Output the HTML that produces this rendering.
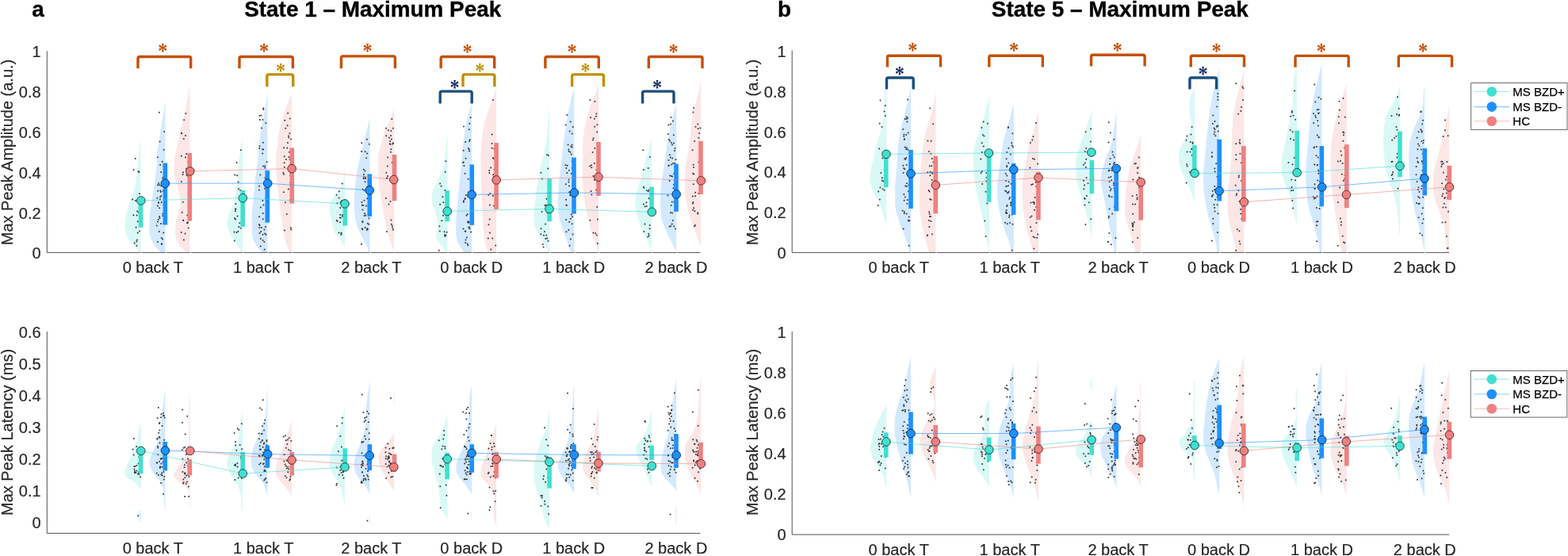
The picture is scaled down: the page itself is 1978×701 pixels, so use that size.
<!DOCTYPE html>
<html lang="en"><head><meta charset="utf-8"><title>State 1 and State 5 Maximum Peak</title>
<style>html,body{margin:0;padding:0;background:#fff}body{width:1978px;height:701px;overflow:hidden}svg{display:block}text{font-family:'Liberation Sans', Arial, Helvetica, sans-serif;fill:#262626}.t{font-size:20px;stroke:#262626;stroke-width:0.18px}.title{font-size:27.9px;font-weight:bold;fill:#000;stroke:#000;stroke-width:0.35px}.lg{font-size:15px;fill:#000;stroke:#000;stroke-width:0.25px}.star{font-family:"Liberation Serif",serif;font-size:27px;text-anchor:middle;font-weight:bold}.ax{stroke:#484848;stroke-width:0.95;fill:none}</style></head><body>
<svg width="1978" height="701" viewBox="0 0 1978 701">
<rect width="1978" height="701" fill="#fff"/>
<text x="48" y="21.2" class="title" text-anchor="middle">a</text>
<text x="989.6" y="21.2" class="title" text-anchor="middle">b</text>
<text x="470.2" y="21.2" class="title" text-anchor="middle">State 1 – Maximum Peak</text>
<text x="1412.8" y="21.2" class="title" text-anchor="middle">State 5 – Maximum Peak</text>
<path class="ax" d="M59.3 64.4 V318.4 H883.4"/>
<path class="ax" d="M59.3 418 V672.4 H883.4"/>
<path class="ax" d="M999.2 63.5 V318.4 H1828.1"/>
<path class="ax" d="M999.2 418 V674 H1828.1"/>
<g id="AT">
<g><path d="M177.6 173.3L177.6 173.3L177.4 174.3L177.3 175.3L177.1 176.3L177 177.3L176.8 178.3L176.7 179.3L176.6 180.3L176.5 181.3L176.3 182.3L176.2 183.3L176.1 184.3L176 185.3L175.9 186.3L175.8 187.3L175.7 188.3L175.6 189.3L175.5 190.3L175.5 191.3L175.4 192.3L175.3 193.3L175.2 194.3L175.1 195.3L175 196.3L174.9 197.3L174.8 198.3L174.7 199.3L174.7 200.3L174.6 201.3L174.5 202.3L174.4 203.3L174.3 204.3L174.2 205.3L174.1 206.3L174 207.3L173.9 208.3L173.8 209.3L173.7 210.3L173.6 211.3L173.5 212.3L173.4 213.3L173.3 214.3L173.2 215.3L173.1 216.3L173 217.3L172.9 218.3L172.7 219.3L172.6 220.3L172.5 221.3L172.3 222.3L172.2 223.3L172 224.3L171.9 225.3L171.7 226.3L171.6 227.3L171.4 228.3L171.2 229.3L171.1 230.3L170.9 231.3L170.7 232.3L170.5 233.3L170.3 234.3L170.1 235.3L169.9 236.3L169.6 237.3L169.4 238.3L169.1 239.3L168.8 240.3L168.5 241.3L168.2 242.3L167.8 243.3L167.5 244.3L167.1 245.3L166.7 246.3L166.3 247.3L166 248.3L165.6 249.3L165.2 250.3L164.8 251.3L164.5 252.3L164.1 253.3L163.8 254.3L163.5 255.3L163.2 256.3L162.9 257.3L162.6 258.3L162.2 259.3L161.9 260.3L161.6 261.3L161.3 262.3L161 263.3L160.7 264.3L160.4 265.3L160.1 266.3L159.9 267.3L159.6 268.3L159.4 269.3L159.1 270.3L158.9 271.3L158.7 272.3L158.5 273.3L158.3 274.3L158.2 275.3L158 276.3L157.8 277.3L157.7 278.3L157.6 279.3L157.4 280.3L157.3 281.3L157.3 282.3L157.2 283.3L157.3 284.3L157.3 285.3L157.4 286.3L157.5 287.3L157.7 288.3L157.9 289.3L158 290.3L158.2 291.3L158.5 292.3L158.7 293.3L159 294.3L159.3 295.3L159.7 296.3L160.1 297.3L160.6 298.3L161.1 299.3L161.7 300.3L162.2 301.3L162.8 302.3L163.5 303.3L164.3 304.3L165.2 305.3L166.1 306.3L167 307.3L168 308.3L168.9 309.3L169.8 310.3L170.6 311.3L171.4 312.3L172.1 313.3L172.8 314.3L173.4 315.3L174.1 316.3L174.7 317.3L175.2 318.1L177.6 318.1 Z" fill="#40e0d0" fill-opacity="0.2"/><path d="M208.7 125.4L208.7 125.4L208.6 126.4L208.5 127.4L208.4 128.4L208.2 129.4L208.1 130.4L208 131.4L207.8 132.4L207.7 133.4L207.5 134.4L207.4 135.4L207.3 136.4L207.1 137.4L207 138.4L206.8 139.4L206.7 140.4L206.5 141.4L206.4 142.4L206.2 143.4L206 144.4L205.9 145.4L205.7 146.4L205.6 147.4L205.4 148.4L205.2 149.4L205.1 150.4L204.9 151.4L204.7 152.4L204.5 153.4L204.3 154.4L204.1 155.4L204 156.4L203.8 157.4L203.6 158.4L203.4 159.4L203.2 160.4L203.1 161.4L202.9 162.4L202.7 163.4L202.6 164.4L202.4 165.4L202.3 166.4L202.2 167.4L202 168.4L201.9 169.4L201.8 170.4L201.6 171.4L201.5 172.4L201.4 173.4L201.2 174.4L201.1 175.4L200.9 176.4L200.8 177.4L200.6 178.4L200.5 179.4L200.3 180.4L200.1 181.4L199.9 182.4L199.7 183.4L199.5 184.4L199.3 185.4L199.1 186.4L199 187.4L198.8 188.4L198.7 189.4L198.6 190.4L198.5 191.4L198.5 192.4L198.4 193.4L198.4 194.4L198.4 195.4L198.4 196.4L198.3 197.4L198.3 198.4L198.3 199.4L198.2 200.4L198.2 201.4L198.1 202.4L198 203.4L198 204.4L197.9 205.4L197.8 206.4L197.7 207.4L197.6 208.4L197.5 209.4L197.4 210.4L197.3 211.4L197.2 212.4L197.1 213.4L197 214.4L196.9 215.4L196.8 216.4L196.7 217.4L196.6 218.4L196.5 219.4L196.4 220.4L196.2 221.4L196.1 222.4L196 223.4L195.8 224.4L195.7 225.4L195.6 226.4L195.4 227.4L195.3 228.4L195.1 229.4L195 230.4L194.8 231.4L194.7 232.4L194.5 233.4L194.4 234.4L194.2 235.4L194.1 236.4L193.9 237.4L193.8 238.4L193.6 239.4L193.5 240.4L193.3 241.4L193.2 242.4L193 243.4L192.9 244.4L192.7 245.4L192.6 246.4L192.4 247.4L192.3 248.4L192.1 249.4L192 250.4L191.8 251.4L191.7 252.4L191.5 253.4L191.4 254.4L191.2 255.4L191.1 256.4L190.9 257.4L190.8 258.4L190.6 259.4L190.4 260.4L190.3 261.4L190.1 262.4L189.9 263.4L189.8 264.4L189.6 265.4L189.5 266.4L189.3 267.4L189.2 268.4L189.1 269.4L189 270.4L188.9 271.4L188.8 272.4L188.8 273.4L188.8 274.4L188.8 275.4L188.7 276.4L188.7 277.4L188.7 278.4L188.7 279.4L188.7 280.4L188.7 281.4L188.6 282.4L188.6 283.4L188.6 284.4L188.6 285.4L188.6 286.4L188.6 287.4L188.6 288.4L188.6 289.4L188.6 290.4L188.6 291.4L188.6 292.4L188.6 293.4L188.7 294.4L188.9 295.4L189.1 296.4L189.4 297.4L189.7 298.4L190 299.4L190.4 300.4L190.8 301.4L191.1 302.4L191.6 303.4L192 304.4L192.6 305.4L193.2 306.4L193.8 307.4L194.5 308.4L195.2 309.4L195.9 310.4L196.6 311.4L197.4 312.4L198.3 313.4L199.2 314.4L200.1 315.4L201.2 316.4L202.2 317.4L203.1 318.1L208.7 318.1 Z" fill="#1e90ff" fill-opacity="0.2"/><path d="M239.7 105.7L239.7 105.7L239.5 106.7L239.4 107.7L239.2 108.7L239 109.7L238.8 110.7L238.7 111.7L238.5 112.7L238.3 113.7L238.1 114.7L237.9 115.7L237.8 116.7L237.6 117.7L237.4 118.7L237.2 119.7L237 120.7L236.8 121.7L236.6 122.7L236.5 123.7L236.3 124.7L236.1 125.7L235.9 126.7L235.7 127.7L235.5 128.7L235.3 129.7L235.1 130.7L234.9 131.7L234.7 132.7L234.6 133.7L234.4 134.7L234.2 135.7L234 136.7L233.8 137.7L233.6 138.7L233.4 139.7L233.2 140.7L233 141.7L232.8 142.7L232.6 143.7L232.4 144.7L232.2 145.7L232 146.7L231.7 147.7L231.5 148.7L231.3 149.7L231.1 150.7L230.8 151.7L230.6 152.7L230.3 153.7L230.1 154.7L229.8 155.7L229.5 156.7L229.3 157.7L229 158.7L228.7 159.7L228.5 160.7L228.2 161.7L228 162.7L227.7 163.7L227.5 164.7L227.3 165.7L227.1 166.7L226.8 167.7L226.6 168.7L226.4 169.7L226.2 170.7L226 171.7L225.8 172.7L225.6 173.7L225.5 174.7L225.3 175.7L225.1 176.7L224.9 177.7L224.7 178.7L224.5 179.7L224.3 180.7L224.1 181.7L223.9 182.7L223.7 183.7L223.4 184.7L223.2 185.7L222.9 186.7L222.7 187.7L222.4 188.7L222.1 189.7L221.9 190.7L221.6 191.7L221.4 192.7L221.1 193.7L220.9 194.7L220.7 195.7L220.5 196.7L220.4 197.7L220.2 198.7L220.1 199.7L220.1 200.7L220 201.7L219.9 202.7L219.9 203.7L219.8 204.7L219.8 205.7L219.7 206.7L219.7 207.7L219.6 208.7L219.6 209.7L219.5 210.7L219.5 211.7L219.5 212.7L219.4 213.7L219.4 214.7L219.4 215.7L219.4 216.7L219.4 217.7L219.4 218.7L219.4 219.7L219.6 220.7L219.8 221.7L220 222.7L220.3 223.7L220.6 224.7L221 225.7L221.3 226.7L221.6 227.7L221.8 228.7L222.1 229.7L222.4 230.7L222.7 231.7L223 232.7L223.4 233.7L223.7 234.7L224 235.7L224.3 236.7L224.5 237.7L224.8 238.7L225.1 239.7L225.4 240.7L225.7 241.7L226 242.7L226.3 243.7L226.5 244.7L226.7 245.7L226.8 246.7L227 247.7L227.1 248.7L227.3 249.7L227.4 250.7L227.5 251.7L227.6 252.7L227.7 253.7L227.7 254.7L227.7 255.7L227.7 256.7L227.6 257.7L227.5 258.7L227.3 259.7L227.1 260.7L226.9 261.7L226.7 262.7L226.5 263.7L226.3 264.7L226.1 265.7L225.8 266.7L225.5 267.7L225.2 268.7L224.8 269.7L224.5 270.7L224.2 271.7L223.9 272.7L223.6 273.7L223.3 274.7L223.1 275.7L222.8 276.7L222.6 277.7L222.4 278.7L222.2 279.7L222 280.7L221.8 281.7L221.7 282.7L221.6 283.7L221.5 284.7L221.4 285.7L221.3 286.7L221.2 287.7L221.2 288.7L221.1 289.7L221.1 290.7L221.1 291.7L221 292.7L221.1 293.7L221.1 294.7L221.2 295.7L221.4 296.7L221.5 297.7L221.7 298.7L222 299.7L222.2 300.7L222.4 301.7L222.7 302.7L223.1 303.7L223.6 304.7L224.1 305.7L224.7 306.7L225.4 307.7L226.1 308.7L226.9 309.7L227.6 310.7L228.4 311.7L229.3 312.7L230.3 313.7L231.3 314.7L232.5 315.7L233.7 316.7L234.9 317.7L235.5 318.1L239.7 318.1 Z" fill="#f08080" fill-opacity="0.2"/><path d="M306.1 171.6L306.1 171.6L306 172.6L305.9 173.6L305.8 174.6L305.6 175.6L305.5 176.6L305.4 177.6L305.2 178.6L305.1 179.6L305 180.6L304.8 181.6L304.7 182.6L304.5 183.6L304.4 184.6L304.2 185.6L304 186.6L303.8 187.6L303.6 188.6L303.4 189.6L303.2 190.6L303 191.6L302.9 192.6L302.7 193.6L302.5 194.6L302.3 195.6L302.2 196.6L302 197.6L301.9 198.6L301.8 199.6L301.7 200.6L301.6 201.6L301.5 202.6L301.4 203.6L301.3 204.6L301.3 205.6L301.2 206.6L301.1 207.6L301.1 208.6L301 209.6L300.9 210.6L300.9 211.6L300.8 212.6L300.8 213.6L300.7 214.6L300.6 215.6L300.6 216.6L300.5 217.6L300.4 218.6L300.3 219.6L300.2 220.6L300.2 221.6L300.1 222.6L300 223.6L299.9 224.6L299.8 225.6L299.7 226.6L299.6 227.6L299.5 228.6L299.4 229.6L299.3 230.6L299.2 231.6L299.1 232.6L299 233.6L298.9 234.6L298.8 235.6L298.6 236.6L298.5 237.6L298.4 238.6L298.2 239.6L298.1 240.6L297.9 241.6L297.7 242.6L297.6 243.6L297.4 244.6L297.2 245.6L297 246.6L296.8 247.6L296.6 248.6L296.4 249.6L296.1 250.6L295.9 251.6L295.7 252.6L295.4 253.6L295.1 254.6L294.9 255.6L294.6 256.6L294.2 257.6L293.8 258.6L293.4 259.6L293 260.6L292.6 261.6L292.1 262.6L291.7 263.6L291.3 264.6L290.9 265.6L290.4 266.6L289.9 267.6L289.5 268.6L289 269.6L288.6 270.6L288.2 271.6L287.8 272.6L287.5 273.6L287.4 274.6L287.2 275.6L287.1 276.6L286.9 277.6L286.8 278.6L286.7 279.6L286.6 280.6L286.6 281.6L286.5 282.6L286.5 283.6L286.6 284.6L286.7 285.6L287 286.6L287.3 287.6L287.6 288.6L288 289.6L288.4 290.6L288.8 291.6L289.2 292.6L289.7 293.6L290.2 294.6L290.7 295.6L291.3 296.6L291.9 297.6L292.6 298.6L293.3 299.6L293.9 300.6L294.6 301.6L295.2 302.6L295.9 303.6L296.5 304.6L297.2 305.6L297.9 306.6L298.6 307.6L299.3 308.6L299.9 309.6L300.5 310.6L301.1 311.6L301.7 312.6L302.3 313.6L302.8 314.6L303.4 315.6L303.9 316.6L304.4 317.6L304.7 318.1L306.1 318.1 Z" fill="#40e0d0" fill-opacity="0.2"/><path d="M337.6 115.9L337.6 115.9L337.5 116.9L337.3 117.9L337.1 118.9L337 119.9L336.8 120.9L336.6 121.9L336.5 122.9L336.3 123.9L336.1 124.9L336 125.9L335.8 126.9L335.7 127.9L335.5 128.9L335.3 129.9L335.2 130.9L335 131.9L334.9 132.9L334.7 133.9L334.6 134.9L334.4 135.9L334.3 136.9L334.2 137.9L334 138.9L333.9 139.9L333.7 140.9L333.6 141.9L333.4 142.9L333.3 143.9L333.1 144.9L333 145.9L332.8 146.9L332.6 147.9L332.5 148.9L332.3 149.9L332.1 150.9L331.9 151.9L331.7 152.9L331.5 153.9L331.3 154.9L331.1 155.9L330.9 156.9L330.7 157.9L330.4 158.9L330.2 159.9L330 160.9L329.8 161.9L329.6 162.9L329.4 163.9L329.2 164.9L329.1 165.9L328.9 166.9L328.7 167.9L328.6 168.9L328.4 169.9L328.2 170.9L328 171.9L327.9 172.9L327.7 173.9L327.6 174.9L327.4 175.9L327.3 176.9L327.1 177.9L327 178.9L326.9 179.9L326.7 180.9L326.6 181.9L326.5 182.9L326.5 183.9L326.4 184.9L326.3 185.9L326.3 186.9L326.2 187.9L326.1 188.9L326.1 189.9L326 190.9L326 191.9L325.9 192.9L325.9 193.9L325.8 194.9L325.7 195.9L325.7 196.9L325.6 197.9L325.5 198.9L325.5 199.9L325.4 200.9L325.3 201.9L325.1 202.9L325 203.9L324.9 204.9L324.7 205.9L324.6 206.9L324.4 207.9L324.3 208.9L324.1 209.9L324 210.9L323.8 211.9L323.7 212.9L323.5 213.9L323.3 214.9L323.2 215.9L323.1 216.9L322.9 217.9L322.8 218.9L322.7 219.9L322.6 220.9L322.4 221.9L322.3 222.9L322.2 223.9L322.1 224.9L322 225.9L321.9 226.9L321.8 227.9L321.7 228.9L321.5 229.9L321.4 230.9L321.3 231.9L321.2 232.9L321.1 233.9L321 234.9L320.9 235.9L320.8 236.9L320.7 237.9L320.6 238.9L320.5 239.9L320.4 240.9L320.3 241.9L320.3 242.9L320.2 243.9L320.1 244.9L320 245.9L319.9 246.9L319.8 247.9L319.7 248.9L319.6 249.9L319.5 250.9L319.5 251.9L319.4 252.9L319.3 253.9L319.2 254.9L319.1 255.9L319 256.9L318.9 257.9L318.8 258.9L318.7 259.9L318.6 260.9L318.5 261.9L318.4 262.9L318.3 263.9L318.2 264.9L318.1 265.9L318 266.9L317.9 267.9L317.9 268.9L317.8 269.9L317.7 270.9L317.7 271.9L317.7 272.9L317.7 273.9L317.7 274.9L317.7 275.9L317.7 276.9L317.7 277.9L317.7 278.9L317.7 279.9L317.7 280.9L317.7 281.9L317.7 282.9L317.7 283.9L317.7 284.9L317.7 285.9L317.7 286.9L317.7 287.9L317.7 288.9L317.7 289.9L317.7 290.9L317.7 291.9L317.7 292.9L317.7 293.9L317.8 294.9L318 295.9L318.2 296.9L318.4 297.9L318.6 298.9L318.9 299.9L319.2 300.9L319.5 301.9L319.8 302.9L320.2 303.9L320.7 304.9L321.2 305.9L321.7 306.9L322.3 307.9L323 308.9L323.6 309.9L324.3 310.9L325 311.9L325.8 312.9L326.7 313.9L327.6 314.9L328.7 315.9L329.7 316.9L330.8 317.9L331 318.1L337.6 318.1 Z" fill="#1e90ff" fill-opacity="0.2"/><path d="M368.2 117.7L368.2 117.7L367.8 118.7L367.3 119.7L366.9 120.7L366.5 121.7L366 122.7L365.6 123.7L365.2 124.7L364.8 125.7L364.4 126.7L364 127.7L363.6 128.7L363.2 129.7L362.8 130.7L362.4 131.7L362 132.7L361.6 133.7L361.3 134.7L360.9 135.7L360.5 136.7L360.1 137.7L359.8 138.7L359.4 139.7L359.1 140.7L358.7 141.7L358.4 142.7L358 143.7L357.7 144.7L357.4 145.7L357.1 146.7L356.8 147.7L356.5 148.7L356.2 149.7L355.9 150.7L355.6 151.7L355.3 152.7L355 153.7L354.7 154.7L354.5 155.7L354.2 156.7L353.9 157.7L353.7 158.7L353.4 159.7L353.2 160.7L353 161.7L352.8 162.7L352.6 163.7L352.4 164.7L352.2 165.7L352.1 166.7L351.9 167.7L351.8 168.7L351.7 169.7L351.5 170.7L351.4 171.7L351.3 172.7L351.2 173.7L351.1 174.7L351 175.7L350.9 176.7L350.8 177.7L350.6 178.7L350.5 179.7L350.4 180.7L350.3 181.7L350.2 182.7L350.1 183.7L349.9 184.7L349.8 185.7L349.6 186.7L349.5 187.7L349.3 188.7L349.1 189.7L349 190.7L348.8 191.7L348.7 192.7L348.5 193.7L348.4 194.7L348.3 195.7L348.2 196.7L348.1 197.7L348.1 198.7L348.1 199.7L348.1 200.7L348.1 201.7L348.1 202.7L348.1 203.7L348.1 204.7L348.1 205.7L348.2 206.7L348.2 207.7L348.2 208.7L348.3 209.7L348.3 210.7L348.3 211.7L348.4 212.7L348.4 213.7L348.5 214.7L348.5 215.7L348.5 216.7L348.6 217.7L348.6 218.7L348.7 219.7L348.8 220.7L348.8 221.7L348.9 222.7L349 223.7L349.1 224.7L349.2 225.7L349.3 226.7L349.4 227.7L349.5 228.7L349.6 229.7L349.7 230.7L349.9 231.7L350 232.7L350.1 233.7L350.2 234.7L350.3 235.7L350.4 236.7L350.5 237.7L350.7 238.7L350.8 239.7L350.9 240.7L351 241.7L351.1 242.7L351.2 243.7L351.4 244.7L351.5 245.7L351.6 246.7L351.7 247.7L351.8 248.7L352 249.7L352.1 250.7L352.2 251.7L352.3 252.7L352.5 253.7L352.6 254.7L352.7 255.7L352.8 256.7L353 257.7L353.1 258.7L353.2 259.7L353.3 260.7L353.5 261.7L353.6 262.7L353.7 263.7L353.8 264.7L354 265.7L354.1 266.7L354.2 267.7L354.4 268.7L354.5 269.7L354.6 270.7L354.8 271.7L354.9 272.7L355 273.7L355.2 274.7L355.3 275.7L355.5 276.7L355.6 277.7L355.7 278.7L355.9 279.7L356 280.7L356.1 281.7L356.3 282.7L356.4 283.7L356.6 284.7L356.7 285.7L356.9 286.7L357 287.7L357.2 288.7L357.4 289.7L357.5 290.7L357.7 291.7L357.9 292.7L358.1 293.7L358.3 294.7L358.5 295.7L358.7 296.7L358.8 297.7L359.1 298.7L359.3 299.7L359.5 300.7L359.7 301.7L359.9 302.7L360.2 303.7L360.4 304.7L360.7 305.7L361 306.7L361.3 307.7L361.6 308.7L362 309.7L362.3 310.7L362.7 311.7L363.1 312.7L363.7 313.7L364.3 314.7L364.9 315.7L365.6 316.7L366.3 317.7L366.6 318.1L368.2 318.1 Z" fill="#f08080" fill-opacity="0.2"/><path d="M435.2 198.1L435.2 198.1L435.2 199.1L435.2 200.1L435.2 201.1L435.2 202.1L435.2 203.1L435.2 204.1L435.2 205.1L435.2 206.1L435.2 207.1L435.2 208.1L435.2 209.1L435.2 210.1L435.1 211.1L435 212.1L434.8 213.1L434.6 214.1L434.5 215.1L434.3 216.1L434.1 217.1L434 218.1L433.9 219.1L433.8 220.1L433.7 221.1L433.7 222.1L433.6 223.1L433.5 224.1L433.4 225.1L433.4 226.1L433.3 227.1L433.1 228.1L433 229.1L432.7 230.1L432.5 231.1L432.1 232.1L431.7 233.1L431.3 234.1L430.8 235.1L430.4 236.1L429.8 237.1L429.1 238.1L428.4 239.1L427.6 240.1L426.9 241.1L426.1 242.1L425.3 243.1L424.6 244.1L423.8 245.1L423 246.1L422.2 247.1L421.4 248.1L420.6 249.1L419.9 250.1L419.1 251.1L418.3 252.1L417.6 253.1L416.9 254.1L416.5 255.1L416.2 256.1L416 257.1L415.8 258.1L415.7 259.1L415.5 260.1L415.4 261.1L415.3 262.1L415.3 263.1L415.2 264.1L415.2 265.1L415.3 266.1L415.5 267.1L415.7 268.1L416 269.1L416.3 270.1L416.7 271.1L417 272.1L417.3 273.1L417.6 274.1L417.8 275.1L418 276.1L418.2 277.1L418.4 278.1L418.6 279.1L418.8 280.1L419 281.1L419.2 282.1L419.4 283.1L419.6 284.1L419.9 285.1L420.1 286.1L420.4 287.1L420.7 288.1L421 289.1L421.3 290.1L421.6 291.1L422 292.1L422.4 293.1L422.9 294.1L423.6 295.1L424.2 296.1L425 297.1L425.8 298.1L426.5 299.1L427.3 300.1L428.1 301.1L428.8 302.1L429.5 303.1L430.2 304.1L430.9 305.1L431.6 306.1L432.3 307.1L433 308.1L433.7 309.1L434.4 310.1L435.1 311.1L435.2 311.3L435.2 311.3 Z" fill="#40e0d0" fill-opacity="0.2"/><path d="M466.7 147.6L466.7 147.6L466.5 148.6L466.2 149.6L466 150.6L465.8 151.6L465.6 152.6L465.3 153.6L465.1 154.6L464.9 155.6L464.6 156.6L464.4 157.6L464.1 158.6L463.9 159.6L463.7 160.6L463.4 161.6L463.2 162.6L463 163.6L462.7 164.6L462.5 165.6L462.2 166.6L462 167.6L461.7 168.6L461.5 169.6L461.2 170.6L461 171.6L460.7 172.6L460.5 173.6L460.2 174.6L460 175.6L459.7 176.6L459.5 177.6L459.2 178.6L459 179.6L458.7 180.6L458.5 181.6L458.2 182.6L458 183.6L457.7 184.6L457.4 185.6L457.2 186.6L456.9 187.6L456.7 188.6L456.4 189.6L456.1 190.6L455.9 191.6L455.6 192.6L455.3 193.6L455.1 194.6L454.8 195.6L454.6 196.6L454.3 197.6L454.1 198.6L453.9 199.6L453.6 200.6L453.4 201.6L453.2 202.6L453 203.6L452.8 204.6L452.5 205.6L452.3 206.6L452.1 207.6L451.9 208.6L451.7 209.6L451.5 210.6L451.3 211.6L451.1 212.6L450.9 213.6L450.7 214.6L450.5 215.6L450.4 216.6L450.2 217.6L450.1 218.6L449.9 219.6L449.8 220.6L449.6 221.6L449.5 222.6L449.3 223.6L449.2 224.6L449.1 225.6L448.9 226.6L448.8 227.6L448.7 228.6L448.6 229.6L448.5 230.6L448.4 231.6L448.3 232.6L448.2 233.6L448.1 234.6L448 235.6L447.9 236.6L447.8 237.6L447.7 238.6L447.6 239.6L447.6 240.6L447.5 241.6L447.4 242.6L447.3 243.6L447.2 244.6L447.2 245.6L447.1 246.6L447 247.6L447 248.6L446.9 249.6L446.9 250.6L446.8 251.6L446.8 252.6L446.8 253.6L446.7 254.6L446.7 255.6L446.7 256.6L446.7 257.6L446.8 258.6L446.8 259.6L446.8 260.6L446.9 261.6L446.9 262.6L447 263.6L447 264.6L447.1 265.6L447.2 266.6L447.2 267.6L447.3 268.6L447.4 269.6L447.5 270.6L447.6 271.6L447.7 272.6L447.8 273.6L447.9 274.6L448 275.6L448.2 276.6L448.4 277.6L448.7 278.6L448.9 279.6L449.2 280.6L449.5 281.6L449.8 282.6L450.1 283.6L450.4 284.6L450.8 285.6L451.2 286.6L451.6 287.6L452 288.6L452.4 289.6L452.8 290.6L453.3 291.6L453.7 292.6L454.2 293.6L454.7 294.6L455.1 295.6L455.7 296.6L456.2 297.6L456.7 298.6L457.2 299.6L457.7 300.6L458.2 301.6L458.7 302.6L459.2 303.6L459.8 304.6L460.3 305.6L460.9 306.6L461.4 307.6L461.9 308.6L462.3 309.6L462.8 310.6L463.2 311.6L463.6 312.6L463.9 313.6L464.3 314.6L464.6 315.6L464.9 316.6L465.1 317.6L465.3 318.1L466.7 318.1 Z" fill="#1e90ff" fill-opacity="0.2"/><path d="M497.3 133.1L497.3 133.1L497.1 134.1L496.9 135.1L496.7 136.1L496.5 137.1L496.3 138.1L496 139.1L495.8 140.1L495.5 141.1L495.2 142.1L495 143.1L494.7 144.1L494.4 145.1L494.1 146.1L493.7 147.1L493.4 148.1L493.1 149.1L492.7 150.1L492.3 151.1L491.9 152.1L491.4 153.1L491 154.1L490.5 155.1L490 156.1L489.5 157.1L489 158.1L488.5 159.1L488 160.1L487.5 161.1L487 162.1L486.6 163.1L486.2 164.1L485.8 165.1L485.4 166.1L485.1 167.1L484.7 168.1L484.4 169.1L484 170.1L483.7 171.1L483.4 172.1L483.1 173.1L482.8 174.1L482.5 175.1L482.2 176.1L481.9 177.1L481.6 178.1L481.4 179.1L481.1 180.1L480.9 181.1L480.6 182.1L480.4 183.1L480.1 184.1L479.8 185.1L479.6 186.1L479.3 187.1L479 188.1L478.8 189.1L478.5 190.1L478.3 191.1L478 192.1L477.8 193.1L477.6 194.1L477.4 195.1L477.3 196.1L477.1 197.1L477 198.1L477 199.1L477 200.1L477 201.1L477 202.1L477 203.1L477 204.1L477 205.1L477 206.1L477 207.1L477 208.1L477.1 209.1L477.1 210.1L477.1 211.1L477.1 212.1L477.2 213.1L477.2 214.1L477.2 215.1L477.3 216.1L477.3 217.1L477.3 218.1L477.3 219.1L477.4 220.1L477.4 221.1L477.5 222.1L477.5 223.1L477.6 224.1L477.7 225.1L477.8 226.1L477.8 227.1L477.9 228.1L478 229.1L478.1 230.1L478.2 231.1L478.3 232.1L478.4 233.1L478.5 234.1L478.6 235.1L478.7 236.1L478.8 237.1L478.9 238.1L479 239.1L479.2 240.1L479.3 241.1L479.4 242.1L479.6 243.1L479.7 244.1L479.9 245.1L480 246.1L480.2 247.1L480.3 248.1L480.5 249.1L480.7 250.1L480.8 251.1L481 252.1L481.2 253.1L481.3 254.1L481.5 255.1L481.7 256.1L481.8 257.1L482 258.1L482.2 259.1L482.3 260.1L482.5 261.1L482.7 262.1L482.9 263.1L483 264.1L483.2 265.1L483.4 266.1L483.6 267.1L483.8 268.1L483.9 269.1L484.1 270.1L484.3 271.1L484.5 272.1L484.7 273.1L484.9 274.1L485.1 275.1L485.3 276.1L485.5 277.1L485.7 278.1L485.9 279.1L486.1 280.1L486.3 281.1L486.5 282.1L486.8 283.1L487 284.1L487.2 285.1L487.4 286.1L487.6 287.1L487.9 288.1L488.1 289.1L488.3 290.1L488.6 291.1L488.8 292.1L489.1 293.1L489.4 294.1L489.7 295.1L489.9 296.1L490.2 297.1L490.6 298.1L490.9 299.1L491.2 300.1L491.5 301.1L491.8 302.1L492.1 303.1L492.4 304.1L492.8 305.1L493.1 306.1L493.4 307.1L493.7 308.1L494.1 309.1L494.5 310.1L494.9 311.1L495.3 312.1L495.8 313.1L496.3 314.1L496.8 315.1L497.3 315.9L497.3 315.9 Z" fill="#f08080" fill-opacity="0.2"/><path d="M564.6 167.3L564.6 167.3L564.5 168.3L564.3 169.3L564.2 170.3L564 171.3L563.9 172.3L563.8 173.3L563.6 174.3L563.5 175.3L563.4 176.3L563.2 177.3L563.1 178.3L563 179.3L562.9 180.3L562.8 181.3L562.7 182.3L562.5 183.3L562.4 184.3L562.3 185.3L562.2 186.3L562.2 187.3L562.1 188.3L562 189.3L561.9 190.3L561.8 191.3L561.7 192.3L561.6 193.3L561.6 194.3L561.5 195.3L561.4 196.3L561.3 197.3L561.2 198.3L561.1 199.3L560.9 200.3L560.8 201.3L560.7 202.3L560.5 203.3L560.4 204.3L560.2 205.3L560.1 206.3L559.9 207.3L559.7 208.3L559.5 209.3L559.3 210.3L559 211.3L558.8 212.3L558.5 213.3L558.2 214.3L557.9 215.3L557.5 216.3L557.2 217.3L556.8 218.3L556.4 219.3L556 220.3L555.5 221.3L555 222.3L554.5 223.3L553.9 224.3L553.4 225.3L552.9 226.3L552.3 227.3L551.8 228.3L551.3 229.3L550.8 230.3L550.2 231.3L549.7 232.3L549.2 233.3L548.7 234.3L548.2 235.3L547.7 236.3L547.4 237.3L547 238.3L546.6 239.3L546.2 240.3L545.8 241.3L545.4 242.3L545.1 243.3L544.9 244.3L544.7 245.3L544.7 246.3L544.7 247.3L544.7 248.3L544.7 249.3L544.7 250.3L544.8 251.3L544.8 252.3L544.9 253.3L544.9 254.3L545 255.3L545.1 256.3L545.3 257.3L545.6 258.3L546 259.3L546.4 260.3L546.9 261.3L547.3 262.3L547.7 263.3L548.1 264.3L548.5 265.3L548.8 266.3L549.2 267.3L549.5 268.3L549.8 269.3L550.1 270.3L550.4 271.3L550.7 272.3L551 273.3L551.2 274.3L551.4 275.3L551.6 276.3L551.7 277.3L551.9 278.3L552.1 279.3L552.2 280.3L552.3 281.3L552.4 282.3L552.4 283.3L552.4 284.3L552.4 285.3L552.3 286.3L552.1 287.3L552 288.3L551.8 289.3L551.6 290.3L551.4 291.3L551.2 292.3L551 293.3L550.7 294.3L550.4 295.3L550.1 296.3L549.9 297.3L549.8 298.3L550 299.3L550.3 300.3L550.8 301.3L551.5 302.3L552.2 303.3L552.9 304.3L553.6 305.3L554.3 306.3L555.1 307.3L556 308.3L556.9 309.3L557.8 310.3L558.6 311.3L559.3 312.3L560 313.3L560.7 314.3L561.4 315.3L562.1 316.3L562.7 317.3L563.2 318.1L564.6 318.1 Z" fill="#40e0d0" fill-opacity="0.2"/><path d="M595.2 129.6L595.2 129.6L594.9 130.6L594.6 131.6L594.3 132.6L594 133.6L593.7 134.6L593.4 135.6L593.1 136.6L592.8 137.6L592.5 138.6L592.2 139.6L592 140.6L591.7 141.6L591.4 142.6L591.2 143.6L590.9 144.6L590.7 145.6L590.4 146.6L590.2 147.6L590 148.6L589.7 149.6L589.5 150.6L589.3 151.6L589.1 152.6L588.8 153.6L588.6 154.6L588.4 155.6L588.2 156.6L588 157.6L587.8 158.6L587.6 159.6L587.5 160.6L587.3 161.6L587.1 162.6L586.9 163.6L586.7 164.6L586.6 165.6L586.4 166.6L586.2 167.6L586 168.6L585.9 169.6L585.7 170.6L585.5 171.6L585.4 172.6L585.2 173.6L585.1 174.6L584.9 175.6L584.8 176.6L584.6 177.6L584.5 178.6L584.4 179.6L584.2 180.6L584.1 181.6L584 182.6L583.9 183.6L583.8 184.6L583.7 185.6L583.6 186.6L583.6 187.6L583.5 188.6L583.4 189.6L583.4 190.6L583.3 191.6L583.2 192.6L583.1 193.6L583.1 194.6L583 195.6L582.9 196.6L582.9 197.6L582.8 198.6L582.7 199.6L582.6 200.6L582.5 201.6L582.4 202.6L582.3 203.6L582.2 204.6L582.1 205.6L582 206.6L581.9 207.6L581.8 208.6L581.7 209.6L581.6 210.6L581.5 211.6L581.4 212.6L581.3 213.6L581.2 214.6L581.1 215.6L581 216.6L580.9 217.6L580.8 218.6L580.7 219.6L580.6 220.6L580.5 221.6L580.4 222.6L580.3 223.6L580.2 224.6L580.1 225.6L580 226.6L579.9 227.6L579.8 228.6L579.7 229.6L579.6 230.6L579.5 231.6L579.4 232.6L579.3 233.6L579.2 234.6L579.1 235.6L579 236.6L578.9 237.6L578.8 238.6L578.7 239.6L578.6 240.6L578.5 241.6L578.4 242.6L578.3 243.6L578.2 244.6L578.1 245.6L578 246.6L577.9 247.6L577.8 248.6L577.7 249.6L577.6 250.6L577.5 251.6L577.4 252.6L577.3 253.6L577.2 254.6L577.1 255.6L577 256.6L576.9 257.6L576.8 258.6L576.7 259.6L576.6 260.6L576.5 261.6L576.4 262.6L576.3 263.6L576.3 264.6L576.2 265.6L576.1 266.6L576 267.6L575.9 268.6L575.9 269.6L575.8 270.6L575.7 271.6L575.7 272.6L575.6 273.6L575.6 274.6L575.6 275.6L575.5 276.6L575.5 277.6L575.5 278.6L575.5 279.6L575.4 280.6L575.4 281.6L575.4 282.6L575.4 283.6L575.3 284.6L575.3 285.6L575.3 286.6L575.3 287.6L575.3 288.6L575.3 289.6L575.3 290.6L575.3 291.6L575.2 292.6L575.3 293.6L575.3 294.6L575.4 295.6L575.4 296.6L575.6 297.6L575.7 298.6L575.8 299.6L576 300.6L576.1 301.6L576.3 302.6L576.6 303.6L577 304.6L577.5 305.6L578 306.6L578.6 307.6L579.2 308.6L579.8 309.6L580.4 310.6L581 311.6L581.6 312.6L582.3 313.6L582.9 314.6L583.6 315.6L584.3 316.6L585.1 317.6L585.4 318.1L595.2 318.1 Z" fill="#1e90ff" fill-opacity="0.2"/><path d="M626.4 109.1L626.4 109.1L626.1 110.1L625.7 111.1L625.4 112.1L625.1 113.1L624.8 114.1L624.5 115.1L624.1 116.1L623.8 117.1L623.5 118.1L623.2 119.1L622.8 120.1L622.5 121.1L622.2 122.1L621.9 123.1L621.5 124.1L621.2 125.1L620.9 126.1L620.5 127.1L620.2 128.1L619.9 129.1L619.5 130.1L619.2 131.1L618.8 132.1L618.5 133.1L618.1 134.1L617.8 135.1L617.4 136.1L617 137.1L616.6 138.1L616.3 139.1L615.9 140.1L615.5 141.1L615.2 142.1L614.8 143.1L614.5 144.1L614.1 145.1L613.8 146.1L613.5 147.1L613.2 148.1L612.9 149.1L612.7 150.1L612.4 151.1L612.1 152.1L611.9 153.1L611.6 154.1L611.3 155.1L611.1 156.1L610.9 157.1L610.6 158.1L610.4 159.1L610.2 160.1L610 161.1L609.8 162.1L609.6 163.1L609.4 164.1L609.2 165.1L609.1 166.1L608.9 167.1L608.8 168.1L608.6 169.1L608.5 170.1L608.3 171.1L608.2 172.1L608.1 173.1L608 174.1L607.8 175.1L607.7 176.1L607.6 177.1L607.5 178.1L607.4 179.1L607.3 180.1L607.2 181.1L607.2 182.1L607.1 183.1L607 184.1L606.9 185.1L606.9 186.1L606.8 187.1L606.7 188.1L606.7 189.1L606.6 190.1L606.5 191.1L606.5 192.1L606.4 193.1L606.4 194.1L606.3 195.1L606.3 196.1L606.3 197.1L606.2 198.1L606.2 199.1L606.2 200.1L606.2 201.1L606.2 202.1L606.2 203.1L606.2 204.1L606.2 205.1L606.2 206.1L606.3 207.1L606.3 208.1L606.3 209.1L606.3 210.1L606.3 211.1L606.3 212.1L606.3 213.1L606.3 214.1L606.4 215.1L606.4 216.1L606.4 217.1L606.4 218.1L606.4 219.1L606.4 220.1L606.5 221.1L606.5 222.1L606.5 223.1L606.6 224.1L606.6 225.1L606.6 226.1L606.7 227.1L606.7 228.1L606.8 229.1L606.8 230.1L606.9 231.1L606.9 232.1L607 233.1L607 234.1L607.1 235.1L607.1 236.1L607.1 237.1L607.2 238.1L607.2 239.1L607.3 240.1L607.3 241.1L607.4 242.1L607.4 243.1L607.5 244.1L607.5 245.1L607.6 246.1L607.6 247.1L607.7 248.1L607.7 249.1L607.8 250.1L607.8 251.1L607.9 252.1L607.9 253.1L608 254.1L608 255.1L608.1 256.1L608.1 257.1L608.2 258.1L608.2 259.1L608.3 260.1L608.3 261.1L608.4 262.1L608.4 263.1L608.5 264.1L608.5 265.1L608.6 266.1L608.6 267.1L608.7 268.1L608.7 269.1L608.8 270.1L608.8 271.1L608.9 272.1L608.9 273.1L609 274.1L609.1 275.1L609.1 276.1L609.2 277.1L609.2 278.1L609.3 279.1L609.3 280.1L609.4 281.1L609.4 282.1L609.5 283.1L609.5 284.1L609.6 285.1L609.7 286.1L609.7 287.1L609.8 288.1L609.9 289.1L609.9 290.1L610 291.1L610.1 292.1L610.1 293.1L610.2 294.1L610.3 295.1L610.4 296.1L610.5 297.1L610.6 298.1L610.7 299.1L610.8 300.1L610.9 301.1L611.1 302.1L611.2 303.1L611.4 304.1L611.6 305.1L611.8 306.1L612.1 307.1L612.3 308.1L612.6 309.1L612.9 310.1L613.2 311.1L613.5 312.1L613.9 313.1L614.3 314.1L614.7 315.1L615.1 316.1L615.6 317.1L616 318.1L616 318.1L626.4 318.1 Z" fill="#f08080" fill-opacity="0.2"/><path d="M693.3 131.3L693.3 131.3L693.2 132.3L693.1 133.3L693 134.3L692.9 135.3L692.8 136.3L692.7 137.3L692.6 138.3L692.5 139.3L692.4 140.3L692.3 141.3L692.2 142.3L692.1 143.3L692 144.3L691.9 145.3L691.8 146.3L691.8 147.3L691.7 148.3L691.6 149.3L691.5 150.3L691.4 151.3L691.4 152.3L691.3 153.3L691.3 154.3L691.2 155.3L691.1 156.3L691.1 157.3L691 158.3L690.9 159.3L690.9 160.3L690.8 161.3L690.7 162.3L690.7 163.3L690.6 164.3L690.5 165.3L690.4 166.3L690.3 167.3L690.2 168.3L690.1 169.3L690 170.3L689.9 171.3L689.7 172.3L689.6 173.3L689.5 174.3L689.3 175.3L689.2 176.3L689.1 177.3L688.9 178.3L688.8 179.3L688.6 180.3L688.5 181.3L688.3 182.3L688.1 183.3L688 184.3L687.8 185.3L687.6 186.3L687.4 187.3L687.2 188.3L686.9 189.3L686.7 190.3L686.5 191.3L686.3 192.3L686 193.3L685.8 194.3L685.5 195.3L685.3 196.3L685.1 197.3L684.8 198.3L684.6 199.3L684.4 200.3L684.2 201.3L684 202.3L683.7 203.3L683.5 204.3L683.3 205.3L683.1 206.3L682.8 207.3L682.6 208.3L682.4 209.3L682.2 210.3L681.9 211.3L681.7 212.3L681.5 213.3L681.3 214.3L681.1 215.3L680.9 216.3L680.7 217.3L680.5 218.3L680.3 219.3L680.2 220.3L680 221.3L679.8 222.3L679.6 223.3L679.4 224.3L679.2 225.3L679 226.3L678.8 227.3L678.6 228.3L678.4 229.3L678.2 230.3L677.9 231.3L677.7 232.3L677.5 233.3L677.3 234.3L677.1 235.3L677 236.3L676.8 237.3L676.7 238.3L676.6 239.3L676.5 240.3L676.4 241.3L676.3 242.3L676.2 243.3L676.1 244.3L676 245.3L675.9 246.3L675.8 247.3L675.7 248.3L675.6 249.3L675.5 250.3L675.4 251.3L675.3 252.3L675.1 253.3L675 254.3L674.8 255.3L674.7 256.3L674.5 257.3L674.4 258.3L674.3 259.3L674.2 260.3L674.1 261.3L674 262.3L673.9 263.3L673.8 264.3L673.7 265.3L673.6 266.3L673.5 267.3L673.4 268.3L673.4 269.3L673.3 270.3L673.2 271.3L673.2 272.3L673.2 273.3L673.2 274.3L673.2 275.3L673.2 276.3L673.3 277.3L673.3 278.3L673.4 279.3L673.5 280.3L673.6 281.3L673.8 282.3L673.9 283.3L674.1 284.3L674.3 285.3L674.7 286.3L675 287.3L675.5 288.3L676 289.3L676.4 290.3L676.9 291.3L677.4 292.3L677.9 293.3L678.5 294.3L679 295.3L679.6 296.3L680.3 297.3L680.9 298.3L681.5 299.3L682.2 300.3L682.8 301.3L683.4 302.3L684 303.3L684.6 304.3L685.3 305.3L685.9 306.3L686.5 307.3L687.1 308.3L687.7 309.3L688.3 310.3L688.8 311.3L689.3 312.3L689.8 313.3L690.3 314.3L690.7 315.3L691.2 316.3L691.6 317.3L691.9 318.1L693.3 318.1 Z" fill="#40e0d0" fill-opacity="0.2"/><path d="M724.5 110L724.5 110L724.2 111L723.9 112L723.6 113L723.4 114L723.1 115L722.8 116L722.6 117L722.3 118L722 119L721.8 120L721.5 121L721.3 122L721 123L720.8 124L720.5 125L720.3 126L720.1 127L719.8 128L719.6 129L719.4 130L719.1 131L718.9 132L718.7 133L718.5 134L718.3 135L718.1 136L717.9 137L717.6 138L717.4 139L717.2 140L717.1 141L716.9 142L716.7 143L716.5 144L716.3 145L716.1 146L715.9 147L715.7 148L715.5 149L715.4 150L715.2 151L715 152L714.8 153L714.6 154L714.5 155L714.3 156L714.1 157L713.9 158L713.8 159L713.6 160L713.4 161L713.3 162L713.1 163L713 164L712.8 165L712.7 166L712.5 167L712.4 168L712.2 169L712.1 170L712 171L711.8 172L711.7 173L711.6 174L711.4 175L711.3 176L711.2 177L711.1 178L710.9 179L710.8 180L710.7 181L710.6 182L710.5 183L710.3 184L710.2 185L710.1 186L710 187L709.9 188L709.8 189L709.7 190L709.6 191L709.5 192L709.4 193L709.3 194L709.1 195L709 196L708.9 197L708.8 198L708.7 199L708.6 200L708.5 201L708.4 202L708.2 203L708.1 204L708 205L707.9 206L707.7 207L707.6 208L707.5 209L707.4 210L707.3 211L707.1 212L707 213L706.9 214L706.8 215L706.7 216L706.5 217L706.4 218L706.3 219L706.2 220L706.1 221L706 222L705.9 223L705.8 224L705.6 225L705.5 226L705.4 227L705.3 228L705.2 229L705.1 230L705 231L704.9 232L704.8 233L704.7 234L704.7 235L704.6 236L704.5 237L704.4 238L704.4 239L704.3 240L704.2 241L704.2 242L704.1 243L704 244L704 245L703.9 246L703.9 247L703.8 248L703.8 249L703.7 250L703.7 251L703.6 252L703.6 253L703.6 254L703.6 255L703.6 256L703.6 257L703.6 258L703.7 259L703.7 260L703.8 261L703.9 262L704 263L704.1 264L704.2 265L704.3 266L704.4 267L704.5 268L704.7 269L704.8 270L705 271L705.1 272L705.2 273L705.4 274L705.6 275L705.8 276L706 277L706.2 278L706.5 279L706.8 280L707.1 281L707.4 282L707.7 283L708 284L708.3 285L708.6 286L709 287L709.3 288L709.6 289L710 290L710.4 291L710.7 292L711.1 293L711.5 294L711.9 295L712.3 296L712.7 297L713.1 298L713.5 299L713.9 300L714.3 301L714.7 302L715.1 303L715.4 304L715.7 305L716.1 306L716.4 307L716.7 308L717.1 309L717.4 310L717.8 311L718.1 312L718.4 313L718.8 314L719.1 315L719.5 316L719.9 317L720.2 318L720.3 318.1L724.5 318.1 Z" fill="#1e90ff" fill-opacity="0.2"/><path d="M755.1 103.1L755.1 103.1L754.9 104.1L754.7 105.1L754.5 106.1L754.3 107.1L754.1 108.1L753.8 109.1L753.6 110.1L753.3 111.1L753 112.1L752.8 113.1L752.5 114.1L752.2 115.1L751.8 116.1L751.5 117.1L751.1 118.1L750.7 119.1L750.3 120.1L749.8 121.1L749.4 122.1L749 123.1L748.5 124.1L748.1 125.1L747.7 126.1L747.2 127.1L746.8 128.1L746.4 129.1L746 130.1L745.7 131.1L745.3 132.1L745 133.1L744.6 134.1L744.3 135.1L744 136.1L743.7 137.1L743.4 138.1L743 139.1L742.7 140.1L742.4 141.1L742.1 142.1L741.9 143.1L741.6 144.1L741.3 145.1L741 146.1L740.8 147.1L740.5 148.1L740.3 149.1L740.1 150.1L739.8 151.1L739.6 152.1L739.4 153.1L739.1 154.1L738.9 155.1L738.7 156.1L738.5 157.1L738.3 158.1L738.1 159.1L737.9 160.1L737.7 161.1L737.5 162.1L737.4 163.1L737.2 164.1L737.1 165.1L737 166.1L736.8 167.1L736.7 168.1L736.6 169.1L736.4 170.1L736.3 171.1L736.2 172.1L736 173.1L735.9 174.1L735.8 175.1L735.7 176.1L735.6 177.1L735.5 178.1L735.5 179.1L735.4 180.1L735.4 181.1L735.3 182.1L735.3 183.1L735.3 184.1L735.3 185.1L735.3 186.1L735.2 187.1L735.2 188.1L735.2 189.1L735.2 190.1L735.2 191.1L735.2 192.1L735.2 193.1L735.2 194.1L735.2 195.1L735.2 196.1L735.1 197.1L735.1 198.1L735.1 199.1L735.1 200.1L735.1 201.1L735.1 202.1L735 203.1L735 204.1L735 205.1L735 206.1L734.9 207.1L734.9 208.1L734.9 209.1L734.9 210.1L734.8 211.1L734.8 212.1L734.8 213.1L734.8 214.1L734.8 215.1L734.7 216.1L734.7 217.1L734.7 218.1L734.7 219.1L734.7 220.1L734.8 221.1L734.8 222.1L734.8 223.1L734.9 224.1L734.9 225.1L734.9 226.1L735 227.1L735.1 228.1L735.1 229.1L735.2 230.1L735.2 231.1L735.3 232.1L735.4 233.1L735.5 234.1L735.5 235.1L735.6 236.1L735.7 237.1L735.7 238.1L735.8 239.1L735.9 240.1L736 241.1L736.1 242.1L736.2 243.1L736.3 244.1L736.4 245.1L736.6 246.1L736.7 247.1L736.8 248.1L736.9 249.1L737.1 250.1L737.2 251.1L737.4 252.1L737.5 253.1L737.7 254.1L737.8 255.1L738 256.1L738.1 257.1L738.3 258.1L738.5 259.1L738.6 260.1L738.8 261.1L739 262.1L739.2 263.1L739.4 264.1L739.6 265.1L739.8 266.1L740 267.1L740.3 268.1L740.5 269.1L740.7 270.1L740.9 271.1L741.1 272.1L741.4 273.1L741.6 274.1L741.8 275.1L742 276.1L742.3 277.1L742.5 278.1L742.7 279.1L743 280.1L743.2 281.1L743.5 282.1L743.7 283.1L744 284.1L744.2 285.1L744.5 286.1L744.7 287.1L745 288.1L745.3 289.1L745.5 290.1L745.8 291.1L746.1 292.1L746.3 293.1L746.6 294.1L746.9 295.1L747.2 296.1L747.5 297.1L747.8 298.1L748.1 299.1L748.4 300.1L748.7 301.1L749.1 302.1L749.4 303.1L749.7 304.1L750 305.1L750.3 306.1L750.7 307.1L751 308.1L751.4 309.1L751.7 310.1L752.1 311.1L752.5 312.1L752.9 313.1L753.3 314.1L753.7 315.1L754.2 316.1L754.6 317.1L755.1 318.1L755.1 318.1L755.1 318.1 Z" fill="#f08080" fill-opacity="0.2"/><path d="M822.2 170.7L822.2 170.7L822.1 171.7L821.9 172.7L821.8 173.7L821.6 174.7L821.4 175.7L821.3 176.7L821.1 177.7L820.9 178.7L820.7 179.7L820.5 180.7L820.3 181.7L820 182.7L819.8 183.7L819.6 184.7L819.3 185.7L819 186.7L818.7 187.7L818.4 188.7L818.1 189.7L817.8 190.7L817.4 191.7L817.1 192.7L816.8 193.7L816.5 194.7L816.1 195.7L815.8 196.7L815.5 197.7L815.2 198.7L814.9 199.7L814.7 200.7L814.4 201.7L814.1 202.7L813.9 203.7L813.6 204.7L813.4 205.7L813.1 206.7L812.9 207.7L812.7 208.7L812.4 209.7L812.2 210.7L811.9 211.7L811.7 212.7L811.5 213.7L811.2 214.7L811 215.7L810.7 216.7L810.4 217.7L810.2 218.7L809.9 219.7L809.6 220.7L809.3 221.7L809 222.7L808.7 223.7L808.4 224.7L808.1 225.7L807.8 226.7L807.5 227.7L807.2 228.7L806.8 229.7L806.5 230.7L806.2 231.7L805.9 232.7L805.6 233.7L805.3 234.7L805 235.7L804.8 236.7L804.5 237.7L804.2 238.7L803.9 239.7L803.6 240.7L803.3 241.7L803 242.7L802.7 243.7L802.5 244.7L802.3 245.7L802.2 246.7L802.1 247.7L802 248.7L801.9 249.7L801.8 250.7L801.7 251.7L801.6 252.7L801.5 253.7L801.5 254.7L801.5 255.7L801.5 256.7L801.6 257.7L801.6 258.7L801.7 259.7L801.9 260.7L802 261.7L802.1 262.7L802.3 263.7L802.4 264.7L802.6 265.7L802.7 266.7L802.9 267.7L803.2 268.7L803.4 269.7L803.7 270.7L804 271.7L804.3 272.7L804.5 273.7L804.8 274.7L805.1 275.7L805.3 276.7L805.6 277.7L805.9 278.7L806.2 279.7L806.5 280.7L806.9 281.7L807.2 282.7L807.5 283.7L807.9 284.7L808.2 285.7L808.6 286.7L809 287.7L809.4 288.7L809.8 289.7L810.3 290.7L810.7 291.7L811.1 292.7L811.6 293.7L812.1 294.7L812.6 295.7L813.1 296.7L813.6 297.7L814.1 298.7L814.7 299.7L815.2 300.7L815.6 301.7L816.1 302.7L816.6 303.7L817 304.7L817.5 305.7L817.9 306.7L818.3 307.7L818.8 308.7L819.2 309.7L819.6 310.7L820 311.7L820.5 312.7L820.9 313.7L821.3 314.7L821.7 315.7L822.2 316.7L822.2 316.8L822.2 316.8 Z" fill="#40e0d0" fill-opacity="0.2"/><path d="M853.4 131.3L853.4 131.3L853 132.3L852.7 133.3L852.4 134.3L852 135.3L851.7 136.3L851.4 137.3L851.1 138.3L850.8 139.3L850.5 140.3L850.2 141.3L849.9 142.3L849.6 143.3L849.3 144.3L849.1 145.3L848.8 146.3L848.6 147.3L848.3 148.3L848.1 149.3L847.8 150.3L847.6 151.3L847.4 152.3L847.2 153.3L847 154.3L846.8 155.3L846.6 156.3L846.4 157.3L846.2 158.3L846 159.3L845.9 160.3L845.7 161.3L845.5 162.3L845.3 163.3L845.1 164.3L844.9 165.3L844.7 166.3L844.5 167.3L844.3 168.3L844.1 169.3L843.9 170.3L843.7 171.3L843.5 172.3L843.2 173.3L843 174.3L842.8 175.3L842.6 176.3L842.4 177.3L842.2 178.3L842 179.3L841.8 180.3L841.7 181.3L841.5 182.3L841.3 183.3L841.2 184.3L841 185.3L840.9 186.3L840.7 187.3L840.6 188.3L840.4 189.3L840.3 190.3L840.2 191.3L840 192.3L839.9 193.3L839.7 194.3L839.6 195.3L839.5 196.3L839.3 197.3L839.2 198.3L839.1 199.3L838.9 200.3L838.8 201.3L838.6 202.3L838.5 203.3L838.3 204.3L838.2 205.3L838 206.3L837.8 207.3L837.7 208.3L837.5 209.3L837.4 210.3L837.2 211.3L837.1 212.3L836.9 213.3L836.8 214.3L836.6 215.3L836.5 216.3L836.3 217.3L836.2 218.3L836.1 219.3L835.9 220.3L835.8 221.3L835.6 222.3L835.5 223.3L835.3 224.3L835.2 225.3L835 226.3L834.9 227.3L834.7 228.3L834.6 229.3L834.5 230.3L834.3 231.3L834.2 232.3L834.1 233.3L834 234.3L833.9 235.3L833.8 236.3L833.7 237.3L833.7 238.3L833.6 239.3L833.5 240.3L833.5 241.3L833.4 242.3L833.3 243.3L833.3 244.3L833.2 245.3L833.1 246.3L833.1 247.3L833 248.3L833 249.3L832.9 250.3L832.9 251.3L832.9 252.3L832.9 253.3L832.8 254.3L832.8 255.3L832.8 256.3L832.9 257.3L832.9 258.3L832.9 259.3L833 260.3L833 261.3L833.1 262.3L833.1 263.3L833.2 264.3L833.3 265.3L833.4 266.3L833.5 267.3L833.6 268.3L833.7 269.3L833.8 270.3L834 271.3L834.1 272.3L834.2 273.3L834.3 274.3L834.5 275.3L834.7 276.3L835 277.3L835.3 278.3L835.7 279.3L836 280.3L836.4 281.3L836.7 282.3L837.1 283.3L837.4 284.3L837.8 285.3L838.2 286.3L838.5 287.3L838.9 288.3L839.4 289.3L839.8 290.3L840.2 291.3L840.6 292.3L841.1 293.3L841.6 294.3L842.1 295.3L842.6 296.3L843.1 297.3L843.6 298.3L844.1 299.3L844.6 300.3L845.1 301.3L845.6 302.3L846.1 303.3L846.6 304.3L847.1 305.3L847.6 306.3L848.1 307.3L848.6 308.3L849.1 309.3L849.6 310.3L850.1 311.3L850.7 312.3L851.3 313.3L851.8 314.3L852.5 315.3L853.1 316.3L853.4 316.8L853.4 316.8 Z" fill="#1e90ff" fill-opacity="0.2"/><path d="M884.3 97.1L884.3 97.1L884.2 98.1L884.1 99.1L884 100.1L883.8 101.1L883.7 102.1L883.6 103.1L883.4 104.1L883.3 105.1L883.1 106.1L882.9 107.1L882.8 108.1L882.6 109.1L882.4 110.1L882.2 111.1L882.1 112.1L881.9 113.1L881.7 114.1L881.5 115.1L881.3 116.1L881.1 117.1L880.8 118.1L880.6 119.1L880.3 120.1L880.1 121.1L879.8 122.1L879.6 123.1L879.3 124.1L879 125.1L878.8 126.1L878.5 127.1L878.2 128.1L878 129.1L877.7 130.1L877.4 131.1L877.2 132.1L876.9 133.1L876.6 134.1L876.4 135.1L876.1 136.1L875.8 137.1L875.5 138.1L875.2 139.1L875 140.1L874.7 141.1L874.4 142.1L874.2 143.1L873.9 144.1L873.7 145.1L873.5 146.1L873.3 147.1L873.2 148.1L873 149.1L872.9 150.1L872.8 151.1L872.6 152.1L872.5 153.1L872.4 154.1L872.3 155.1L872.2 156.1L872.1 157.1L872.1 158.1L872 159.1L871.9 160.1L871.8 161.1L871.7 162.1L871.6 163.1L871.5 164.1L871.4 165.1L871.3 166.1L871.2 167.1L871.1 168.1L871.1 169.1L871 170.1L870.9 171.1L870.8 172.1L870.7 173.1L870.6 174.1L870.5 175.1L870.4 176.1L870.3 177.1L870.2 178.1L870.1 179.1L870 180.1L869.9 181.1L869.7 182.1L869.6 183.1L869.5 184.1L869.3 185.1L869.2 186.1L869 187.1L868.9 188.1L868.7 189.1L868.5 190.1L868.3 191.1L868.2 192.1L868 193.1L867.8 194.1L867.6 195.1L867.4 196.1L867.3 197.1L867.1 198.1L866.9 199.1L866.8 200.1L866.6 201.1L866.4 202.1L866.2 203.1L866 204.1L865.8 205.1L865.6 206.1L865.4 207.1L865.2 208.1L865 209.1L864.9 210.1L864.7 211.1L864.5 212.1L864.4 213.1L864.3 214.1L864.2 215.1L864.1 216.1L864 217.1L864 218.1L864 219.1L864 220.1L864 221.1L864 222.1L864 223.1L864 224.1L864 225.1L864 226.1L864 227.1L864 228.1L864 229.1L864 230.1L864 231.1L864 232.1L864 233.1L864 234.1L864 235.1L864 236.1L864 237.1L864 238.1L864 239.1L864.1 240.1L864.2 241.1L864.2 242.1L864.3 243.1L864.4 244.1L864.6 245.1L864.7 246.1L864.8 247.1L865 248.1L865.2 249.1L865.3 250.1L865.5 251.1L865.6 252.1L865.8 253.1L866 254.1L866.1 255.1L866.3 256.1L866.5 257.1L866.6 258.1L866.8 259.1L867 260.1L867.2 261.1L867.5 262.1L867.7 263.1L867.9 264.1L868.2 265.1L868.4 266.1L868.6 267.1L868.9 268.1L869.2 269.1L869.4 270.1L869.7 271.1L869.9 272.1L870.2 273.1L870.5 274.1L870.7 275.1L871 276.1L871.3 277.1L871.6 278.1L871.9 279.1L872.2 280.1L872.5 281.1L872.8 282.1L873.2 283.1L873.5 284.1L873.9 285.1L874.3 286.1L874.7 287.1L875.1 288.1L875.5 289.1L875.9 290.1L876.3 291.1L876.7 292.1L877.1 293.1L877.5 294.1L877.9 295.1L878.3 296.1L878.8 297.1L879.2 298.1L879.6 299.1L880 300.1L880.3 301.1L880.7 302.1L881.1 303.1L881.5 304.1L881.8 305.1L882.2 306.1L882.6 307.1L882.9 308.1L883.3 309.1L883.6 310.1L884 311.1L884.3 312.1L884.3 312.2L884.3 312.2 Z" fill="#f08080" fill-opacity="0.2"/></g>
<g stroke="#fff" stroke-width="1.1" stroke-opacity="0.85"><line x1="178.2" y1="173.3" x2="178.2" y2="319.3"/><line x1="209.3" y1="125.4" x2="209.3" y2="319.3"/><line x1="240.3" y1="105.7" x2="240.3" y2="319.3"/><line x1="306.7" y1="171.6" x2="306.7" y2="319.3"/><line x1="338.2" y1="115.9" x2="338.2" y2="319.3"/><line x1="368.8" y1="117.7" x2="368.8" y2="319.3"/><line x1="435.8" y1="198.1" x2="435.8" y2="313.8"/><line x1="467.3" y1="147.6" x2="467.3" y2="319.3"/><line x1="497.9" y1="133.1" x2="497.9" y2="318.4"/><line x1="565.2" y1="167.3" x2="565.2" y2="319.3"/><line x1="595.8" y1="129.6" x2="595.8" y2="319.3"/><line x1="627" y1="109.1" x2="627" y2="319.3"/><line x1="693.9" y1="131.3" x2="693.9" y2="319.3"/><line x1="725.1" y1="110" x2="725.1" y2="319.3"/><line x1="755.7" y1="103.1" x2="755.7" y2="319.3"/><line x1="822.8" y1="170.7" x2="822.8" y2="319.3"/><line x1="854" y1="131.3" x2="854" y2="319.3"/><line x1="884.9" y1="97.1" x2="884.9" y2="314.7"/></g>
<g fill="#353535"><circle cx="175.3" cy="217.1" r="1"/><circle cx="176.1" cy="291.4" r="1"/><circle cx="173.1" cy="266.3" r="1"/><circle cx="171.6" cy="286.8" r="1"/><circle cx="172.4" cy="309.8" r="1"/><circle cx="175.9" cy="273.9" r="1"/><circle cx="168.4" cy="271.2" r="1"/><circle cx="174.5" cy="215.9" r="1"/><circle cx="167.1" cy="251.4" r="1"/><circle cx="172.7" cy="271.4" r="1"/><circle cx="176.3" cy="284.8" r="1"/><circle cx="173.8" cy="293.6" r="1"/><circle cx="175.6" cy="261.9" r="1"/><circle cx="168.5" cy="214.1" r="1"/><circle cx="170.9" cy="253" r="1"/><circle cx="173" cy="302.4" r="1"/><circle cx="176.1" cy="244.3" r="1"/><circle cx="174.7" cy="267.8" r="1"/><circle cx="172.4" cy="304.5" r="1"/><circle cx="170.8" cy="200.1" r="1"/><circle cx="173.7" cy="279.2" r="1"/><circle cx="169.7" cy="306.6" r="1"/><circle cx="202.1" cy="208.1" r="1"/><circle cx="199" cy="259.4" r="1"/><circle cx="205" cy="301.6" r="1"/><circle cx="206.7" cy="188.8" r="1"/><circle cx="200.2" cy="255.3" r="1"/><circle cx="203" cy="282" r="1"/><circle cx="201.1" cy="272.9" r="1"/><circle cx="202.1" cy="248.6" r="1"/><circle cx="204.7" cy="203.7" r="1"/><circle cx="201.9" cy="251.6" r="1"/><circle cx="203.3" cy="234.4" r="1"/><circle cx="198.3" cy="249.7" r="1"/><circle cx="201.2" cy="233.3" r="1"/><circle cx="200.8" cy="291.9" r="1"/><circle cx="197.8" cy="284.5" r="1"/><circle cx="205" cy="224.7" r="1"/><circle cx="201.1" cy="262.2" r="1"/><circle cx="203.2" cy="216.9" r="1"/><circle cx="206.8" cy="246" r="1"/><circle cx="200.1" cy="230.9" r="1"/><circle cx="205.4" cy="272" r="1"/><circle cx="199.1" cy="233.2" r="1"/><circle cx="203.4" cy="246.9" r="1"/><circle cx="198.9" cy="279.4" r="1"/><circle cx="199.1" cy="240.7" r="1"/><circle cx="203.7" cy="300.1" r="1"/><circle cx="198.9" cy="198.2" r="1"/><circle cx="206.4" cy="281.8" r="1"/><circle cx="205.6" cy="241" r="1"/><circle cx="203" cy="242.1" r="1"/><circle cx="205.3" cy="269.4" r="1"/><circle cx="203.7" cy="254.9" r="1"/><circle cx="202.2" cy="240.2" r="1"/><circle cx="200.9" cy="141.8" r="1"/><circle cx="201.6" cy="178.4" r="1"/><circle cx="207.4" cy="278.5" r="1"/><circle cx="200" cy="255.8" r="1"/><circle cx="199.8" cy="276.7" r="1"/><circle cx="203.9" cy="307.3" r="1"/><circle cx="201.5" cy="275" r="1"/><circle cx="207.3" cy="165.9" r="1"/><circle cx="206.3" cy="223.1" r="1"/><circle cx="207.4" cy="264.2" r="1"/><circle cx="206.4" cy="208.9" r="1"/><circle cx="204.2" cy="308" r="1"/><circle cx="199" cy="304.9" r="1"/><circle cx="206.4" cy="293.5" r="1"/><circle cx="235.4" cy="220.4" r="1"/><circle cx="237.7" cy="287.5" r="1"/><circle cx="228.8" cy="168" r="1"/><circle cx="234" cy="198.6" r="1"/><circle cx="237.9" cy="219.3" r="1"/><circle cx="236.2" cy="271.5" r="1"/><circle cx="237.3" cy="223" r="1"/><circle cx="229.2" cy="168.2" r="1"/><circle cx="237.4" cy="203.7" r="1"/><circle cx="238.6" cy="200.7" r="1"/><circle cx="228.9" cy="196.7" r="1"/><circle cx="231.8" cy="175" r="1"/><circle cx="235.2" cy="212.4" r="1"/><circle cx="231" cy="217.3" r="1"/><circle cx="231" cy="277.7" r="1"/><circle cx="236.6" cy="280.5" r="1"/><circle cx="228.9" cy="229" r="1"/><circle cx="230.7" cy="220" r="1"/><circle cx="231.4" cy="278" r="1"/><circle cx="233.6" cy="294.4" r="1"/><circle cx="238.6" cy="258.5" r="1"/><circle cx="236.1" cy="281.2" r="1"/><circle cx="231.9" cy="302.4" r="1"/><circle cx="234.4" cy="143.1" r="1"/><circle cx="228.8" cy="293.1" r="1"/><circle cx="235.2" cy="194.1" r="1"/><circle cx="236.6" cy="221.4" r="1"/><circle cx="236.8" cy="280.4" r="1"/><circle cx="229.7" cy="267.8" r="1"/><circle cx="234" cy="171" r="1"/><circle cx="230.8" cy="254.8" r="1"/><circle cx="232.2" cy="151.3" r="1"/><circle cx="297.3" cy="257" r="1"/><circle cx="300.4" cy="291.8" r="1"/><circle cx="297.3" cy="263.3" r="1"/><circle cx="297.1" cy="276.4" r="1"/><circle cx="301.3" cy="286" r="1"/><circle cx="295.6" cy="292.5" r="1"/><circle cx="303.6" cy="287.8" r="1"/><circle cx="303.8" cy="189.2" r="1"/><circle cx="297.1" cy="264" r="1"/><circle cx="296.9" cy="266.2" r="1"/><circle cx="298.6" cy="205.1" r="1"/><circle cx="299.7" cy="272.4" r="1"/><circle cx="305.2" cy="277.2" r="1"/><circle cx="298.7" cy="293" r="1"/><circle cx="295.8" cy="303.6" r="1"/><circle cx="296.4" cy="220.5" r="1"/><circle cx="303.2" cy="239.9" r="1"/><circle cx="302.3" cy="281.3" r="1"/><circle cx="299.3" cy="221.3" r="1"/><circle cx="301" cy="238.3" r="1"/><circle cx="296" cy="275.2" r="1"/><circle cx="300.6" cy="229.4" r="1"/><circle cx="327.6" cy="284" r="1"/><circle cx="327.5" cy="293.9" r="1"/><circle cx="331.4" cy="150.9" r="1"/><circle cx="336.6" cy="251" r="1"/><circle cx="335" cy="285.9" r="1"/><circle cx="328.7" cy="310.4" r="1"/><circle cx="332" cy="209.6" r="1"/><circle cx="331.2" cy="188.2" r="1"/><circle cx="331.5" cy="295.8" r="1"/><circle cx="328.8" cy="301" r="1"/><circle cx="331.1" cy="193.6" r="1"/><circle cx="334" cy="237.7" r="1"/><circle cx="331.7" cy="276.2" r="1"/><circle cx="329.1" cy="292" r="1"/><circle cx="332.3" cy="188.4" r="1"/><circle cx="331.7" cy="269.1" r="1"/><circle cx="329.8" cy="287" r="1"/><circle cx="331.4" cy="252.9" r="1"/><circle cx="327.2" cy="186.9" r="1"/><circle cx="327.9" cy="151.1" r="1"/><circle cx="334.2" cy="211.4" r="1"/><circle cx="327.2" cy="287" r="1"/><circle cx="335.4" cy="155.3" r="1"/><circle cx="332.3" cy="136.6" r="1"/><circle cx="334.4" cy="224.5" r="1"/><circle cx="330" cy="161.5" r="1"/><circle cx="327.7" cy="184.2" r="1"/><circle cx="329.5" cy="145.6" r="1"/><circle cx="335.4" cy="250.1" r="1"/><circle cx="327" cy="273.3" r="1"/><circle cx="327.1" cy="234.7" r="1"/><circle cx="331.9" cy="179.8" r="1"/><circle cx="328.3" cy="220.4" r="1"/><circle cx="332.4" cy="258.6" r="1"/><circle cx="333.4" cy="305" r="1"/><circle cx="333.6" cy="314.6" r="1"/><circle cx="336.6" cy="204.2" r="1"/><circle cx="332.3" cy="138" r="1"/><circle cx="333.5" cy="289.5" r="1"/><circle cx="331.6" cy="303.1" r="1"/><circle cx="326.8" cy="239.5" r="1"/><circle cx="326.9" cy="283.2" r="1"/><circle cx="334.1" cy="294.5" r="1"/><circle cx="328.9" cy="261.5" r="1"/><circle cx="335.5" cy="295.7" r="1"/><circle cx="327.5" cy="145.9" r="1"/><circle cx="334.2" cy="209.3" r="1"/><circle cx="358.1" cy="186.3" r="1"/><circle cx="360.3" cy="161.7" r="1"/><circle cx="366.8" cy="287.2" r="1"/><circle cx="363.1" cy="142.8" r="1"/><circle cx="357.9" cy="242.2" r="1"/><circle cx="359.3" cy="151.8" r="1"/><circle cx="358.7" cy="197.2" r="1"/><circle cx="358.6" cy="205.2" r="1"/><circle cx="364" cy="171.6" r="1"/><circle cx="358" cy="219.7" r="1"/><circle cx="366.1" cy="221.4" r="1"/><circle cx="365" cy="191.7" r="1"/><circle cx="365.8" cy="252.3" r="1"/><circle cx="365.4" cy="168.2" r="1"/><circle cx="364.3" cy="173.5" r="1"/><circle cx="364.5" cy="197.9" r="1"/><circle cx="365.6" cy="200.7" r="1"/><circle cx="367.2" cy="175.5" r="1"/><circle cx="367.3" cy="289.4" r="1"/><circle cx="361.8" cy="269.9" r="1"/><circle cx="362.6" cy="158.3" r="1"/><circle cx="366.3" cy="200.1" r="1"/><circle cx="363" cy="180" r="1"/><circle cx="358.9" cy="210.7" r="1"/><circle cx="362.3" cy="186.5" r="1"/><circle cx="357.4" cy="217.8" r="1"/><circle cx="358.9" cy="290.5" r="1"/><circle cx="360.9" cy="200.9" r="1"/><circle cx="363.9" cy="238.6" r="1"/><circle cx="366.1" cy="230.2" r="1"/><circle cx="359.9" cy="255.2" r="1"/><circle cx="365.8" cy="149.4" r="1"/><circle cx="425.8" cy="278.7" r="1"/><circle cx="427.5" cy="293.5" r="1"/><circle cx="431.9" cy="270.9" r="1"/><circle cx="429.7" cy="254.9" r="1"/><circle cx="429.8" cy="274.8" r="1"/><circle cx="424.6" cy="277.9" r="1"/><circle cx="428.8" cy="274.6" r="1"/><circle cx="424.5" cy="245.8" r="1"/><circle cx="430.7" cy="294.9" r="1"/><circle cx="430.5" cy="293.6" r="1"/><circle cx="429.3" cy="262.1" r="1"/><circle cx="429.2" cy="270.8" r="1"/><circle cx="431.7" cy="231.6" r="1"/><circle cx="430.3" cy="295.7" r="1"/><circle cx="434.1" cy="283.6" r="1"/><circle cx="432" cy="272.9" r="1"/><circle cx="429" cy="280.2" r="1"/><circle cx="427.7" cy="249.4" r="1"/><circle cx="425.4" cy="256.3" r="1"/><circle cx="431.1" cy="253" r="1"/><circle cx="432.9" cy="271.6" r="1"/><circle cx="427.8" cy="241.3" r="1"/><circle cx="457.4" cy="289.2" r="1"/><circle cx="459.5" cy="240" r="1"/><circle cx="457.6" cy="238.8" r="1"/><circle cx="460.6" cy="191.2" r="1"/><circle cx="457.4" cy="264.6" r="1"/><circle cx="457.5" cy="278.9" r="1"/><circle cx="456.8" cy="258.7" r="1"/><circle cx="458.8" cy="213.8" r="1"/><circle cx="465.6" cy="275.3" r="1"/><circle cx="462.2" cy="199.2" r="1"/><circle cx="457.4" cy="280.2" r="1"/><circle cx="459.5" cy="252.7" r="1"/><circle cx="459" cy="219.7" r="1"/><circle cx="465.9" cy="245.6" r="1"/><circle cx="458.3" cy="258.9" r="1"/><circle cx="460.4" cy="215.6" r="1"/><circle cx="465.2" cy="282.8" r="1"/><circle cx="463.3" cy="235.8" r="1"/><circle cx="463.2" cy="288.2" r="1"/><circle cx="463.8" cy="281.8" r="1"/><circle cx="456" cy="190.9" r="1"/><circle cx="462" cy="259.6" r="1"/><circle cx="458.9" cy="222.6" r="1"/><circle cx="459.6" cy="271.9" r="1"/><circle cx="465.1" cy="248.8" r="1"/><circle cx="463.3" cy="239.3" r="1"/><circle cx="462.8" cy="289.9" r="1"/><circle cx="465.8" cy="181.7" r="1"/><circle cx="463.2" cy="250.2" r="1"/><circle cx="458.8" cy="224.8" r="1"/><circle cx="462.9" cy="175.8" r="1"/><circle cx="461.2" cy="271.6" r="1"/><circle cx="464.7" cy="250.6" r="1"/><circle cx="463.9" cy="289" r="1"/><circle cx="456.4" cy="255.1" r="1"/><circle cx="461.2" cy="225.1" r="1"/><circle cx="456" cy="307.9" r="1"/><circle cx="463.2" cy="193.6" r="1"/><circle cx="456.3" cy="180.3" r="1"/><circle cx="460" cy="269.3" r="1"/><circle cx="460.6" cy="229.3" r="1"/><circle cx="464.6" cy="229.1" r="1"/><circle cx="460.7" cy="286.9" r="1"/><circle cx="458.7" cy="225" r="1"/><circle cx="456.7" cy="288.3" r="1"/><circle cx="465.7" cy="259.6" r="1"/><circle cx="460.9" cy="224.1" r="1"/><circle cx="493.4" cy="165" r="1"/><circle cx="493" cy="191.7" r="1"/><circle cx="487.9" cy="291.9" r="1"/><circle cx="488.8" cy="209.6" r="1"/><circle cx="495.3" cy="181.4" r="1"/><circle cx="489.2" cy="198.5" r="1"/><circle cx="493.5" cy="277.5" r="1"/><circle cx="492.5" cy="181.9" r="1"/><circle cx="490.5" cy="257.6" r="1"/><circle cx="492.1" cy="177.9" r="1"/><circle cx="496" cy="289.8" r="1"/><circle cx="488" cy="224.7" r="1"/><circle cx="487" cy="161.8" r="1"/><circle cx="493.8" cy="282.8" r="1"/><circle cx="494.6" cy="205.1" r="1"/><circle cx="486.8" cy="249.9" r="1"/><circle cx="488.2" cy="224.4" r="1"/><circle cx="487.2" cy="171.2" r="1"/><circle cx="490.9" cy="173.5" r="1"/><circle cx="496" cy="180.3" r="1"/><circle cx="491.9" cy="181.3" r="1"/><circle cx="489.9" cy="164.3" r="1"/><circle cx="496" cy="161.8" r="1"/><circle cx="495.2" cy="287.5" r="1"/><circle cx="493" cy="171" r="1"/><circle cx="489" cy="221.9" r="1"/><circle cx="493.9" cy="175.5" r="1"/><circle cx="493.4" cy="188.2" r="1"/><circle cx="492.5" cy="254.1" r="1"/><circle cx="494.9" cy="284.7" r="1"/><circle cx="487.3" cy="217.8" r="1"/><circle cx="494.3" cy="150.1" r="1"/><circle cx="553.7" cy="315.7" r="1"/><circle cx="562.4" cy="203.2" r="1"/><circle cx="562.9" cy="247" r="1"/><circle cx="562.9" cy="259.1" r="1"/><circle cx="561.2" cy="298" r="1"/><circle cx="554.8" cy="291.4" r="1"/><circle cx="559.6" cy="266.5" r="1"/><circle cx="558.5" cy="248.2" r="1"/><circle cx="560.4" cy="292.2" r="1"/><circle cx="561" cy="295.9" r="1"/><circle cx="562.5" cy="296.8" r="1"/><circle cx="557.4" cy="278.3" r="1"/><circle cx="561.6" cy="216.7" r="1"/><circle cx="561.3" cy="240.1" r="1"/><circle cx="559.3" cy="255.2" r="1"/><circle cx="555.2" cy="257.7" r="1"/><circle cx="563.6" cy="292.7" r="1"/><circle cx="556.6" cy="234.8" r="1"/><circle cx="559" cy="271.7" r="1"/><circle cx="563.8" cy="246.4" r="1"/><circle cx="554.4" cy="285.2" r="1"/><circle cx="555.1" cy="231.6" r="1"/><circle cx="591.9" cy="245.1" r="1"/><circle cx="592.8" cy="176.2" r="1"/><circle cx="587.5" cy="199.7" r="1"/><circle cx="587.1" cy="306.1" r="1"/><circle cx="586.6" cy="218.8" r="1"/><circle cx="588.8" cy="299.6" r="1"/><circle cx="586.4" cy="251.2" r="1"/><circle cx="585" cy="159.4" r="1"/><circle cx="591.3" cy="286.8" r="1"/><circle cx="591.9" cy="163.3" r="1"/><circle cx="587.3" cy="291.8" r="1"/><circle cx="593.7" cy="148.3" r="1"/><circle cx="588.5" cy="271.7" r="1"/><circle cx="592.1" cy="190.5" r="1"/><circle cx="594.3" cy="223.7" r="1"/><circle cx="589.7" cy="307.4" r="1"/><circle cx="587.8" cy="246.1" r="1"/><circle cx="589.6" cy="270" r="1"/><circle cx="591.9" cy="280.4" r="1"/><circle cx="587.2" cy="179.1" r="1"/><circle cx="594.2" cy="292.4" r="1"/><circle cx="587.5" cy="302.6" r="1"/><circle cx="591.8" cy="188.6" r="1"/><circle cx="585" cy="254.8" r="1"/><circle cx="594.1" cy="213.4" r="1"/><circle cx="590.1" cy="280.5" r="1"/><circle cx="592.4" cy="155.8" r="1"/><circle cx="586.9" cy="249.9" r="1"/><circle cx="592.3" cy="286.6" r="1"/><circle cx="591.2" cy="280.1" r="1"/><circle cx="592.1" cy="178" r="1"/><circle cx="586.7" cy="291.4" r="1"/><circle cx="584.7" cy="204.4" r="1"/><circle cx="592.5" cy="288.6" r="1"/><circle cx="590.2" cy="247.4" r="1"/><circle cx="584.7" cy="189.8" r="1"/><circle cx="590.4" cy="279.3" r="1"/><circle cx="584.5" cy="288.4" r="1"/><circle cx="593.9" cy="274.3" r="1"/><circle cx="590.4" cy="309.2" r="1"/><circle cx="585.4" cy="209" r="1"/><circle cx="584.2" cy="204.9" r="1"/><circle cx="591.1" cy="187.1" r="1"/><circle cx="584.9" cy="253.3" r="1"/><circle cx="594.1" cy="232.9" r="1"/><circle cx="590.6" cy="225.8" r="1"/><circle cx="591" cy="242.5" r="1"/><circle cx="625.5" cy="185.8" r="1"/><circle cx="622" cy="125.9" r="1"/><circle cx="624.3" cy="218.6" r="1"/><circle cx="623.5" cy="187.6" r="1"/><circle cx="617.2" cy="215" r="1"/><circle cx="621.2" cy="300.4" r="1"/><circle cx="620.7" cy="169.6" r="1"/><circle cx="616.2" cy="246" r="1"/><circle cx="621.9" cy="246.8" r="1"/><circle cx="625.3" cy="188.5" r="1"/><circle cx="617.3" cy="218" r="1"/><circle cx="625.2" cy="309.4" r="1"/><circle cx="624.9" cy="197.6" r="1"/><circle cx="623" cy="259.5" r="1"/><circle cx="616.4" cy="283.3" r="1"/><circle cx="622.8" cy="199.9" r="1"/><circle cx="619.3" cy="314.6" r="1"/><circle cx="618.3" cy="243.9" r="1"/><circle cx="622.8" cy="222.9" r="1"/><circle cx="617.9" cy="258.6" r="1"/><circle cx="619.1" cy="211.5" r="1"/><circle cx="625.3" cy="259.5" r="1"/><circle cx="620.7" cy="186.8" r="1"/><circle cx="615.8" cy="300.6" r="1"/><circle cx="623" cy="230" r="1"/><circle cx="620.5" cy="181" r="1"/><circle cx="623.7" cy="213.5" r="1"/><circle cx="618" cy="293.4" r="1"/><circle cx="617.7" cy="276.4" r="1"/><circle cx="622.2" cy="220.2" r="1"/><circle cx="621.9" cy="198.9" r="1"/><circle cx="624.8" cy="203.4" r="1"/><circle cx="684.8" cy="308" r="1"/><circle cx="691.9" cy="196.1" r="1"/><circle cx="686.9" cy="291.9" r="1"/><circle cx="682.5" cy="288.2" r="1"/><circle cx="682.4" cy="217.7" r="1"/><circle cx="691.7" cy="234.1" r="1"/><circle cx="687.4" cy="258.9" r="1"/><circle cx="688" cy="282.6" r="1"/><circle cx="688.3" cy="301.1" r="1"/><circle cx="685.6" cy="311.5" r="1"/><circle cx="683.9" cy="225.6" r="1"/><circle cx="691.3" cy="212.5" r="1"/><circle cx="689.5" cy="250.7" r="1"/><circle cx="688.7" cy="258.4" r="1"/><circle cx="690.5" cy="268.6" r="1"/><circle cx="690" cy="195.1" r="1"/><circle cx="683.5" cy="267" r="1"/><circle cx="689.2" cy="296.4" r="1"/><circle cx="682.4" cy="295.2" r="1"/><circle cx="690.2" cy="300.4" r="1"/><circle cx="685.9" cy="296.7" r="1"/><circle cx="691.5" cy="303.8" r="1"/><circle cx="715.3" cy="144.9" r="1"/><circle cx="714.4" cy="292.3" r="1"/><circle cx="720.7" cy="194.5" r="1"/><circle cx="721.7" cy="203.6" r="1"/><circle cx="717.7" cy="226.4" r="1"/><circle cx="719.9" cy="301.4" r="1"/><circle cx="719.1" cy="246.3" r="1"/><circle cx="715.7" cy="208.7" r="1"/><circle cx="722.6" cy="213.4" r="1"/><circle cx="717.4" cy="290.1" r="1"/><circle cx="719.9" cy="275.7" r="1"/><circle cx="721.6" cy="168.6" r="1"/><circle cx="717.6" cy="190.7" r="1"/><circle cx="721.6" cy="212.1" r="1"/><circle cx="720.3" cy="184.5" r="1"/><circle cx="721.8" cy="240.1" r="1"/><circle cx="721.6" cy="185.8" r="1"/><circle cx="718.1" cy="242.2" r="1"/><circle cx="722.6" cy="295.5" r="1"/><circle cx="718.1" cy="279.8" r="1"/><circle cx="722.8" cy="160.1" r="1"/><circle cx="716.6" cy="182.6" r="1"/><circle cx="720.8" cy="218.9" r="1"/><circle cx="714" cy="251.8" r="1"/><circle cx="717.9" cy="214.8" r="1"/><circle cx="719.4" cy="191.8" r="1"/><circle cx="713.5" cy="208.3" r="1"/><circle cx="721.7" cy="182.8" r="1"/><circle cx="721.6" cy="282.2" r="1"/><circle cx="714.5" cy="258.5" r="1"/><circle cx="715.3" cy="217.9" r="1"/><circle cx="714.7" cy="258.9" r="1"/><circle cx="722" cy="233.9" r="1"/><circle cx="718.1" cy="234.5" r="1"/><circle cx="714.4" cy="212.1" r="1"/><circle cx="717.3" cy="229.5" r="1"/><circle cx="718.5" cy="309.8" r="1"/><circle cx="720.8" cy="270.6" r="1"/><circle cx="714.2" cy="277" r="1"/><circle cx="718.7" cy="165.6" r="1"/><circle cx="713.8" cy="232.3" r="1"/><circle cx="722.4" cy="210.7" r="1"/><circle cx="713.7" cy="157.4" r="1"/><circle cx="723.1" cy="215.9" r="1"/><circle cx="719.7" cy="153.4" r="1"/><circle cx="717.4" cy="188.4" r="1"/><circle cx="722" cy="273.3" r="1"/><circle cx="752" cy="239.4" r="1"/><circle cx="745.6" cy="241" r="1"/><circle cx="752.4" cy="143.4" r="1"/><circle cx="750.2" cy="159.8" r="1"/><circle cx="750.4" cy="128.1" r="1"/><circle cx="751.8" cy="146.7" r="1"/><circle cx="745.1" cy="148.3" r="1"/><circle cx="748.5" cy="293.6" r="1"/><circle cx="753.9" cy="276.4" r="1"/><circle cx="753.1" cy="166.4" r="1"/><circle cx="748.7" cy="174.2" r="1"/><circle cx="751.2" cy="294.2" r="1"/><circle cx="748.3" cy="222" r="1"/><circle cx="747.6" cy="192" r="1"/><circle cx="749.8" cy="206.1" r="1"/><circle cx="748" cy="176.6" r="1"/><circle cx="751.9" cy="224.1" r="1"/><circle cx="746.3" cy="245.4" r="1"/><circle cx="752.4" cy="214.1" r="1"/><circle cx="753.2" cy="261.1" r="1"/><circle cx="749.9" cy="149.7" r="1"/><circle cx="749.8" cy="226.7" r="1"/><circle cx="753.9" cy="307.1" r="1"/><circle cx="753.4" cy="157.2" r="1"/><circle cx="746.3" cy="211.3" r="1"/><circle cx="753.7" cy="230.1" r="1"/><circle cx="750.4" cy="187.1" r="1"/><circle cx="752.9" cy="296.6" r="1"/><circle cx="744.1" cy="209.5" r="1"/><circle cx="746" cy="208.3" r="1"/><circle cx="744.3" cy="277.8" r="1"/><circle cx="744.5" cy="126.1" r="1"/><circle cx="819.7" cy="284.1" r="1"/><circle cx="811.9" cy="214" r="1"/><circle cx="817.8" cy="241.3" r="1"/><circle cx="819.8" cy="251" r="1"/><circle cx="818.6" cy="250.1" r="1"/><circle cx="819.9" cy="198" r="1"/><circle cx="812" cy="235.7" r="1"/><circle cx="818.7" cy="239.4" r="1"/><circle cx="818.2" cy="294.7" r="1"/><circle cx="819.6" cy="288.3" r="1"/><circle cx="811.9" cy="257.4" r="1"/><circle cx="812.3" cy="291.9" r="1"/><circle cx="813.4" cy="282.4" r="1"/><circle cx="816" cy="240.3" r="1"/><circle cx="817.7" cy="211.9" r="1"/><circle cx="815.7" cy="260.1" r="1"/><circle cx="812.4" cy="236.8" r="1"/><circle cx="811.3" cy="189.3" r="1"/><circle cx="817.4" cy="298.8" r="1"/><circle cx="818.7" cy="297" r="1"/><circle cx="815.5" cy="255.2" r="1"/><circle cx="813.6" cy="260.6" r="1"/><circle cx="850.8" cy="255.3" r="1"/><circle cx="852.1" cy="288.6" r="1"/><circle cx="850" cy="232.7" r="1"/><circle cx="842.5" cy="246.5" r="1"/><circle cx="845.8" cy="198.4" r="1"/><circle cx="852.5" cy="201.2" r="1"/><circle cx="851" cy="237.9" r="1"/><circle cx="848.2" cy="199.5" r="1"/><circle cx="843.4" cy="157.4" r="1"/><circle cx="850.2" cy="219" r="1"/><circle cx="852.3" cy="265.5" r="1"/><circle cx="848.9" cy="205.9" r="1"/><circle cx="848.9" cy="278" r="1"/><circle cx="846.6" cy="259.1" r="1"/><circle cx="850.5" cy="254.4" r="1"/><circle cx="847.7" cy="282.5" r="1"/><circle cx="843" cy="169" r="1"/><circle cx="851" cy="190.1" r="1"/><circle cx="846.1" cy="284.9" r="1"/><circle cx="844.6" cy="285.7" r="1"/><circle cx="849.9" cy="170.3" r="1"/><circle cx="846" cy="267.9" r="1"/><circle cx="849" cy="152.4" r="1"/><circle cx="848" cy="182.5" r="1"/><circle cx="845.1" cy="177.8" r="1"/><circle cx="843.4" cy="209.1" r="1"/><circle cx="847.1" cy="221.9" r="1"/><circle cx="850.1" cy="285.3" r="1"/><circle cx="844.6" cy="227.9" r="1"/><circle cx="846.9" cy="179.9" r="1"/><circle cx="851.1" cy="205.8" r="1"/><circle cx="846.4" cy="148" r="1"/><circle cx="846" cy="156.4" r="1"/><circle cx="850.8" cy="227.7" r="1"/><circle cx="849.5" cy="237.2" r="1"/><circle cx="843.5" cy="201.9" r="1"/><circle cx="845.3" cy="221.6" r="1"/><circle cx="844" cy="175.9" r="1"/><circle cx="847.8" cy="254.6" r="1"/><circle cx="848" cy="222.6" r="1"/><circle cx="851.5" cy="187.1" r="1"/><circle cx="852.2" cy="235.1" r="1"/><circle cx="844.9" cy="195.2" r="1"/><circle cx="843.9" cy="208.5" r="1"/><circle cx="849.9" cy="180.6" r="1"/><circle cx="848.1" cy="268.4" r="1"/><circle cx="847.2" cy="207.6" r="1"/><circle cx="877" cy="283.9" r="1"/><circle cx="881.3" cy="204.6" r="1"/><circle cx="883.4" cy="161.5" r="1"/><circle cx="881.1" cy="243.9" r="1"/><circle cx="873.9" cy="247.4" r="1"/><circle cx="880.2" cy="269.4" r="1"/><circle cx="880.2" cy="156.5" r="1"/><circle cx="874.3" cy="254.9" r="1"/><circle cx="876.5" cy="266.2" r="1"/><circle cx="873.6" cy="189.3" r="1"/><circle cx="875" cy="211.1" r="1"/><circle cx="874.8" cy="232.3" r="1"/><circle cx="876.1" cy="178.1" r="1"/><circle cx="880.4" cy="268.2" r="1"/><circle cx="877.2" cy="242.8" r="1"/><circle cx="874.2" cy="264.7" r="1"/><circle cx="883.3" cy="209.8" r="1"/><circle cx="874.1" cy="218.7" r="1"/><circle cx="882.1" cy="168" r="1"/><circle cx="883.1" cy="189.6" r="1"/><circle cx="877.1" cy="247.3" r="1"/><circle cx="876" cy="285.3" r="1"/><circle cx="877.5" cy="159.7" r="1"/><circle cx="875.2" cy="136" r="1"/><circle cx="874.4" cy="141.4" r="1"/><circle cx="874.7" cy="207.7" r="1"/><circle cx="873.9" cy="256.5" r="1"/><circle cx="881.4" cy="173.7" r="1"/><circle cx="883.2" cy="213.7" r="1"/><circle cx="875.3" cy="219.5" r="1"/><circle cx="875.1" cy="262.3" r="1"/><circle cx="880.6" cy="162.2" r="1"/></g>
<g><rect x="174.8" y="252.9" width="5.6" height="33.8" fill="#40e0d0"/><rect x="205.6" y="205.6" width="5.6" height="77.9" fill="#1e90ff"/><rect x="236.5" y="193" width="5.6" height="85.5" fill="#f08080"/><rect x="303.4" y="239.9" width="5.6" height="46" fill="#40e0d0"/><rect x="334.5" y="214.8" width="5.6" height="65.8" fill="#1e90ff"/><rect x="365.5" y="186.5" width="5.6" height="70.1" fill="#f08080"/><rect x="432.4" y="252.9" width="5.6" height="31.5" fill="#40e0d0"/><rect x="463.5" y="219.5" width="5.6" height="53.4" fill="#1e90ff"/><rect x="494.7" y="195" width="5.6" height="58.2" fill="#f08080"/><rect x="561.3" y="240.2" width="5.6" height="38.9" fill="#40e0d0"/><rect x="592.5" y="207.4" width="5.6" height="76.4" fill="#1e90ff"/><rect x="623.3" y="180.1" width="5.6" height="83.8" fill="#f08080"/><rect x="690.3" y="225" width="5.6" height="54.2" fill="#40e0d0"/><rect x="721.2" y="198.6" width="5.6" height="70.9" fill="#1e90ff"/><rect x="752.2" y="178.9" width="5.6" height="68" fill="#f08080"/><rect x="819.3" y="235.6" width="5.6" height="32.1" fill="#40e0d0"/><rect x="850.2" y="206.5" width="5.6" height="60.3" fill="#1e90ff"/><rect x="881.2" y="177.9" width="5.6" height="67" fill="#f08080"/></g>
<g><polyline points="177.8,252.9 306.3,249.7 435,256.9" fill="none" stroke="#40e0d0" stroke-opacity="0.6" stroke-width="1"/><polyline points="564.3,266.4 693,263.4 822.3,267.3" fill="none" stroke="#40e0d0" stroke-opacity="0.6" stroke-width="1"/><polyline points="208.4,231.2 337.7,231.2 466.2,239.9" fill="none" stroke="#1e90ff" stroke-opacity="0.6" stroke-width="1"/><polyline points="595.1,245.4 724.4,243 853.2,244.9" fill="none" stroke="#1e90ff" stroke-opacity="0.6" stroke-width="1"/><polyline points="239.8,215.9 368.1,212.6 496.8,226.5" fill="none" stroke="#f08080" stroke-opacity="0.6" stroke-width="1"/><polyline points="626.2,226.9 755,223.2 884.4,227.8" fill="none" stroke="#f08080" stroke-opacity="0.6" stroke-width="1"/></g>
<g><circle cx="177.8" cy="252.9" r="5.3" fill="#40e0d0" stroke="#12403b" stroke-width="0.9"/><circle cx="208.4" cy="231.2" r="5.3" fill="#1e90ff" stroke="#0a2a4d" stroke-width="0.9"/><circle cx="239.8" cy="215.9" r="5.3" fill="#f08080" stroke="#4a2424" stroke-width="0.9"/><circle cx="306.3" cy="249.7" r="5.3" fill="#40e0d0" stroke="#12403b" stroke-width="0.9"/><circle cx="337.7" cy="231.2" r="5.3" fill="#1e90ff" stroke="#0a2a4d" stroke-width="0.9"/><circle cx="368.1" cy="212.6" r="5.3" fill="#f08080" stroke="#4a2424" stroke-width="0.9"/><circle cx="435" cy="256.9" r="5.3" fill="#40e0d0" stroke="#12403b" stroke-width="0.9"/><circle cx="466.2" cy="239.9" r="5.3" fill="#1e90ff" stroke="#0a2a4d" stroke-width="0.9"/><circle cx="496.8" cy="226.5" r="5.3" fill="#f08080" stroke="#4a2424" stroke-width="0.9"/><circle cx="564.3" cy="266.4" r="5.3" fill="#40e0d0" stroke="#12403b" stroke-width="0.9"/><circle cx="595.1" cy="245.4" r="5.3" fill="#1e90ff" stroke="#0a2a4d" stroke-width="0.9"/><circle cx="626.2" cy="226.9" r="5.3" fill="#f08080" stroke="#4a2424" stroke-width="0.9"/><circle cx="693" cy="263.4" r="5.3" fill="#40e0d0" stroke="#12403b" stroke-width="0.9"/><circle cx="724.4" cy="243" r="5.3" fill="#1e90ff" stroke="#0a2a4d" stroke-width="0.9"/><circle cx="755" cy="223.2" r="5.3" fill="#f08080" stroke="#4a2424" stroke-width="0.9"/><circle cx="822.3" cy="267.3" r="5.3" fill="#40e0d0" stroke="#12403b" stroke-width="0.9"/><circle cx="853.2" cy="244.9" r="5.3" fill="#1e90ff" stroke="#0a2a4d" stroke-width="0.9"/><circle cx="884.4" cy="227.8" r="5.3" fill="#f08080" stroke="#4a2424" stroke-width="0.9"/></g>
</g>
<g id="BT">
<g><path d="M1118.5 111.7L1118.5 111.7L1117.2 112.7L1116 113.7L1115.8 114.7L1115.7 115.7L1115.7 116.7L1115.6 117.7L1115.6 118.7L1115.6 119.7L1115.6 120.7L1115.6 121.7L1115.6 122.7L1115.5 123.7L1115.5 124.7L1115.5 125.7L1115.5 126.7L1115.5 127.7L1115.5 128.7L1115.5 129.7L1115.5 130.7L1115.4 131.7L1115.4 132.7L1115.4 133.7L1115.3 134.7L1115.3 135.7L1115.2 136.7L1115.2 137.7L1115.1 138.7L1115.1 139.7L1115 140.7L1114.9 141.7L1114.9 142.7L1114.8 143.7L1114.7 144.7L1114.6 145.7L1114.6 146.7L1114.5 147.7L1114.4 148.7L1114.3 149.7L1114.1 150.7L1114 151.7L1113.8 152.7L1113.6 153.7L1113.4 154.7L1113.2 155.7L1113 156.7L1112.8 157.7L1112.5 158.7L1112.3 159.7L1112.1 160.7L1111.8 161.7L1111.5 162.7L1111.3 163.7L1111 164.7L1110.8 165.7L1110.5 166.7L1110.3 167.7L1110 168.7L1109.7 169.7L1109.4 170.7L1109.1 171.7L1108.7 172.7L1108.4 173.7L1108.1 174.7L1107.8 175.7L1107.4 176.7L1107.1 177.7L1106.8 178.7L1106.5 179.7L1106.2 180.7L1105.9 181.7L1105.7 182.7L1105.4 183.7L1105.2 184.7L1105 185.7L1104.7 186.7L1104.5 187.7L1104.3 188.7L1104.1 189.7L1103.9 190.7L1103.7 191.7L1103.5 192.7L1103.3 193.7L1103.1 194.7L1102.9 195.7L1102.6 196.7L1102.4 197.7L1102.2 198.7L1102 199.7L1101.7 200.7L1101.5 201.7L1101.2 202.7L1100.9 203.7L1100.6 204.7L1100.3 205.7L1100.1 206.7L1099.8 207.7L1099.6 208.7L1099.4 209.7L1099.2 210.7L1099 211.7L1098.8 212.7L1098.6 213.7L1098.4 214.7L1098.3 215.7L1098.2 216.7L1098.1 217.7L1098 218.7L1097.9 219.7L1097.9 220.7L1097.8 221.7L1097.8 222.7L1097.7 223.7L1097.7 224.7L1097.6 225.7L1097.6 226.7L1097.6 227.7L1097.6 228.7L1097.7 229.7L1097.9 230.7L1098 231.7L1098.3 232.7L1098.5 233.7L1098.8 234.7L1099.1 235.7L1099.4 236.7L1099.7 237.7L1100 238.7L1100.5 239.7L1101 240.7L1101.5 241.7L1102.1 242.7L1102.6 243.7L1103.2 244.7L1103.7 245.7L1104.3 246.7L1104.8 247.7L1105.3 248.7L1105.8 249.7L1106.3 250.7L1106.8 251.7L1107.3 252.7L1107.8 253.7L1108.3 254.7L1108.8 255.7L1109.2 256.7L1109.6 257.7L1110.1 258.7L1110.5 259.7L1110.9 260.7L1111.3 261.7L1111.6 262.7L1112 263.7L1112.4 264.7L1112.7 265.7L1113 266.7L1113.3 267.7L1113.6 268.7L1113.9 269.7L1114.2 270.7L1114.5 271.7L1114.8 272.7L1115.1 273.7L1115.4 274.7L1115.7 275.7L1116 276.7L1116.3 277.7L1116.6 278.7L1116.9 279.7L1117.2 280.7L1117.4 281.7L1117.7 282.7L1118 283.7L1118.3 284.7L1118.5 285.3L1118.5 285.3 Z" fill="#40e0d0" fill-opacity="0.2"/><path d="M1149.1 110.8L1149.1 110.8L1148.9 111.8L1148.6 112.8L1148.4 113.8L1148.2 114.8L1147.9 115.8L1147.7 116.8L1147.5 117.8L1147.2 118.8L1147 119.8L1146.7 120.8L1146.5 121.8L1146.3 122.8L1146 123.8L1145.8 124.8L1145.5 125.8L1145.3 126.8L1145.1 127.8L1144.8 128.8L1144.6 129.8L1144.3 130.8L1144.1 131.8L1143.8 132.8L1143.6 133.8L1143.3 134.8L1143.1 135.8L1142.8 136.8L1142.6 137.8L1142.3 138.8L1142.1 139.8L1141.8 140.8L1141.6 141.8L1141.3 142.8L1141.1 143.8L1140.8 144.8L1140.6 145.8L1140.3 146.8L1140.1 147.8L1139.8 148.8L1139.6 149.8L1139.3 150.8L1139 151.8L1138.8 152.8L1138.5 153.8L1138.2 154.8L1138 155.8L1137.7 156.8L1137.4 157.8L1137.2 158.8L1136.9 159.8L1136.7 160.8L1136.4 161.8L1136.2 162.8L1136 163.8L1135.8 164.8L1135.6 165.8L1135.4 166.8L1135.2 167.8L1135 168.8L1134.9 169.8L1134.7 170.8L1134.5 171.8L1134.4 172.8L1134.2 173.8L1134 174.8L1133.9 175.8L1133.7 176.8L1133.6 177.8L1133.5 178.8L1133.4 179.8L1133.3 180.8L1133.1 181.8L1133.1 182.8L1133 183.8L1132.9 184.8L1132.8 185.8L1132.7 186.8L1132.7 187.8L1132.6 188.8L1132.5 189.8L1132.5 190.8L1132.4 191.8L1132.4 192.8L1132.3 193.8L1132.3 194.8L1132.2 195.8L1132.1 196.8L1132.1 197.8L1132 198.8L1131.9 199.8L1131.9 200.8L1131.8 201.8L1131.7 202.8L1131.6 203.8L1131.6 204.8L1131.5 205.8L1131.4 206.8L1131.3 207.8L1131.2 208.8L1131.1 209.8L1131.1 210.8L1131 211.8L1130.9 212.8L1130.8 213.8L1130.7 214.8L1130.7 215.8L1130.6 216.8L1130.5 217.8L1130.4 218.8L1130.3 219.8L1130.3 220.8L1130.2 221.8L1130.1 222.8L1130 223.8L1129.9 224.8L1129.8 225.8L1129.7 226.8L1129.6 227.8L1129.5 228.8L1129.5 229.8L1129.4 230.8L1129.3 231.8L1129.3 232.8L1129.2 233.8L1129.2 234.8L1129.2 235.8L1129.1 236.8L1129.1 237.8L1129.1 238.8L1129.1 239.8L1129.1 240.8L1129.1 241.8L1129.1 242.8L1129.1 243.8L1129.1 244.8L1129.1 245.8L1129.1 246.8L1129.1 247.8L1129.1 248.8L1129.1 249.8L1129.1 250.8L1129.1 251.8L1129.1 252.8L1129.1 253.8L1129.1 254.8L1129.1 255.8L1129.2 256.8L1129.2 257.8L1129.3 258.8L1129.4 259.8L1129.5 260.8L1129.6 261.8L1129.8 262.8L1129.9 263.8L1130.1 264.8L1130.2 265.8L1130.5 266.8L1130.7 267.8L1131 268.8L1131.4 269.8L1131.7 270.8L1132.1 271.8L1132.4 272.8L1132.7 273.8L1133 274.8L1133.3 275.8L1133.6 276.8L1133.9 277.8L1134.2 278.8L1134.5 279.8L1134.8 280.8L1135.1 281.8L1135.4 282.8L1135.8 283.8L1136.1 284.8L1136.5 285.8L1136.9 286.8L1137.3 287.8L1137.7 288.8L1138.1 289.8L1138.6 290.8L1139 291.8L1139.4 292.8L1139.8 293.8L1140.2 294.8L1140.6 295.8L1141 296.8L1141.4 297.8L1141.9 298.8L1142.3 299.8L1142.6 300.8L1143 301.8L1143.3 302.8L1143.7 303.8L1144 304.8L1144.3 305.8L1144.6 306.8L1144.9 307.8L1145.1 308.8L1145.4 309.8L1145.7 310.8L1146 311.8L1146.3 312.8L1146.5 313.8L1146.8 314.8L1147.1 315.8L1147.3 316.8L1147.6 317.8L1147.7 318.1L1149.1 318.1 Z" fill="#1e90ff" fill-opacity="0.2"/><path d="M1180.6 113.4L1180.6 113.4L1180.5 114.4L1180.4 115.4L1180.2 116.4L1180.1 117.4L1179.9 118.4L1179.8 119.4L1179.6 120.4L1179.4 121.4L1179.3 122.4L1179.1 123.4L1178.9 124.4L1178.7 125.4L1178.5 126.4L1178.4 127.4L1178.2 128.4L1178 129.4L1177.8 130.4L1177.6 131.4L1177.4 132.4L1177.1 133.4L1176.9 134.4L1176.7 135.4L1176.4 136.4L1176.2 137.4L1176 138.4L1175.7 139.4L1175.5 140.4L1175.2 141.4L1174.9 142.4L1174.7 143.4L1174.4 144.4L1174.1 145.4L1173.9 146.4L1173.6 147.4L1173.3 148.4L1173 149.4L1172.7 150.4L1172.4 151.4L1172.1 152.4L1171.8 153.4L1171.5 154.4L1171.2 155.4L1170.9 156.4L1170.5 157.4L1170.2 158.4L1169.9 159.4L1169.6 160.4L1169.3 161.4L1169 162.4L1168.7 163.4L1168.5 164.4L1168.2 165.4L1168 166.4L1167.7 167.4L1167.5 168.4L1167.3 169.4L1167 170.4L1166.8 171.4L1166.6 172.4L1166.4 173.4L1166.2 174.4L1166 175.4L1165.8 176.4L1165.6 177.4L1165.5 178.4L1165.3 179.4L1165.1 180.4L1164.9 181.4L1164.8 182.4L1164.6 183.4L1164.5 184.4L1164.3 185.4L1164.2 186.4L1164 187.4L1163.9 188.4L1163.8 189.4L1163.7 190.4L1163.5 191.4L1163.4 192.4L1163.3 193.4L1163.2 194.4L1163.1 195.4L1162.9 196.4L1162.8 197.4L1162.7 198.4L1162.6 199.4L1162.5 200.4L1162.4 201.4L1162.3 202.4L1162.1 203.4L1162 204.4L1161.9 205.4L1161.8 206.4L1161.7 207.4L1161.6 208.4L1161.5 209.4L1161.4 210.4L1161.3 211.4L1161.2 212.4L1161.1 213.4L1161 214.4L1160.9 215.4L1160.8 216.4L1160.8 217.4L1160.7 218.4L1160.6 219.4L1160.5 220.4L1160.5 221.4L1160.4 222.4L1160.3 223.4L1160.3 224.4L1160.2 225.4L1160.1 226.4L1160.1 227.4L1160 228.4L1160 229.4L1159.9 230.4L1159.9 231.4L1159.8 232.4L1159.8 233.4L1159.8 234.4L1159.8 235.4L1159.7 236.4L1159.7 237.4L1159.7 238.4L1159.7 239.4L1159.7 240.4L1159.7 241.4L1159.7 242.4L1159.7 243.4L1159.7 244.4L1159.7 245.4L1159.7 246.4L1159.7 247.4L1159.7 248.4L1159.7 249.4L1159.7 250.4L1159.7 251.4L1159.7 252.4L1159.7 253.4L1159.7 254.4L1159.7 255.4L1159.7 256.4L1159.8 257.4L1159.8 258.4L1159.9 259.4L1159.9 260.4L1160 261.4L1160.1 262.4L1160.2 263.4L1160.3 264.4L1160.4 265.4L1160.5 266.4L1160.7 267.4L1160.8 268.4L1160.9 269.4L1161.1 270.4L1161.2 271.4L1161.4 272.4L1161.5 273.4L1161.6 274.4L1161.8 275.4L1161.9 276.4L1162.1 277.4L1162.3 278.4L1162.5 279.4L1162.7 280.4L1162.9 281.4L1163.1 282.4L1163.3 283.4L1163.5 284.4L1163.7 285.4L1163.9 286.4L1164.2 287.4L1164.4 288.4L1164.6 289.4L1164.8 290.4L1165 291.4L1165.2 292.4L1165.4 293.4L1165.6 294.4L1165.8 295.4L1166 296.4L1166.2 297.4L1166.4 298.4L1166.6 299.4L1166.8 300.4L1167 301.4L1167.3 302.4L1167.5 303.4L1167.8 304.4L1168.1 305.4L1168.4 306.4L1168.7 307.4L1169.1 308.4L1169.4 309.4L1169.7 310.4L1170 311.4L1170.3 312.4L1170.5 313.4L1170.8 314.4L1171.1 315.4L1171.3 316.4L1171.6 317.4L1171.8 318.1L1180.6 318.1 Z" fill="#f08080" fill-opacity="0.2"/><path d="M1248 123.6L1248 123.6L1247.6 124.6L1247.2 125.6L1246.8 126.6L1246.4 127.6L1246.1 128.6L1245.7 129.6L1245.4 130.6L1245.1 131.6L1244.8 132.6L1244.5 133.6L1244.2 134.6L1244 135.6L1243.7 136.6L1243.5 137.6L1243.3 138.6L1243 139.6L1242.8 140.6L1242.6 141.6L1242.3 142.6L1242.1 143.6L1241.9 144.6L1241.6 145.6L1241.4 146.6L1241.1 147.6L1240.8 148.6L1240.6 149.6L1240.3 150.6L1240 151.6L1239.7 152.6L1239.4 153.6L1239.1 154.6L1238.8 155.6L1238.5 156.6L1238.2 157.6L1237.9 158.6L1237.6 159.6L1237.3 160.6L1237 161.6L1236.7 162.6L1236.4 163.6L1236.1 164.6L1235.7 165.6L1235.4 166.6L1235 167.6L1234.7 168.6L1234.3 169.6L1233.9 170.6L1233.5 171.6L1233 172.6L1232.6 173.6L1232.2 174.6L1231.8 175.6L1231.5 176.6L1231.1 177.6L1230.8 178.6L1230.5 179.6L1230.2 180.6L1230 181.6L1229.8 182.6L1229.6 183.6L1229.4 184.6L1229.3 185.6L1229.1 186.6L1228.9 187.6L1228.8 188.6L1228.6 189.6L1228.5 190.6L1228.4 191.6L1228.3 192.6L1228.2 193.6L1228.1 194.6L1228 195.6L1227.9 196.6L1227.9 197.6L1227.8 198.6L1227.8 199.6L1227.8 200.6L1227.8 201.6L1227.8 202.6L1227.8 203.6L1227.8 204.6L1227.9 205.6L1227.9 206.6L1227.9 207.6L1227.9 208.6L1228 209.6L1228 210.6L1228 211.6L1228.1 212.6L1228.1 213.6L1228.2 214.6L1228.2 215.6L1228.3 216.6L1228.3 217.6L1228.4 218.6L1228.4 219.6L1228.5 220.6L1228.6 221.6L1228.7 222.6L1228.8 223.6L1229 224.6L1229.1 225.6L1229.3 226.6L1229.4 227.6L1229.6 228.6L1229.8 229.6L1230 230.6L1230.2 231.6L1230.3 232.6L1230.5 233.6L1230.7 234.6L1230.9 235.6L1231.1 236.6L1231.2 237.6L1231.4 238.6L1231.6 239.6L1231.8 240.6L1232 241.6L1232.1 242.6L1232.3 243.6L1232.5 244.6L1232.7 245.6L1232.9 246.6L1233.1 247.6L1233.3 248.6L1233.6 249.6L1233.8 250.6L1234 251.6L1234.2 252.6L1234.4 253.6L1234.6 254.6L1234.9 255.6L1235.1 256.6L1235.3 257.6L1235.6 258.6L1235.8 259.6L1236.1 260.6L1236.3 261.6L1236.6 262.6L1236.8 263.6L1237.1 264.6L1237.4 265.6L1237.6 266.6L1237.9 267.6L1238.1 268.6L1238.4 269.6L1238.7 270.6L1238.9 271.6L1239.1 272.6L1239.4 273.6L1239.6 274.6L1239.8 275.6L1240 276.6L1240.2 277.6L1240.4 278.6L1240.6 279.6L1240.8 280.6L1241 281.6L1241.2 282.6L1241.4 283.6L1241.6 284.6L1241.8 285.6L1242 286.6L1242.2 287.6L1242.4 288.6L1242.6 289.6L1242.8 290.6L1243 291.6L1243.2 292.6L1243.4 293.6L1243.6 294.6L1243.8 295.6L1244 296.6L1244.2 297.6L1244.4 298.6L1244.6 299.6L1244.8 300.6L1245 301.6L1245.2 302.6L1245.3 303.6L1245.5 304.6L1245.6 305.6L1245.8 306.6L1245.9 307.6L1246.1 308.6L1246.3 309.6L1246.4 310.6L1246.6 311.6L1246.8 312.6L1247 313.6L1247.2 314.6L1247.4 315.6L1247.6 316.6L1247.9 317.6L1248 318.1L1248 318.1 Z" fill="#40e0d0" fill-opacity="0.2"/><path d="M1278.9 128.8L1278.9 128.8L1278.7 129.8L1278.5 130.8L1278.3 131.8L1278.1 132.8L1277.9 133.8L1277.6 134.8L1277.4 135.8L1277.2 136.8L1277 137.8L1276.7 138.8L1276.5 139.8L1276.2 140.8L1276 141.8L1275.7 142.8L1275.5 143.8L1275.2 144.8L1275 145.8L1274.7 146.8L1274.5 147.8L1274.2 148.8L1273.9 149.8L1273.6 150.8L1273.3 151.8L1273 152.8L1272.7 153.8L1272.4 154.8L1272.1 155.8L1271.8 156.8L1271.5 157.8L1271.2 158.8L1270.9 159.8L1270.5 160.8L1270.2 161.8L1269.9 162.8L1269.6 163.8L1269.4 164.8L1269.1 165.8L1268.8 166.8L1268.5 167.8L1268.2 168.8L1268 169.8L1267.7 170.8L1267.4 171.8L1267.1 172.8L1266.9 173.8L1266.6 174.8L1266.3 175.8L1266.1 176.8L1265.9 177.8L1265.6 178.8L1265.4 179.8L1265.2 180.8L1265 181.8L1264.8 182.8L1264.7 183.8L1264.5 184.8L1264.4 185.8L1264.3 186.8L1264.1 187.8L1264 188.8L1263.9 189.8L1263.8 190.8L1263.6 191.8L1263.5 192.8L1263.4 193.8L1263.3 194.8L1263.2 195.8L1263.1 196.8L1263 197.8L1262.8 198.8L1262.7 199.8L1262.6 200.8L1262.4 201.8L1262.3 202.8L1262.1 203.8L1262 204.8L1261.8 205.8L1261.6 206.8L1261.5 207.8L1261.3 208.8L1261.2 209.8L1261 210.8L1260.8 211.8L1260.7 212.8L1260.5 213.8L1260.4 214.8L1260.2 215.8L1260.1 216.8L1260 217.8L1259.9 218.8L1259.7 219.8L1259.6 220.8L1259.5 221.8L1259.3 222.8L1259.2 223.8L1259.1 224.8L1258.9 225.8L1258.8 226.8L1258.7 227.8L1258.6 228.8L1258.5 229.8L1258.4 230.8L1258.3 231.8L1258.2 232.8L1258.1 233.8L1258.1 234.8L1258 235.8L1258 236.8L1258 237.8L1258 238.8L1258.1 239.8L1258.1 240.8L1258.1 241.8L1258.1 242.8L1258.2 243.8L1258.2 244.8L1258.3 245.8L1258.3 246.8L1258.4 247.8L1258.5 248.8L1258.5 249.8L1258.6 250.8L1258.7 251.8L1258.7 252.8L1258.8 253.8L1258.9 254.8L1259 255.8L1259.1 256.8L1259.2 257.8L1259.3 258.8L1259.5 259.8L1259.6 260.8L1259.8 261.8L1260 262.8L1260.2 263.8L1260.4 264.8L1260.6 265.8L1260.9 266.8L1261.1 267.8L1261.3 268.8L1261.6 269.8L1261.8 270.8L1262.1 271.8L1262.3 272.8L1262.6 273.8L1262.8 274.8L1263.1 275.8L1263.4 276.8L1263.7 277.8L1264 278.8L1264.3 279.8L1264.6 280.8L1264.9 281.8L1265.2 282.8L1265.5 283.8L1265.8 284.8L1266.1 285.8L1266.4 286.8L1266.7 287.8L1267 288.8L1267.3 289.8L1267.6 290.8L1267.9 291.8L1268.3 292.8L1268.6 293.8L1269 294.8L1269.4 295.8L1269.8 296.8L1270.3 297.8L1270.7 298.8L1271.1 299.8L1271.5 300.8L1271.9 301.8L1272.2 302.8L1272.5 303.8L1272.8 304.8L1273.1 305.8L1273.4 306.8L1273.7 307.8L1274 308.8L1274.3 309.8L1274.6 310.8L1274.9 311.8L1275.1 312.8L1275.4 313.8L1275.7 314.8L1276 315.8L1276.2 316.8L1276.5 317.8L1276.6 318.1L1278.9 318.1 Z" fill="#1e90ff" fill-opacity="0.2"/><path d="M1310.1 139.9L1310.1 139.9L1309.8 140.9L1309.5 141.9L1309.2 142.9L1308.9 143.9L1308.6 144.9L1308.4 145.9L1308.1 146.9L1307.8 147.9L1307.5 148.9L1307.3 149.9L1307 150.9L1306.8 151.9L1306.5 152.9L1306.3 153.9L1306 154.9L1305.8 155.9L1305.5 156.9L1305.3 157.9L1305.1 158.9L1304.8 159.9L1304.6 160.9L1304.3 161.9L1304.1 162.9L1303.8 163.9L1303.6 164.9L1303.3 165.9L1303 166.9L1302.7 167.9L1302.4 168.9L1302.1 169.9L1301.8 170.9L1301.4 171.9L1301.1 172.9L1300.8 173.9L1300.5 174.9L1300.1 175.9L1299.8 176.9L1299.5 177.9L1299.2 178.9L1298.9 179.9L1298.7 180.9L1298.4 181.9L1298.2 182.9L1298 183.9L1297.8 184.9L1297.6 185.9L1297.4 186.9L1297.2 187.9L1297 188.9L1296.8 189.9L1296.7 190.9L1296.5 191.9L1296.3 192.9L1296.2 193.9L1296 194.9L1295.8 195.9L1295.7 196.9L1295.5 197.9L1295.3 198.9L1295.1 199.9L1294.9 200.9L1294.7 201.9L1294.5 202.9L1294.3 203.9L1294.1 204.9L1293.9 205.9L1293.7 206.9L1293.4 207.9L1293.2 208.9L1293 209.9L1292.8 210.9L1292.6 211.9L1292.4 212.9L1292.2 213.9L1292 214.9L1291.8 215.9L1291.7 216.9L1291.5 217.9L1291.4 218.9L1291.2 219.9L1291.1 220.9L1291 221.9L1290.8 222.9L1290.7 223.9L1290.5 224.9L1290.4 225.9L1290.3 226.9L1290.2 227.9L1290.1 228.9L1289.9 229.9L1289.9 230.9L1289.8 231.9L1289.7 232.9L1289.6 233.9L1289.6 234.9L1289.6 235.9L1289.6 236.9L1289.6 237.9L1289.6 238.9L1289.6 239.9L1289.6 240.9L1289.6 241.9L1289.6 242.9L1289.7 243.9L1289.7 244.9L1289.7 245.9L1289.7 246.9L1289.8 247.9L1289.8 248.9L1289.9 249.9L1289.9 250.9L1289.9 251.9L1290 252.9L1290 253.9L1290.1 254.9L1290.1 255.9L1290.2 256.9L1290.3 257.9L1290.3 258.9L1290.4 259.9L1290.5 260.9L1290.6 261.9L1290.7 262.9L1290.9 263.9L1291 264.9L1291.1 265.9L1291.3 266.9L1291.4 267.9L1291.5 268.9L1291.7 269.9L1291.8 270.9L1292 271.9L1292.1 272.9L1292.3 273.9L1292.5 274.9L1292.6 275.9L1292.8 276.9L1292.9 277.9L1293.1 278.9L1293.3 279.9L1293.5 280.9L1293.7 281.9L1293.9 282.9L1294.1 283.9L1294.3 284.9L1294.5 285.9L1294.7 286.9L1294.9 287.9L1295.1 288.9L1295.4 289.9L1295.6 290.9L1295.8 291.9L1296.1 292.9L1296.4 293.9L1296.6 294.9L1296.9 295.9L1297.2 296.9L1297.5 297.9L1297.9 298.9L1298.2 299.9L1298.5 300.9L1298.8 301.9L1299.1 302.9L1299.4 303.9L1299.7 304.9L1300 305.9L1300.3 306.9L1300.6 307.9L1300.9 308.9L1301.2 309.9L1301.5 310.9L1301.8 311.9L1302.1 312.9L1302.3 313.9L1302.6 314.9L1302.9 315.9L1303.1 316.9L1303.4 317.9L1303.5 318.1L1310.1 318.1 Z" fill="#f08080" fill-opacity="0.2"/><path d="M1377.6 138.2L1377.6 138.2L1377.3 139.2L1376.9 140.2L1376.6 141.2L1376.3 142.2L1375.9 143.2L1375.6 144.2L1375.3 145.2L1375 146.2L1374.6 147.2L1374.3 148.2L1374 149.2L1373.7 150.2L1373.4 151.2L1373.1 152.2L1372.8 153.2L1372.5 154.2L1372.2 155.2L1372 156.2L1371.7 157.2L1371.4 158.2L1371.1 159.2L1370.8 160.2L1370.5 161.2L1370.2 162.2L1369.9 163.2L1369.6 164.2L1369.2 165.2L1368.9 166.2L1368.5 167.2L1368.1 168.2L1367.7 169.2L1367.3 170.2L1366.9 171.2L1366.5 172.2L1366 173.2L1365.6 174.2L1365.2 175.2L1364.7 176.2L1364.3 177.2L1363.9 178.2L1363.5 179.2L1363.1 180.2L1362.8 181.2L1362.4 182.2L1362.1 183.2L1361.8 184.2L1361.4 185.2L1361.1 186.2L1360.8 187.2L1360.4 188.2L1360.1 189.2L1359.8 190.2L1359.5 191.2L1359.2 192.2L1358.9 193.2L1358.7 194.2L1358.4 195.2L1358.2 196.2L1358 197.2L1357.8 198.2L1357.7 199.2L1357.6 200.2L1357.5 201.2L1357.4 202.2L1357.3 203.2L1357.3 204.2L1357.2 205.2L1357.1 206.2L1357.1 207.2L1357.1 208.2L1357.1 209.2L1357.1 210.2L1357.1 211.2L1357.1 212.2L1357.1 213.2L1357.1 214.2L1357.1 215.2L1357.2 216.2L1357.2 217.2L1357.2 218.2L1357.3 219.2L1357.4 220.2L1357.5 221.2L1357.6 222.2L1357.7 223.2L1357.9 224.2L1358.1 225.2L1358.3 226.2L1358.4 227.2L1358.6 228.2L1358.8 229.2L1359 230.2L1359.3 231.2L1359.5 232.2L1359.8 233.2L1360 234.2L1360.3 235.2L1360.5 236.2L1360.8 237.2L1361 238.2L1361.3 239.2L1361.6 240.2L1361.8 241.2L1362.1 242.2L1362.3 243.2L1362.6 244.2L1362.9 245.2L1363.1 246.2L1363.4 247.2L1363.7 248.2L1364 249.2L1364.3 250.2L1364.6 251.2L1364.9 252.2L1365.2 253.2L1365.5 254.2L1365.8 255.2L1366.1 256.2L1366.5 257.2L1366.8 258.2L1367.2 259.2L1367.5 260.2L1367.9 261.2L1368.2 262.2L1368.6 263.2L1368.9 264.2L1369.2 265.2L1369.5 266.2L1369.8 267.2L1370 268.2L1370.3 269.2L1370.5 270.2L1370.8 271.2L1371 272.2L1371.3 273.2L1371.5 274.2L1371.8 275.2L1372 276.2L1372.3 277.2L1372.5 278.2L1372.8 279.2L1373 280.2L1373.2 281.2L1373.5 282.2L1373.7 283.2L1373.9 284.2L1374.1 285.2L1374.3 286.2L1374.5 287.2L1374.7 288.2L1374.9 289.2L1375.1 290.2L1375.3 291.2L1375.5 292.2L1375.7 293.2L1376 294.2L1376.2 295.2L1376.5 296.2L1376.7 297.2L1377 298.2L1377.3 299.2L1377.6 300.1L1377.6 300.1 Z" fill="#40e0d0" fill-opacity="0.2"/><path d="M1408.6 137.3L1408.6 137.3L1408.4 138.3L1408.3 139.3L1408.2 140.3L1408.1 141.3L1407.9 142.3L1407.8 143.3L1407.7 144.3L1407.6 145.3L1407.4 146.3L1407.3 147.3L1407.2 148.3L1407 149.3L1406.9 150.3L1406.7 151.3L1406.6 152.3L1406.4 153.3L1406.3 154.3L1406.2 155.3L1406 156.3L1405.9 157.3L1405.7 158.3L1405.6 159.3L1405.4 160.3L1405.3 161.3L1405.1 162.3L1405 163.3L1404.8 164.3L1404.7 165.3L1404.6 166.3L1404.4 167.3L1404.3 168.3L1404.1 169.3L1404 170.3L1403.8 171.3L1403.7 172.3L1403.6 173.3L1403.4 174.3L1403.3 175.3L1403.1 176.3L1403 177.3L1402.8 178.3L1402.6 179.3L1402.4 180.3L1402.1 181.3L1401.8 182.3L1401.5 183.3L1401.2 184.3L1400.8 185.3L1400.4 186.3L1400 187.3L1399.6 188.3L1399.2 189.3L1398.9 190.3L1398.5 191.3L1398.1 192.3L1397.6 193.3L1397.2 194.3L1396.8 195.3L1396.3 196.3L1395.9 197.3L1395.5 198.3L1395.1 199.3L1394.8 200.3L1394.4 201.3L1394.1 202.3L1393.8 203.3L1393.5 204.3L1393.3 205.3L1393 206.3L1392.7 207.3L1392.4 208.3L1392.1 209.3L1391.8 210.3L1391.5 211.3L1391.1 212.3L1390.8 213.3L1390.4 214.3L1390.1 215.3L1389.8 216.3L1389.5 217.3L1389.4 218.3L1389.2 219.3L1389.1 220.3L1389 221.3L1388.9 222.3L1388.8 223.3L1388.7 224.3L1388.7 225.3L1388.6 226.3L1388.6 227.3L1388.6 228.3L1388.7 229.3L1388.8 230.3L1388.9 231.3L1389.1 232.3L1389.3 233.3L1389.5 234.3L1389.7 235.3L1389.9 236.3L1390.1 237.3L1390.3 238.3L1390.5 239.3L1390.7 240.3L1390.9 241.3L1391.1 242.3L1391.3 243.3L1391.5 244.3L1391.7 245.3L1391.9 246.3L1392.1 247.3L1392.3 248.3L1392.5 249.3L1392.7 250.3L1392.9 251.3L1393.1 252.3L1393.3 253.3L1393.5 254.3L1393.7 255.3L1393.9 256.3L1394.1 257.3L1394.3 258.3L1394.5 259.3L1394.7 260.3L1394.9 261.3L1395.1 262.3L1395.3 263.3L1395.5 264.3L1395.7 265.3L1395.9 266.3L1396.1 267.3L1396.3 268.3L1396.5 269.3L1396.7 270.3L1396.9 271.3L1397.1 272.3L1397.3 273.3L1397.5 274.3L1397.7 275.3L1397.9 276.3L1398.1 277.3L1398.3 278.3L1398.5 279.3L1398.7 280.3L1398.9 281.3L1399.1 282.3L1399.3 283.3L1399.5 284.3L1399.7 285.3L1399.9 286.3L1400.1 287.3L1400.3 288.3L1400.5 289.3L1400.7 290.3L1400.9 291.3L1401.1 292.3L1401.3 293.3L1401.5 294.3L1401.7 295.3L1401.9 296.3L1402.1 297.3L1402.3 298.3L1402.5 299.3L1402.7 300.3L1402.9 301.3L1403.1 302.3L1403.3 303.3L1403.5 304.3L1403.8 305.3L1404 306.3L1404.2 307.3L1404.4 308.3L1404.6 309.3L1404.8 310.3L1404.9 311.3L1405.1 312.3L1405.2 313.3L1405.4 314.3L1405.5 315.3L1405.6 316.3L1405.7 317.3L1405.8 318.1L1408.6 318.1 Z" fill="#1e90ff" fill-opacity="0.2"/><path d="M1439.3 168.2L1439.3 168.2L1439.2 169.2L1439 170.2L1438.7 171.2L1438.5 172.2L1438.3 173.2L1438 174.2L1437.8 175.2L1437.5 176.2L1437.2 177.2L1436.9 178.2L1436.6 179.2L1436.3 180.2L1436 181.2L1435.6 182.2L1435.2 183.2L1434.8 184.2L1434.4 185.2L1434 186.2L1433.6 187.2L1433.2 188.2L1432.8 189.2L1432.4 190.2L1432 191.2L1431.7 192.2L1431.3 193.2L1430.9 194.2L1430.6 195.2L1430.2 196.2L1429.9 197.2L1429.5 198.2L1429.2 199.2L1428.9 200.2L1428.6 201.2L1428.2 202.2L1427.9 203.2L1427.6 204.2L1427.3 205.2L1427 206.2L1426.7 207.2L1426.4 208.2L1426.1 209.2L1425.8 210.2L1425.5 211.2L1425.2 212.2L1424.9 213.2L1424.6 214.2L1424.3 215.2L1424 216.2L1423.7 217.2L1423.5 218.2L1423.3 219.2L1423.2 220.2L1423 221.2L1422.9 222.2L1422.8 223.2L1422.7 224.2L1422.6 225.2L1422.5 226.2L1422.3 227.2L1422.2 228.2L1422.1 229.2L1421.9 230.2L1421.7 231.2L1421.5 232.2L1421.3 233.2L1421.1 234.2L1421 235.2L1420.8 236.2L1420.7 237.2L1420.6 238.2L1420.5 239.2L1420.4 240.2L1420.3 241.2L1420.2 242.2L1420.1 243.2L1420 244.2L1419.9 245.2L1419.9 246.2L1419.8 247.2L1419.7 248.2L1419.7 249.2L1419.6 250.2L1419.6 251.2L1419.5 252.2L1419.5 253.2L1419.4 254.2L1419.4 255.2L1419.4 256.2L1419.3 257.2L1419.3 258.2L1419.3 259.2L1419.2 260.2L1419.2 261.2L1419.2 262.2L1419.2 263.2L1419.2 264.2L1419.2 265.2L1419.2 266.2L1419.3 267.2L1419.3 268.2L1419.4 269.2L1419.6 270.2L1419.7 271.2L1419.8 272.2L1420 273.2L1420.1 274.2L1420.3 275.2L1420.5 276.2L1420.7 277.2L1421 278.2L1421.3 279.2L1421.6 280.2L1421.9 281.2L1422.2 282.2L1422.4 283.2L1422.7 284.2L1423 285.2L1423.3 286.2L1423.6 287.2L1423.9 288.2L1424.2 289.2L1424.5 290.2L1424.8 291.2L1425.1 292.2L1425.4 293.2L1425.7 294.2L1426 295.2L1426.3 296.2L1426.6 297.2L1426.9 298.2L1427.2 299.2L1427.5 300.2L1427.8 301.2L1428.1 302.2L1428.4 303.2L1428.8 304.2L1429.1 305.2L1429.4 306.2L1429.7 307.2L1430 308.2L1430.3 309.2L1430.6 310.2L1430.8 311.2L1431.1 312.2L1431.3 313.2L1431.6 314.2L1431.8 315.2L1432 316.2L1432.2 317.2L1432.4 318.1L1439.3 318.1 Z" fill="#f08080" fill-opacity="0.2"/><path d="M1507.4 110.8L1507.4 110.8L1506.7 111.8L1506 112.8L1505.4 113.8L1504.9 114.8L1504.4 115.8L1503.9 116.8L1503.5 117.8L1503.1 118.8L1502.7 119.8L1502.3 120.8L1502 121.8L1501.7 122.8L1501.5 123.8L1501.2 124.8L1500.9 125.8L1500.7 126.8L1500.4 127.8L1500.3 128.8L1500.1 129.8L1500.1 130.8L1500 131.8L1500.1 132.8L1500.1 133.8L1500.2 134.8L1500.2 135.8L1500.3 136.8L1500.4 137.8L1500.5 138.8L1500.5 139.8L1500.6 140.8L1500.8 141.8L1500.9 142.8L1501.1 143.8L1501.2 144.8L1501.4 145.8L1501.5 146.8L1501.7 147.8L1501.8 148.8L1501.9 149.8L1502.1 150.8L1502.2 151.8L1502.3 152.8L1502.4 153.8L1502.5 154.8L1502.6 155.8L1502.6 156.8L1502.6 157.8L1502.5 158.8L1502.4 159.8L1502.2 160.8L1502 161.8L1501.7 162.8L1501.4 163.8L1501.1 164.8L1500.8 165.8L1500.4 166.8L1499.9 167.8L1499.3 168.8L1498.7 169.8L1498 170.8L1497.3 171.8L1496.6 172.8L1496 173.8L1495.4 174.8L1494.7 175.8L1494.1 176.8L1493.4 177.8L1492.8 178.8L1492.2 179.8L1491.6 180.8L1491.1 181.8L1490.6 182.8L1490.1 183.8L1489.7 184.8L1489.2 185.8L1488.8 186.8L1488.4 187.8L1488.1 188.8L1487.8 189.8L1487.6 190.8L1487.5 191.8L1487.4 192.8L1487.2 193.8L1487.1 194.8L1487.1 195.8L1487 196.8L1486.9 197.8L1486.9 198.8L1486.9 199.8L1486.9 200.8L1487 201.8L1487.1 202.8L1487.2 203.8L1487.4 204.8L1487.6 205.8L1487.8 206.8L1488 207.8L1488.3 208.8L1488.5 209.8L1488.8 210.8L1489.1 211.8L1489.4 212.8L1489.8 213.8L1490.2 214.8L1490.6 215.8L1491 216.8L1491.4 217.8L1491.8 218.8L1492.2 219.8L1492.6 220.8L1493.1 221.8L1493.5 222.8L1493.9 223.8L1494.4 224.8L1494.8 225.8L1495.3 226.8L1495.8 227.8L1496.3 228.8L1496.8 229.8L1497.3 230.8L1497.8 231.8L1498.3 232.8L1498.8 233.8L1499.3 234.8L1499.8 235.8L1500.3 236.8L1500.7 237.8L1501.2 238.8L1501.6 239.8L1502 240.8L1502.4 241.8L1502.8 242.8L1503.2 243.8L1503.6 244.8L1503.9 245.8L1504.3 246.8L1504.6 247.8L1504.9 248.8L1505.3 249.8L1505.6 250.8L1505.9 251.8L1506.2 252.8L1506.5 253.8L1506.7 254.8L1507 255.8L1507.2 256.8L1507.4 257.5L1507.4 257.5 Z" fill="#40e0d0" fill-opacity="0.2"/><path d="M1538.4 86L1538.4 86L1538.1 87L1537.8 88L1537.5 89L1537.2 90L1536.9 91L1536.6 92L1536.3 93L1536 94L1535.7 95L1535.4 96L1535.2 97L1534.9 98L1534.6 99L1534.4 100L1534.1 101L1533.8 102L1533.6 103L1533.3 104L1533.1 105L1532.8 106L1532.6 107L1532.3 108L1532.1 109L1531.8 110L1531.6 111L1531.4 112L1531.1 113L1530.9 114L1530.7 115L1530.5 116L1530.2 117L1530 118L1529.8 119L1529.6 120L1529.4 121L1529.2 122L1529 123L1528.8 124L1528.6 125L1528.4 126L1528.2 127L1528 128L1527.8 129L1527.7 130L1527.5 131L1527.3 132L1527.1 133L1527 134L1526.8 135L1526.6 136L1526.5 137L1526.3 138L1526.2 139L1526 140L1525.9 141L1525.7 142L1525.6 143L1525.4 144L1525.3 145L1525.2 146L1525 147L1524.9 148L1524.8 149L1524.7 150L1524.6 151L1524.5 152L1524.4 153L1524.3 154L1524.2 155L1524.1 156L1524 157L1523.9 158L1523.8 159L1523.7 160L1523.6 161L1523.5 162L1523.4 163L1523.3 164L1523.2 165L1523.1 166L1523 167L1522.9 168L1522.8 169L1522.7 170L1522.6 171L1522.5 172L1522.4 173L1522.3 174L1522.2 175L1522.1 176L1522 177L1521.9 178L1521.8 179L1521.7 180L1521.6 181L1521.5 182L1521.4 183L1521.3 184L1521.2 185L1521.1 186L1521 187L1521 188L1520.9 189L1520.8 190L1520.7 191L1520.6 192L1520.5 193L1520.4 194L1520.3 195L1520.3 196L1520.2 197L1520.1 198L1520 199L1519.9 200L1519.8 201L1519.7 202L1519.6 203L1519.4 204L1519.3 205L1519.2 206L1519 207L1518.9 208L1518.8 209L1518.7 210L1518.5 211L1518.4 212L1518.3 213L1518.2 214L1518.2 215L1518.1 216L1518.1 217L1518 218L1518 219L1518 220L1518 221L1518 222L1518.1 223L1518.1 224L1518.1 225L1518.1 226L1518.1 227L1518.1 228L1518.2 229L1518.2 230L1518.2 231L1518.2 232L1518.3 233L1518.3 234L1518.3 235L1518.4 236L1518.4 237L1518.4 238L1518.5 239L1518.6 240L1518.7 241L1518.8 242L1518.9 243L1519 244L1519.1 245L1519.3 246L1519.4 247L1519.6 248L1519.7 249L1519.9 250L1520.1 251L1520.2 252L1520.4 253L1520.5 254L1520.7 255L1520.9 256L1521 257L1521.2 258L1521.4 259L1521.5 260L1521.7 261L1521.9 262L1522.1 263L1522.3 264L1522.5 265L1522.7 266L1522.9 267L1523.1 268L1523.3 269L1523.5 270L1523.8 271L1524 272L1524.2 273L1524.5 274L1524.7 275L1525 276L1525.3 277L1525.6 278L1525.9 279L1526.2 280L1526.5 281L1526.9 282L1527.2 283L1527.5 284L1527.8 285L1528.1 286L1528.4 287L1528.7 288L1529 289L1529.3 290L1529.6 291L1529.9 292L1530.2 293L1530.5 294L1530.8 295L1531.1 296L1531.4 297L1531.7 298L1532 299L1532.3 300L1532.6 301L1532.9 302L1533.1 303L1533.3 304L1533.5 305L1533.8 306L1534 307L1534.2 308L1534.3 309L1534.5 310L1534.7 311L1534.8 312L1535 313L1535.1 314L1535.3 315L1535.4 316L1535.5 317L1535.6 318L1535.6 318.1L1538.4 318.1 Z" fill="#1e90ff" fill-opacity="0.2"/><path d="M1569.5 86.8L1569.5 86.8L1569.3 87.8L1569 88.8L1568.7 89.8L1568.4 90.8L1568.2 91.8L1567.9 92.8L1567.6 93.8L1567.4 94.8L1567.1 95.8L1566.9 96.8L1566.6 97.8L1566.3 98.8L1566.1 99.8L1565.8 100.8L1565.6 101.8L1565.3 102.8L1565.1 103.8L1564.8 104.8L1564.6 105.8L1564.3 106.8L1564.1 107.8L1563.9 108.8L1563.6 109.8L1563.4 110.8L1563.1 111.8L1562.9 112.8L1562.6 113.8L1562.4 114.8L1562.1 115.8L1561.8 116.8L1561.6 117.8L1561.3 118.8L1561 119.8L1560.8 120.8L1560.5 121.8L1560.2 122.8L1560 123.8L1559.7 124.8L1559.5 125.8L1559.2 126.8L1559 127.8L1558.7 128.8L1558.5 129.8L1558.3 130.8L1558.1 131.8L1558 132.8L1557.8 133.8L1557.6 134.8L1557.4 135.8L1557.3 136.8L1557.1 137.8L1556.9 138.8L1556.8 139.8L1556.6 140.8L1556.5 141.8L1556.3 142.8L1556.2 143.8L1556.1 144.8L1556 145.8L1555.8 146.8L1555.7 147.8L1555.6 148.8L1555.5 149.8L1555.4 150.8L1555.3 151.8L1555.2 152.8L1555.1 153.8L1555 154.8L1554.9 155.8L1554.8 156.8L1554.8 157.8L1554.7 158.8L1554.6 159.8L1554.5 160.8L1554.5 161.8L1554.4 162.8L1554.4 163.8L1554.3 164.8L1554.3 165.8L1554.3 166.8L1554.2 167.8L1554.2 168.8L1554.2 169.8L1554.2 170.8L1554.2 171.8L1554.1 172.8L1554.1 173.8L1554.1 174.8L1554.1 175.8L1554.1 176.8L1554.1 177.8L1554 178.8L1554 179.8L1554 180.8L1554 181.8L1554 182.8L1553.9 183.8L1553.9 184.8L1553.9 185.8L1553.8 186.8L1553.8 187.8L1553.8 188.8L1553.7 189.8L1553.7 190.8L1553.7 191.8L1553.6 192.8L1553.6 193.8L1553.5 194.8L1553.5 195.8L1553.4 196.8L1553.4 197.8L1553.3 198.8L1553.3 199.8L1553.2 200.8L1553.1 201.8L1553.1 202.8L1553 203.8L1552.9 204.8L1552.8 205.8L1552.7 206.8L1552.6 207.8L1552.5 208.8L1552.4 209.8L1552.3 210.8L1552.1 211.8L1552 212.8L1551.9 213.8L1551.8 214.8L1551.7 215.8L1551.6 216.8L1551.5 217.8L1551.4 218.8L1551.3 219.8L1551.2 220.8L1551.1 221.8L1551 222.8L1550.8 223.8L1550.7 224.8L1550.6 225.8L1550.5 226.8L1550.4 227.8L1550.3 228.8L1550.2 229.8L1550.1 230.8L1550 231.8L1549.9 232.8L1549.8 233.8L1549.7 234.8L1549.6 235.8L1549.6 236.8L1549.5 237.8L1549.4 238.8L1549.4 239.8L1549.3 240.8L1549.2 241.8L1549.2 242.8L1549.1 243.8L1549 244.8L1549 245.8L1548.9 246.8L1548.9 247.8L1548.8 248.8L1548.8 249.8L1548.7 250.8L1548.7 251.8L1548.7 252.8L1548.6 253.8L1548.6 254.8L1548.6 255.8L1548.6 256.8L1548.6 257.8L1548.6 258.8L1548.6 259.8L1548.6 260.8L1548.6 261.8L1548.6 262.8L1548.6 263.8L1548.6 264.8L1548.7 265.8L1548.7 266.8L1548.8 267.8L1549 268.8L1549.2 269.8L1549.3 270.8L1549.5 271.8L1549.7 272.8L1549.9 273.8L1550 274.8L1550.2 275.8L1550.3 276.8L1550.5 277.8L1550.6 278.8L1550.8 279.8L1550.9 280.8L1551.1 281.8L1551.3 282.8L1551.5 283.8L1551.7 284.8L1551.9 285.8L1552.2 286.8L1552.4 287.8L1552.6 288.8L1552.9 289.8L1553.2 290.8L1553.4 291.8L1553.7 292.8L1553.9 293.8L1554.2 294.8L1554.5 295.8L1554.7 296.8L1555 297.8L1555.3 298.8L1555.5 299.8L1555.8 300.8L1556 301.8L1556.2 302.8L1556.4 303.8L1556.6 304.8L1556.8 305.8L1557 306.8L1557.2 307.8L1557.4 308.8L1557.6 309.8L1557.8 310.8L1558 311.8L1558.3 312.8L1558.5 313.8L1558.8 314.8L1559.1 315.8L1559.4 316.8L1559.7 317.8L1559.8 318.1L1569.5 318.1 Z" fill="#f08080" fill-opacity="0.2"/><path d="M1636.3 85.1L1636.3 85.1L1635.9 86.1L1635.5 87.1L1635.1 88.1L1634.7 89.1L1634.3 90.1L1634 91.1L1633.7 92.1L1633.4 93.1L1633.1 94.1L1632.9 95.1L1632.7 96.1L1632.5 97.1L1632.4 98.1L1632.3 99.1L1632.2 100.1L1632.1 101.1L1632 102.1L1631.9 103.1L1631.8 104.1L1631.7 105.1L1631.6 106.1L1631.6 107.1L1631.5 108.1L1631.4 109.1L1631.4 110.1L1631.3 111.1L1631.3 112.1L1631.2 113.1L1631.2 114.1L1631.1 115.1L1631.1 116.1L1631 117.1L1631 118.1L1630.9 119.1L1630.9 120.1L1630.9 121.1L1630.9 122.1L1630.8 123.1L1630.8 124.1L1630.8 125.1L1630.7 126.1L1630.7 127.1L1630.6 128.1L1630.6 129.1L1630.5 130.1L1630.5 131.1L1630.4 132.1L1630.3 133.1L1630.2 134.1L1630.1 135.1L1630 136.1L1629.9 137.1L1629.7 138.1L1629.6 139.1L1629.4 140.1L1629.2 141.1L1629 142.1L1628.7 143.1L1628.5 144.1L1628.2 145.1L1628 146.1L1627.7 147.1L1627.5 148.1L1627.2 149.1L1627 150.1L1626.8 151.1L1626.6 152.1L1626.4 153.1L1626.2 154.1L1626 155.1L1625.9 156.1L1625.7 157.1L1625.5 158.1L1625.3 159.1L1625.1 160.1L1624.9 161.1L1624.7 162.1L1624.5 163.1L1624.3 164.1L1624.1 165.1L1623.9 166.1L1623.7 167.1L1623.5 168.1L1623.3 169.1L1623.1 170.1L1622.9 171.1L1622.7 172.1L1622.5 173.1L1622.3 174.1L1622.1 175.1L1621.9 176.1L1621.7 177.1L1621.5 178.1L1621.3 179.1L1621.1 180.1L1620.9 181.1L1620.7 182.1L1620.5 183.1L1620.2 184.1L1620 185.1L1619.8 186.1L1619.6 187.1L1619.3 188.1L1619.1 189.1L1618.9 190.1L1618.7 191.1L1618.4 192.1L1618.2 193.1L1618 194.1L1617.8 195.1L1617.6 196.1L1617.5 197.1L1617.3 198.1L1617.2 199.1L1617 200.1L1616.9 201.1L1616.8 202.1L1616.7 203.1L1616.6 204.1L1616.5 205.1L1616.4 206.1L1616.4 207.1L1616.3 208.1L1616.3 209.1L1616.3 210.1L1616.4 211.1L1616.4 212.1L1616.5 213.1L1616.6 214.1L1616.7 215.1L1616.8 216.1L1616.9 217.1L1617 218.1L1617.1 219.1L1617.3 220.1L1617.5 221.1L1617.8 222.1L1618 223.1L1618.3 224.1L1618.6 225.1L1618.9 226.1L1619.3 227.1L1619.6 228.1L1619.9 229.1L1620.3 230.1L1620.7 231.1L1621.1 232.1L1621.5 233.1L1621.9 234.1L1622.4 235.1L1622.8 236.1L1623.2 237.1L1623.6 238.1L1624 239.1L1624.4 240.1L1624.9 241.1L1625.3 242.1L1625.7 243.1L1626.1 244.1L1626.5 245.1L1626.8 246.1L1627.2 247.1L1627.5 248.1L1627.8 249.1L1628.1 250.1L1628.4 251.1L1628.7 252.1L1629 253.1L1629.3 254.1L1629.5 255.1L1629.8 256.1L1630.1 257.1L1630.3 258.1L1630.6 259.1L1630.8 260.1L1631 261.1L1631.3 262.1L1631.5 263.1L1631.7 264.1L1631.9 265.1L1632.2 266.1L1632.4 267.1L1632.6 268.1L1632.8 269.1L1633.1 270.1L1633.3 271.1L1633.5 272.1L1633.7 273.1L1633.9 274.1L1634.2 275.1L1634.4 276.1L1634.6 277.1L1634.8 278.1L1635.1 279.1L1635.3 280.1L1635.5 281.1L1635.8 282.1L1636 283.1L1636.2 284.1L1636.3 284.4L1636.3 284.4 Z" fill="#40e0d0" fill-opacity="0.2"/><path d="M1667.6 78.3L1667.6 78.3L1667.4 79.3L1667.2 80.3L1667 81.3L1666.8 82.3L1666.5 83.3L1666.3 84.3L1666.1 85.3L1665.9 86.3L1665.6 87.3L1665.4 88.3L1665.2 89.3L1664.9 90.3L1664.7 91.3L1664.5 92.3L1664.2 93.3L1664 94.3L1663.8 95.3L1663.5 96.3L1663.3 97.3L1663 98.3L1662.8 99.3L1662.5 100.3L1662.3 101.3L1662 102.3L1661.8 103.3L1661.5 104.3L1661.3 105.3L1661 106.3L1660.7 107.3L1660.5 108.3L1660.2 109.3L1660 110.3L1659.7 111.3L1659.5 112.3L1659.3 113.3L1659 114.3L1658.8 115.3L1658.6 116.3L1658.4 117.3L1658.2 118.3L1658 119.3L1657.7 120.3L1657.5 121.3L1657.3 122.3L1657.1 123.3L1656.9 124.3L1656.7 125.3L1656.5 126.3L1656.4 127.3L1656.2 128.3L1656 129.3L1655.8 130.3L1655.6 131.3L1655.5 132.3L1655.3 133.3L1655.1 134.3L1655 135.3L1654.8 136.3L1654.6 137.3L1654.5 138.3L1654.3 139.3L1654.2 140.3L1654 141.3L1653.9 142.3L1653.7 143.3L1653.6 144.3L1653.5 145.3L1653.3 146.3L1653.2 147.3L1653.1 148.3L1653 149.3L1652.8 150.3L1652.7 151.3L1652.6 152.3L1652.5 153.3L1652.4 154.3L1652.3 155.3L1652.2 156.3L1652.1 157.3L1652 158.3L1651.9 159.3L1651.8 160.3L1651.7 161.3L1651.6 162.3L1651.6 163.3L1651.5 164.3L1651.4 165.3L1651.3 166.3L1651.2 167.3L1651.1 168.3L1651 169.3L1651 170.3L1650.9 171.3L1650.8 172.3L1650.7 173.3L1650.7 174.3L1650.6 175.3L1650.5 176.3L1650.4 177.3L1650.3 178.3L1650.3 179.3L1650.2 180.3L1650.1 181.3L1650 182.3L1649.9 183.3L1649.8 184.3L1649.7 185.3L1649.6 186.3L1649.5 187.3L1649.4 188.3L1649.3 189.3L1649.2 190.3L1649.1 191.3L1648.9 192.3L1648.8 193.3L1648.7 194.3L1648.6 195.3L1648.5 196.3L1648.4 197.3L1648.3 198.3L1648.3 199.3L1648.2 200.3L1648.1 201.3L1648.1 202.3L1648 203.3L1647.9 204.3L1647.9 205.3L1647.8 206.3L1647.7 207.3L1647.7 208.3L1647.6 209.3L1647.5 210.3L1647.5 211.3L1647.4 212.3L1647.4 213.3L1647.4 214.3L1647.3 215.3L1647.3 216.3L1647.3 217.3L1647.3 218.3L1647.3 219.3L1647.3 220.3L1647.3 221.3L1647.3 222.3L1647.3 223.3L1647.4 224.3L1647.4 225.3L1647.4 226.3L1647.4 227.3L1647.5 228.3L1647.5 229.3L1647.6 230.3L1647.6 231.3L1647.6 232.3L1647.7 233.3L1647.7 234.3L1647.8 235.3L1647.8 236.3L1647.9 237.3L1647.9 238.3L1648 239.3L1648 240.3L1648.1 241.3L1648.2 242.3L1648.3 243.3L1648.3 244.3L1648.4 245.3L1648.5 246.3L1648.6 247.3L1648.7 248.3L1648.9 249.3L1649 250.3L1649.1 251.3L1649.2 252.3L1649.4 253.3L1649.5 254.3L1649.6 255.3L1649.8 256.3L1650 257.3L1650.2 258.3L1650.4 259.3L1650.7 260.3L1650.9 261.3L1651.2 262.3L1651.5 263.3L1651.8 264.3L1652 265.3L1652.3 266.3L1652.6 267.3L1652.9 268.3L1653.2 269.3L1653.5 270.3L1653.8 271.3L1654.1 272.3L1654.4 273.3L1654.7 274.3L1655 275.3L1655.4 276.3L1655.7 277.3L1656 278.3L1656.3 279.3L1656.6 280.3L1656.9 281.3L1657.2 282.3L1657.4 283.3L1657.7 284.3L1658 285.3L1658.2 286.3L1658.4 287.3L1658.7 288.3L1658.9 289.3L1659.1 290.3L1659.4 291.3L1659.6 292.3L1659.9 293.3L1660.1 294.3L1660.4 295.3L1660.7 296.3L1660.9 297.3L1661.2 298.3L1661.5 299.3L1661.7 300.3L1662 301.3L1662.2 302.3L1662.4 303.3L1662.6 304.3L1662.8 305.3L1663.1 306.3L1663.3 307.3L1663.5 308.3L1663.6 309.3L1663.8 310.3L1664 311.3L1664.1 312.3L1664.3 313.3L1664.4 314.3L1664.6 315.3L1664.7 316.3L1664.8 317.3L1664.9 318.1L1667.6 318.1 Z" fill="#1e90ff" fill-opacity="0.2"/><path d="M1698.8 105.7L1698.8 105.7L1698.4 106.7L1698.1 107.7L1697.7 108.7L1697.4 109.7L1697 110.7L1696.7 111.7L1696.4 112.7L1696 113.7L1695.7 114.7L1695.4 115.7L1695.1 116.7L1694.8 117.7L1694.5 118.7L1694.2 119.7L1693.9 120.7L1693.6 121.7L1693.3 122.7L1693 123.7L1692.7 124.7L1692.4 125.7L1692.1 126.7L1691.8 127.7L1691.5 128.7L1691.2 129.7L1690.9 130.7L1690.6 131.7L1690.3 132.7L1690 133.7L1689.7 134.7L1689.4 135.7L1689.1 136.7L1688.8 137.7L1688.4 138.7L1688.1 139.7L1687.8 140.7L1687.5 141.7L1687.2 142.7L1686.9 143.7L1686.6 144.7L1686.3 145.7L1686.1 146.7L1685.8 147.7L1685.5 148.7L1685.3 149.7L1685 150.7L1684.8 151.7L1684.5 152.7L1684.3 153.7L1684.1 154.7L1683.8 155.7L1683.6 156.7L1683.4 157.7L1683.1 158.7L1682.9 159.7L1682.7 160.7L1682.5 161.7L1682.3 162.7L1682.1 163.7L1682 164.7L1681.8 165.7L1681.6 166.7L1681.5 167.7L1681.3 168.7L1681.2 169.7L1681 170.7L1680.9 171.7L1680.7 172.7L1680.6 173.7L1680.4 174.7L1680.3 175.7L1680.2 176.7L1680.1 177.7L1679.9 178.7L1679.8 179.7L1679.7 180.7L1679.7 181.7L1679.6 182.7L1679.5 183.7L1679.5 184.7L1679.4 185.7L1679.3 186.7L1679.3 187.7L1679.2 188.7L1679.1 189.7L1679.1 190.7L1679 191.7L1679 192.7L1679 193.7L1678.9 194.7L1678.9 195.7L1678.9 196.7L1678.8 197.7L1678.8 198.7L1678.8 199.7L1678.8 200.7L1678.8 201.7L1678.8 202.7L1678.8 203.7L1678.8 204.7L1678.8 205.7L1678.8 206.7L1678.8 207.7L1678.8 208.7L1678.8 209.7L1678.8 210.7L1678.8 211.7L1678.8 212.7L1678.8 213.7L1678.8 214.7L1678.8 215.7L1678.8 216.7L1678.8 217.7L1678.8 218.7L1678.8 219.7L1678.8 220.7L1678.9 221.7L1678.9 222.7L1679 223.7L1679 224.7L1679.1 225.7L1679.2 226.7L1679.2 227.7L1679.3 228.7L1679.4 229.7L1679.5 230.7L1679.6 231.7L1679.7 232.7L1679.8 233.7L1679.9 234.7L1680 235.7L1680.1 236.7L1680.2 237.7L1680.3 238.7L1680.4 239.7L1680.5 240.7L1680.6 241.7L1680.7 242.7L1680.8 243.7L1681 244.7L1681.1 245.7L1681.3 246.7L1681.4 247.7L1681.5 248.7L1681.7 249.7L1681.8 250.7L1682 251.7L1682.1 252.7L1682.2 253.7L1682.4 254.7L1682.5 255.7L1682.7 256.7L1682.8 257.7L1683 258.7L1683.1 259.7L1683.3 260.7L1683.4 261.7L1683.6 262.7L1683.7 263.7L1683.9 264.7L1684 265.7L1684.2 266.7L1684.3 267.7L1684.5 268.7L1684.6 269.7L1684.8 270.7L1684.9 271.7L1685.1 272.7L1685.2 273.7L1685.4 274.7L1685.5 275.7L1685.7 276.7L1685.8 277.7L1686 278.7L1686.1 279.7L1686.3 280.7L1686.4 281.7L1686.6 282.7L1686.7 283.7L1686.9 284.7L1687 285.7L1687.2 286.7L1687.3 287.7L1687.5 288.7L1687.6 289.7L1687.8 290.7L1687.9 291.7L1688.1 292.7L1688.2 293.7L1688.4 294.7L1688.5 295.7L1688.7 296.7L1688.9 297.7L1689 298.7L1689.2 299.7L1689.4 300.7L1689.5 301.7L1689.7 302.7L1689.9 303.7L1690.1 304.7L1690.2 305.7L1690.4 306.7L1690.6 307.7L1690.8 308.7L1691 309.7L1691.1 310.7L1691.3 311.7L1691.5 312.7L1691.6 313.7L1691.7 314.7L1691.9 315.7L1692 316.7L1692.1 317.7L1692.2 318.1L1698.8 318.1 Z" fill="#f08080" fill-opacity="0.2"/><path d="M1766.1 104L1766.1 104L1766 105L1765.9 106L1765.8 107L1765.7 108L1765.5 109L1765.3 110L1765.1 111L1764.9 112L1764.6 113L1764.4 114L1764.1 115L1763.8 116L1763.4 117L1763.1 118L1762.6 119L1762.2 120L1761.7 121L1761.3 122L1760.8 123L1760.4 124L1759.9 125L1759.4 126L1758.9 127L1758.4 128L1757.9 129L1757.4 130L1756.8 131L1756.3 132L1755.7 133L1755.1 134L1754.4 135L1753.8 136L1753.1 137L1752.5 138L1752 139L1751.5 140L1751 141L1750.5 142L1750.1 143L1749.6 144L1749.2 145L1748.9 146L1748.5 147L1748.2 148L1747.9 149L1747.7 150L1747.4 151L1747.2 152L1747 153L1746.8 154L1746.7 155L1746.5 156L1746.4 157L1746.2 158L1746.1 159L1746 160L1745.9 161L1745.7 162L1745.7 163L1745.6 164L1745.5 165L1745.5 166L1745.4 167L1745.4 168L1745.4 169L1745.3 170L1745.3 171L1745.3 172L1745.3 173L1745.2 174L1745.2 175L1745.2 176L1745.2 177L1745.2 178L1745.2 179L1745.2 180L1745.2 181L1745.1 182L1745.1 183L1745.2 184L1745.2 185L1745.2 186L1745.3 187L1745.3 188L1745.4 189L1745.5 190L1745.6 191L1745.7 192L1745.8 193L1745.9 194L1746 195L1746.1 196L1746.2 197L1746.3 198L1746.4 199L1746.5 200L1746.6 201L1746.7 202L1746.8 203L1746.9 204L1746.9 205L1747 206L1747.2 207L1747.3 208L1747.4 209L1747.5 210L1747.7 211L1747.9 212L1748 213L1748.2 214L1748.5 215L1748.7 216L1748.9 217L1749.1 218L1749.4 219L1749.6 220L1749.9 221L1750.2 222L1750.5 223L1750.8 224L1751.1 225L1751.4 226L1751.8 227L1752.1 228L1752.5 229L1752.9 230L1753.3 231L1753.7 232L1754.1 233L1754.6 234L1755 235L1755.4 236L1755.7 237L1756.1 238L1756.4 239L1756.7 240L1757.1 241L1757.4 242L1757.7 243L1757.9 244L1758.2 245L1758.5 246L1758.7 247L1758.9 248L1759.1 249L1759.3 250L1759.5 251L1759.7 252L1759.9 253L1760.1 254L1760.3 255L1760.5 256L1760.7 257L1760.9 258L1761.1 259L1761.3 260L1761.5 261L1761.7 262L1761.9 263L1762.1 264L1762.3 265L1762.4 266L1762.6 267L1762.7 268L1762.9 269L1763 270L1763.2 271L1763.3 272L1763.4 273L1763.5 274L1763.7 275L1763.8 276L1763.9 277L1764 278L1764.1 279L1764.2 280L1764.3 281L1764.4 282L1764.5 283L1764.5 284L1764.6 285L1764.7 286L1764.7 287L1764.8 288L1764.8 289L1764.9 290L1764.9 291L1765 292L1765.1 293L1765.2 294L1765.3 295L1765.4 296L1765.6 297L1765.7 298L1765.9 299L1766.1 300L1766.1 300.1L1766.1 300.1 Z" fill="#40e0d0" fill-opacity="0.2"/><path d="M1797.1 107.4L1797.1 107.4L1796.9 108.4L1796.7 109.4L1796.5 110.4L1796.3 111.4L1796.2 112.4L1796.1 113.4L1796 114.4L1795.9 115.4L1795.8 116.4L1795.8 117.4L1795.7 118.4L1795.7 119.4L1795.6 120.4L1795.6 121.4L1795.6 122.4L1795.5 123.4L1795.5 124.4L1795.5 125.4L1795.4 126.4L1795.4 127.4L1795.3 128.4L1795.3 129.4L1795.2 130.4L1795.1 131.4L1795 132.4L1794.9 133.4L1794.7 134.4L1794.5 135.4L1794.3 136.4L1794.1 137.4L1793.8 138.4L1793.6 139.4L1793.3 140.4L1793 141.4L1792.6 142.4L1792.2 143.4L1791.8 144.4L1791.4 145.4L1790.9 146.4L1790.5 147.4L1790 148.4L1789.6 149.4L1789.1 150.4L1788.6 151.4L1788 152.4L1787.5 153.4L1787 154.4L1786.5 155.4L1786 156.4L1785.6 157.4L1785.1 158.4L1784.7 159.4L1784.3 160.4L1783.9 161.4L1783.5 162.4L1783.1 163.4L1782.7 164.4L1782.4 165.4L1782 166.4L1781.7 167.4L1781.4 168.4L1781 169.4L1780.7 170.4L1780.4 171.4L1780.2 172.4L1779.9 173.4L1779.7 174.4L1779.4 175.4L1779.2 176.4L1778.9 177.4L1778.7 178.4L1778.5 179.4L1778.3 180.4L1778.2 181.4L1778 182.4L1778 183.4L1777.9 184.4L1777.8 185.4L1777.7 186.4L1777.6 187.4L1777.6 188.4L1777.5 189.4L1777.4 190.4L1777.4 191.4L1777.3 192.4L1777.3 193.4L1777.2 194.4L1777.2 195.4L1777.2 196.4L1777.1 197.4L1777.1 198.4L1777.1 199.4L1777.1 200.4L1777.1 201.4L1777.1 202.4L1777.2 203.4L1777.2 204.4L1777.2 205.4L1777.3 206.4L1777.3 207.4L1777.4 208.4L1777.4 209.4L1777.5 210.4L1777.5 211.4L1777.6 212.4L1777.7 213.4L1777.7 214.4L1777.8 215.4L1777.9 216.4L1778 217.4L1778 218.4L1778.1 219.4L1778.2 220.4L1778.2 221.4L1778.3 222.4L1778.4 223.4L1778.5 224.4L1778.6 225.4L1778.7 226.4L1778.8 227.4L1778.9 228.4L1779 229.4L1779.1 230.4L1779.2 231.4L1779.3 232.4L1779.4 233.4L1779.6 234.4L1779.7 235.4L1779.8 236.4L1779.9 237.4L1780 238.4L1780.2 239.4L1780.3 240.4L1780.4 241.4L1780.6 242.4L1780.7 243.4L1780.9 244.4L1781 245.4L1781.2 246.4L1781.3 247.4L1781.5 248.4L1781.6 249.4L1781.8 250.4L1781.9 251.4L1782.1 252.4L1782.3 253.4L1782.5 254.4L1782.6 255.4L1782.8 256.4L1783 257.4L1783.2 258.4L1783.4 259.4L1783.6 260.4L1783.8 261.4L1784 262.4L1784.2 263.4L1784.4 264.4L1784.6 265.4L1784.8 266.4L1785 267.4L1785.2 268.4L1785.4 269.4L1785.6 270.4L1785.8 271.4L1786 272.4L1786.2 273.4L1786.4 274.4L1786.7 275.4L1787 276.4L1787.3 277.4L1787.6 278.4L1787.9 279.4L1788.2 280.4L1788.5 281.4L1788.8 282.4L1789.1 283.4L1789.4 284.4L1789.8 285.4L1790.1 286.4L1790.4 287.4L1790.7 288.4L1791 289.4L1791.3 290.4L1791.6 291.4L1791.9 292.4L1792.1 293.4L1792.3 294.4L1792.5 295.4L1792.7 296.4L1792.9 297.4L1793.1 298.4L1793.3 299.4L1793.5 300.4L1793.7 301.4L1793.9 302.4L1794.1 303.4L1794.3 304.4L1794.5 305.4L1794.7 306.4L1794.9 307.4L1795.1 308.4L1795.3 309.4L1795.5 310.4L1795.7 311.4L1795.9 312.4L1796.1 313.4L1796.3 314.4L1796.5 315.4L1796.7 316.4L1796.9 317.4L1797.1 318.1L1797.1 318.1 Z" fill="#1e90ff" fill-opacity="0.2"/><path d="M1828.2 133.1L1828.2 133.1L1828 134.1L1827.8 135.1L1827.6 136.1L1827.4 137.1L1827.2 138.1L1827 139.1L1826.8 140.1L1826.6 141.1L1826.4 142.1L1826.2 143.1L1826 144.1L1825.8 145.1L1825.6 146.1L1825.4 147.1L1825.2 148.1L1825 149.1L1824.8 150.1L1824.6 151.1L1824.4 152.1L1824.2 153.1L1824 154.1L1823.8 155.1L1823.6 156.1L1823.4 157.1L1823.2 158.1L1823 159.1L1822.8 160.1L1822.6 161.1L1822.4 162.1L1822.2 163.1L1822 164.1L1821.8 165.1L1821.6 166.1L1821.3 167.1L1821.1 168.1L1820.8 169.1L1820.6 170.1L1820.4 171.1L1820.1 172.1L1819.8 173.1L1819.6 174.1L1819.3 175.1L1819.1 176.1L1818.8 177.1L1818.5 178.1L1818.3 179.1L1818 180.1L1817.8 181.1L1817.5 182.1L1817.3 183.1L1817.1 184.1L1816.8 185.1L1816.6 186.1L1816.4 187.1L1816.1 188.1L1815.9 189.1L1815.7 190.1L1815.4 191.1L1815.2 192.1L1815 193.1L1814.7 194.1L1814.5 195.1L1814.3 196.1L1814 197.1L1813.8 198.1L1813.5 199.1L1813.3 200.1L1813 201.1L1812.7 202.1L1812.4 203.1L1812 204.1L1811.7 205.1L1811.4 206.1L1811.1 207.1L1810.8 208.1L1810.5 209.1L1810.3 210.1L1810.1 211.1L1809.8 212.1L1809.6 213.1L1809.4 214.1L1809.1 215.1L1809 216.1L1808.8 217.1L1808.7 218.1L1808.6 219.1L1808.5 220.1L1808.4 221.1L1808.3 222.1L1808.3 223.1L1808.2 224.1L1808.1 225.1L1808.1 226.1L1808.1 227.1L1808.1 228.1L1808.1 229.1L1808.1 230.1L1808.1 231.1L1808.1 232.1L1808.1 233.1L1808.1 234.1L1808.1 235.1L1808.1 236.1L1808.1 237.1L1808.1 238.1L1808.2 239.1L1808.2 240.1L1808.4 241.1L1808.5 242.1L1808.6 243.1L1808.8 244.1L1809 245.1L1809.1 246.1L1809.3 247.1L1809.5 248.1L1809.7 249.1L1809.9 250.1L1810.2 251.1L1810.4 252.1L1810.7 253.1L1811 254.1L1811.2 255.1L1811.5 256.1L1811.9 257.1L1812.3 258.1L1812.6 259.1L1813.1 260.1L1813.5 261.1L1813.9 262.1L1814.4 263.1L1814.8 264.1L1815.2 265.1L1815.6 266.1L1816 267.1L1816.4 268.1L1816.8 269.1L1817.3 270.1L1817.7 271.1L1818.1 272.1L1818.4 273.1L1818.8 274.1L1819.1 275.1L1819.5 276.1L1819.8 277.1L1820.1 278.1L1820.5 279.1L1820.8 280.1L1821 281.1L1821.3 282.1L1821.5 283.1L1821.7 284.1L1821.9 285.1L1822.1 286.1L1822.3 287.1L1822.5 288.1L1822.6 289.1L1822.8 290.1L1822.9 291.1L1823 292.1L1823.1 293.1L1823.2 294.1L1823.3 295.1L1823.4 296.1L1823.5 297.1L1823.6 298.1L1823.6 299.1L1823.7 300.1L1823.8 301.1L1823.8 302.1L1823.9 303.1L1824 304.1L1824 305.1L1824.1 306.1L1824.2 307.1L1824.2 308.1L1824.3 309.1L1824.3 310.1L1824.4 311.1L1824.4 312.1L1824.5 313.1L1824.5 314.1L1824.6 315.1L1824.7 316.1L1824.7 317.1L1824.8 318.1L1824.8 318.1L1828.2 318.1 Z" fill="#f08080" fill-opacity="0.2"/></g>
<g stroke="#fff" stroke-width="1.1" stroke-opacity="0.85"><line x1="1119.1" y1="111.7" x2="1119.1" y2="287.8"/><line x1="1149.7" y1="110.8" x2="1149.7" y2="319.3"/><line x1="1181.2" y1="113.4" x2="1181.2" y2="319.3"/><line x1="1248.6" y1="123.6" x2="1248.6" y2="320.6"/><line x1="1279.5" y1="128.8" x2="1279.5" y2="319.3"/><line x1="1310.7" y1="139.9" x2="1310.7" y2="319.3"/><line x1="1378.2" y1="138.2" x2="1378.2" y2="302.6"/><line x1="1409.2" y1="137.3" x2="1409.2" y2="319.3"/><line x1="1439.9" y1="168.2" x2="1439.9" y2="319.3"/><line x1="1508" y1="110.8" x2="1508" y2="260"/><line x1="1539" y1="86" x2="1539" y2="319.3"/><line x1="1570.1" y1="86.8" x2="1570.1" y2="319.3"/><line x1="1636.9" y1="85.1" x2="1636.9" y2="286.9"/><line x1="1668.2" y1="78.3" x2="1668.2" y2="319.3"/><line x1="1699.4" y1="105.7" x2="1699.4" y2="319.3"/><line x1="1766.7" y1="104" x2="1766.7" y2="302.6"/><line x1="1797.7" y1="107.4" x2="1797.7" y2="319.3"/><line x1="1828.8" y1="133.1" x2="1828.8" y2="319.3"/></g>
<g fill="#353535"><circle cx="1116.7" cy="133.3" r="1"/><circle cx="1115.6" cy="213.9" r="1"/><circle cx="1113.4" cy="199.5" r="1"/><circle cx="1115.1" cy="192.2" r="1"/><circle cx="1110.4" cy="236.4" r="1"/><circle cx="1114.4" cy="228.5" r="1"/><circle cx="1112.6" cy="160.1" r="1"/><circle cx="1111.4" cy="218" r="1"/><circle cx="1113.5" cy="238.2" r="1"/><circle cx="1109.8" cy="251.6" r="1"/><circle cx="1110.5" cy="126.5" r="1"/><circle cx="1115.5" cy="239.7" r="1"/><circle cx="1116.8" cy="146" r="1"/><circle cx="1116" cy="229" r="1"/><circle cx="1115.7" cy="221.2" r="1"/><circle cx="1107.7" cy="258.9" r="1"/><circle cx="1112.7" cy="224.2" r="1"/><circle cx="1109.6" cy="155.7" r="1"/><circle cx="1112.7" cy="227.4" r="1"/><circle cx="1109.2" cy="187.5" r="1"/><circle cx="1108.1" cy="241.4" r="1"/><circle cx="1115.5" cy="140.4" r="1"/><circle cx="1143.2" cy="199" r="1"/><circle cx="1141.8" cy="248.4" r="1"/><circle cx="1140.3" cy="169.4" r="1"/><circle cx="1140.3" cy="245" r="1"/><circle cx="1144.7" cy="251.9" r="1"/><circle cx="1144.3" cy="256.7" r="1"/><circle cx="1147.4" cy="278.2" r="1"/><circle cx="1148.1" cy="212.2" r="1"/><circle cx="1145.6" cy="167.5" r="1"/><circle cx="1143.2" cy="188.2" r="1"/><circle cx="1139.3" cy="208.7" r="1"/><circle cx="1143.6" cy="147.5" r="1"/><circle cx="1140.6" cy="252.8" r="1"/><circle cx="1141.7" cy="150.1" r="1"/><circle cx="1145" cy="148.7" r="1"/><circle cx="1139.7" cy="288.5" r="1"/><circle cx="1140.7" cy="267" r="1"/><circle cx="1143.8" cy="186.5" r="1"/><circle cx="1142.4" cy="201.1" r="1"/><circle cx="1143.6" cy="269.4" r="1"/><circle cx="1145.9" cy="241.2" r="1"/><circle cx="1145.2" cy="188.5" r="1"/><circle cx="1139.7" cy="218" r="1"/><circle cx="1146.7" cy="273.5" r="1"/><circle cx="1145" cy="125.6" r="1"/><circle cx="1146.7" cy="309.8" r="1"/><circle cx="1146.4" cy="233.6" r="1"/><circle cx="1140.9" cy="175.3" r="1"/><circle cx="1138.5" cy="265.4" r="1"/><circle cx="1144.4" cy="153.4" r="1"/><circle cx="1140.2" cy="212.3" r="1"/><circle cx="1143.9" cy="235" r="1"/><circle cx="1141.8" cy="185.5" r="1"/><circle cx="1146.2" cy="278.4" r="1"/><circle cx="1148" cy="251.7" r="1"/><circle cx="1140.2" cy="171.7" r="1"/><circle cx="1143.2" cy="170" r="1"/><circle cx="1143.6" cy="149.9" r="1"/><circle cx="1142.2" cy="234.5" r="1"/><circle cx="1140.8" cy="175.7" r="1"/><circle cx="1143.9" cy="231.2" r="1"/><circle cx="1140.7" cy="268.9" r="1"/><circle cx="1146" cy="277.7" r="1"/><circle cx="1139.3" cy="163" r="1"/><circle cx="1141.2" cy="200.1" r="1"/><circle cx="1141.4" cy="213.2" r="1"/><circle cx="1143.7" cy="208" r="1"/><circle cx="1173.4" cy="221.2" r="1"/><circle cx="1175.6" cy="227" r="1"/><circle cx="1172.6" cy="269.7" r="1"/><circle cx="1177.3" cy="204.5" r="1"/><circle cx="1175.2" cy="209.3" r="1"/><circle cx="1175.7" cy="217.5" r="1"/><circle cx="1170.4" cy="177.6" r="1"/><circle cx="1173.2" cy="251.1" r="1"/><circle cx="1175.9" cy="218.7" r="1"/><circle cx="1169.9" cy="296.4" r="1"/><circle cx="1174.3" cy="278.9" r="1"/><circle cx="1171.9" cy="191" r="1"/><circle cx="1174.5" cy="193.8" r="1"/><circle cx="1174" cy="273" r="1"/><circle cx="1172.5" cy="241.4" r="1"/><circle cx="1173.3" cy="136.4" r="1"/><circle cx="1174.5" cy="251.7" r="1"/><circle cx="1170.2" cy="217.3" r="1"/><circle cx="1172.9" cy="273.1" r="1"/><circle cx="1172.1" cy="267.3" r="1"/><circle cx="1169.8" cy="297" r="1"/><circle cx="1179.3" cy="260.2" r="1"/><circle cx="1175.8" cy="295.2" r="1"/><circle cx="1175.6" cy="199.9" r="1"/><circle cx="1172.7" cy="209.3" r="1"/><circle cx="1177.1" cy="156.2" r="1"/><circle cx="1172.3" cy="286.1" r="1"/><circle cx="1174.5" cy="177.8" r="1"/><circle cx="1171.7" cy="240.1" r="1"/><circle cx="1177.7" cy="234.3" r="1"/><circle cx="1171.9" cy="278" r="1"/><circle cx="1173.4" cy="216.7" r="1"/><circle cx="1241.4" cy="171.6" r="1"/><circle cx="1237.3" cy="200.4" r="1"/><circle cx="1240.6" cy="153.5" r="1"/><circle cx="1238.8" cy="192" r="1"/><circle cx="1244.2" cy="228.6" r="1"/><circle cx="1245.9" cy="155.7" r="1"/><circle cx="1243.5" cy="298" r="1"/><circle cx="1244.4" cy="218" r="1"/><circle cx="1244.6" cy="191.5" r="1"/><circle cx="1245.3" cy="256.6" r="1"/><circle cx="1239.8" cy="170.1" r="1"/><circle cx="1244.7" cy="193.4" r="1"/><circle cx="1242.3" cy="278.4" r="1"/><circle cx="1240.7" cy="184.6" r="1"/><circle cx="1243.5" cy="241.8" r="1"/><circle cx="1238.4" cy="161.1" r="1"/><circle cx="1238.7" cy="216.2" r="1"/><circle cx="1239.2" cy="232.1" r="1"/><circle cx="1238.7" cy="180.3" r="1"/><circle cx="1247" cy="194.8" r="1"/><circle cx="1237.5" cy="218.2" r="1"/><circle cx="1244.6" cy="223.8" r="1"/><circle cx="1276.7" cy="183.4" r="1"/><circle cx="1270.2" cy="221.5" r="1"/><circle cx="1276.6" cy="315.6" r="1"/><circle cx="1270.1" cy="210.2" r="1"/><circle cx="1269" cy="267.5" r="1"/><circle cx="1270.2" cy="191.9" r="1"/><circle cx="1269" cy="228" r="1"/><circle cx="1269.6" cy="235.1" r="1"/><circle cx="1271.1" cy="243.5" r="1"/><circle cx="1270.6" cy="258.8" r="1"/><circle cx="1269.1" cy="268.7" r="1"/><circle cx="1275.4" cy="256.8" r="1"/><circle cx="1276.7" cy="270.5" r="1"/><circle cx="1277.5" cy="282.8" r="1"/><circle cx="1276.7" cy="209.7" r="1"/><circle cx="1273" cy="273.8" r="1"/><circle cx="1269.3" cy="234.8" r="1"/><circle cx="1269.6" cy="200.3" r="1"/><circle cx="1272.4" cy="186.8" r="1"/><circle cx="1269.6" cy="264.9" r="1"/><circle cx="1273.9" cy="248.7" r="1"/><circle cx="1277.4" cy="168.2" r="1"/><circle cx="1271.6" cy="242.9" r="1"/><circle cx="1271.9" cy="160.3" r="1"/><circle cx="1268.6" cy="219" r="1"/><circle cx="1268.1" cy="240.6" r="1"/><circle cx="1273.2" cy="250.8" r="1"/><circle cx="1277.8" cy="185.2" r="1"/><circle cx="1271.8" cy="161" r="1"/><circle cx="1269.3" cy="241.6" r="1"/><circle cx="1273.3" cy="271.6" r="1"/><circle cx="1270.3" cy="268.8" r="1"/><circle cx="1273.7" cy="214.5" r="1"/><circle cx="1272.5" cy="241.7" r="1"/><circle cx="1275.1" cy="259.1" r="1"/><circle cx="1274" cy="281.1" r="1"/><circle cx="1275.4" cy="231.8" r="1"/><circle cx="1268.2" cy="280.8" r="1"/><circle cx="1270.1" cy="208.9" r="1"/><circle cx="1274.9" cy="194.6" r="1"/><circle cx="1272.1" cy="205.6" r="1"/><circle cx="1270.1" cy="259.9" r="1"/><circle cx="1270.8" cy="282.3" r="1"/><circle cx="1272.6" cy="229.2" r="1"/><circle cx="1275.1" cy="255.3" r="1"/><circle cx="1276.2" cy="180.3" r="1"/><circle cx="1271.9" cy="234.2" r="1"/><circle cx="1301.2" cy="233.1" r="1"/><circle cx="1303" cy="232.3" r="1"/><circle cx="1302.9" cy="200" r="1"/><circle cx="1303.2" cy="255.1" r="1"/><circle cx="1307.1" cy="261.1" r="1"/><circle cx="1304.6" cy="257.1" r="1"/><circle cx="1308.3" cy="270.2" r="1"/><circle cx="1308.9" cy="235.6" r="1"/><circle cx="1300" cy="286.2" r="1"/><circle cx="1305.5" cy="249.1" r="1"/><circle cx="1301.3" cy="291.2" r="1"/><circle cx="1306.7" cy="230" r="1"/><circle cx="1305" cy="264.7" r="1"/><circle cx="1304.9" cy="200.7" r="1"/><circle cx="1299.8" cy="180" r="1"/><circle cx="1303.5" cy="298.5" r="1"/><circle cx="1308.1" cy="224.4" r="1"/><circle cx="1303.4" cy="172.2" r="1"/><circle cx="1304.7" cy="255.3" r="1"/><circle cx="1305.3" cy="299.4" r="1"/><circle cx="1299.7" cy="274" r="1"/><circle cx="1304.4" cy="313.4" r="1"/><circle cx="1308.2" cy="299.8" r="1"/><circle cx="1307.1" cy="235.1" r="1"/><circle cx="1309.1" cy="206.6" r="1"/><circle cx="1302.3" cy="176.4" r="1"/><circle cx="1299.4" cy="211.5" r="1"/><circle cx="1300.4" cy="255.5" r="1"/><circle cx="1309.1" cy="295.5" r="1"/><circle cx="1306.8" cy="155.1" r="1"/><circle cx="1307.4" cy="281.1" r="1"/><circle cx="1301.4" cy="272.5" r="1"/><circle cx="1368.1" cy="233.4" r="1"/><circle cx="1375.9" cy="178.4" r="1"/><circle cx="1369.6" cy="166.3" r="1"/><circle cx="1367.3" cy="238.2" r="1"/><circle cx="1367" cy="228" r="1"/><circle cx="1376.7" cy="203.4" r="1"/><circle cx="1370.2" cy="200.7" r="1"/><circle cx="1376" cy="162.5" r="1"/><circle cx="1369.3" cy="283" r="1"/><circle cx="1368" cy="249.9" r="1"/><circle cx="1376.2" cy="276.2" r="1"/><circle cx="1370.9" cy="247.1" r="1"/><circle cx="1369.9" cy="211.1" r="1"/><circle cx="1368.7" cy="250.8" r="1"/><circle cx="1370.2" cy="187.1" r="1"/><circle cx="1372.5" cy="231.3" r="1"/><circle cx="1368.8" cy="191.1" r="1"/><circle cx="1368.8" cy="205.6" r="1"/><circle cx="1373.8" cy="255.3" r="1"/><circle cx="1366.9" cy="207.8" r="1"/><circle cx="1368.4" cy="258.4" r="1"/><circle cx="1370.6" cy="224" r="1"/><circle cx="1399.3" cy="214.8" r="1"/><circle cx="1404.6" cy="210.4" r="1"/><circle cx="1398.7" cy="154.3" r="1"/><circle cx="1400.8" cy="240.2" r="1"/><circle cx="1398.6" cy="274.4" r="1"/><circle cx="1404.9" cy="206.6" r="1"/><circle cx="1405.1" cy="230.8" r="1"/><circle cx="1401.8" cy="308.3" r="1"/><circle cx="1398.7" cy="223.7" r="1"/><circle cx="1399.3" cy="293.9" r="1"/><circle cx="1398.9" cy="272.7" r="1"/><circle cx="1405" cy="233.4" r="1"/><circle cx="1399.5" cy="247.7" r="1"/><circle cx="1398.4" cy="179.5" r="1"/><circle cx="1406.9" cy="235.2" r="1"/><circle cx="1399.6" cy="263.4" r="1"/><circle cx="1400.1" cy="207" r="1"/><circle cx="1405.4" cy="175.8" r="1"/><circle cx="1400.8" cy="167.4" r="1"/><circle cx="1405.7" cy="198.3" r="1"/><circle cx="1400.1" cy="207.1" r="1"/><circle cx="1403.1" cy="269.6" r="1"/><circle cx="1399.5" cy="228.9" r="1"/><circle cx="1405.4" cy="237.6" r="1"/><circle cx="1398.6" cy="215.4" r="1"/><circle cx="1402.4" cy="214.7" r="1"/><circle cx="1401.7" cy="238.3" r="1"/><circle cx="1405.8" cy="261" r="1"/><circle cx="1400.6" cy="200" r="1"/><circle cx="1402" cy="227.2" r="1"/><circle cx="1402.5" cy="248.2" r="1"/><circle cx="1407.3" cy="300" r="1"/><circle cx="1403.9" cy="211.8" r="1"/><circle cx="1401.3" cy="222.9" r="1"/><circle cx="1406.2" cy="240.6" r="1"/><circle cx="1404.2" cy="195.4" r="1"/><circle cx="1407.6" cy="245.4" r="1"/><circle cx="1397.7" cy="304.9" r="1"/><circle cx="1402.8" cy="211.7" r="1"/><circle cx="1405.1" cy="231.4" r="1"/><circle cx="1403.4" cy="191.6" r="1"/><circle cx="1399.9" cy="235.8" r="1"/><circle cx="1397.9" cy="304.7" r="1"/><circle cx="1407.4" cy="237.1" r="1"/><circle cx="1405.9" cy="205" r="1"/><circle cx="1407.2" cy="214.9" r="1"/><circle cx="1398.9" cy="246.4" r="1"/><circle cx="1428.9" cy="290.1" r="1"/><circle cx="1437.9" cy="247.6" r="1"/><circle cx="1434.5" cy="251.2" r="1"/><circle cx="1428.8" cy="283.8" r="1"/><circle cx="1432.8" cy="205.9" r="1"/><circle cx="1428.8" cy="305.3" r="1"/><circle cx="1434.5" cy="249.3" r="1"/><circle cx="1436.9" cy="235.1" r="1"/><circle cx="1428.4" cy="281.6" r="1"/><circle cx="1438.2" cy="225.9" r="1"/><circle cx="1435" cy="211.9" r="1"/><circle cx="1429.3" cy="226.6" r="1"/><circle cx="1438.1" cy="269.5" r="1"/><circle cx="1431.3" cy="206.4" r="1"/><circle cx="1428.5" cy="247.3" r="1"/><circle cx="1437.1" cy="223.7" r="1"/><circle cx="1429" cy="257.4" r="1"/><circle cx="1435.5" cy="211.3" r="1"/><circle cx="1430.8" cy="280.2" r="1"/><circle cx="1435.2" cy="299.8" r="1"/><circle cx="1437.3" cy="232.9" r="1"/><circle cx="1436.8" cy="237.1" r="1"/><circle cx="1437.1" cy="261.9" r="1"/><circle cx="1438.4" cy="276.3" r="1"/><circle cx="1436.6" cy="198.4" r="1"/><circle cx="1429.1" cy="269.7" r="1"/><circle cx="1429" cy="284.9" r="1"/><circle cx="1429.5" cy="282.5" r="1"/><circle cx="1434" cy="245.8" r="1"/><circle cx="1429.1" cy="285.7" r="1"/><circle cx="1432.1" cy="257.5" r="1"/><circle cx="1435.1" cy="218.1" r="1"/><circle cx="1501.7" cy="179.1" r="1"/><circle cx="1505.1" cy="201.9" r="1"/><circle cx="1506" cy="198.5" r="1"/><circle cx="1501" cy="217" r="1"/><circle cx="1497.7" cy="209.5" r="1"/><circle cx="1502.4" cy="169.6" r="1"/><circle cx="1503.8" cy="187.5" r="1"/><circle cx="1503.2" cy="215.1" r="1"/><circle cx="1501.6" cy="191.5" r="1"/><circle cx="1497.4" cy="171.6" r="1"/><circle cx="1496.6" cy="230.4" r="1"/><circle cx="1497.5" cy="191.4" r="1"/><circle cx="1504.5" cy="181" r="1"/><circle cx="1503.7" cy="195.8" r="1"/><circle cx="1504.5" cy="179.6" r="1"/><circle cx="1496.5" cy="176.7" r="1"/><circle cx="1497.2" cy="207.3" r="1"/><circle cx="1503.7" cy="216.4" r="1"/><circle cx="1506" cy="189.2" r="1"/><circle cx="1503.6" cy="160" r="1"/><circle cx="1506.4" cy="194.3" r="1"/><circle cx="1503.1" cy="188.1" r="1"/><circle cx="1537.6" cy="200.6" r="1"/><circle cx="1532.2" cy="166.3" r="1"/><circle cx="1533.1" cy="251.7" r="1"/><circle cx="1535.3" cy="159.4" r="1"/><circle cx="1536.2" cy="118.1" r="1"/><circle cx="1529.7" cy="240.7" r="1"/><circle cx="1535.6" cy="248.2" r="1"/><circle cx="1536.7" cy="165.6" r="1"/><circle cx="1532.5" cy="153.1" r="1"/><circle cx="1535.5" cy="222.8" r="1"/><circle cx="1530.4" cy="282.1" r="1"/><circle cx="1531.6" cy="169.3" r="1"/><circle cx="1536.9" cy="216.7" r="1"/><circle cx="1533.4" cy="171.2" r="1"/><circle cx="1537" cy="248.2" r="1"/><circle cx="1534.2" cy="206.3" r="1"/><circle cx="1528.8" cy="192.3" r="1"/><circle cx="1537.4" cy="235" r="1"/><circle cx="1532.7" cy="216.4" r="1"/><circle cx="1534.9" cy="159.4" r="1"/><circle cx="1529.1" cy="197.7" r="1"/><circle cx="1535.9" cy="292.9" r="1"/><circle cx="1531.5" cy="257.9" r="1"/><circle cx="1532.3" cy="212.5" r="1"/><circle cx="1532.3" cy="234.9" r="1"/><circle cx="1530.3" cy="145.6" r="1"/><circle cx="1528.7" cy="197.3" r="1"/><circle cx="1530.3" cy="275.8" r="1"/><circle cx="1529.9" cy="155.9" r="1"/><circle cx="1528.7" cy="303.6" r="1"/><circle cx="1532.5" cy="266.4" r="1"/><circle cx="1532.2" cy="239" r="1"/><circle cx="1537.4" cy="191" r="1"/><circle cx="1535.3" cy="134.5" r="1"/><circle cx="1536.5" cy="176.7" r="1"/><circle cx="1529.2" cy="247.7" r="1"/><circle cx="1536.6" cy="198.5" r="1"/><circle cx="1535.6" cy="258.2" r="1"/><circle cx="1531.5" cy="161.5" r="1"/><circle cx="1532.2" cy="262.1" r="1"/><circle cx="1536.5" cy="269.2" r="1"/><circle cx="1530.3" cy="245.4" r="1"/><circle cx="1536.3" cy="158.5" r="1"/><circle cx="1532.5" cy="163" r="1"/><circle cx="1536.3" cy="125.8" r="1"/><circle cx="1536.2" cy="121.9" r="1"/><circle cx="1528.8" cy="247.1" r="1"/><circle cx="1562.9" cy="221.5" r="1"/><circle cx="1567.1" cy="267.1" r="1"/><circle cx="1559.2" cy="181.2" r="1"/><circle cx="1564.4" cy="193.7" r="1"/><circle cx="1563.4" cy="291.2" r="1"/><circle cx="1559.1" cy="315.7" r="1"/><circle cx="1565.3" cy="140.1" r="1"/><circle cx="1565.3" cy="269.6" r="1"/><circle cx="1558.7" cy="233.8" r="1"/><circle cx="1559.4" cy="105.2" r="1"/><circle cx="1560.1" cy="244.2" r="1"/><circle cx="1563.5" cy="179.4" r="1"/><circle cx="1559.2" cy="195.3" r="1"/><circle cx="1564.4" cy="307.6" r="1"/><circle cx="1565" cy="264" r="1"/><circle cx="1568" cy="125.9" r="1"/><circle cx="1563.6" cy="253.8" r="1"/><circle cx="1567.3" cy="109.4" r="1"/><circle cx="1560.8" cy="289.3" r="1"/><circle cx="1562.3" cy="240.3" r="1"/><circle cx="1559.7" cy="246.2" r="1"/><circle cx="1568.4" cy="111.2" r="1"/><circle cx="1566" cy="135" r="1"/><circle cx="1565.9" cy="228" r="1"/><circle cx="1559.3" cy="200.9" r="1"/><circle cx="1566.2" cy="276" r="1"/><circle cx="1564.3" cy="180.9" r="1"/><circle cx="1565.8" cy="205.3" r="1"/><circle cx="1562.1" cy="143.7" r="1"/><circle cx="1562.7" cy="223.5" r="1"/><circle cx="1563.5" cy="304.3" r="1"/><circle cx="1564" cy="176.6" r="1"/><circle cx="1634" cy="227.2" r="1"/><circle cx="1634.2" cy="150.8" r="1"/><circle cx="1631.3" cy="239.9" r="1"/><circle cx="1633" cy="198.9" r="1"/><circle cx="1629.9" cy="141.7" r="1"/><circle cx="1629.3" cy="226.5" r="1"/><circle cx="1628.9" cy="240.2" r="1"/><circle cx="1628.2" cy="146.8" r="1"/><circle cx="1629.9" cy="140.1" r="1"/><circle cx="1630.7" cy="166.2" r="1"/><circle cx="1633" cy="198.9" r="1"/><circle cx="1630.3" cy="252.9" r="1"/><circle cx="1629.5" cy="236" r="1"/><circle cx="1631.9" cy="176.6" r="1"/><circle cx="1633.1" cy="114.5" r="1"/><circle cx="1630.5" cy="207.2" r="1"/><circle cx="1625.4" cy="204.9" r="1"/><circle cx="1627.6" cy="163.9" r="1"/><circle cx="1634.8" cy="207.8" r="1"/><circle cx="1631" cy="262.5" r="1"/><circle cx="1631.5" cy="145.7" r="1"/><circle cx="1628" cy="175.1" r="1"/><circle cx="1664.5" cy="262.9" r="1"/><circle cx="1659.3" cy="145.7" r="1"/><circle cx="1663.4" cy="137.9" r="1"/><circle cx="1659.9" cy="148.1" r="1"/><circle cx="1658.2" cy="249.4" r="1"/><circle cx="1661.6" cy="138.6" r="1"/><circle cx="1659.3" cy="128.5" r="1"/><circle cx="1662" cy="227.5" r="1"/><circle cx="1659.6" cy="249.6" r="1"/><circle cx="1665.5" cy="247.7" r="1"/><circle cx="1666.8" cy="196.7" r="1"/><circle cx="1660.9" cy="279.6" r="1"/><circle cx="1657" cy="143.3" r="1"/><circle cx="1662.6" cy="198.4" r="1"/><circle cx="1657.9" cy="185.6" r="1"/><circle cx="1663" cy="214.4" r="1"/><circle cx="1662.2" cy="152.2" r="1"/><circle cx="1663.8" cy="142.5" r="1"/><circle cx="1661.2" cy="304.2" r="1"/><circle cx="1663.5" cy="173.2" r="1"/><circle cx="1658.2" cy="207.6" r="1"/><circle cx="1662.3" cy="279.3" r="1"/><circle cx="1663.7" cy="173" r="1"/><circle cx="1661" cy="184.9" r="1"/><circle cx="1665.9" cy="217.4" r="1"/><circle cx="1663.5" cy="122.7" r="1"/><circle cx="1658.3" cy="106.6" r="1"/><circle cx="1664.7" cy="228.7" r="1"/><circle cx="1657.5" cy="186.2" r="1"/><circle cx="1666.3" cy="124.8" r="1"/><circle cx="1661.8" cy="170.4" r="1"/><circle cx="1658.9" cy="237.7" r="1"/><circle cx="1656.6" cy="248.3" r="1"/><circle cx="1661.6" cy="208.3" r="1"/><circle cx="1662.9" cy="158.5" r="1"/><circle cx="1660.8" cy="262.1" r="1"/><circle cx="1657.2" cy="155.1" r="1"/><circle cx="1661.5" cy="247.5" r="1"/><circle cx="1663" cy="142.9" r="1"/><circle cx="1661.1" cy="284.2" r="1"/><circle cx="1657.9" cy="250.4" r="1"/><circle cx="1661.9" cy="207.8" r="1"/><circle cx="1660.5" cy="196.2" r="1"/><circle cx="1663.3" cy="218.8" r="1"/><circle cx="1658.5" cy="232.3" r="1"/><circle cx="1663.6" cy="216" r="1"/><circle cx="1658.4" cy="237.8" r="1"/><circle cx="1696.9" cy="147.7" r="1"/><circle cx="1691" cy="203.1" r="1"/><circle cx="1687.9" cy="255" r="1"/><circle cx="1693.7" cy="206.1" r="1"/><circle cx="1695" cy="305.3" r="1"/><circle cx="1692.8" cy="219.7" r="1"/><circle cx="1696.1" cy="186.4" r="1"/><circle cx="1691.8" cy="283.8" r="1"/><circle cx="1687.9" cy="203.5" r="1"/><circle cx="1697.6" cy="221.8" r="1"/><circle cx="1690" cy="236.6" r="1"/><circle cx="1690.9" cy="275.5" r="1"/><circle cx="1694.9" cy="170.2" r="1"/><circle cx="1692" cy="280" r="1"/><circle cx="1696" cy="225.8" r="1"/><circle cx="1692.3" cy="195.7" r="1"/><circle cx="1691.4" cy="190.4" r="1"/><circle cx="1687.8" cy="309.7" r="1"/><circle cx="1693.8" cy="297.7" r="1"/><circle cx="1696.4" cy="221.3" r="1"/><circle cx="1696.9" cy="192.9" r="1"/><circle cx="1696.2" cy="306.3" r="1"/><circle cx="1689.6" cy="127.7" r="1"/><circle cx="1689.8" cy="138.8" r="1"/><circle cx="1697.9" cy="212.2" r="1"/><circle cx="1694.7" cy="227.9" r="1"/><circle cx="1694.4" cy="123.9" r="1"/><circle cx="1695.3" cy="167.3" r="1"/><circle cx="1688.8" cy="147.3" r="1"/><circle cx="1694.4" cy="177.8" r="1"/><circle cx="1694.1" cy="166.6" r="1"/><circle cx="1688.9" cy="155.2" r="1"/><circle cx="1755.5" cy="146" r="1"/><circle cx="1759" cy="173.9" r="1"/><circle cx="1764.9" cy="145.7" r="1"/><circle cx="1756.6" cy="219.4" r="1"/><circle cx="1756.1" cy="176.8" r="1"/><circle cx="1762.2" cy="144.3" r="1"/><circle cx="1755.5" cy="204.1" r="1"/><circle cx="1755.6" cy="221" r="1"/><circle cx="1761.3" cy="171.7" r="1"/><circle cx="1763" cy="122.2" r="1"/><circle cx="1756.4" cy="203.8" r="1"/><circle cx="1757.2" cy="216.9" r="1"/><circle cx="1763.5" cy="237.7" r="1"/><circle cx="1763.4" cy="211.8" r="1"/><circle cx="1762.3" cy="198.4" r="1"/><circle cx="1764.1" cy="170" r="1"/><circle cx="1761.4" cy="160" r="1"/><circle cx="1764.6" cy="136.9" r="1"/><circle cx="1756.9" cy="225.6" r="1"/><circle cx="1762.8" cy="193.8" r="1"/><circle cx="1762.4" cy="163.7" r="1"/><circle cx="1765" cy="144.7" r="1"/><circle cx="1792.8" cy="188.6" r="1"/><circle cx="1789.1" cy="248" r="1"/><circle cx="1793.5" cy="178" r="1"/><circle cx="1795" cy="151.7" r="1"/><circle cx="1787.7" cy="199.3" r="1"/><circle cx="1794.7" cy="193.7" r="1"/><circle cx="1788.9" cy="239.2" r="1"/><circle cx="1786.5" cy="220.3" r="1"/><circle cx="1786.6" cy="210.1" r="1"/><circle cx="1794" cy="296.4" r="1"/><circle cx="1794.9" cy="262.3" r="1"/><circle cx="1793.6" cy="166.6" r="1"/><circle cx="1790.3" cy="183.8" r="1"/><circle cx="1793.8" cy="203.3" r="1"/><circle cx="1794.1" cy="156.5" r="1"/><circle cx="1795" cy="248.8" r="1"/><circle cx="1790.7" cy="249.4" r="1"/><circle cx="1788.4" cy="188.2" r="1"/><circle cx="1789.6" cy="274.3" r="1"/><circle cx="1793.1" cy="220.5" r="1"/><circle cx="1795.4" cy="180.3" r="1"/><circle cx="1787.6" cy="229.1" r="1"/><circle cx="1789.5" cy="236.2" r="1"/><circle cx="1790.5" cy="242" r="1"/><circle cx="1791.2" cy="294.2" r="1"/><circle cx="1795.6" cy="276.2" r="1"/><circle cx="1794" cy="203.2" r="1"/><circle cx="1789" cy="205" r="1"/><circle cx="1792.2" cy="141.2" r="1"/><circle cx="1788.4" cy="203.8" r="1"/><circle cx="1787.5" cy="173.8" r="1"/><circle cx="1793.5" cy="165" r="1"/><circle cx="1789.3" cy="256.9" r="1"/><circle cx="1792.7" cy="140.6" r="1"/><circle cx="1789.6" cy="166.3" r="1"/><circle cx="1793.7" cy="234.6" r="1"/><circle cx="1792.7" cy="222.7" r="1"/><circle cx="1794.4" cy="205.5" r="1"/><circle cx="1787" cy="256" r="1"/><circle cx="1789" cy="181.6" r="1"/><circle cx="1795.9" cy="176.9" r="1"/><circle cx="1794.3" cy="215" r="1"/><circle cx="1792.4" cy="163.2" r="1"/><circle cx="1793.1" cy="237.9" r="1"/><circle cx="1794.4" cy="281.5" r="1"/><circle cx="1790.5" cy="256.7" r="1"/><circle cx="1793.7" cy="269.6" r="1"/><circle cx="1820.5" cy="172" r="1"/><circle cx="1827.4" cy="220.9" r="1"/><circle cx="1819.5" cy="280.4" r="1"/><circle cx="1827" cy="266.8" r="1"/><circle cx="1821.2" cy="238.4" r="1"/><circle cx="1824.9" cy="243.6" r="1"/><circle cx="1819.4" cy="203.7" r="1"/><circle cx="1818.1" cy="203.8" r="1"/><circle cx="1826.6" cy="171.3" r="1"/><circle cx="1823.4" cy="280.3" r="1"/><circle cx="1819" cy="207.3" r="1"/><circle cx="1826.5" cy="312.8" r="1"/><circle cx="1823.1" cy="151.5" r="1"/><circle cx="1820.4" cy="261.5" r="1"/><circle cx="1819" cy="231.3" r="1"/><circle cx="1822.8" cy="164.2" r="1"/><circle cx="1820.3" cy="244.6" r="1"/><circle cx="1822.2" cy="250" r="1"/><circle cx="1826.1" cy="249.5" r="1"/><circle cx="1827" cy="249.3" r="1"/><circle cx="1819.2" cy="247.3" r="1"/><circle cx="1821.9" cy="256.8" r="1"/><circle cx="1820.9" cy="217.5" r="1"/><circle cx="1824.9" cy="298.1" r="1"/><circle cx="1823.8" cy="226.6" r="1"/><circle cx="1825.4" cy="204" r="1"/><circle cx="1826" cy="312.9" r="1"/><circle cx="1820.6" cy="206.3" r="1"/><circle cx="1825" cy="222.8" r="1"/><circle cx="1822.9" cy="249.1" r="1"/><circle cx="1823.8" cy="261.5" r="1"/><circle cx="1818.4" cy="209.9" r="1"/></g>
<g><rect x="1115" y="194.3" width="5.6" height="41.8" fill="#40e0d0"/><rect x="1146.2" y="189" width="5.6" height="74" fill="#1e90ff"/><rect x="1177.4" y="196.9" width="5.6" height="72.3" fill="#f08080"/><rect x="1244.8" y="193" width="5.6" height="61.7" fill="#40e0d0"/><rect x="1275.8" y="205.9" width="5.6" height="64.9" fill="#1e90ff"/><rect x="1307.1" y="216.7" width="5.6" height="60.6" fill="#f08080"/><rect x="1374.5" y="201.9" width="5.6" height="42.3" fill="#40e0d0"/><rect x="1405.4" y="212.4" width="5.6" height="53.8" fill="#1e90ff"/><rect x="1436.4" y="229.7" width="5.6" height="47.8" fill="#f08080"/><rect x="1504" y="183.2" width="5.6" height="35.3" fill="#40e0d0"/><rect x="1535.4" y="175.9" width="5.6" height="77.6" fill="#1e90ff"/><rect x="1566" y="184.1" width="5.6" height="95.3" fill="#f08080"/><rect x="1633.4" y="164.7" width="5.6" height="52" fill="#40e0d0"/><rect x="1664.5" y="184.1" width="5.6" height="76.2" fill="#1e90ff"/><rect x="1696" y="182.2" width="5.6" height="79.9" fill="#f08080"/><rect x="1763.2" y="165.6" width="5.6" height="57.6" fill="#40e0d0"/><rect x="1794.5" y="187" width="5.6" height="59.4" fill="#1e90ff"/><rect x="1825.5" y="208.9" width="5.6" height="43" fill="#f08080"/></g>
<g><polyline points="1118,194.3 1247.4,193 1376.8,192.1" fill="none" stroke="#40e0d0" stroke-opacity="0.6" stroke-width="1"/><polyline points="1507.1,218.5 1636.2,217.6 1766,209.3" fill="none" stroke="#40e0d0" stroke-opacity="0.6" stroke-width="1"/><polyline points="1149,218.9 1278.8,213.9 1408.2,212.4" fill="none" stroke="#1e90ff" stroke-opacity="0.6" stroke-width="1"/><polyline points="1538.1,240.8 1667.7,235.8 1796.9,225" fill="none" stroke="#1e90ff" stroke-opacity="0.6" stroke-width="1"/><polyline points="1180.3,233.4 1310,224.1 1439.2,229.7" fill="none" stroke="#f08080" stroke-opacity="0.6" stroke-width="1"/><polyline points="1569.4,254.7 1698.5,245.4 1828.5,235.8" fill="none" stroke="#f08080" stroke-opacity="0.6" stroke-width="1"/></g>
<g><circle cx="1118" cy="194.3" r="5.3" fill="#40e0d0" stroke="#12403b" stroke-width="0.9"/><circle cx="1149" cy="218.9" r="5.3" fill="#1e90ff" stroke="#0a2a4d" stroke-width="0.9"/><circle cx="1180.3" cy="233.4" r="5.3" fill="#f08080" stroke="#4a2424" stroke-width="0.9"/><circle cx="1247.4" cy="193" r="5.3" fill="#40e0d0" stroke="#12403b" stroke-width="0.9"/><circle cx="1278.8" cy="213.9" r="5.3" fill="#1e90ff" stroke="#0a2a4d" stroke-width="0.9"/><circle cx="1310" cy="224.1" r="5.3" fill="#f08080" stroke="#4a2424" stroke-width="0.9"/><circle cx="1376.8" cy="192.1" r="5.3" fill="#40e0d0" stroke="#12403b" stroke-width="0.9"/><circle cx="1408.2" cy="212.4" r="5.3" fill="#1e90ff" stroke="#0a2a4d" stroke-width="0.9"/><circle cx="1439.2" cy="229.7" r="5.3" fill="#f08080" stroke="#4a2424" stroke-width="0.9"/><circle cx="1507.1" cy="218.5" r="5.3" fill="#40e0d0" stroke="#12403b" stroke-width="0.9"/><circle cx="1538.1" cy="240.8" r="5.3" fill="#1e90ff" stroke="#0a2a4d" stroke-width="0.9"/><circle cx="1569.4" cy="254.7" r="5.3" fill="#f08080" stroke="#4a2424" stroke-width="0.9"/><circle cx="1636.2" cy="217.6" r="5.3" fill="#40e0d0" stroke="#12403b" stroke-width="0.9"/><circle cx="1667.7" cy="235.8" r="5.3" fill="#1e90ff" stroke="#0a2a4d" stroke-width="0.9"/><circle cx="1698.5" cy="245.4" r="5.3" fill="#f08080" stroke="#4a2424" stroke-width="0.9"/><circle cx="1766" cy="209.3" r="5.3" fill="#40e0d0" stroke="#12403b" stroke-width="0.9"/><circle cx="1796.9" cy="225" r="5.3" fill="#1e90ff" stroke="#0a2a4d" stroke-width="0.9"/><circle cx="1828.5" cy="235.8" r="5.3" fill="#f08080" stroke="#4a2424" stroke-width="0.9"/></g>
</g>
<g id="AB">
<g><path d="M178 533.3L178 533.3L177.6 534.3L177.2 535.3L176.9 536.3L176.6 537.3L176.3 538.3L176 539.3L175.7 540.3L175.4 541.3L175.2 542.3L175 543.3L174.8 544.3L174.6 545.3L174.4 546.3L174.3 547.3L174.1 548.3L174 549.3L173.9 550.3L173.7 551.3L173.6 552.3L173.4 553.3L173.2 554.3L172.9 555.3L172.7 556.3L172.4 557.3L172 558.3L171.6 559.3L171.3 560.3L170.9 561.3L170.5 562.3L170.1 563.3L169.7 564.3L169.3 565.3L168.9 566.3L168.5 567.3L168.1 568.3L167.7 569.3L167.3 570.3L166.9 571.3L166.5 572.3L166.1 573.3L165.6 574.3L165.2 575.3L164.8 576.3L164.3 577.3L163.9 578.3L163.4 579.3L163 580.3L162.6 581.3L162.1 582.3L161.7 583.3L161.2 584.3L160.8 585.3L160.3 586.3L159.8 587.3L159.4 588.3L158.9 589.3L158.6 590.3L158.2 591.3L157.9 592.3L157.7 593.3L157.4 594.3L157.3 595.3L157.3 596.3L157.5 597.3L157.8 598.3L158.3 599.3L158.8 600.3L159.4 601.3L160.3 602.3L161.7 603.3L163.4 604.3L165.2 605.3L166.9 606.3L168.3 607.3L169.7 608.3L171 609.3L172.1 610.3L173.1 611.3L174 612.3L174.9 613.3L175.7 614.3L176.4 615.3L177.1 616.3L177.6 617.3L178 618.1L178 618.1 Z" fill="#40e0d0" fill-opacity="0.2"/><path d="M178 641.2L177.5 641.2L174.3 647.7L173.4 651.4L175.2 655.1L177.1 658.9L178 658.9 Z" fill="#40e0d0" fill-opacity="0.2"/><path d="M208.6 491.3L208.6 491.3L208.4 492.3L208.2 493.3L208 494.3L207.8 495.3L207.7 496.3L207.5 497.3L207.3 498.3L207.2 499.3L207 500.3L206.9 501.3L206.7 502.3L206.6 503.3L206.4 504.3L206.3 505.3L206.2 506.3L206 507.3L205.9 508.3L205.8 509.3L205.7 510.3L205.6 511.3L205.4 512.3L205.3 513.3L205.2 514.3L205.1 515.3L205 516.3L204.9 517.3L204.8 518.3L204.7 519.3L204.6 520.3L204.6 521.3L204.5 522.3L204.4 523.3L204.3 524.3L204.2 525.3L204.1 526.3L204.1 527.3L204 528.3L203.9 529.3L203.9 530.3L203.8 531.3L203.8 532.3L203.7 533.3L203.7 534.3L203.6 535.3L203.5 536.3L203.5 537.3L203.4 538.3L203.3 539.3L203.2 540.3L203.1 541.3L203 542.3L202.9 543.3L202.7 544.3L202.5 545.3L202.3 546.3L202 547.3L201.7 548.3L201.3 549.3L201 550.3L200.6 551.3L200.3 552.3L199.9 553.3L199.6 554.3L199.2 555.3L198.9 556.3L198.5 557.3L198.1 558.3L197.7 559.3L197.3 560.3L196.9 561.3L196.5 562.3L196 563.3L195.6 564.3L195.1 565.3L194.6 566.3L194.1 567.3L193.5 568.3L193 569.3L192.4 570.3L191.9 571.3L191.5 572.3L191.1 573.3L190.7 574.3L190.4 575.3L190 576.3L189.7 577.3L189.3 578.3L189.1 579.3L188.8 580.3L188.7 581.3L188.6 582.3L188.6 583.3L188.7 584.3L188.8 585.3L189.1 586.3L189.3 587.3L189.6 588.3L190 589.3L190.3 590.3L190.7 591.3L191.1 592.3L191.6 593.3L192.2 594.3L192.8 595.3L193.6 596.3L194.4 597.3L195.2 598.3L196 599.3L196.7 600.3L197.5 601.3L198.2 602.3L199 603.3L199.8 604.3L200.6 605.3L201.4 606.3L202.1 607.3L202.8 608.3L203.4 609.3L203.9 610.3L204.2 611.3L204.6 612.3L204.9 613.3L205.2 614.3L205.5 615.3L205.8 616.3L206 617.3L206.2 618.3L206.3 619.3L206.4 620.3L206.6 621.3L206.7 622.3L206.7 623.3L206.8 624.3L206.9 625.3L207 626.3L207 627.3L207.1 628.3L207.1 629.3L207.2 630.3L207.2 631.3L207.3 632.3L207.3 633.3L207.3 634.3L207.4 635.3L207.4 636.3L207.4 637.3L207.5 638.3L207.6 639.3L207.7 640.3L207.9 641.3L208 642.3L208.2 643.3L208.4 644.3L208.6 644.9L208.6 644.9 Z" fill="#1e90ff" fill-opacity="0.2"/><path d="M239.7 494.8L239.7 494.8L239.5 495.8L239.4 496.8L239.2 497.8L239 498.8L238.9 499.8L238.7 500.8L238.6 501.8L238.5 502.8L238.3 503.8L238.2 504.8L238.2 505.8L238.1 506.8L238.1 507.8L238.1 508.8L238.1 509.8L238.1 510.8L238.1 511.8L238.1 512.8L238.1 513.8L238.1 514.8L238.1 515.8L238.1 516.8L238.1 517.8L238.1 518.8L238.1 519.8L238.1 520.8L238.1 521.8L238.1 522.8L238.1 523.8L238.1 524.8L238.1 525.8L238.1 526.8L238.1 527.8L238.1 528.8L238.1 529.8L238 530.8L238 531.8L238 532.8L238 533.8L238 534.8L238 535.8L238 536.8L237.9 537.8L237.9 538.8L237.9 539.8L237.9 540.8L237.9 541.8L237.9 542.8L237.9 543.8L237.9 544.8L238 545.8L238 546.8L238 547.8L238.1 548.8L238.1 549.8L238.2 550.8L238.2 551.8L238.3 552.8L238.3 553.8L238.3 554.8L238.3 555.8L238.2 556.8L238.2 557.8L238.1 558.8L238 559.8L237.9 560.8L237.7 561.8L237.6 562.8L237.4 563.8L237.3 564.8L237.1 565.8L236.9 566.8L236.6 567.8L236.3 568.8L236 569.8L235.6 570.8L235.3 571.8L234.9 572.8L234.5 573.8L234 574.8L233.5 575.8L233 576.8L232.3 577.8L231.7 578.8L231 579.8L230.4 580.8L229.7 581.8L229 582.8L228.4 583.8L227.7 584.8L227 585.8L226.2 586.8L225.5 587.8L224.8 588.8L224.1 589.8L223.4 590.8L222.7 591.8L222.1 592.8L221.3 593.8L220.6 594.8L219.9 595.8L219.5 596.8L219.4 597.8L219.5 598.8L219.7 599.8L219.9 600.8L220.3 601.8L220.9 602.8L221.7 603.8L222.8 604.8L223.9 605.8L225.1 606.8L226.5 607.8L228.1 608.8L229.7 609.8L231 610.8L232.2 611.8L233.2 612.8L234.1 613.8L234.9 614.8L235.8 615.8L236.6 616.8L237.4 617.8L238 618.8L238.3 619.8L238.4 620.8L238.4 621.8L238.5 622.8L238.5 623.8L238.6 624.8L238.6 625.8L238.6 626.8L238.6 627.8L238.7 628.8L238.7 629.8L238.7 630.8L238.7 631.8L238.7 632.8L238.7 633.8L238.7 634.8L238.7 635.8L238.7 636.8L238.8 637.8L239 638.8L239.3 639.8L239.6 640.8L239.7 641.2L239.7 641.2 Z" fill="#f08080" fill-opacity="0.2"/><path d="M306.1 517.9L306.1 517.9L305.8 518.9L305.6 519.9L305.3 520.9L305.1 521.9L304.9 522.9L304.7 523.9L304.5 524.9L304.3 525.9L304.1 526.9L303.9 527.9L303.7 528.9L303.6 529.9L303.4 530.9L303.3 531.9L303.1 532.9L303 533.9L302.9 534.9L302.7 535.9L302.6 536.9L302.4 537.9L302.3 538.9L302.2 539.9L302 540.9L301.9 541.9L301.7 542.9L301.6 543.9L301.4 544.9L301.3 545.9L301.2 546.9L301.1 547.9L300.9 548.9L300.8 549.9L300.7 550.9L300.5 551.9L300.3 552.9L300.1 553.9L299.9 554.9L299.6 555.9L299.2 556.9L298.7 557.9L298.2 558.9L297.6 559.9L297 560.9L296.4 561.9L295.7 562.9L295.1 563.9L294.5 564.9L293.7 565.9L292.9 566.9L292.1 567.9L291.3 568.9L290.5 569.9L289.7 570.9L289.1 571.9L288.6 572.9L288.3 573.9L288 574.9L287.7 575.9L287.4 576.9L287.1 577.9L286.9 578.9L286.7 579.9L286.6 580.9L286.5 581.9L286.5 582.9L286.5 583.9L286.6 584.9L286.8 585.9L287 586.9L287.2 587.9L287.5 588.9L287.7 589.9L288 590.9L288.3 591.9L288.6 592.9L289 593.9L289.4 594.9L289.9 595.9L290.4 596.9L291 597.9L291.5 598.9L292.1 599.9L292.7 600.9L293.3 601.9L294 602.9L294.7 603.9L295.5 604.9L296.3 605.9L297.1 606.9L297.8 607.9L298.5 608.9L299.1 609.9L299.6 610.9L300.1 611.9L300.5 612.9L300.9 613.9L301.3 614.9L301.7 615.9L302 616.9L302.3 617.9L302.6 618.9L302.8 619.9L303 620.9L303.2 621.9L303.4 622.9L303.5 623.9L303.7 624.9L303.8 625.9L303.9 626.9L304 627.9L304.1 628.9L304.2 629.9L304.2 630.9L304.3 631.9L304.4 632.9L304.4 633.9L304.4 634.9L304.5 635.9L304.6 636.9L304.6 637.9L304.7 638.9L304.8 639.9L305 640.9L305.1 641.9L305.3 642.9L305.5 643.9L305.7 644.9L305.9 645.9L306.1 646.8L306.1 646.8 Z" fill="#40e0d0" fill-opacity="0.2"/><path d="M337.6 484.5L337.6 484.5L337.6 485.5L337.5 486.5L337.4 487.5L337.4 488.5L337.3 489.5L337.2 490.5L337.2 491.5L337.1 492.5L337 493.5L336.9 494.5L336.9 495.5L336.8 496.5L336.7 497.5L336.7 498.5L336.6 499.5L336.5 500.5L336.5 501.5L336.4 502.5L336.3 503.5L336.3 504.5L336.2 505.5L336.1 506.5L336.1 507.5L336 508.5L335.9 509.5L335.9 510.5L335.8 511.5L335.7 512.5L335.7 513.5L335.6 514.5L335.6 515.5L335.5 516.5L335.5 517.5L335.4 518.5L335.3 519.5L335.3 520.5L335.2 521.5L335.1 522.5L335 523.5L334.9 524.5L334.8 525.5L334.7 526.5L334.5 527.5L334.2 528.5L334 529.5L333.7 530.5L333.4 531.5L333.1 532.5L332.8 533.5L332.4 534.5L332.1 535.5L331.7 536.5L331.3 537.5L330.9 538.5L330.5 539.5L330.1 540.5L329.6 541.5L329.2 542.5L328.8 543.5L328.4 544.5L328.1 545.5L327.7 546.5L327.3 547.5L326.9 548.5L326.5 549.5L326.1 550.5L325.6 551.5L325 552.5L324.4 553.5L323.8 554.5L323.4 555.5L322.9 556.5L322.4 557.5L322 558.5L321.6 559.5L321.2 560.5L320.8 561.5L320.5 562.5L320.1 563.5L319.8 564.5L319.5 565.5L319.2 566.5L319 567.5L318.7 568.5L318.4 569.5L318.2 570.5L318 571.5L317.8 572.5L317.7 573.5L317.5 574.5L317.4 575.5L317.2 576.5L317.1 577.5L317 578.5L316.9 579.5L316.8 580.5L316.8 581.5L316.7 582.5L316.8 583.5L316.8 584.5L317 585.5L317.2 586.5L317.4 587.5L317.7 588.5L318.1 589.5L318.4 590.5L318.7 591.5L319.1 592.5L319.6 593.5L320.2 594.5L320.8 595.5L321.6 596.5L322.4 597.5L323.2 598.5L324 599.5L324.8 600.5L325.6 601.5L326.4 602.5L327.2 603.5L328.1 604.5L329.1 605.5L330 606.5L330.8 607.5L331.6 608.5L332.3 609.5L332.8 610.5L333.2 611.5L333.6 612.5L333.9 613.5L334.2 614.5L334.4 615.5L334.7 616.5L335 617.5L335.2 618.5L335.5 619.5L335.8 620.5L336.2 621.5L336.5 622.5L336.9 623.5L337.3 624.5L337.6 625.5L337.6 625.5 Z" fill="#1e90ff" fill-opacity="0.2"/><path d="M368.2 528.2L368.2 528.2L368 529.2L367.8 530.2L367.5 531.2L367.3 532.2L367 533.2L366.7 534.2L366.5 535.2L366.2 536.2L365.9 537.2L365.6 538.2L365.3 539.2L365 540.2L364.7 541.2L364.4 542.2L364.1 543.2L363.7 544.2L363.4 545.2L363 546.2L362.7 547.2L362.3 548.2L361.9 549.2L361.5 550.2L361.1 551.2L360.8 552.2L360.4 553.2L360 554.2L359.7 555.2L359.4 556.2L359.1 557.2L358.8 558.2L358.5 559.2L358.2 560.2L358 561.2L357.7 562.2L357.3 563.2L357 564.2L356.7 565.2L356.3 566.2L355.9 567.2L355.5 568.2L355.1 569.2L354.7 570.2L354.3 571.2L353.8 572.2L353.4 573.2L353 574.2L352.6 575.2L352.1 576.2L351.7 577.2L351.2 578.2L350.8 579.2L350.4 580.2L350 581.2L349.7 582.2L349.5 583.2L349.3 584.2L349.1 585.2L348.9 586.2L348.7 587.2L348.5 588.2L348.4 589.2L348.3 590.2L348.2 591.2L348.1 592.2L348 593.2L347.9 594.2L347.8 595.2L347.7 596.2L347.7 597.2L347.8 598.2L348.2 599.2L348.8 600.2L349.4 601.2L350.1 602.2L350.8 603.2L351.5 604.2L352.3 605.2L353.2 606.2L354 607.2L354.9 608.2L355.7 609.2L356.6 610.2L357.4 611.2L358.2 612.2L359.1 613.2L359.9 614.2L360.7 615.2L361.6 616.2L362.4 617.2L363.1 618.2L363.9 619.2L364.6 620.2L365.2 621.2L365.8 622.2L366.4 623.2L367 624.2L367.6 625.2L368.1 626.2L368.2 626.4L368.2 626.4 Z" fill="#f08080" fill-opacity="0.2"/><path d="M435.2 508.5L435.2 508.5L435.1 509.5L434.9 510.5L434.8 511.5L434.7 512.5L434.6 513.5L434.4 514.5L434.3 515.5L434.1 516.5L434 517.5L433.8 518.5L433.6 519.5L433.5 520.5L433.3 521.5L433.1 522.5L432.9 523.5L432.7 524.5L432.5 525.5L432.3 526.5L432.1 527.5L431.9 528.5L431.7 529.5L431.5 530.5L431.3 531.5L431 532.5L430.8 533.5L430.5 534.5L430.2 535.5L430 536.5L429.7 537.5L429.4 538.5L429.2 539.5L428.9 540.5L428.6 541.5L428.3 542.5L428 543.5L427.7 544.5L427.4 545.5L427.1 546.5L426.8 547.5L426.5 548.5L426.1 549.5L425.8 550.5L425.5 551.5L425.1 552.5L424.7 553.5L424.3 554.5L423.9 555.5L423.4 556.5L422.9 557.5L422.4 558.5L421.8 559.5L421.3 560.5L420.8 561.5L420.3 562.5L419.8 563.5L419.4 564.5L419 565.5L418.7 566.5L418.3 567.5L418 568.5L417.7 569.5L417.4 570.5L417.2 571.5L416.9 572.5L416.7 573.5L416.5 574.5L416.3 575.5L416.1 576.5L415.8 577.5L415.7 578.5L415.5 579.5L415.4 580.5L415.3 581.5L415.2 582.5L415.2 583.5L415.3 584.5L415.4 585.5L415.5 586.5L415.7 587.5L415.8 588.5L416.1 589.5L416.3 590.5L416.5 591.5L416.8 592.5L417.2 593.5L417.7 594.5L418.2 595.5L418.9 596.5L419.6 597.5L420.3 598.5L421 599.5L421.7 600.5L422.3 601.5L422.9 602.5L423.6 603.5L424.2 604.5L424.8 605.5L425.5 606.5L426.1 607.5L426.7 608.5L427.2 609.5L427.7 610.5L428.2 611.5L428.7 612.5L429.1 613.5L429.6 614.5L430 615.5L430.4 616.5L430.8 617.5L431.1 618.5L431.4 619.5L431.7 620.5L431.9 621.5L432.1 622.5L432.4 623.5L432.6 624.5L432.7 625.5L432.9 626.5L433.1 627.5L433.3 628.5L433.4 629.5L433.6 630.5L433.8 631.5L433.9 632.5L434.1 633.5L434.2 634.5L434.4 635.5L434.5 636.5L434.6 637.5L434.8 638.5L434.9 639.5L435 640.5L435.1 641.5L435.2 642.2L435.2 642.2 Z" fill="#40e0d0" fill-opacity="0.2"/><path d="M466.7 479.4L466.7 479.4L466.5 480.4L466.3 481.4L466.2 482.4L466 483.4L465.8 484.4L465.6 485.4L465.5 486.4L465.3 487.4L465.2 488.4L465 489.4L464.8 490.4L464.7 491.4L464.6 492.4L464.4 493.4L464.3 494.4L464.1 495.4L464 496.4L463.8 497.4L463.7 498.4L463.5 499.4L463.4 500.4L463.3 501.4L463.1 502.4L463 503.4L462.9 504.4L462.8 505.4L462.7 506.4L462.6 507.4L462.5 508.4L462.4 509.4L462.3 510.4L462.2 511.4L462.2 512.4L462.1 513.4L462 514.4L461.9 515.4L461.9 516.4L461.8 517.4L461.8 518.4L461.7 519.4L461.6 520.4L461.6 521.4L461.5 522.4L461.4 523.4L461.4 524.4L461.3 525.4L461.2 526.4L461.2 527.4L461.1 528.4L461 529.4L461 530.4L460.9 531.4L460.8 532.4L460.8 533.4L460.7 534.4L460.6 535.4L460.6 536.4L460.5 537.4L460.4 538.4L460.3 539.4L460.2 540.4L460.1 541.4L460 542.4L459.8 543.4L459.6 544.4L459.3 545.4L459 546.4L458.6 547.4L458.3 548.4L457.8 549.4L457.4 550.4L457 551.4L456.6 552.4L456.2 553.4L455.8 554.4L455.5 555.4L455.2 556.4L454.9 557.4L454.6 558.4L454.3 559.4L454.1 560.4L453.8 561.4L453.5 562.4L453.2 563.4L452.8 564.4L452.5 565.4L452.1 566.4L451.6 567.4L451.2 568.4L450.8 569.4L450.3 570.4L449.9 571.4L449.5 572.4L449.2 573.4L448.9 574.4L448.5 575.4L448.2 576.4L447.8 577.4L447.5 578.4L447.2 579.4L447 580.4L446.8 581.4L446.7 582.4L446.7 583.4L446.8 584.4L446.8 585.4L446.8 586.4L446.9 587.4L446.9 588.4L447 589.4L447.1 590.4L447.2 591.4L447.3 592.4L447.5 593.4L447.9 594.4L448.3 595.4L448.8 596.4L449.4 597.4L450 598.4L450.7 599.4L451.3 600.4L451.9 601.4L452.6 602.4L453.3 603.4L454.2 604.4L455 605.4L455.9 606.4L456.7 607.4L457.6 608.4L458.4 609.4L459.2 610.4L459.8 611.4L460.5 612.4L461.1 613.4L461.8 614.4L462.4 615.4L463 616.4L463.5 617.4L464.1 618.4L464.6 619.4L465.1 620.4L465.7 621.4L466.1 622.4L466.6 623.4L466.7 623.6L466.7 623.6 Z" fill="#1e90ff" fill-opacity="0.2"/><path d="M466.7 650.5L466.2 650.5L465.5 654.2L465.5 657.9L466.2 661.6L466.7 661.6 Z" fill="#1e90ff" fill-opacity="0.2"/><path d="M497.3 544.2L497.3 544.2L496.9 545.2L496.5 546.2L496 547.2L495.5 548.2L494.9 549.2L494.3 550.2L493.7 551.2L493.1 552.2L492.4 553.2L491.6 554.2L490.9 555.2L490.1 556.2L489.3 557.2L488.3 558.2L487.4 559.2L486.4 560.2L485.5 561.2L484.6 562.2L483.8 563.2L483 564.2L482.2 565.2L481.4 566.2L480.7 567.2L480 568.2L479.5 569.2L479 570.2L478.6 571.2L478.2 572.2L477.9 573.2L477.6 574.2L477.3 575.2L477.2 576.2L477.1 577.2L477.2 578.2L477.3 579.2L477.5 580.2L477.7 581.2L478 582.2L478.2 583.2L478.5 584.2L478.7 585.2L479 586.2L479.3 587.2L479.6 588.2L479.9 589.2L480.3 590.2L480.6 591.2L481 592.2L481.5 593.2L482 594.2L482.5 595.2L483 596.2L483.6 597.2L484.1 598.2L484.7 599.2L485.2 600.2L485.8 601.2L486.4 602.2L487 603.2L487.6 604.2L488.2 605.2L488.8 606.2L489.4 607.2L490 608.2L490.6 609.2L491.2 610.2L491.8 611.2L492.4 612.2L493.1 613.2L493.9 614.2L494.6 615.2L495.4 616.2L496.3 617.2L497.1 618.2L497.3 618.4L497.3 618.4 Z" fill="#f08080" fill-opacity="0.2"/><path d="M497.3 493.9L497.1 493.9L496.4 499.9L496.4 506.8L497.1 511.9L497.3 511.9 Z" fill="#f08080" fill-opacity="0.2"/><path d="M564.6 521.3L564.6 521.3L564.2 522.3L563.8 523.3L563.4 524.3L563 525.3L562.7 526.3L562.5 527.3L562.2 528.3L562 529.3L561.8 530.3L561.6 531.3L561.4 532.3L561.1 533.3L560.8 534.3L560.5 535.3L560.2 536.3L559.8 537.3L559.4 538.3L559 539.3L558.5 540.3L558.1 541.3L557.6 542.3L557.2 543.3L556.8 544.3L556.3 545.3L555.9 546.3L555.4 547.3L554.9 548.3L554.3 549.3L553.8 550.3L553.2 551.3L552.4 552.3L551.6 553.3L550.7 554.3L550 555.3L549.4 556.3L548.8 557.3L548.2 558.3L547.6 559.3L547.1 560.3L546.6 561.3L546.2 562.3L545.8 563.3L545.6 564.3L545.4 565.3L545.1 566.3L545 567.3L544.8 568.3L544.6 569.3L544.5 570.3L544.4 571.3L544.3 572.3L544.3 573.3L544.3 574.3L544.3 575.3L544.4 576.3L544.4 577.3L544.5 578.3L544.6 579.3L544.7 580.3L544.8 581.3L545 582.3L545.1 583.3L545.3 584.3L545.5 585.3L545.7 586.3L546 587.3L546.3 588.3L546.6 589.3L546.9 590.3L547.2 591.3L547.5 592.3L547.8 593.3L548.1 594.3L548.4 595.3L548.7 596.3L549 597.3L549.3 598.3L549.6 599.3L549.9 600.3L550.2 601.3L550.5 602.3L550.7 603.3L551 604.3L551.2 605.3L551.5 606.3L551.7 607.3L552 608.3L552.2 609.3L552.4 610.3L552.6 611.3L552.8 612.3L552.9 613.3L553.1 614.3L553.3 615.3L553.5 616.3L553.6 617.3L553.8 618.3L553.9 619.3L554 620.3L554 621.3L554.1 622.3L554.1 623.3L554.2 624.3L554.2 625.3L554.3 626.3L554.3 627.3L554.4 628.3L554.5 629.3L554.6 630.3L554.7 631.3L554.8 632.3L554.9 633.3L555 634.3L555.2 635.3L555.4 636.3L555.5 637.3L555.7 638.3L556 639.3L556.4 640.3L556.8 641.3L557.3 642.3L557.9 643.3L558.4 644.3L559 645.3L559.6 646.3L560.2 647.3L560.7 648.3L561.3 649.3L561.8 650.3L562.4 651.3L563 652.3L563.5 653.3L564.1 654.3L564.6 655.1L564.6 655.1 Z" fill="#40e0d0" fill-opacity="0.2"/><path d="M595.2 487.1L595.2 487.1L594.8 488.1L594.4 489.1L594.1 490.1L593.8 491.1L593.6 492.1L593.5 493.1L593.3 494.1L593.2 495.1L593.1 496.1L593 497.1L592.9 498.1L592.8 499.1L592.7 500.1L592.6 501.1L592.5 502.1L592.5 503.1L592.4 504.1L592.3 505.1L592.2 506.1L592.2 507.1L592.1 508.1L592 509.1L591.9 510.1L591.8 511.1L591.8 512.1L591.7 513.1L591.6 514.1L591.5 515.1L591.5 516.1L591.4 517.1L591.3 518.1L591.3 519.1L591.2 520.1L591.1 521.1L591.1 522.1L591 523.1L590.9 524.1L590.9 525.1L590.8 526.1L590.8 527.1L590.7 528.1L590.7 529.1L590.6 530.1L590.6 531.1L590.5 532.1L590.5 533.1L590.5 534.1L590.4 535.1L590.4 536.1L590.3 537.1L590.3 538.1L590.2 539.1L590.2 540.1L590.1 541.1L590 542.1L590 543.1L589.9 544.1L589.8 545.1L589.7 546.1L589.6 547.1L589.4 548.1L589.3 549.1L589.1 550.1L589 551.1L588.8 552.1L588.6 553.1L588.4 554.1L588.2 555.1L588 556.1L587.6 557.1L587.3 558.1L586.9 559.1L586.5 560.1L586 561.1L585.5 562.1L585.1 563.1L584.6 564.1L584.2 565.1L583.7 566.1L583.2 567.1L582.6 568.1L582.1 569.1L581.6 570.1L581.1 571.1L580.6 572.1L580.1 573.1L579.6 574.1L579.2 575.1L578.7 576.1L578.2 577.1L577.8 578.1L577.3 579.1L576.9 580.1L576.6 581.1L576.3 582.1L576.1 583.1L576 584.1L575.8 585.1L575.7 586.1L575.6 587.1L575.5 588.1L575.4 589.1L575.3 590.1L575.3 591.1L575.2 592.1L575.3 593.1L575.5 594.1L575.8 595.1L576.2 596.1L576.6 597.1L577.2 598.1L577.7 599.1L578.3 600.1L578.8 601.1L579.4 602.1L580 603.1L580.8 604.1L581.6 605.1L582.5 606.1L583.4 607.1L584.3 608.1L585.1 609.1L585.9 610.1L586.7 611.1L587.4 612.1L588.2 613.1L588.9 614.1L589.6 615.1L590.3 616.1L591 617.1L591.6 618.1L592.3 619.1L593 620.1L593.6 621.1L594.3 622.1L594.9 623.1L595.2 623.6L595.2 623.6 Z" fill="#1e90ff" fill-opacity="0.2"/><path d="M595.2 644L594.7 644L594.2 646.8L594.2 648.7L594.7 651.4L595.2 651.4 Z" fill="#1e90ff" fill-opacity="0.2"/><path d="M626.4 530.7L626.4 530.7L626.2 531.7L626 532.7L625.8 533.7L625.6 534.7L625.4 535.7L625.1 536.7L624.9 537.7L624.6 538.7L624.3 539.7L624 540.7L623.7 541.7L623.4 542.7L623 543.7L622.6 544.7L622.1 545.7L621.7 546.7L621.1 547.7L620.6 548.7L620.1 549.7L619.6 550.7L619.1 551.7L618.7 552.7L618.3 553.7L618 554.7L617.7 555.7L617.5 556.7L617.3 557.7L617.1 558.7L616.9 559.7L616.8 560.7L616.6 561.7L616.4 562.7L616.2 563.7L615.9 564.7L615.7 565.7L615.4 566.7L615.1 567.7L614.8 568.7L614.5 569.7L614.2 570.7L613.9 571.7L613.5 572.7L613.2 573.7L612.8 574.7L612.4 575.7L612 576.7L611.6 577.7L611.2 578.7L610.8 579.7L610.3 580.7L610 581.7L609.6 582.7L609.2 583.7L608.9 584.7L608.5 585.7L608.2 586.7L607.9 587.7L607.5 588.7L607.3 589.7L607 590.7L606.8 591.7L606.7 592.7L606.5 593.7L606.4 594.7L606.3 595.7L606.2 596.7L606.2 597.7L606.4 598.7L606.8 599.7L607.4 600.7L607.9 601.7L608.5 602.7L609.2 603.7L610 604.7L610.9 605.7L611.8 606.7L612.7 607.7L613.6 608.7L614.4 609.7L615.2 610.7L616 611.7L616.8 612.7L617.6 613.7L618.4 614.7L619.2 615.7L619.9 616.7L620.6 617.7L621.1 618.7L621.6 619.7L621.9 620.7L622.2 621.7L622.4 622.7L622.7 623.7L622.9 624.7L623.1 625.7L623.3 626.7L623.4 627.7L623.5 628.7L623.5 629.7L623.5 630.7L623.5 631.7L623.5 632.7L623.5 633.7L623.5 634.7L623.5 635.7L623.5 636.7L623.5 637.7L623.5 638.7L623.4 639.7L623.3 640.7L623.2 641.7L623.1 642.7L622.9 643.7L622.8 644.7L622.7 645.7L622.6 646.7L622.5 647.7L622.6 648.7L622.6 649.7L622.8 650.7L622.9 651.7L623.1 652.7L623.3 653.7L623.5 654.7L623.7 655.7L624 656.7L624.2 657.7L624.5 658.7L624.8 659.7L625.2 660.7L625.6 661.7L626 662.7L626.4 663.5L626.4 663.5 Z" fill="#f08080" fill-opacity="0.2"/><path d="M693.3 514.5L693.3 514.5L693.2 515.5L693.1 516.5L692.9 517.5L692.8 518.5L692.6 519.5L692.5 520.5L692.3 521.5L692.2 522.5L692 523.5L691.9 524.5L691.7 525.5L691.5 526.5L691.4 527.5L691.2 528.5L691 529.5L690.9 530.5L690.7 531.5L690.5 532.5L690.3 533.5L690.2 534.5L690 535.5L689.8 536.5L689.6 537.5L689.3 538.5L689.1 539.5L688.9 540.5L688.6 541.5L688.3 542.5L688 543.5L687.6 544.5L687.2 545.5L686.7 546.5L686.1 547.5L685.6 548.5L685 549.5L684.5 550.5L683.9 551.5L683.4 552.5L682.9 553.5L682.5 554.5L682.1 555.5L681.7 556.5L681.4 557.5L681.1 558.5L680.8 559.5L680.6 560.5L680.3 561.5L680 562.5L679.7 563.5L679.4 564.5L679.1 565.5L678.8 566.5L678.5 567.5L678.2 568.5L677.9 569.5L677.6 570.5L677.3 571.5L677 572.5L676.7 573.5L676.4 574.5L676.2 575.5L675.9 576.5L675.6 577.5L675.4 578.5L675.1 579.5L674.9 580.5L674.7 581.5L674.5 582.5L674.4 583.5L674.2 584.5L674 585.5L673.9 586.5L673.7 587.5L673.6 588.5L673.5 589.5L673.4 590.5L673.4 591.5L673.4 592.5L673.4 593.5L673.4 594.5L673.4 595.5L673.4 596.5L673.4 597.5L673.4 598.5L673.4 599.5L673.4 600.5L673.4 601.5L673.4 602.5L673.5 603.5L673.6 604.5L673.8 605.5L673.9 606.5L674.1 607.5L674.4 608.5L674.6 609.5L674.8 610.5L675 611.5L675.3 612.5L675.5 613.5L675.8 614.5L676.1 615.5L676.5 616.5L676.8 617.5L677.1 618.5L677.5 619.5L677.8 620.5L678.2 621.5L678.6 622.5L679 623.5L679.4 624.5L679.9 625.5L680.3 626.5L680.7 627.5L681.1 628.5L681.4 629.5L681.8 630.5L682.1 631.5L682.5 632.5L682.8 633.5L683.1 634.5L683.4 635.5L683.7 636.5L683.9 637.5L684.1 638.5L684.2 639.5L684.4 640.5L684.4 641.5L684.5 642.5L684.6 643.5L684.7 644.5L684.8 645.5L684.9 646.5L685 647.5L685.2 648.5L685.4 649.5L685.6 650.5L685.9 651.5L686.2 652.5L686.5 653.5L686.9 654.5L687.2 655.5L687.6 656.5L688 657.5L688.4 658.5L688.9 659.5L689.4 660.5L689.9 661.5L690.4 662.5L691 663.5L691.6 664.5L692.2 665.5L692.8 666.5L693.3 667.2L693.3 667.2 Z" fill="#40e0d0" fill-opacity="0.2"/><path d="M724.5 481.1L724.5 481.1L724.3 482.1L724.2 483.1L724.1 484.1L724 485.1L723.8 486.1L723.7 487.1L723.6 488.1L723.5 489.1L723.4 490.1L723.4 491.1L723.3 492.1L723.2 493.1L723.2 494.1L723.1 495.1L723 496.1L723 497.1L722.9 498.1L722.9 499.1L722.8 500.1L722.8 501.1L722.8 502.1L722.7 503.1L722.7 504.1L722.6 505.1L722.6 506.1L722.5 507.1L722.5 508.1L722.4 509.1L722.4 510.1L722.4 511.1L722.3 512.1L722.3 513.1L722.2 514.1L722.2 515.1L722.1 516.1L722.1 517.1L722.1 518.1L722 519.1L722 520.1L721.9 521.1L721.9 522.1L721.8 523.1L721.7 524.1L721.7 525.1L721.6 526.1L721.5 527.1L721.4 528.1L721.3 529.1L721.1 530.1L721 531.1L720.9 532.1L720.7 533.1L720.6 534.1L720.4 535.1L720.2 536.1L720 537.1L719.9 538.1L719.7 539.1L719.5 540.1L719.3 541.1L719.2 542.1L719 543.1L718.8 544.1L718.6 545.1L718.5 546.1L718.3 547.1L718.1 548.1L717.9 549.1L717.7 550.1L717.5 551.1L717.3 552.1L717.1 553.1L716.8 554.1L716.5 555.1L716.2 556.1L715.9 557.1L715.5 558.1L715.1 559.1L714.7 560.1L714.3 561.1L713.8 562.1L713.4 563.1L712.9 564.1L712.5 565.1L712.1 566.1L711.6 567.1L711.1 568.1L710.6 569.1L710.2 570.1L709.7 571.1L709.2 572.1L708.8 573.1L708.4 574.1L707.9 575.1L707.5 576.1L707 577.1L706.6 578.1L706.2 579.1L705.8 580.1L705.4 581.1L705.1 582.1L704.8 583.1L704.5 584.1L704.3 585.1L704 586.1L703.9 587.1L703.8 588.1L703.8 589.1L704 590.1L704.2 591.1L704.5 592.1L704.8 593.1L705.2 594.1L705.6 595.1L706.1 596.1L706.6 597.1L707.1 598.1L707.7 599.1L708.3 600.1L709 601.1L709.6 602.1L710.4 603.1L711.3 604.1L712.3 605.1L713.3 606.1L714.3 607.1L715.3 608.1L716.2 609.1L717.1 610.1L717.8 611.1L718.5 612.1L719.1 613.1L719.6 614.1L720.2 615.1L720.7 616.1L721.3 617.1L721.9 618.1L722.5 619.1L723.2 620.1L723.9 621.1L724.5 621.8L724.5 621.8 Z" fill="#1e90ff" fill-opacity="0.2"/><path d="M755.1 513.6L755.1 513.6L754.9 514.6L754.8 515.6L754.6 516.6L754.5 517.6L754.3 518.6L754.2 519.6L754 520.6L753.9 521.6L753.7 522.6L753.6 523.6L753.4 524.6L753.3 525.6L753.1 526.6L753 527.6L752.8 528.6L752.7 529.6L752.6 530.6L752.4 531.6L752.3 532.6L752.1 533.6L752 534.6L751.9 535.6L751.7 536.6L751.6 537.6L751.4 538.6L751.2 539.6L751.1 540.6L750.9 541.6L750.7 542.6L750.6 543.6L750.4 544.6L750.2 545.6L750 546.6L749.8 547.6L749.6 548.6L749.4 549.6L749.2 550.6L749 551.6L748.8 552.6L748.5 553.6L748.2 554.6L747.9 555.6L747.5 556.6L747.1 557.6L746.6 558.6L746 559.6L745.5 560.6L744.9 561.6L744.3 562.6L743.8 563.6L743.3 564.6L742.8 565.6L742.2 566.6L741.7 567.6L741.2 568.6L740.6 569.6L740.1 570.6L739.6 571.6L739.2 572.6L738.8 573.6L738.4 574.6L738.1 575.6L737.7 576.6L737.4 577.6L737.1 578.6L736.8 579.6L736.6 580.6L736.3 581.6L736.1 582.6L735.9 583.6L735.6 584.6L735.4 585.6L735.2 586.6L735.1 587.6L735.1 588.6L735.2 589.6L735.4 590.6L735.6 591.6L735.8 592.6L736.1 593.6L736.6 594.6L737.1 595.6L737.6 596.6L738.3 597.6L738.9 598.6L739.6 599.6L740.2 600.6L740.8 601.6L741.5 602.6L742.1 603.6L742.9 604.6L743.6 605.6L744.3 606.6L745.1 607.6L745.8 608.6L746.5 609.6L747.1 610.6L747.8 611.6L748.5 612.6L749.2 613.6L749.8 614.6L750.5 615.6L751.1 616.6L751.7 617.6L752.2 618.6L752.6 619.6L753 620.6L753.3 621.6L753.7 622.6L754 623.6L754.3 624.6L754.6 625.6L754.8 626.6L755 627.6L755.1 628.6L755.1 629.6L755.1 630.6L755.1 631.6L755.1 632L755.1 632 Z" fill="#f08080" fill-opacity="0.2"/><path d="M822.2 513.6L822.2 513.6L822 514.6L821.9 515.6L821.7 516.6L821.5 517.6L821.3 518.6L821.2 519.6L821 520.6L820.8 521.6L820.6 522.6L820.4 523.6L820.2 524.6L820 525.6L819.8 526.6L819.7 527.6L819.5 528.6L819.3 529.6L819.1 530.6L818.9 531.6L818.7 532.6L818.5 533.6L818.2 534.6L818 535.6L817.7 536.6L817.4 537.6L817.1 538.6L816.8 539.6L816.5 540.6L816.2 541.6L815.8 542.6L815.4 543.6L815 544.6L814.6 545.6L814.1 546.6L813.6 547.6L813.1 548.6L812.5 549.6L811.9 550.6L811.2 551.6L810.5 552.6L809.6 553.6L808.7 554.6L807.8 555.6L806.9 556.6L806 557.6L805.1 558.6L804.3 559.6L803.7 560.6L803.2 561.6L802.8 562.6L802.4 563.6L802.1 564.6L801.9 565.6L801.9 566.6L802 567.6L802.2 568.6L802.4 569.6L802.7 570.6L803.1 571.6L803.4 572.6L803.7 573.6L804.1 574.6L804.5 575.6L805 576.6L805.5 577.6L806.1 578.6L806.6 579.6L807.2 580.6L807.7 581.6L808.3 582.6L808.8 583.6L809.3 584.6L809.8 585.6L810.3 586.6L810.8 587.6L811.3 588.6L811.8 589.6L812.3 590.6L812.8 591.6L813.2 592.6L813.6 593.6L814.1 594.6L814.5 595.6L814.9 596.6L815.2 597.6L815.6 598.6L816 599.6L816.4 600.6L816.8 601.6L817.2 602.6L817.6 603.6L818 604.6L818.4 605.6L818.7 606.6L819.1 607.6L819.5 608.6L820 609.6L820.4 610.6L820.9 611.6L821.3 612.6L821.8 613.6L822.2 614.3L822.2 614.3 Z" fill="#40e0d0" fill-opacity="0.2"/><path d="M853.4 476.8L853.4 476.8L853.2 477.8L853 478.8L852.8 479.8L852.6 480.8L852.5 481.8L852.3 482.8L852.1 483.8L851.9 484.8L851.8 485.8L851.6 486.8L851.4 487.8L851.3 488.8L851.1 489.8L850.9 490.8L850.8 491.8L850.6 492.8L850.5 493.8L850.3 494.8L850.1 495.8L850 496.8L849.8 497.8L849.7 498.8L849.5 499.8L849.3 500.8L849.2 501.8L849 502.8L848.9 503.8L848.8 504.8L848.6 505.8L848.5 506.8L848.4 507.8L848.2 508.8L848.1 509.8L848 510.8L847.9 511.8L847.8 512.8L847.7 513.8L847.6 514.8L847.5 515.8L847.4 516.8L847.4 517.8L847.3 518.8L847.2 519.8L847.1 520.8L847 521.8L846.9 522.8L846.8 523.8L846.7 524.8L846.5 525.8L846.4 526.8L846.3 527.8L846.2 528.8L846 529.8L845.9 530.8L845.8 531.8L845.6 532.8L845.5 533.8L845.3 534.8L845.2 535.8L845 536.8L844.9 537.8L844.7 538.8L844.5 539.8L844.4 540.8L844.2 541.8L844 542.8L843.8 543.8L843.6 544.8L843.3 545.8L843.1 546.8L842.8 547.8L842.6 548.8L842.3 549.8L842 550.8L841.7 551.8L841.4 552.8L841.2 553.8L840.9 554.8L840.6 555.8L840.3 556.8L840 557.8L839.7 558.8L839.4 559.8L839 560.8L838.7 561.8L838.4 562.8L838.2 563.8L837.9 564.8L837.6 565.8L837.4 566.8L837.1 567.8L836.9 568.8L836.7 569.8L836.4 570.8L836.2 571.8L836 572.8L835.7 573.8L835.5 574.8L835.2 575.8L835 576.8L834.7 577.8L834.4 578.8L834.2 579.8L834 580.8L833.9 581.8L833.8 582.8L833.7 583.8L833.6 584.8L833.6 585.8L833.5 586.8L833.5 587.8L833.5 588.8L833.4 589.8L833.4 590.8L833.4 591.8L833.4 592.8L833.6 593.8L834 594.8L834.5 595.8L835 596.8L835.6 597.8L836.3 598.8L837 599.8L837.7 600.8L838.3 601.8L839.1 602.8L839.9 603.8L840.8 604.8L841.8 605.8L842.7 606.8L843.7 607.8L844.7 608.8L845.6 609.8L846.5 610.8L847.4 611.8L848.2 612.8L849.1 613.8L849.9 614.8L850.8 615.8L851.6 616.8L852.4 617.8L853.2 618.8L853.4 619L853.4 619 Z" fill="#1e90ff" fill-opacity="0.2"/><path d="M853.4 635.7L852.9 635.7L852.3 644L852.3 653.3L852.9 661.6L853.4 661.6 Z" fill="#1e90ff" fill-opacity="0.2"/><path d="M884.3 472.5L884.3 472.5L884.2 473.5L884.1 474.5L883.9 475.5L883.8 476.5L883.6 477.5L883.5 478.5L883.4 479.5L883.3 480.5L883.1 481.5L883 482.5L882.9 483.5L882.8 484.5L882.7 485.5L882.6 486.5L882.5 487.5L882.4 488.5L882.3 489.5L882.2 490.5L882.2 491.5L882.1 492.5L882 493.5L881.9 494.5L881.9 495.5L881.8 496.5L881.8 497.5L881.7 498.5L881.7 499.5L881.6 500.5L881.5 501.5L881.5 502.5L881.4 503.5L881.4 504.5L881.3 505.5L881.3 506.5L881.2 507.5L881.1 508.5L881.1 509.5L881 510.5L881 511.5L880.9 512.5L880.8 513.5L880.8 514.5L880.7 515.5L880.7 516.5L880.6 517.5L880.5 518.5L880.5 519.5L880.4 520.5L880.3 521.5L880.2 522.5L880.2 523.5L880.1 524.5L880 525.5L879.8 526.5L879.7 527.5L879.5 528.5L879.3 529.5L879.1 530.5L878.9 531.5L878.7 532.5L878.4 533.5L878.1 534.5L877.8 535.5L877.5 536.5L877.1 537.5L876.7 538.5L876.2 539.5L875.8 540.5L875.3 541.5L874.9 542.5L874.4 543.5L874 544.5L873.5 545.5L873.1 546.5L872.6 547.5L872.1 548.5L871.5 549.5L871 550.5L870.4 551.5L869.6 552.5L868.8 553.5L868 554.5L867.4 555.5L866.9 556.5L866.3 557.5L865.8 558.5L865.3 559.5L864.8 560.5L864.5 561.5L864.2 562.5L864 563.5L864 564.5L864 565.5L864 566.5L864 567.5L864 568.5L864 569.5L864 570.5L864 571.5L864 572.5L864 573.5L864 574.5L864.1 575.5L864.3 576.5L864.5 577.5L864.7 578.5L865 579.5L865.3 580.5L865.5 581.5L865.8 582.5L866 583.5L866.3 584.5L866.5 585.5L866.8 586.5L867.1 587.5L867.4 588.5L867.7 589.5L868.1 590.5L868.4 591.5L868.8 592.5L869.2 593.5L869.7 594.5L870.1 595.5L870.6 596.5L871.2 597.5L871.7 598.5L872.3 599.5L872.8 600.5L873.4 601.5L873.9 602.5L874.5 603.5L875.2 604.5L875.8 605.5L876.5 606.5L877.1 607.5L877.7 608.5L878.3 609.5L878.8 610.5L879.3 611.5L879.7 612.5L880.2 613.5L880.6 614.5L881 615.5L881.4 616.5L881.8 617.5L882.1 618.5L882.4 619.5L882.7 620.5L883 621.5L883.2 622.5L883.5 623.5L883.7 624.5L883.9 625.5L884.1 626.5L884.2 627.5L884.3 628.5L884.3 629.5L884.3 630.5L884.3 631.5L884.3 632.5L884.3 633.5L884.3 634.5L884.3 635.5L884.3 636.5L884.3 637.5L884.3 638.5L884.3 639.5L884.3 640.3L884.3 640.3 Z" fill="#f08080" fill-opacity="0.2"/></g>
<g stroke="#fff" stroke-width="1.1" stroke-opacity="0.85"><line x1="178.6" y1="533.3" x2="178.6" y2="620.6"/><line x1="209.2" y1="491.3" x2="209.2" y2="647.4"/><line x1="240.3" y1="494.8" x2="240.3" y2="643.7"/><line x1="306.7" y1="517.9" x2="306.7" y2="649.3"/><line x1="338.2" y1="484.5" x2="338.2" y2="628"/><line x1="368.8" y1="528.2" x2="368.8" y2="628.9"/><line x1="435.8" y1="508.5" x2="435.8" y2="644.7"/><line x1="467.3" y1="479.4" x2="467.3" y2="626.1"/><line x1="497.9" y1="544.2" x2="497.9" y2="620.9"/><line x1="565.2" y1="521.3" x2="565.2" y2="657.6"/><line x1="595.8" y1="487.1" x2="595.8" y2="626.1"/><line x1="627" y1="530.7" x2="627" y2="666"/><line x1="693.9" y1="514.5" x2="693.9" y2="669.7"/><line x1="725.1" y1="481.1" x2="725.1" y2="624.3"/><line x1="755.7" y1="513.6" x2="755.7" y2="634.5"/><line x1="822.8" y1="513.6" x2="822.8" y2="616.8"/><line x1="854" y1="476.8" x2="854" y2="621.5"/><line x1="884.9" y1="472.5" x2="884.9" y2="642.8"/></g>
<g fill="#353535"><circle cx="174.3" cy="650.2" r="1"/><circle cx="168.8" cy="553.1" r="1"/><circle cx="169.4" cy="588.3" r="1"/><circle cx="170.4" cy="588" r="1"/><circle cx="172.5" cy="593.4" r="1"/><circle cx="168.7" cy="573.6" r="1"/><circle cx="174.2" cy="596.9" r="1"/><circle cx="175.1" cy="595.1" r="1"/><circle cx="174.3" cy="597.8" r="1"/><circle cx="170" cy="594" r="1"/><circle cx="176" cy="591.2" r="1"/><circle cx="172.4" cy="587.1" r="1"/><circle cx="175.4" cy="598.1" r="1"/><circle cx="177.1" cy="570.9" r="1"/><circle cx="169.5" cy="591.8" r="1"/><circle cx="169.8" cy="595.9" r="1"/><circle cx="171.4" cy="595.8" r="1"/><circle cx="172.2" cy="562.9" r="1"/><circle cx="175.2" cy="576.2" r="1"/><circle cx="177.1" cy="601.3" r="1"/><circle cx="170.6" cy="595.7" r="1"/><circle cx="167.6" cy="566.4" r="1"/><circle cx="174.6" cy="584.4" r="1"/><circle cx="206.3" cy="595.1" r="1"/><circle cx="199.9" cy="598.9" r="1"/><circle cx="204.7" cy="577.7" r="1"/><circle cx="201.3" cy="533" r="1"/><circle cx="198.3" cy="553.7" r="1"/><circle cx="199.8" cy="514" r="1"/><circle cx="200.2" cy="545.7" r="1"/><circle cx="205.9" cy="524.2" r="1"/><circle cx="204.5" cy="588.7" r="1"/><circle cx="202.1" cy="588.2" r="1"/><circle cx="199.3" cy="573.2" r="1"/><circle cx="207.3" cy="601.1" r="1"/><circle cx="201.4" cy="542.4" r="1"/><circle cx="200.6" cy="550.7" r="1"/><circle cx="198.1" cy="583.8" r="1"/><circle cx="202.7" cy="578.3" r="1"/><circle cx="204.7" cy="537" r="1"/><circle cx="206.9" cy="604.4" r="1"/><circle cx="206.1" cy="583.5" r="1"/><circle cx="197.9" cy="583.3" r="1"/><circle cx="207.4" cy="567.9" r="1"/><circle cx="205.8" cy="582.3" r="1"/><circle cx="207.7" cy="526.6" r="1"/><circle cx="199" cy="562.7" r="1"/><circle cx="203.4" cy="584.6" r="1"/><circle cx="201" cy="582.1" r="1"/><circle cx="203.5" cy="578.4" r="1"/><circle cx="203.3" cy="522.2" r="1"/><circle cx="199.3" cy="564.5" r="1"/><circle cx="206.1" cy="622.8" r="1"/><circle cx="203.2" cy="609.1" r="1"/><circle cx="204.2" cy="596.4" r="1"/><circle cx="206.9" cy="524" r="1"/><circle cx="203.1" cy="526.2" r="1"/><circle cx="198.5" cy="552.8" r="1"/><circle cx="197.8" cy="596.7" r="1"/><circle cx="201.4" cy="551.8" r="1"/><circle cx="207.1" cy="554.7" r="1"/><circle cx="201.5" cy="558.5" r="1"/><circle cx="201.9" cy="590.1" r="1"/><circle cx="202.9" cy="578.8" r="1"/><circle cx="204.7" cy="599.5" r="1"/><circle cx="198.7" cy="527.2" r="1"/><circle cx="205.8" cy="520.9" r="1"/><circle cx="203.2" cy="598.5" r="1"/><circle cx="201" cy="533.9" r="1"/><circle cx="201.8" cy="589.2" r="1"/><circle cx="233.5" cy="596.7" r="1"/><circle cx="234.9" cy="572.8" r="1"/><circle cx="237.1" cy="578.4" r="1"/><circle cx="233.3" cy="602.2" r="1"/><circle cx="230.1" cy="516.4" r="1"/><circle cx="237.9" cy="613.5" r="1"/><circle cx="236.3" cy="524.8" r="1"/><circle cx="233.3" cy="563.8" r="1"/><circle cx="233.1" cy="597.5" r="1"/><circle cx="233.7" cy="547.4" r="1"/><circle cx="238.1" cy="625.9" r="1"/><circle cx="238.2" cy="589.7" r="1"/><circle cx="230.1" cy="532.7" r="1"/><circle cx="231.6" cy="564.8" r="1"/><circle cx="237.7" cy="595" r="1"/><circle cx="231.6" cy="608.3" r="1"/><circle cx="230.4" cy="578.4" r="1"/><circle cx="237.2" cy="587.7" r="1"/><circle cx="233.2" cy="596.2" r="1"/><circle cx="237.5" cy="599" r="1"/><circle cx="238.3" cy="601" r="1"/><circle cx="235.1" cy="583.5" r="1"/><circle cx="232.9" cy="586.3" r="1"/><circle cx="235.9" cy="607.5" r="1"/><circle cx="234.6" cy="610" r="1"/><circle cx="232.6" cy="589.2" r="1"/><circle cx="233.2" cy="626.1" r="1"/><circle cx="230" cy="567.2" r="1"/><circle cx="231.3" cy="604.4" r="1"/><circle cx="231.1" cy="609.6" r="1"/><circle cx="230.5" cy="595" r="1"/><circle cx="235.1" cy="599.4" r="1"/><circle cx="295.6" cy="546.1" r="1"/><circle cx="304.9" cy="603.1" r="1"/><circle cx="304.3" cy="592" r="1"/><circle cx="297.1" cy="586.9" r="1"/><circle cx="295.9" cy="586.5" r="1"/><circle cx="302.7" cy="561.1" r="1"/><circle cx="300.7" cy="602.6" r="1"/><circle cx="299.4" cy="584.2" r="1"/><circle cx="305.1" cy="587.5" r="1"/><circle cx="297.1" cy="561.5" r="1"/><circle cx="299.7" cy="588.6" r="1"/><circle cx="298.3" cy="567.7" r="1"/><circle cx="303.8" cy="596.8" r="1"/><circle cx="299.8" cy="540.3" r="1"/><circle cx="297.1" cy="557.1" r="1"/><circle cx="305.2" cy="566.3" r="1"/><circle cx="303.8" cy="577.7" r="1"/><circle cx="296.4" cy="604.9" r="1"/><circle cx="304.9" cy="534.2" r="1"/><circle cx="297" cy="585.6" r="1"/><circle cx="301.3" cy="542.1" r="1"/><circle cx="303.7" cy="575.9" r="1"/><circle cx="332.8" cy="559.8" r="1"/><circle cx="330.6" cy="546.9" r="1"/><circle cx="333.5" cy="571.1" r="1"/><circle cx="327.7" cy="562.2" r="1"/><circle cx="336.4" cy="556.6" r="1"/><circle cx="333.2" cy="579.2" r="1"/><circle cx="330.9" cy="555.5" r="1"/><circle cx="333.2" cy="605.4" r="1"/><circle cx="330.9" cy="555" r="1"/><circle cx="336.6" cy="608.3" r="1"/><circle cx="326.8" cy="546.5" r="1"/><circle cx="335.3" cy="603" r="1"/><circle cx="334.1" cy="529.7" r="1"/><circle cx="331.7" cy="504.3" r="1"/><circle cx="331" cy="537.3" r="1"/><circle cx="327.1" cy="585.5" r="1"/><circle cx="336.5" cy="555" r="1"/><circle cx="329" cy="557.6" r="1"/><circle cx="328.9" cy="583.9" r="1"/><circle cx="330.4" cy="516.6" r="1"/><circle cx="334" cy="575.4" r="1"/><circle cx="327.9" cy="566.8" r="1"/><circle cx="329.9" cy="546.9" r="1"/><circle cx="329" cy="599.3" r="1"/><circle cx="331.6" cy="563.7" r="1"/><circle cx="333.3" cy="558.6" r="1"/><circle cx="332.7" cy="584.6" r="1"/><circle cx="333.4" cy="594.1" r="1"/><circle cx="326.8" cy="553.3" r="1"/><circle cx="333.1" cy="542.5" r="1"/><circle cx="334.4" cy="604.2" r="1"/><circle cx="335.4" cy="568.4" r="1"/><circle cx="327.9" cy="575" r="1"/><circle cx="332.3" cy="570.5" r="1"/><circle cx="333.7" cy="592.6" r="1"/><circle cx="336.2" cy="568.2" r="1"/><circle cx="333.7" cy="588.3" r="1"/><circle cx="331.2" cy="574.7" r="1"/><circle cx="333.4" cy="533.9" r="1"/><circle cx="330.9" cy="573.9" r="1"/><circle cx="335" cy="594.1" r="1"/><circle cx="326.8" cy="574.6" r="1"/><circle cx="328.9" cy="566.4" r="1"/><circle cx="328" cy="514.4" r="1"/><circle cx="331.9" cy="585.1" r="1"/><circle cx="334" cy="566.9" r="1"/><circle cx="336.6" cy="561.3" r="1"/><circle cx="364.7" cy="577.8" r="1"/><circle cx="365.2" cy="580.4" r="1"/><circle cx="365.4" cy="576" r="1"/><circle cx="358.6" cy="573.3" r="1"/><circle cx="365.4" cy="583.3" r="1"/><circle cx="357.6" cy="550.4" r="1"/><circle cx="366.6" cy="568.3" r="1"/><circle cx="358.5" cy="581.5" r="1"/><circle cx="366" cy="604" r="1"/><circle cx="362" cy="580.8" r="1"/><circle cx="360.9" cy="587.5" r="1"/><circle cx="365.3" cy="605.6" r="1"/><circle cx="359.8" cy="600" r="1"/><circle cx="363.3" cy="595.3" r="1"/><circle cx="364" cy="591.3" r="1"/><circle cx="363.2" cy="588.7" r="1"/><circle cx="361" cy="564.7" r="1"/><circle cx="362.4" cy="560" r="1"/><circle cx="364.8" cy="552.2" r="1"/><circle cx="367.3" cy="556.1" r="1"/><circle cx="361.7" cy="590.6" r="1"/><circle cx="366.9" cy="590.6" r="1"/><circle cx="360" cy="549.3" r="1"/><circle cx="366.5" cy="601" r="1"/><circle cx="366" cy="581.8" r="1"/><circle cx="366.5" cy="587.4" r="1"/><circle cx="363.1" cy="554.5" r="1"/><circle cx="361.4" cy="602.2" r="1"/><circle cx="360.7" cy="555.2" r="1"/><circle cx="364.1" cy="567.3" r="1"/><circle cx="364.8" cy="583.4" r="1"/><circle cx="359.6" cy="585.4" r="1"/><circle cx="431.2" cy="580.7" r="1"/><circle cx="424.4" cy="611.7" r="1"/><circle cx="431.5" cy="533.4" r="1"/><circle cx="424.8" cy="589.5" r="1"/><circle cx="434.3" cy="574.1" r="1"/><circle cx="427.7" cy="598.4" r="1"/><circle cx="430.7" cy="588.7" r="1"/><circle cx="432.1" cy="599" r="1"/><circle cx="433.5" cy="602.7" r="1"/><circle cx="433" cy="595" r="1"/><circle cx="429.3" cy="550" r="1"/><circle cx="432.5" cy="580.5" r="1"/><circle cx="430.6" cy="595.9" r="1"/><circle cx="432.6" cy="595.1" r="1"/><circle cx="425" cy="609.7" r="1"/><circle cx="434.1" cy="573.1" r="1"/><circle cx="431.9" cy="526.7" r="1"/><circle cx="429.3" cy="592.9" r="1"/><circle cx="430.9" cy="563.6" r="1"/><circle cx="429.7" cy="587.8" r="1"/><circle cx="425.2" cy="537.3" r="1"/><circle cx="426.9" cy="569.1" r="1"/><circle cx="463.4" cy="656.4" r="1"/><circle cx="457.1" cy="582.3" r="1"/><circle cx="460.2" cy="526.9" r="1"/><circle cx="456.5" cy="557.3" r="1"/><circle cx="459.5" cy="531.8" r="1"/><circle cx="463.3" cy="599.1" r="1"/><circle cx="461.5" cy="591.1" r="1"/><circle cx="463.8" cy="582.1" r="1"/><circle cx="459.3" cy="574.6" r="1"/><circle cx="455.8" cy="607.2" r="1"/><circle cx="460.1" cy="550.1" r="1"/><circle cx="457.1" cy="586" r="1"/><circle cx="463.2" cy="518.7" r="1"/><circle cx="457.5" cy="581.6" r="1"/><circle cx="462.5" cy="541.2" r="1"/><circle cx="456.8" cy="497.4" r="1"/><circle cx="458.9" cy="600" r="1"/><circle cx="461.3" cy="553.5" r="1"/><circle cx="456.9" cy="608.4" r="1"/><circle cx="456.9" cy="585.1" r="1"/><circle cx="458" cy="584.2" r="1"/><circle cx="464" cy="584.7" r="1"/><circle cx="455.8" cy="608.7" r="1"/><circle cx="465.7" cy="546.2" r="1"/><circle cx="456" cy="608" r="1"/><circle cx="456.6" cy="557.9" r="1"/><circle cx="458.4" cy="520" r="1"/><circle cx="464.2" cy="601" r="1"/><circle cx="465" cy="521.6" r="1"/><circle cx="456.5" cy="571.2" r="1"/><circle cx="456.9" cy="595.6" r="1"/><circle cx="465.6" cy="553.8" r="1"/><circle cx="457.8" cy="587.1" r="1"/><circle cx="465.5" cy="582.6" r="1"/><circle cx="463.5" cy="585.4" r="1"/><circle cx="464.8" cy="532.3" r="1"/><circle cx="455.8" cy="585.9" r="1"/><circle cx="456.9" cy="595.2" r="1"/><circle cx="460.9" cy="530" r="1"/><circle cx="461.5" cy="605" r="1"/><circle cx="458.9" cy="604" r="1"/><circle cx="458.4" cy="557" r="1"/><circle cx="464.8" cy="604.4" r="1"/><circle cx="460.8" cy="603.2" r="1"/><circle cx="462.3" cy="525.8" r="1"/><circle cx="456" cy="589.1" r="1"/><circle cx="458.4" cy="605.8" r="1"/><circle cx="464.1" cy="594.1" r="1"/><circle cx="493" cy="502" r="1"/><circle cx="491.3" cy="565.8" r="1"/><circle cx="490.8" cy="577.1" r="1"/><circle cx="496.4" cy="583.1" r="1"/><circle cx="489.8" cy="576.4" r="1"/><circle cx="490.9" cy="576.3" r="1"/><circle cx="486.5" cy="564.4" r="1"/><circle cx="489.2" cy="559.6" r="1"/><circle cx="493.3" cy="573.1" r="1"/><circle cx="486.6" cy="578.2" r="1"/><circle cx="492.6" cy="584.1" r="1"/><circle cx="495" cy="601.1" r="1"/><circle cx="496.5" cy="564.7" r="1"/><circle cx="487.1" cy="575.3" r="1"/><circle cx="490.3" cy="596" r="1"/><circle cx="494" cy="594.1" r="1"/><circle cx="495.3" cy="564.9" r="1"/><circle cx="488.5" cy="588.6" r="1"/><circle cx="496" cy="564.6" r="1"/><circle cx="493.2" cy="601.4" r="1"/><circle cx="490.9" cy="571.4" r="1"/><circle cx="486.6" cy="585.1" r="1"/><circle cx="488.9" cy="578.7" r="1"/><circle cx="491.3" cy="581.6" r="1"/><circle cx="486.4" cy="570.3" r="1"/><circle cx="490.1" cy="575" r="1"/><circle cx="492.6" cy="572.5" r="1"/><circle cx="492.5" cy="585.5" r="1"/><circle cx="490.3" cy="578.3" r="1"/><circle cx="493.2" cy="584.4" r="1"/><circle cx="491" cy="582.4" r="1"/><circle cx="490.3" cy="587" r="1"/><circle cx="487.2" cy="603" r="1"/><circle cx="556.5" cy="587.3" r="1"/><circle cx="559" cy="588.3" r="1"/><circle cx="562.4" cy="593" r="1"/><circle cx="558.4" cy="588.7" r="1"/><circle cx="558.4" cy="578.3" r="1"/><circle cx="561.4" cy="565.6" r="1"/><circle cx="555.4" cy="587" r="1"/><circle cx="557.3" cy="566.3" r="1"/><circle cx="554.7" cy="597.6" r="1"/><circle cx="563.4" cy="624.7" r="1"/><circle cx="555.3" cy="613.2" r="1"/><circle cx="562.6" cy="611.6" r="1"/><circle cx="561.3" cy="563" r="1"/><circle cx="560.2" cy="542.9" r="1"/><circle cx="558.5" cy="562.6" r="1"/><circle cx="562.9" cy="590.3" r="1"/><circle cx="553.7" cy="555.2" r="1"/><circle cx="559.2" cy="553.5" r="1"/><circle cx="555.7" cy="640.3" r="1"/><circle cx="562.3" cy="573.6" r="1"/><circle cx="560.1" cy="548.5" r="1"/><circle cx="561.4" cy="585.3" r="1"/><circle cx="590.4" cy="647.4" r="1"/><circle cx="594.2" cy="590" r="1"/><circle cx="588.6" cy="575.8" r="1"/><circle cx="592.6" cy="534.6" r="1"/><circle cx="591.6" cy="579.3" r="1"/><circle cx="592" cy="520.9" r="1"/><circle cx="593.5" cy="591.4" r="1"/><circle cx="585.7" cy="604.2" r="1"/><circle cx="590.1" cy="513.8" r="1"/><circle cx="588.1" cy="582.4" r="1"/><circle cx="594" cy="596.9" r="1"/><circle cx="590.7" cy="586" r="1"/><circle cx="591.4" cy="539.3" r="1"/><circle cx="587.8" cy="521" r="1"/><circle cx="590.8" cy="575.4" r="1"/><circle cx="588.5" cy="516" r="1"/><circle cx="592.5" cy="597.5" r="1"/><circle cx="587.2" cy="579.5" r="1"/><circle cx="587.6" cy="563.9" r="1"/><circle cx="593.7" cy="593.9" r="1"/><circle cx="590.6" cy="551.3" r="1"/><circle cx="589.4" cy="579.1" r="1"/><circle cx="586.7" cy="579.5" r="1"/><circle cx="588.4" cy="528.6" r="1"/><circle cx="589.7" cy="595" r="1"/><circle cx="590.2" cy="590.4" r="1"/><circle cx="585.3" cy="548" r="1"/><circle cx="589.4" cy="574" r="1"/><circle cx="586" cy="563.1" r="1"/><circle cx="586.9" cy="604.2" r="1"/><circle cx="594" cy="588" r="1"/><circle cx="588.8" cy="604.3" r="1"/><circle cx="586.6" cy="593.3" r="1"/><circle cx="592.2" cy="594.7" r="1"/><circle cx="586.1" cy="562.6" r="1"/><circle cx="593.5" cy="597.7" r="1"/><circle cx="588.7" cy="566.3" r="1"/><circle cx="587.5" cy="596.6" r="1"/><circle cx="589.5" cy="590.3" r="1"/><circle cx="587.4" cy="578.6" r="1"/><circle cx="588.5" cy="543" r="1"/><circle cx="586.1" cy="584.6" r="1"/><circle cx="592.9" cy="585.4" r="1"/><circle cx="589.1" cy="588.9" r="1"/><circle cx="584.3" cy="519.6" r="1"/><circle cx="591.7" cy="555.8" r="1"/><circle cx="591.8" cy="581.9" r="1"/><circle cx="588.8" cy="598.4" r="1"/><circle cx="621.3" cy="572.7" r="1"/><circle cx="622.5" cy="619.3" r="1"/><circle cx="617.4" cy="643.1" r="1"/><circle cx="623" cy="559.1" r="1"/><circle cx="625" cy="602.4" r="1"/><circle cx="621.8" cy="584.8" r="1"/><circle cx="620.6" cy="563.7" r="1"/><circle cx="621.8" cy="571.8" r="1"/><circle cx="623.5" cy="582" r="1"/><circle cx="619.9" cy="549.1" r="1"/><circle cx="622.4" cy="600.3" r="1"/><circle cx="621.4" cy="587.8" r="1"/><circle cx="622.3" cy="580.8" r="1"/><circle cx="617.5" cy="614.5" r="1"/><circle cx="618.3" cy="639.5" r="1"/><circle cx="619.5" cy="588" r="1"/><circle cx="616" cy="578.7" r="1"/><circle cx="616.6" cy="595.7" r="1"/><circle cx="621.2" cy="584.3" r="1"/><circle cx="625.1" cy="618.9" r="1"/><circle cx="624.8" cy="577.1" r="1"/><circle cx="623.7" cy="562.8" r="1"/><circle cx="619.9" cy="549.1" r="1"/><circle cx="620.5" cy="567" r="1"/><circle cx="618.7" cy="558.9" r="1"/><circle cx="623.4" cy="622.5" r="1"/><circle cx="624.1" cy="601.1" r="1"/><circle cx="623.5" cy="595.1" r="1"/><circle cx="624.6" cy="632.3" r="1"/><circle cx="615.9" cy="597" r="1"/><circle cx="618.9" cy="601.6" r="1"/><circle cx="616.3" cy="565.5" r="1"/><circle cx="690.9" cy="576.6" r="1"/><circle cx="685.4" cy="604" r="1"/><circle cx="684" cy="625" r="1"/><circle cx="690.2" cy="576.3" r="1"/><circle cx="689.3" cy="591.5" r="1"/><circle cx="691" cy="576.5" r="1"/><circle cx="689.2" cy="576.9" r="1"/><circle cx="691" cy="601.8" r="1"/><circle cx="682.5" cy="637.8" r="1"/><circle cx="692.2" cy="648.3" r="1"/><circle cx="686" cy="600.3" r="1"/><circle cx="687" cy="539.2" r="1"/><circle cx="687.8" cy="575.1" r="1"/><circle cx="688.1" cy="607.7" r="1"/><circle cx="691.4" cy="638.6" r="1"/><circle cx="691.3" cy="561.8" r="1"/><circle cx="682.4" cy="624.9" r="1"/><circle cx="687.2" cy="631.9" r="1"/><circle cx="689" cy="554.2" r="1"/><circle cx="687.5" cy="635.7" r="1"/><circle cx="691.6" cy="602.9" r="1"/><circle cx="683.7" cy="627.4" r="1"/><circle cx="718.2" cy="587.2" r="1"/><circle cx="722.3" cy="586.7" r="1"/><circle cx="714.6" cy="597.9" r="1"/><circle cx="721.4" cy="592.4" r="1"/><circle cx="723.3" cy="572.5" r="1"/><circle cx="713.8" cy="570.2" r="1"/><circle cx="714" cy="604.9" r="1"/><circle cx="723.2" cy="559.2" r="1"/><circle cx="719.1" cy="568.9" r="1"/><circle cx="716.1" cy="541.8" r="1"/><circle cx="715.6" cy="565.8" r="1"/><circle cx="723" cy="581.9" r="1"/><circle cx="722.7" cy="550.1" r="1"/><circle cx="715.6" cy="573.1" r="1"/><circle cx="719" cy="584.2" r="1"/><circle cx="718.4" cy="569.6" r="1"/><circle cx="717.1" cy="590.7" r="1"/><circle cx="717.8" cy="578.7" r="1"/><circle cx="719.9" cy="564.9" r="1"/><circle cx="722" cy="590.2" r="1"/><circle cx="714.1" cy="580.7" r="1"/><circle cx="715.1" cy="574.9" r="1"/><circle cx="718.8" cy="545.5" r="1"/><circle cx="722.7" cy="605.7" r="1"/><circle cx="722.5" cy="547.5" r="1"/><circle cx="718.2" cy="570.1" r="1"/><circle cx="718.9" cy="581.7" r="1"/><circle cx="718.2" cy="601.7" r="1"/><circle cx="719.9" cy="563.1" r="1"/><circle cx="719.6" cy="535.8" r="1"/><circle cx="722.4" cy="588.8" r="1"/><circle cx="714.8" cy="602.8" r="1"/><circle cx="714.6" cy="575.1" r="1"/><circle cx="714.1" cy="606.6" r="1"/><circle cx="715.6" cy="565.1" r="1"/><circle cx="716.7" cy="598.2" r="1"/><circle cx="716" cy="495.8" r="1"/><circle cx="721" cy="586.7" r="1"/><circle cx="719.7" cy="598.6" r="1"/><circle cx="720.7" cy="561.1" r="1"/><circle cx="722.8" cy="596.5" r="1"/><circle cx="721.3" cy="583.2" r="1"/><circle cx="715.7" cy="565.2" r="1"/><circle cx="723" cy="515.3" r="1"/><circle cx="717.6" cy="585.8" r="1"/><circle cx="723.3" cy="569.6" r="1"/><circle cx="716.6" cy="580.2" r="1"/><circle cx="750.8" cy="562.9" r="1"/><circle cx="749.6" cy="534.9" r="1"/><circle cx="754.2" cy="551" r="1"/><circle cx="750.1" cy="590" r="1"/><circle cx="753.4" cy="554.5" r="1"/><circle cx="746.8" cy="570.3" r="1"/><circle cx="752.7" cy="586.8" r="1"/><circle cx="752.8" cy="568.4" r="1"/><circle cx="752" cy="580.3" r="1"/><circle cx="744.3" cy="577.4" r="1"/><circle cx="746.2" cy="597.1" r="1"/><circle cx="749.2" cy="576.6" r="1"/><circle cx="745" cy="569.9" r="1"/><circle cx="747.8" cy="614.9" r="1"/><circle cx="747.9" cy="560.3" r="1"/><circle cx="746.3" cy="589.9" r="1"/><circle cx="747" cy="588.2" r="1"/><circle cx="752.6" cy="573.5" r="1"/><circle cx="747.4" cy="595.1" r="1"/><circle cx="752.9" cy="595.8" r="1"/><circle cx="744.7" cy="580.9" r="1"/><circle cx="746.7" cy="573" r="1"/><circle cx="746.1" cy="552.9" r="1"/><circle cx="749.8" cy="602.7" r="1"/><circle cx="746.3" cy="614.9" r="1"/><circle cx="751.2" cy="570" r="1"/><circle cx="748.9" cy="572.1" r="1"/><circle cx="753.1" cy="590" r="1"/><circle cx="746.2" cy="597.1" r="1"/><circle cx="745.7" cy="600.4" r="1"/><circle cx="752.3" cy="596.3" r="1"/><circle cx="751.9" cy="591.6" r="1"/><circle cx="812.1" cy="573.6" r="1"/><circle cx="814.2" cy="531.8" r="1"/><circle cx="813.4" cy="567.5" r="1"/><circle cx="814.4" cy="577.9" r="1"/><circle cx="813" cy="560" r="1"/><circle cx="820.5" cy="556.5" r="1"/><circle cx="812.9" cy="564.8" r="1"/><circle cx="815.3" cy="569.4" r="1"/><circle cx="813.3" cy="530.9" r="1"/><circle cx="816.4" cy="579.1" r="1"/><circle cx="820.3" cy="577.1" r="1"/><circle cx="817.1" cy="555.9" r="1"/><circle cx="816.7" cy="556.7" r="1"/><circle cx="819.2" cy="551.4" r="1"/><circle cx="812.8" cy="564.5" r="1"/><circle cx="818.4" cy="595.7" r="1"/><circle cx="818.6" cy="563.2" r="1"/><circle cx="816.9" cy="591.8" r="1"/><circle cx="813.2" cy="552.8" r="1"/><circle cx="814.4" cy="555.2" r="1"/><circle cx="813" cy="568.1" r="1"/><circle cx="818.6" cy="549.3" r="1"/><circle cx="845.6" cy="648.4" r="1"/><circle cx="843.5" cy="520.5" r="1"/><circle cx="843.4" cy="580.9" r="1"/><circle cx="847.5" cy="554.7" r="1"/><circle cx="847.4" cy="583.3" r="1"/><circle cx="850.6" cy="540.3" r="1"/><circle cx="850.9" cy="550.1" r="1"/><circle cx="852.6" cy="595.8" r="1"/><circle cx="842.9" cy="574.5" r="1"/><circle cx="844.3" cy="522.8" r="1"/><circle cx="849" cy="561.6" r="1"/><circle cx="846.9" cy="517.4" r="1"/><circle cx="847.3" cy="511.2" r="1"/><circle cx="843.1" cy="573.7" r="1"/><circle cx="845.8" cy="521.2" r="1"/><circle cx="846.2" cy="538.4" r="1"/><circle cx="842.8" cy="512.7" r="1"/><circle cx="845.8" cy="520.7" r="1"/><circle cx="848.7" cy="564.9" r="1"/><circle cx="845.7" cy="530.8" r="1"/><circle cx="847.5" cy="552.2" r="1"/><circle cx="842.6" cy="562.7" r="1"/><circle cx="844.1" cy="534.4" r="1"/><circle cx="846.9" cy="525" r="1"/><circle cx="844.9" cy="527.7" r="1"/><circle cx="845.1" cy="600.2" r="1"/><circle cx="852.2" cy="555.1" r="1"/><circle cx="851.2" cy="564.6" r="1"/><circle cx="843.5" cy="587.3" r="1"/><circle cx="846.6" cy="588.4" r="1"/><circle cx="852.1" cy="582.9" r="1"/><circle cx="844.9" cy="595.7" r="1"/><circle cx="849.7" cy="570.9" r="1"/><circle cx="849.6" cy="531.1" r="1"/><circle cx="848.3" cy="576.8" r="1"/><circle cx="845.9" cy="565.3" r="1"/><circle cx="845.7" cy="592.1" r="1"/><circle cx="842.7" cy="542.7" r="1"/><circle cx="845.5" cy="582" r="1"/><circle cx="850.9" cy="495.6" r="1"/><circle cx="844.1" cy="558.9" r="1"/><circle cx="849" cy="555.1" r="1"/><circle cx="847.3" cy="516.4" r="1"/><circle cx="850.9" cy="592.2" r="1"/><circle cx="850.8" cy="592" r="1"/><circle cx="852" cy="543.6" r="1"/><circle cx="848.7" cy="583.6" r="1"/><circle cx="842.8" cy="597.3" r="1"/><circle cx="880.4" cy="574.2" r="1"/><circle cx="881.5" cy="561" r="1"/><circle cx="879.1" cy="581.3" r="1"/><circle cx="880.9" cy="561.1" r="1"/><circle cx="879.6" cy="573.4" r="1"/><circle cx="880.8" cy="581" r="1"/><circle cx="874.3" cy="554.2" r="1"/><circle cx="875" cy="580.5" r="1"/><circle cx="875.6" cy="569.7" r="1"/><circle cx="882" cy="575.3" r="1"/><circle cx="878.7" cy="554.8" r="1"/><circle cx="876.7" cy="586.6" r="1"/><circle cx="880.7" cy="536.8" r="1"/><circle cx="874.2" cy="567.4" r="1"/><circle cx="880.6" cy="571.6" r="1"/><circle cx="880.9" cy="491.7" r="1"/><circle cx="883.1" cy="590.8" r="1"/><circle cx="877.8" cy="572.8" r="1"/><circle cx="874" cy="519.4" r="1"/><circle cx="881.1" cy="595.3" r="1"/><circle cx="877.9" cy="583.1" r="1"/><circle cx="876.6" cy="602.8" r="1"/><circle cx="875.3" cy="581.4" r="1"/><circle cx="880.4" cy="569.1" r="1"/><circle cx="873.7" cy="589.7" r="1"/><circle cx="876.5" cy="559.7" r="1"/><circle cx="879.5" cy="564.8" r="1"/><circle cx="876" cy="560" r="1"/><circle cx="879.5" cy="556.4" r="1"/><circle cx="880" cy="606.8" r="1"/><circle cx="874.6" cy="569.2" r="1"/><circle cx="878.2" cy="569.6" r="1"/></g>
<g><rect x="174.8" y="568" width="5.6" height="29.3" fill="#40e0d0"/><rect x="205.5" y="556.9" width="5.6" height="36.5" fill="#1e90ff"/><rect x="236.5" y="579.1" width="5.6" height="20.4" fill="#f08080"/><rect x="303.4" y="569.8" width="5.6" height="27.8" fill="#40e0d0"/><rect x="334.5" y="561.5" width="5.6" height="28.4" fill="#1e90ff"/><rect x="365.5" y="569.8" width="5.6" height="29.7" fill="#f08080"/><rect x="432.4" y="565.2" width="5.6" height="25" fill="#40e0d0"/><rect x="463.5" y="560.2" width="5.6" height="32.8" fill="#1e90ff"/><rect x="494.7" y="572.6" width="5.6" height="22.3" fill="#f08080"/><rect x="561.3" y="570.8" width="5.6" height="33.4" fill="#40e0d0"/><rect x="592.5" y="560.2" width="5.6" height="35.6" fill="#1e90ff"/><rect x="623.3" y="569.8" width="5.6" height="33" fill="#f08080"/><rect x="690.3" y="576.3" width="5.6" height="39.3" fill="#40e0d0"/><rect x="721.2" y="560.2" width="5.6" height="31" fill="#1e90ff"/><rect x="752.2" y="569.5" width="5.6" height="25" fill="#f08080"/><rect x="819.3" y="561.5" width="5.6" height="18.5" fill="#40e0d0"/><rect x="850.2" y="547" width="5.6" height="42.9" fill="#1e90ff"/><rect x="881.2" y="557.8" width="5.6" height="26.9" fill="#f08080"/></g>
<g><polyline points="177.8,568.4 306.3,597.1 435,588.9" fill="none" stroke="#40e0d0" stroke-opacity="0.6" stroke-width="1"/><polyline points="564.3,578.7 693,582.3 822.3,587.5" fill="none" stroke="#40e0d0" stroke-opacity="0.6" stroke-width="1"/><polyline points="208.4,568 337.7,572.6 466.2,574.5" fill="none" stroke="#1e90ff" stroke-opacity="0.6" stroke-width="1"/><polyline points="595.1,571.3 724.4,573.5 853.2,573.9" fill="none" stroke="#1e90ff" stroke-opacity="0.6" stroke-width="1"/><polyline points="239.8,568.4 368.1,580 496.8,588.9" fill="none" stroke="#f08080" stroke-opacity="0.6" stroke-width="1"/><polyline points="626.2,579.1 755,584.1 884.4,584.7" fill="none" stroke="#f08080" stroke-opacity="0.6" stroke-width="1"/></g>
<g><circle cx="177.8" cy="568.4" r="5.3" fill="#40e0d0" stroke="#12403b" stroke-width="0.9"/><circle cx="208.4" cy="568" r="5.3" fill="#1e90ff" stroke="#0a2a4d" stroke-width="0.9"/><circle cx="239.8" cy="568.4" r="5.3" fill="#f08080" stroke="#4a2424" stroke-width="0.9"/><circle cx="306.3" cy="597.1" r="5.3" fill="#40e0d0" stroke="#12403b" stroke-width="0.9"/><circle cx="337.7" cy="572.6" r="5.3" fill="#1e90ff" stroke="#0a2a4d" stroke-width="0.9"/><circle cx="368.1" cy="580" r="5.3" fill="#f08080" stroke="#4a2424" stroke-width="0.9"/><circle cx="435" cy="588.9" r="5.3" fill="#40e0d0" stroke="#12403b" stroke-width="0.9"/><circle cx="466.2" cy="574.5" r="5.3" fill="#1e90ff" stroke="#0a2a4d" stroke-width="0.9"/><circle cx="496.8" cy="588.9" r="5.3" fill="#f08080" stroke="#4a2424" stroke-width="0.9"/><circle cx="564.3" cy="578.7" r="5.3" fill="#40e0d0" stroke="#12403b" stroke-width="0.9"/><circle cx="595.1" cy="571.3" r="5.3" fill="#1e90ff" stroke="#0a2a4d" stroke-width="0.9"/><circle cx="626.2" cy="579.1" r="5.3" fill="#f08080" stroke="#4a2424" stroke-width="0.9"/><circle cx="693" cy="582.3" r="5.3" fill="#40e0d0" stroke="#12403b" stroke-width="0.9"/><circle cx="724.4" cy="573.5" r="5.3" fill="#1e90ff" stroke="#0a2a4d" stroke-width="0.9"/><circle cx="755" cy="584.1" r="5.3" fill="#f08080" stroke="#4a2424" stroke-width="0.9"/><circle cx="822.3" cy="587.5" r="5.3" fill="#40e0d0" stroke="#12403b" stroke-width="0.9"/><circle cx="853.2" cy="573.9" r="5.3" fill="#1e90ff" stroke="#0a2a4d" stroke-width="0.9"/><circle cx="884.4" cy="584.7" r="5.3" fill="#f08080" stroke="#4a2424" stroke-width="0.9"/></g>
</g>
<g id="BB">
<g><path d="M1118.5 507.9L1118.5 507.9L1118.1 508.9L1117.7 509.9L1117.3 510.9L1116.9 511.9L1116.4 512.9L1116 513.9L1115.5 514.9L1115 515.9L1114.5 516.9L1114 517.9L1113.5 518.9L1113 519.9L1112.5 520.9L1111.9 521.9L1111.4 522.9L1110.9 523.9L1110.4 524.9L1109.9 525.9L1109.4 526.9L1108.9 527.9L1108.4 528.9L1107.9 529.9L1107.4 530.9L1106.9 531.9L1106.5 532.9L1106.1 533.9L1105.6 534.9L1105.2 535.9L1104.8 536.9L1104.4 537.9L1104 538.9L1103.7 539.9L1103.3 540.9L1103 541.9L1102.6 542.9L1102.3 543.9L1102 544.9L1101.7 545.9L1101.4 546.9L1101.1 547.9L1100.8 548.9L1100.6 549.9L1100.3 550.9L1100.1 551.9L1099.9 552.9L1099.7 553.9L1099.5 554.9L1099.3 555.9L1099.1 556.9L1098.9 557.9L1098.7 558.9L1098.5 559.9L1098.3 560.9L1098 561.9L1097.8 562.9L1097.6 563.9L1097.6 564.9L1097.7 565.9L1097.8 566.9L1098 567.9L1098.2 568.9L1098.5 569.9L1098.7 570.9L1099 571.9L1099.3 572.9L1099.6 573.9L1099.9 574.9L1100.3 575.9L1100.8 576.9L1101.3 577.9L1101.9 578.9L1102.4 579.9L1103 580.9L1103.6 581.9L1104.1 582.9L1104.7 583.9L1105.3 584.9L1105.9 585.9L1106.5 586.9L1107.2 587.9L1107.8 588.9L1108.4 589.9L1109 590.9L1109.6 591.9L1110.1 592.9L1110.7 593.9L1111.2 594.9L1111.8 595.9L1112.3 596.9L1112.8 597.9L1113.3 598.9L1113.7 599.9L1114.1 600.9L1114.5 601.9L1114.8 602.9L1115.1 603.9L1115.3 604.9L1115.5 605.9L1115.8 606.9L1116 607.9L1116.3 608.9L1116.5 609.9L1116.8 610.9L1117.1 611.9L1117.4 612.9L1117.7 613.9L1118.1 614.9L1118.4 615.9L1118.5 616.2L1118.5 616.2 Z" fill="#40e0d0" fill-opacity="0.2"/><path d="M1149.1 449.5L1149.1 449.5L1148.9 450.5L1148.6 451.5L1148.4 452.5L1148.2 453.5L1147.9 454.5L1147.7 455.5L1147.5 456.5L1147.2 457.5L1147 458.5L1146.7 459.5L1146.5 460.5L1146.2 461.5L1146 462.5L1145.7 463.5L1145.5 464.5L1145.3 465.5L1145 466.5L1144.8 467.5L1144.6 468.5L1144.4 469.5L1144.2 470.5L1144 471.5L1143.8 472.5L1143.6 473.5L1143.4 474.5L1143.2 475.5L1143 476.5L1142.8 477.5L1142.6 478.5L1142.5 479.5L1142.3 480.5L1142.1 481.5L1141.9 482.5L1141.7 483.5L1141.5 484.5L1141.2 485.5L1141 486.5L1140.7 487.5L1140.5 488.5L1140.2 489.5L1139.9 490.5L1139.6 491.5L1139.2 492.5L1138.9 493.5L1138.6 494.5L1138.2 495.5L1137.8 496.5L1137.4 497.5L1137 498.5L1136.6 499.5L1136.2 500.5L1135.7 501.5L1135.3 502.5L1135 503.5L1134.6 504.5L1134.3 505.5L1133.9 506.5L1133.6 507.5L1133.3 508.5L1133 509.5L1132.7 510.5L1132.5 511.5L1132.2 512.5L1131.9 513.5L1131.7 514.5L1131.4 515.5L1131.1 516.5L1130.8 517.5L1130.6 518.5L1130.4 519.5L1130.1 520.5L1129.9 521.5L1129.7 522.5L1129.6 523.5L1129.4 524.5L1129.2 525.5L1129.1 526.5L1128.9 527.5L1128.8 528.5L1128.7 529.5L1128.6 530.5L1128.6 531.5L1128.6 532.5L1128.6 533.5L1128.6 534.5L1128.6 535.5L1128.6 536.5L1128.6 537.5L1128.6 538.5L1128.6 539.5L1128.6 540.5L1128.6 541.5L1128.6 542.5L1128.6 543.5L1128.7 544.5L1128.7 545.5L1128.8 546.5L1128.9 547.5L1128.9 548.5L1129 549.5L1129.1 550.5L1129.3 551.5L1129.5 552.5L1129.7 553.5L1130 554.5L1130.2 555.5L1130.4 556.5L1130.6 557.5L1130.7 558.5L1130.9 559.5L1131.1 560.5L1131.3 561.5L1131.5 562.5L1131.7 563.5L1132 564.5L1132.2 565.5L1132.5 566.5L1132.8 567.5L1133.1 568.5L1133.4 569.5L1133.7 570.5L1134.1 571.5L1134.4 572.5L1134.7 573.5L1135 574.5L1135.3 575.5L1135.6 576.5L1135.9 577.5L1136.2 578.5L1136.5 579.5L1136.8 580.5L1137.1 581.5L1137.4 582.5L1137.7 583.5L1138 584.5L1138.3 585.5L1138.6 586.5L1138.9 587.5L1139.2 588.5L1139.5 589.5L1139.8 590.5L1140.1 591.5L1140.4 592.5L1140.7 593.5L1141 594.5L1141.3 595.5L1141.6 596.5L1141.9 597.5L1142.2 598.5L1142.5 599.5L1142.8 600.5L1143.1 601.5L1143.3 602.5L1143.6 603.5L1143.9 604.5L1144.1 605.5L1144.3 606.5L1144.6 607.5L1144.8 608.5L1145 609.5L1145.2 610.5L1145.5 611.5L1145.7 612.5L1145.9 613.5L1146 614.5L1146.2 615.5L1146.4 616.5L1146.6 617.5L1146.8 618.5L1147 619.5L1147.3 620.5L1147.5 621.5L1147.8 622.5L1148 623.5L1148.3 624.5L1148.6 625.5L1148.9 626.5L1149.1 627.3L1149.1 627.3 Z" fill="#1e90ff" fill-opacity="0.2"/><path d="M1180.6 461.5L1180.6 461.5L1180.2 462.5L1179.8 463.5L1179.4 464.5L1178.9 465.5L1178.5 466.5L1178.1 467.5L1177.7 468.5L1177.2 469.5L1176.8 470.5L1176.4 471.5L1175.9 472.5L1175.5 473.5L1175.2 474.5L1174.8 475.5L1174.5 476.5L1174.3 477.5L1174 478.5L1173.7 479.5L1173.5 480.5L1173.2 481.5L1173 482.5L1172.9 483.5L1172.8 484.5L1172.7 485.5L1172.8 486.5L1172.9 487.5L1173.1 488.5L1173.3 489.5L1173.5 490.5L1173.7 491.5L1174 492.5L1174.4 493.5L1174.8 494.5L1175.3 495.5L1175.8 496.5L1176.3 497.5L1176.7 498.5L1177.1 499.5L1177.4 500.5L1177.6 501.5L1177.9 502.5L1178.2 503.5L1178.5 504.5L1178.7 505.5L1178.9 506.5L1179.1 507.5L1179.2 508.5L1179.2 509.5L1179.2 510.5L1179.1 511.5L1178.8 512.5L1178.5 513.5L1178.2 514.5L1177.8 515.5L1177.4 516.5L1177 517.5L1176.6 518.5L1176.2 519.5L1175.8 520.5L1175.4 521.5L1174.9 522.5L1174.4 523.5L1173.9 524.5L1173.3 525.5L1172.8 526.5L1172.2 527.5L1171.7 528.5L1171.1 529.5L1170.5 530.5L1169.8 531.5L1169.2 532.5L1168.6 533.5L1167.9 534.5L1167.3 535.5L1166.8 536.5L1166.3 537.5L1165.8 538.5L1165.3 539.5L1164.9 540.5L1164.5 541.5L1164.1 542.5L1163.7 543.5L1163.3 544.5L1163 545.5L1162.6 546.5L1162.3 547.5L1161.9 548.5L1161.5 549.5L1161.1 550.5L1160.8 551.5L1160.5 552.5L1160.2 553.5L1160.1 554.5L1160.1 555.5L1160.2 556.5L1160.3 557.5L1160.4 558.5L1160.6 559.5L1160.8 560.5L1161 561.5L1161.2 562.5L1161.4 563.5L1161.7 564.5L1161.9 565.5L1162.3 566.5L1162.6 567.5L1163 568.5L1163.5 569.5L1163.9 570.5L1164.4 571.5L1164.8 572.5L1165.3 573.5L1165.8 574.5L1166.2 575.5L1166.7 576.5L1167.2 577.5L1167.7 578.5L1168.3 579.5L1168.8 580.5L1169.3 581.5L1169.8 582.5L1170.3 583.5L1170.8 584.5L1171.3 585.5L1171.8 586.5L1172.4 587.5L1172.9 588.5L1173.4 589.5L1173.9 590.5L1174.3 591.5L1174.8 592.5L1175.2 593.5L1175.6 594.5L1176.1 595.5L1176.5 596.5L1176.9 597.5L1177.2 598.5L1177.6 599.5L1178 600.5L1178.3 601.5L1178.7 602.5L1179 603.5L1179.4 604.5L1179.7 605.5L1180 606.5L1180.3 607.5L1180.6 608.5L1180.6 608.8L1180.6 608.8 Z" fill="#f08080" fill-opacity="0.2"/><path d="M1248 503.3L1248 503.3L1247.3 504.3L1246.7 505.3L1246.1 506.3L1245.5 507.3L1245 508.3L1244.5 509.3L1244.1 510.3L1243.7 511.3L1243.4 512.3L1243.2 513.3L1243.1 514.3L1242.9 515.3L1242.8 516.3L1242.7 517.3L1242.6 518.3L1242.5 519.3L1242.4 520.3L1242.3 521.3L1242.3 522.3L1242.3 523.3L1242.2 524.3L1242.2 525.3L1242.2 526.3L1242.2 527.3L1242.2 528.3L1242.1 529.3L1242.1 530.3L1242.1 531.3L1242.1 532.3L1242 533.3L1242 534.3L1242 535.3L1241.9 536.3L1241.8 537.3L1241.8 538.3L1241.7 539.3L1241.6 540.3L1241.5 541.3L1241.4 542.3L1241.3 543.3L1241.1 544.3L1240.9 545.3L1240.6 546.3L1240.3 547.3L1240 548.3L1239.7 549.3L1239.3 550.3L1239 551.3L1238.6 552.3L1238.2 553.3L1237.6 554.3L1236.9 555.3L1236.2 556.3L1235.4 557.3L1234.6 558.3L1233.9 559.3L1233.2 560.3L1232.5 561.3L1231.8 562.3L1231.1 563.3L1230.5 564.3L1229.9 565.3L1229.4 566.3L1229 567.3L1228.7 568.3L1228.5 569.3L1228.2 570.3L1228 571.3L1227.8 572.3L1227.7 573.3L1227.6 574.3L1227.6 575.3L1227.5 576.3L1227.5 577.3L1227.4 578.3L1227.4 579.3L1227.6 580.3L1227.8 581.3L1228.2 582.3L1228.5 583.3L1228.9 584.3L1229.3 585.3L1229.7 586.3L1230.2 587.3L1230.8 588.3L1231.3 589.3L1231.9 590.3L1232.5 591.3L1233.1 592.3L1233.8 593.3L1234.5 594.3L1235.4 595.3L1236.2 596.3L1237.1 597.3L1238 598.3L1238.8 599.3L1239.6 600.3L1240.3 601.3L1241 602.3L1241.6 603.3L1242.2 604.3L1242.8 605.3L1243.4 606.3L1243.9 607.3L1244.5 608.3L1245.1 609.3L1245.7 610.3L1246.4 611.3L1247.1 612.3L1247.8 613.3L1248 613.4L1248 613.4 Z" fill="#40e0d0" fill-opacity="0.2"/><path d="M1278.9 457.8L1278.9 457.8L1278.7 458.8L1278.4 459.8L1278.1 460.8L1277.9 461.8L1277.6 462.8L1277.3 463.8L1277.1 464.8L1276.9 465.8L1276.6 466.8L1276.4 467.8L1276.2 468.8L1276 469.8L1275.7 470.8L1275.5 471.8L1275.3 472.8L1275.1 473.8L1275 474.8L1274.8 475.8L1274.7 476.8L1274.5 477.8L1274.4 478.8L1274.3 479.8L1274.1 480.8L1274 481.8L1273.9 482.8L1273.8 483.8L1273.8 484.8L1273.8 485.8L1273.8 486.8L1273.8 487.8L1273.8 488.8L1273.8 489.8L1273.8 490.8L1273.8 491.8L1273.8 492.8L1273.8 493.8L1273.8 494.8L1273.8 495.8L1273.7 496.8L1273.7 497.8L1273.6 498.8L1273.5 499.8L1273.3 500.8L1273.2 501.8L1273.1 502.8L1272.9 503.8L1272.8 504.8L1272.5 505.8L1272.3 506.8L1272 507.8L1271.6 508.8L1271.3 509.8L1271 510.8L1270.6 511.8L1270.3 512.8L1270 513.8L1269.7 514.8L1269.4 515.8L1269.1 516.8L1268.8 517.8L1268.5 518.8L1268.2 519.8L1267.9 520.8L1267.6 521.8L1267.3 522.8L1266.9 523.8L1266.5 524.8L1266.1 525.8L1265.7 526.8L1265.3 527.8L1264.8 528.8L1264.4 529.8L1264 530.8L1263.7 531.8L1263.3 532.8L1263 533.8L1262.6 534.8L1262.3 535.8L1262 536.8L1261.7 537.8L1261.4 538.8L1261.1 539.8L1260.9 540.8L1260.7 541.8L1260.5 542.8L1260.4 543.8L1260.2 544.8L1260.1 545.8L1260 546.8L1259.9 547.8L1259.7 548.8L1259.6 549.8L1259.5 550.8L1259.3 551.8L1259.2 552.8L1259.1 553.8L1259 554.8L1258.9 555.8L1258.8 556.8L1258.8 557.8L1258.7 558.8L1258.7 559.8L1258.7 560.8L1258.6 561.8L1258.6 562.8L1258.6 563.8L1258.6 564.8L1258.6 565.8L1258.7 566.8L1258.9 567.8L1259 568.8L1259.2 569.8L1259.4 570.8L1259.5 571.8L1259.7 572.8L1259.9 573.8L1260.2 574.8L1260.4 575.8L1260.7 576.8L1261 577.8L1261.3 578.8L1261.6 579.8L1262 580.8L1262.3 581.8L1262.7 582.8L1263 583.8L1263.4 584.8L1263.8 585.8L1264.2 586.8L1264.6 587.8L1265 588.8L1265.4 589.8L1265.9 590.8L1266.3 591.8L1266.7 592.8L1267.1 593.8L1267.5 594.8L1267.9 595.8L1268.3 596.8L1268.7 597.8L1269.1 598.8L1269.5 599.8L1269.9 600.8L1270.3 601.8L1270.7 602.8L1271.1 603.8L1271.5 604.8L1271.9 605.8L1272.3 606.8L1272.7 607.8L1273.1 608.8L1273.5 609.8L1273.9 610.8L1274.2 611.8L1274.5 612.8L1274.8 613.8L1275.1 614.8L1275.4 615.8L1275.7 616.8L1276 617.8L1276.3 618.8L1276.6 619.8L1276.8 620.8L1277.1 621.8L1277.4 622.8L1277.7 623.8L1278 624.8L1278.3 625.8L1278.5 626.8L1278.8 627.8L1278.9 628.3L1278.9 628.3 Z" fill="#1e90ff" fill-opacity="0.2"/><path d="M1310.1 452.3L1310.1 452.3L1309.9 453.3L1309.7 454.3L1309.6 455.3L1309.4 456.3L1309.3 457.3L1309.1 458.3L1309 459.3L1308.8 460.3L1308.7 461.3L1308.6 462.3L1308.5 463.3L1308.4 464.3L1308.3 465.3L1308.2 466.3L1308.1 467.3L1308 468.3L1308 469.3L1307.9 470.3L1307.9 471.3L1307.8 472.3L1307.8 473.3L1307.7 474.3L1307.7 475.3L1307.7 476.3L1307.6 477.3L1307.6 478.3L1307.5 479.3L1307.5 480.3L1307.4 481.3L1307.4 482.3L1307.3 483.3L1307.3 484.3L1307.2 485.3L1307.1 486.3L1307 487.3L1306.9 488.3L1306.8 489.3L1306.6 490.3L1306.5 491.3L1306.3 492.3L1306.2 493.3L1306 494.3L1305.8 495.3L1305.6 496.3L1305.4 497.3L1305.1 498.3L1304.8 499.3L1304.5 500.3L1304.2 501.3L1304 502.3L1303.7 503.3L1303.4 504.3L1303.2 505.3L1303 506.3L1302.8 507.3L1302.7 508.3L1302.5 509.3L1302.3 510.3L1302.1 511.3L1301.9 512.3L1301.7 513.3L1301.4 514.3L1301.1 515.3L1300.9 516.3L1300.6 517.3L1300.2 518.3L1299.9 519.3L1299.6 520.3L1299.3 521.3L1299 522.3L1298.7 523.3L1298.4 524.3L1298.1 525.3L1297.8 526.3L1297.5 527.3L1297.2 528.3L1296.9 529.3L1296.6 530.3L1296.3 531.3L1296 532.3L1295.7 533.3L1295.3 534.3L1295 535.3L1294.7 536.3L1294.4 537.3L1294.1 538.3L1293.8 539.3L1293.5 540.3L1293.3 541.3L1293 542.3L1292.8 543.3L1292.6 544.3L1292.4 545.3L1292.2 546.3L1292 547.3L1291.9 548.3L1291.7 549.3L1291.5 550.3L1291.3 551.3L1291 552.3L1290.8 553.3L1290.6 554.3L1290.5 555.3L1290.4 556.3L1290.3 557.3L1290.2 558.3L1290.1 559.3L1290.1 560.3L1290 561.3L1290 562.3L1289.9 563.3L1289.9 564.3L1290 565.3L1290 566.3L1290.2 567.3L1290.3 568.3L1290.5 569.3L1290.7 570.3L1290.9 571.3L1291.1 572.3L1291.4 573.3L1291.6 574.3L1291.8 575.3L1292.1 576.3L1292.4 577.3L1292.7 578.3L1293 579.3L1293.3 580.3L1293.7 581.3L1294 582.3L1294.3 583.3L1294.7 584.3L1295.1 585.3L1295.5 586.3L1295.9 587.3L1296.3 588.3L1296.7 589.3L1297.2 590.3L1297.6 591.3L1298 592.3L1298.4 593.3L1298.8 594.3L1299.2 595.3L1299.6 596.3L1300 597.3L1300.4 598.3L1300.8 599.3L1301.2 600.3L1301.6 601.3L1301.9 602.3L1302.2 603.3L1302.5 604.3L1302.8 605.3L1303.1 606.3L1303.4 607.3L1303.7 608.3L1304 609.3L1304.3 610.3L1304.6 611.3L1304.9 612.3L1305.2 613.3L1305.5 614.3L1305.8 615.3L1306.2 616.3L1306.5 617.3L1306.7 618.3L1307 619.3L1307.3 620.3L1307.5 621.3L1307.7 622.3L1307.9 623.3L1308 624.3L1308.2 625.3L1308.4 626.3L1308.6 627.3L1308.8 628.3L1309 629.3L1309.3 630.3L1309.6 631.3L1309.9 632.3L1310.1 632.9L1310.1 632.9 Z" fill="#f08080" fill-opacity="0.2"/><path d="M1377.6 476.4L1377.6 476.4L1377 477.4L1376.5 478.4L1376 479.4L1375.7 480.4L1375.4 481.4L1375.2 482.4L1375 483.4L1374.9 484.4L1374.9 485.4L1375 486.4L1375.2 487.4L1375.4 488.4L1375.6 489.4L1376.1 490.4L1376.8 491.4L1377.4 492.4L1377.6 493.4L1377.6 494.4L1377.6 495.4L1377.6 496.4L1377.6 497.4L1377.6 498.4L1377.6 499.4L1377.6 500.4L1377.6 501.4L1377.6 502.4L1377.6 503.4L1377.6 504.4L1377.6 505.4L1377.6 506.4L1377.6 507.4L1377.6 508.4L1377.6 509.4L1377.6 510.4L1377.6 511.4L1377.6 512.4L1377.6 513.4L1377.6 514.4L1377.6 515.4L1377.6 516.4L1377.6 517.4L1377.6 518.4L1377.6 519.4L1377.6 520.4L1377.6 521.4L1377.6 522.4L1377.6 523.4L1377.6 524.4L1377.6 525.4L1377.6 526.4L1377.6 527.4L1377.6 528.4L1377.6 529.4L1376.9 530.4L1375.8 531.4L1375 532.4L1374.5 533.4L1374.1 534.4L1373.7 535.4L1373.3 536.4L1373 537.4L1372.6 538.4L1372.3 539.4L1371.9 540.4L1371.5 541.4L1371 542.4L1370.6 543.4L1370.1 544.4L1369.6 545.4L1369.1 546.4L1368.6 547.4L1368.1 548.4L1367.5 549.4L1367 550.4L1366.4 551.4L1365.8 552.4L1365.2 553.4L1364.6 554.4L1363.8 555.4L1363 556.4L1362.1 557.4L1361.1 558.4L1360.3 559.4L1359.6 560.4L1359 561.4L1358.5 562.4L1358 563.4L1357.6 564.4L1357.3 565.4L1357.2 566.4L1357.2 567.4L1357.2 568.4L1357.2 569.4L1357.2 570.4L1357.2 571.4L1357.3 572.4L1357.7 573.4L1358.2 574.4L1359 575.4L1359.7 576.4L1360.5 577.4L1361.3 578.4L1362.3 579.4L1363.3 580.4L1364.4 581.4L1365.5 582.4L1366.5 583.4L1367.6 584.4L1368.7 585.4L1369.8 586.4L1370.7 587.4L1371.5 588.4L1372.2 589.4L1372.8 590.4L1373.3 591.4L1373.8 592.4L1374.3 593.4L1374.7 594.4L1375.1 595.4L1375.4 596.4L1375.8 597.4L1376.1 598.4L1376.4 599.4L1376.7 600.4L1377 601.4L1377.2 602.4L1377.4 603.4L1377.6 604.1L1377.6 604.1 Z" fill="#40e0d0" fill-opacity="0.2"/><path d="M1408.6 482.9L1408.6 482.9L1408.3 483.9L1408.1 484.9L1407.8 485.9L1407.6 486.9L1407.4 487.9L1407.2 488.9L1406.9 489.9L1406.7 490.9L1406.5 491.9L1406.3 492.9L1406.1 493.9L1405.8 494.9L1405.6 495.9L1405.4 496.9L1405.2 497.9L1405 498.9L1404.8 499.9L1404.6 500.9L1404.4 501.9L1404.2 502.9L1404 503.9L1403.9 504.9L1403.7 505.9L1403.6 506.9L1403.4 507.9L1403.3 508.9L1403.1 509.9L1403 510.9L1402.9 511.9L1402.8 512.9L1402.6 513.9L1402.5 514.9L1402.4 515.9L1402.3 516.9L1402.1 517.9L1402 518.9L1401.9 519.9L1401.8 520.9L1401.7 521.9L1401.6 522.9L1401.6 523.9L1401.5 524.9L1401.5 525.9L1401.5 526.9L1401.5 527.9L1401.5 528.9L1401.4 529.9L1401.4 530.9L1401.4 531.9L1401.3 532.9L1401.1 533.9L1400.9 534.9L1400.7 535.9L1400.4 536.9L1400.1 537.9L1399.8 538.9L1399.2 539.9L1398.5 540.9L1397.6 541.9L1396.6 542.9L1395.7 543.9L1394.8 544.9L1394.1 545.9L1393.4 546.9L1392.7 547.9L1392 548.9L1391.3 549.9L1390.7 550.9L1390.2 551.9L1389.9 552.9L1389.5 553.9L1389.2 554.9L1388.9 555.9L1388.6 556.9L1388.4 557.9L1388.3 558.9L1388.2 559.9L1388.2 560.9L1388.2 561.9L1388.3 562.9L1388.3 563.9L1388.3 564.9L1388.3 565.9L1388.4 566.9L1388.5 567.9L1388.6 568.9L1388.8 569.9L1389 570.9L1389.3 571.9L1389.5 572.9L1389.8 573.9L1390.1 574.9L1390.5 575.9L1390.8 576.9L1391.3 577.9L1391.7 578.9L1392.2 579.9L1392.6 580.9L1393.1 581.9L1393.6 582.9L1394.1 583.9L1394.6 584.9L1395.1 585.9L1395.6 586.9L1396.1 587.9L1396.6 588.9L1397.1 589.9L1397.6 590.9L1398.1 591.9L1398.6 592.9L1399 593.9L1399.5 594.9L1400 595.9L1400.5 596.9L1401 597.9L1401.5 598.9L1402 599.9L1402.5 600.9L1403 601.9L1403.5 602.9L1404 603.9L1404.5 604.9L1405 605.9L1405.5 606.9L1405.9 607.9L1406.4 608.9L1406.7 609.9L1407.1 610.9L1407.4 611.9L1407.7 612.9L1408 613.9L1408.3 614.9L1408.5 615.9L1408.6 616.2L1408.6 616.2 Z" fill="#1e90ff" fill-opacity="0.2"/><path d="M1439.3 481.9L1439.3 481.9L1438.8 482.9L1438.2 483.9L1437.8 484.9L1437.7 485.9L1437.7 486.9L1437.7 487.9L1437.8 488.9L1437.8 489.9L1437.8 490.9L1437.8 491.9L1437.9 492.9L1437.9 493.9L1437.9 494.9L1438 495.9L1438 496.9L1438 497.9L1438.1 498.9L1438.2 499.9L1438.2 500.9L1438.2 501.9L1438.3 502.9L1438.3 503.9L1438.3 504.9L1438.2 505.9L1438.2 506.9L1438.1 507.9L1438 508.9L1437.9 509.9L1437.8 510.9L1437.7 511.9L1437.6 512.9L1437.5 513.9L1437.4 514.9L1437.3 515.9L1437.2 516.9L1437 517.9L1436.9 518.9L1436.8 519.9L1436.7 520.9L1436.5 521.9L1436.4 522.9L1436.3 523.9L1436.1 524.9L1436 525.9L1435.8 526.9L1435.7 527.9L1435.5 528.9L1435.4 529.9L1435.3 530.9L1435.3 531.9L1435.3 532.9L1435.3 533.9L1435.4 534.9L1435.4 535.9L1435.4 536.9L1435.5 537.9L1435.5 538.9L1435.5 539.9L1435.5 540.9L1435.5 541.9L1435.5 542.9L1435.4 543.9L1435.4 544.9L1435.3 545.9L1435.2 546.9L1435 547.9L1434.9 548.9L1434.7 549.9L1434.6 550.9L1434.4 551.9L1434.2 552.9L1433.8 553.9L1433.2 554.9L1432.5 555.9L1431.7 556.9L1430.9 557.9L1430 558.9L1429.3 559.9L1428.5 560.9L1427.8 561.9L1427 562.9L1426.3 563.9L1425.6 564.9L1424.9 565.9L1424.3 566.9L1423.7 567.9L1423.1 568.9L1422.6 569.9L1422 570.9L1421.6 571.9L1421.1 572.9L1420.7 573.9L1420.4 574.9L1420 575.9L1419.7 576.9L1419.4 577.9L1419.1 578.9L1418.9 579.9L1418.8 580.9L1418.8 581.9L1419 582.9L1419.3 583.9L1419.6 584.9L1420.1 585.9L1420.5 586.9L1421 587.9L1421.5 588.9L1422.1 589.9L1422.9 590.9L1423.7 591.9L1424.6 592.9L1425.5 593.9L1426.4 594.9L1427.2 595.9L1428.2 596.9L1429.1 597.9L1430.1 598.9L1431.1 599.9L1432 600.9L1432.9 601.9L1433.7 602.9L1434.3 603.9L1435 604.9L1435.5 605.9L1436.1 606.9L1436.7 607.9L1437.2 608.9L1437.8 609.9L1438.3 610.9L1438.8 611.9L1439.3 612.9L1439.3 612.9 Z" fill="#f08080" fill-opacity="0.2"/><path d="M1507.4 479.1L1507.4 479.1L1506.9 480.1L1506.5 481.1L1506.1 482.1L1505.8 483.1L1505.6 484.1L1505.4 485.1L1505.4 486.1L1505.5 487.1L1505.6 488.1L1505.7 489.1L1505.8 490.1L1505.9 491.1L1506 492.1L1506.1 493.1L1506.1 494.1L1506.2 495.1L1506.1 496.1L1506.1 497.1L1506 498.1L1506 499.1L1505.9 500.1L1505.8 501.1L1505.7 502.1L1505.7 503.1L1505.6 504.1L1505.6 505.1L1505.5 506.1L1505.5 507.1L1505.4 508.1L1505.3 509.1L1505.3 510.1L1505.3 511.1L1505.2 512.1L1505.2 513.1L1505.2 514.1L1505.3 515.1L1505.3 516.1L1505.4 517.1L1505.4 518.1L1505.5 519.1L1505.5 520.1L1505.6 521.1L1505.6 522.1L1505.6 523.1L1505.6 524.1L1505.5 525.1L1505.4 526.1L1505.2 527.1L1505 528.1L1504.8 529.1L1504.6 530.1L1504.3 531.1L1504.1 532.1L1503.7 533.1L1503.2 534.1L1502.5 535.1L1501.7 536.1L1500.9 537.1L1500.1 538.1L1499.2 539.1L1498.4 540.1L1497.7 541.1L1497.1 542.1L1496.5 543.1L1496 544.1L1495.4 545.1L1494.9 546.1L1494.3 547.1L1493.7 548.1L1493.1 549.1L1492.4 550.1L1491.5 551.1L1490.2 552.1L1488.8 553.1L1487.8 554.1L1487.4 555.1L1487.4 556.1L1487.4 557.1L1487.4 558.1L1487.4 559.1L1487.4 560.1L1487.5 561.1L1487.9 562.1L1488.5 563.1L1489.4 564.1L1490.3 565.1L1491.2 566.1L1492.1 567.1L1493.3 568.1L1494.5 569.1L1495.8 570.1L1497 571.1L1498.1 572.1L1499.3 573.1L1500.4 574.1L1501.5 575.1L1502.5 576.1L1503.1 577.1L1503.6 578.1L1504.1 579.1L1504.5 580.1L1504.8 581.1L1505 582.1L1505 583.1L1505 584.1L1505 585.1L1505 586.1L1505 587.1L1505 588.1L1505 589.1L1505 590.1L1505 591.1L1505 592.1L1505.1 593.1L1505.1 594.1L1505.1 595.1L1505.2 596.1L1505.2 597.1L1505.3 598.1L1505.4 599.1L1505.5 600.1L1505.6 601.1L1505.7 602.1L1505.9 603.1L1506.2 604.1L1506.5 605.1L1506.8 606.1L1507.1 607.1L1507.4 607.9L1507.4 607.9 Z" fill="#40e0d0" fill-opacity="0.2"/><path d="M1538.4 451.3L1538.4 451.3L1537.9 452.3L1537.5 453.3L1537.1 454.3L1536.7 455.3L1536.3 456.3L1535.9 457.3L1535.4 458.3L1535 459.3L1534.6 460.3L1534.2 461.3L1533.8 462.3L1533.4 463.3L1533 464.3L1532.6 465.3L1532.2 466.3L1531.9 467.3L1531.5 468.3L1531.2 469.3L1530.9 470.3L1530.6 471.3L1530.3 472.3L1530 473.3L1529.8 474.3L1529.5 475.3L1529.2 476.3L1528.9 477.3L1528.5 478.3L1528.2 479.3L1527.9 480.3L1527.6 481.3L1527.3 482.3L1527 483.3L1526.7 484.3L1526.5 485.3L1526.2 486.3L1526 487.3L1525.8 488.3L1525.6 489.3L1525.4 490.3L1525.2 491.3L1525 492.3L1524.8 493.3L1524.6 494.3L1524.4 495.3L1524.2 496.3L1524 497.3L1523.8 498.3L1523.6 499.3L1523.4 500.3L1523.2 501.3L1523 502.3L1522.8 503.3L1522.6 504.3L1522.5 505.3L1522.3 506.3L1522.2 507.3L1522 508.3L1521.9 509.3L1521.8 510.3L1521.6 511.3L1521.5 512.3L1521.4 513.3L1521.3 514.3L1521.1 515.3L1521 516.3L1520.9 517.3L1520.7 518.3L1520.6 519.3L1520.5 520.3L1520.4 521.3L1520.3 522.3L1520.2 523.3L1520.1 524.3L1520 525.3L1520 526.3L1519.9 527.3L1519.8 528.3L1519.7 529.3L1519.7 530.3L1519.6 531.3L1519.5 532.3L1519.4 533.3L1519.2 534.3L1519.1 535.3L1519 536.3L1518.8 537.3L1518.7 538.3L1518.6 539.3L1518.5 540.3L1518.4 541.3L1518.3 542.3L1518.3 543.3L1518.2 544.3L1518.2 545.3L1518.1 546.3L1518.1 547.3L1518.1 548.3L1518 549.3L1518 550.3L1518 551.3L1518 552.3L1518 553.3L1518 554.3L1518 555.3L1518.1 556.3L1518.2 557.3L1518.4 558.3L1518.6 559.3L1518.9 560.3L1519.1 561.3L1519.4 562.3L1519.6 563.3L1519.9 564.3L1520.1 565.3L1520.4 566.3L1520.7 567.3L1521 568.3L1521.3 569.3L1521.6 570.3L1521.9 571.3L1522.3 572.3L1522.6 573.3L1522.9 574.3L1523.3 575.3L1523.7 576.3L1524.1 577.3L1524.5 578.3L1524.9 579.3L1525.4 580.3L1525.8 581.3L1526.2 582.3L1526.6 583.3L1527 584.3L1527.4 585.3L1527.8 586.3L1528.2 587.3L1528.7 588.3L1529.1 589.3L1529.4 590.3L1529.8 591.3L1530.2 592.3L1530.5 593.3L1530.8 594.3L1531.1 595.3L1531.4 596.3L1531.7 597.3L1532 598.3L1532.3 599.3L1532.6 600.3L1532.9 601.3L1533.1 602.3L1533.4 603.3L1533.6 604.3L1533.9 605.3L1534.1 606.3L1534.3 607.3L1534.6 608.3L1534.8 609.3L1535 610.3L1535.2 611.3L1535.4 612.3L1535.6 613.3L1535.8 614.3L1536 615.3L1536.1 616.3L1536.3 617.3L1536.6 618.3L1536.8 619.3L1537.1 620.3L1537.4 621.3L1537.8 622.3L1538.2 623.3L1538.4 623.6L1538.4 623.6 Z" fill="#1e90ff" fill-opacity="0.2"/><path d="M1569.5 445.8L1569.5 445.8L1569.3 446.8L1569 447.8L1568.8 448.8L1568.5 449.8L1568.3 450.8L1568 451.8L1567.8 452.8L1567.5 453.8L1567.3 454.8L1567.1 455.8L1566.9 456.8L1566.6 457.8L1566.4 458.8L1566.2 459.8L1566 460.8L1565.8 461.8L1565.6 462.8L1565.4 463.8L1565.2 464.8L1565 465.8L1564.8 466.8L1564.7 467.8L1564.5 468.8L1564.3 469.8L1564.2 470.8L1564.1 471.8L1563.9 472.8L1563.8 473.8L1563.7 474.8L1563.5 475.8L1563.4 476.8L1563.3 477.8L1563.2 478.8L1563.1 479.8L1563 480.8L1562.9 481.8L1562.8 482.8L1562.7 483.8L1562.6 484.8L1562.5 485.8L1562.4 486.8L1562.3 487.8L1562.2 488.8L1562.1 489.8L1562 490.8L1561.9 491.8L1561.8 492.8L1561.7 493.8L1561.6 494.8L1561.5 495.8L1561.4 496.8L1561.3 497.8L1561.3 498.8L1561.2 499.8L1561.1 500.8L1561 501.8L1560.9 502.8L1560.7 503.8L1560.6 504.8L1560.4 505.8L1560.3 506.8L1560.1 507.8L1559.9 508.8L1559.7 509.8L1559.5 510.8L1559.2 511.8L1559 512.8L1558.8 513.8L1558.5 514.8L1558.2 515.8L1557.9 516.8L1557.6 517.8L1557.3 518.8L1557 519.8L1556.7 520.8L1556.3 521.8L1556 522.8L1555.7 523.8L1555.4 524.8L1555.1 525.8L1554.8 526.8L1554.5 527.8L1554.2 528.8L1553.9 529.8L1553.6 530.8L1553.3 531.8L1553.1 532.8L1552.9 533.8L1552.6 534.8L1552.4 535.8L1552.2 536.8L1552.1 537.8L1551.9 538.8L1551.7 539.8L1551.5 540.8L1551.3 541.8L1551.2 542.8L1551 543.8L1550.8 544.8L1550.7 545.8L1550.5 546.8L1550.4 547.8L1550.2 548.8L1550.1 549.8L1549.9 550.8L1549.7 551.8L1549.4 552.8L1549.2 553.8L1549 554.8L1548.9 555.8L1548.9 556.8L1548.8 557.8L1548.8 558.8L1548.7 559.8L1548.7 560.8L1548.7 561.8L1548.6 562.8L1548.6 563.8L1548.6 564.8L1548.6 565.8L1548.7 566.8L1548.7 567.8L1548.7 568.8L1548.8 569.8L1548.8 570.8L1548.9 571.8L1549 572.8L1549 573.8L1549.1 574.8L1549.2 575.8L1549.3 576.8L1549.5 577.8L1549.7 578.8L1549.9 579.8L1550.1 580.8L1550.3 581.8L1550.5 582.8L1550.7 583.8L1550.9 584.8L1551.2 585.8L1551.5 586.8L1551.8 587.8L1552.1 588.8L1552.5 589.8L1552.8 590.8L1553.2 591.8L1553.5 592.8L1553.9 593.8L1554.2 594.8L1554.6 595.8L1555 596.8L1555.5 597.8L1555.9 598.8L1556.3 599.8L1556.7 600.8L1557.1 601.8L1557.6 602.8L1558 603.8L1558.5 604.8L1558.9 605.8L1559.4 606.8L1559.8 607.8L1560.3 608.8L1560.7 609.8L1561.1 610.8L1561.5 611.8L1561.9 612.8L1562.3 613.8L1562.6 614.8L1563 615.8L1563.3 616.8L1563.7 617.8L1564 618.8L1564.3 619.8L1564.7 620.8L1565 621.8L1565.3 622.8L1565.6 623.8L1566 624.8L1566.3 625.8L1566.5 626.8L1566.8 627.8L1567.1 628.8L1567.3 629.8L1567.5 630.8L1567.8 631.8L1568 632.8L1568.2 633.8L1568.4 634.8L1568.6 635.8L1568.8 636.8L1569 637.8L1569.2 638.8L1569.3 639.8L1569.5 640.8L1569.5 641.2L1569.5 641.2 Z" fill="#f08080" fill-opacity="0.2"/><path d="M1636.3 489.3L1636.3 489.3L1635.9 490.3L1635.6 491.3L1635.3 492.3L1635.1 493.3L1634.9 494.3L1634.8 495.3L1634.8 496.3L1634.8 497.3L1634.8 498.3L1634.7 499.3L1634.7 500.3L1634.7 501.3L1634.7 502.3L1634.7 503.3L1634.7 504.3L1634.7 505.3L1634.8 506.3L1634.8 507.3L1634.9 508.3L1635 509.3L1635.1 510.3L1635.2 511.3L1635.2 512.3L1635.2 513.3L1635.2 514.3L1635.2 515.3L1635.2 516.3L1635.2 517.3L1635.2 518.3L1635.2 519.3L1635.2 520.3L1635.2 521.3L1635.2 522.3L1635.2 523.3L1635.2 524.3L1635.1 525.3L1635.1 526.3L1635 527.3L1634.9 528.3L1634.6 529.3L1634.2 530.3L1633.7 531.3L1633.2 532.3L1632.7 533.3L1632.1 534.3L1631.6 535.3L1630.9 536.3L1630.3 537.3L1629.7 538.3L1629 539.3L1628.4 540.3L1627.8 541.3L1627.2 542.3L1626.6 543.3L1626.1 544.3L1625.6 545.3L1625 546.3L1624.4 547.3L1623.8 548.3L1623.1 549.3L1622.4 550.3L1621.5 551.3L1620.3 552.3L1619 553.3L1618 554.3L1617.5 555.3L1617.1 556.3L1616.8 557.3L1616.6 558.3L1616.4 559.3L1616.3 560.3L1616.3 561.3L1616.3 562.3L1616.3 563.3L1616.3 564.3L1616.3 565.3L1616.3 566.3L1616.4 567.3L1616.5 568.3L1616.7 569.3L1616.9 570.3L1617.1 571.3L1617.3 572.3L1617.6 573.3L1617.8 574.3L1618.1 575.3L1618.5 576.3L1618.9 577.3L1619.3 578.3L1619.7 579.3L1620.2 580.3L1620.7 581.3L1621.1 582.3L1621.6 583.3L1622 584.3L1622.5 585.3L1623 586.3L1623.5 587.3L1624 588.3L1624.6 589.3L1625.1 590.3L1625.6 591.3L1626.1 592.3L1626.6 593.3L1627.1 594.3L1627.6 595.3L1628.1 596.3L1628.6 597.3L1629.1 598.3L1629.6 599.3L1630.1 600.3L1630.6 601.3L1631.1 602.3L1631.5 603.3L1632 604.3L1632.4 605.3L1632.8 606.3L1633.3 607.3L1633.7 608.3L1634.1 609.3L1634.6 610.3L1635 611.3L1635.4 612.3L1635.9 613.3L1636.3 614.3L1636.3 614.3 Z" fill="#40e0d0" fill-opacity="0.2"/><path d="M1667.6 456L1667.6 456L1667.4 457L1667.1 458L1666.8 459L1666.6 460L1666.3 461L1666.1 462L1665.9 463L1665.6 464L1665.4 465L1665.2 466L1664.9 467L1664.7 468L1664.5 469L1664.3 470L1664 471L1663.8 472L1663.6 473L1663.4 474L1663.3 475L1663.1 476L1663 477L1662.9 478L1662.7 479L1662.6 480L1662.6 481L1662.5 482L1662.4 483L1662.3 484L1662.2 485L1662.1 486L1662 487L1661.9 488L1661.8 489L1661.7 490L1661.6 491L1661.5 492L1661.4 493L1661.3 494L1661.2 495L1661.1 496L1661 497L1660.9 498L1660.9 499L1660.8 500L1660.7 501L1660.6 502L1660.4 503L1660.3 504L1660.1 505L1659.8 506L1659.5 507L1659.1 508L1658.7 509L1658.2 510L1657.7 511L1657.3 512L1656.8 513L1656.3 514L1655.8 515L1655.3 516L1654.8 517L1654.3 518L1653.7 519L1653.2 520L1652.7 521L1652.3 522L1651.8 523L1651.4 524L1651 525L1650.6 526L1650.2 527L1649.8 528L1649.4 529L1649.1 530L1648.8 531L1648.6 532L1648.4 533L1648.2 534L1648 535L1647.8 536L1647.7 537L1647.5 538L1647.4 539L1647.3 540L1647.3 541L1647.3 542L1647.3 543L1647.3 544L1647.3 545L1647.3 546L1647.3 547L1647.3 548L1647.3 549L1647.3 550L1647.3 551L1647.5 552L1647.9 553L1648.3 554L1648.6 555L1648.8 556L1649 557L1649.1 558L1649.3 559L1649.4 560L1649.6 561L1649.7 562L1649.9 563L1650 564L1650.2 565L1650.4 566L1650.6 567L1650.8 568L1651 569L1651.2 570L1651.4 571L1651.6 572L1651.8 573L1652 574L1652.2 575L1652.4 576L1652.6 577L1652.8 578L1653 579L1653.2 580L1653.4 581L1653.6 582L1653.8 583L1654.1 584L1654.3 585L1654.6 586L1654.9 587L1655.2 588L1655.5 589L1655.8 590L1656.2 591L1656.5 592L1656.9 593L1657.2 594L1657.6 595L1658 596L1658.4 597L1658.9 598L1659.3 599L1659.7 600L1660.1 601L1660.5 602L1660.9 603L1661.4 604L1661.8 605L1662.2 606L1662.6 607L1663 608L1663.4 609L1663.8 610L1664.1 611L1664.4 612L1664.6 613L1664.9 614L1665.1 615L1665.3 616L1665.6 617L1665.8 618L1666 619L1666.2 620L1666.4 621L1666.7 622L1666.9 623L1667.1 624L1667.3 625L1667.5 626L1667.6 626.4L1667.6 626.4 Z" fill="#1e90ff" fill-opacity="0.2"/><path d="M1698.8 461.5L1698.8 461.5L1698.7 462.5L1698.7 463.5L1698.6 464.5L1698.5 465.5L1698.5 466.5L1698.4 467.5L1698.3 468.5L1698.3 469.5L1698.2 470.5L1698.2 471.5L1698.1 472.5L1698 473.5L1698 474.5L1697.9 475.5L1697.9 476.5L1697.8 477.5L1697.8 478.5L1697.8 479.5L1697.7 480.5L1697.7 481.5L1697.6 482.5L1697.6 483.5L1697.6 484.5L1697.5 485.5L1697.5 486.5L1697.5 487.5L1697.5 488.5L1697.5 489.5L1697.4 490.5L1697.4 491.5L1697.4 492.5L1697.4 493.5L1697.4 494.5L1697.4 495.5L1697.4 496.5L1697.3 497.5L1697.3 498.5L1697.3 499.5L1697.3 500.5L1697.3 501.5L1697.2 502.5L1697.2 503.5L1697.2 504.5L1697.1 505.5L1697 506.5L1696.9 507.5L1696.8 508.5L1696.7 509.5L1696.5 510.5L1696.4 511.5L1696.2 512.5L1696.1 513.5L1695.9 514.5L1695.7 515.5L1695.4 516.5L1695.2 517.5L1694.9 518.5L1694.6 519.5L1694.3 520.5L1694 521.5L1693.7 522.5L1693.4 523.5L1693 524.5L1692.7 525.5L1692.3 526.5L1691.9 527.5L1691.4 528.5L1691 529.5L1690.6 530.5L1690.1 531.5L1689.7 532.5L1689.3 533.5L1688.8 534.5L1688.3 535.5L1687.8 536.5L1687.3 537.5L1686.9 538.5L1686.4 539.5L1686 540.5L1685.6 541.5L1685.2 542.5L1684.9 543.5L1684.6 544.5L1684.3 545.5L1684 546.5L1683.7 547.5L1683.3 548.5L1683 549.5L1682.5 550.5L1681.9 551.5L1681.2 552.5L1680.4 553.5L1679.9 554.5L1679.6 555.5L1679.5 556.5L1679.3 557.5L1679.2 558.5L1679.1 559.5L1679 560.5L1678.9 561.5L1678.9 562.5L1678.8 563.5L1678.8 564.5L1678.8 565.5L1678.8 566.5L1678.8 567.5L1678.8 568.5L1678.8 569.5L1678.8 570.5L1678.8 571.5L1678.8 572.5L1678.8 573.5L1678.8 574.5L1678.9 575.5L1679.1 576.5L1679.3 577.5L1679.5 578.5L1679.8 579.5L1680 580.5L1680.3 581.5L1680.6 582.5L1680.9 583.5L1681.2 584.5L1681.5 585.5L1681.9 586.5L1682.3 587.5L1682.8 588.5L1683.2 589.5L1683.7 590.5L1684.1 591.5L1684.6 592.5L1685 593.5L1685.5 594.5L1686 595.5L1686.5 596.5L1687 597.5L1687.6 598.5L1688.1 599.5L1688.6 600.5L1689.1 601.5L1689.6 602.5L1690.1 603.5L1690.6 604.5L1691.2 605.5L1691.7 606.5L1692.2 607.5L1692.7 608.5L1693.1 609.5L1693.6 610.5L1694 611.5L1694.5 612.5L1694.9 613.5L1695.3 614.5L1695.7 615.5L1696.1 616.5L1696.4 617.5L1696.8 618.5L1697.2 619.5L1697.6 620.5L1698 621.5L1698.4 622.5L1698.8 623.5L1698.8 623.6L1698.8 623.6 Z" fill="#f08080" fill-opacity="0.2"/><path d="M1766.1 499.5L1766.1 499.5L1765.7 500.5L1765.3 501.5L1764.9 502.5L1764.6 503.5L1764.4 504.5L1764.2 505.5L1764.1 506.5L1763.9 507.5L1763.8 508.5L1763.7 509.5L1763.6 510.5L1763.5 511.5L1763.3 512.5L1763.2 513.5L1763 514.5L1762.8 515.5L1762.7 516.5L1762.5 517.5L1762.3 518.5L1762.1 519.5L1761.9 520.5L1761.6 521.5L1761.4 522.5L1761.1 523.5L1760.8 524.5L1760.4 525.5L1760 526.5L1759.6 527.5L1759.2 528.5L1758.7 529.5L1758.3 530.5L1757.8 531.5L1757.4 532.5L1756.9 533.5L1756.4 534.5L1755.9 535.5L1755.4 536.5L1754.9 537.5L1754.4 538.5L1753.9 539.5L1753.4 540.5L1752.9 541.5L1752.4 542.5L1751.9 543.5L1751.4 544.5L1750.9 545.5L1750.4 546.5L1749.9 547.5L1749.4 548.5L1748.9 549.5L1748.4 550.5L1747.7 551.5L1746.8 552.5L1746.1 553.5L1745.6 554.5L1745.6 555.5L1745.7 556.5L1745.8 557.5L1746 558.5L1746.3 559.5L1746.5 560.5L1746.7 561.5L1747 562.5L1747.4 563.5L1747.7 564.5L1748.1 565.5L1748.5 566.5L1749.1 567.5L1749.7 568.5L1750.3 569.5L1751 570.5L1751.7 571.5L1752.4 572.5L1753 573.5L1753.6 574.5L1754.3 575.5L1754.9 576.5L1755.5 577.5L1756.2 578.5L1756.8 579.5L1757.4 580.5L1757.9 581.5L1758.4 582.5L1758.9 583.5L1759.4 584.5L1759.8 585.5L1760.3 586.5L1760.7 587.5L1761.1 588.5L1761.5 589.5L1761.8 590.5L1762.1 591.5L1762.4 592.5L1762.6 593.5L1762.8 594.5L1763 595.5L1763.2 596.5L1763.4 597.5L1763.6 598.5L1763.7 599.5L1763.9 600.5L1764.2 601.5L1764.4 602.5L1764.7 603.5L1764.9 604.5L1765.2 605.5L1765.5 606.5L1765.7 607.5L1766 608.5L1766.1 608.8L1766.1 608.8 Z" fill="#40e0d0" fill-opacity="0.2"/><path d="M1797.1 456L1797.1 456L1796.9 457L1796.6 458L1796.4 459L1796.2 460L1796 461L1795.8 462L1795.6 463L1795.4 464L1795.2 465L1795 466L1794.7 467L1794.5 468L1794.3 469L1794.1 470L1793.9 471L1793.7 472L1793.5 473L1793.3 474L1793.1 475L1792.9 476L1792.7 477L1792.6 478L1792.4 479L1792.2 480L1792 481L1791.8 482L1791.6 483L1791.4 484L1791.2 485L1790.9 486L1790.7 487L1790.4 488L1790.1 489L1789.8 490L1789.5 491L1789.2 492L1788.9 493L1788.6 494L1788.2 495L1787.9 496L1787.5 497L1787.1 498L1786.7 499L1786.3 500L1785.9 501L1785.4 502L1785 503L1784.6 504L1784.2 505L1783.8 506L1783.4 507L1783 508L1782.5 509L1782.1 510L1781.7 511L1781.3 512L1781 513L1780.6 514L1780.3 515L1779.9 516L1779.6 517L1779.2 518L1778.9 519L1778.6 520L1778.4 521L1778.2 522L1778 523L1777.8 524L1777.7 525L1777.6 526L1777.4 527L1777.3 528L1777.2 529L1777.2 530L1777.1 531L1777.1 532L1777.1 533L1777.1 534L1777.1 535L1777.1 536L1777.1 537L1777.1 538L1777.1 539L1777.1 540L1777.1 541L1777.1 542L1777.1 543L1777.1 544L1777.2 545L1777.2 546L1777.3 547L1777.3 548L1777.4 549L1777.4 550L1777.5 551L1777.6 552L1777.7 553L1777.9 554L1778 555L1778.1 556L1778.3 557L1778.4 558L1778.5 559L1778.6 560L1778.7 561L1778.9 562L1779 563L1779.1 564L1779.2 565L1779.3 566L1779.5 567L1779.6 568L1779.7 569L1779.8 570L1779.9 571L1780 572L1780.2 573L1780.3 574L1780.5 575L1780.6 576L1780.8 577L1781 578L1781.1 579L1781.3 580L1781.5 581L1781.7 582L1782 583L1782.2 584L1782.5 585L1782.7 586L1783 587L1783.3 588L1783.7 589L1784 590L1784.3 591L1784.7 592L1785 593L1785.4 594L1785.8 595L1786.2 596L1786.6 597L1787 598L1787.5 599L1787.9 600L1788.3 601L1788.6 602L1789 603L1789.4 604L1789.8 605L1790.1 606L1790.5 607L1790.8 608L1791.2 609L1791.5 610L1791.9 611L1792.2 612L1792.5 613L1792.8 614L1793.2 615L1793.5 616L1793.8 617L1794.1 618L1794.4 619L1794.7 620L1795.1 621L1795.4 622L1795.7 623L1796 624L1796.3 625L1796.6 626L1797 627L1797.1 627.3L1797.1 627.3 Z" fill="#1e90ff" fill-opacity="0.2"/><path d="M1828.2 466.2L1828.2 466.2L1828 467.2L1827.8 468.2L1827.7 469.2L1827.5 470.2L1827.3 471.2L1827.1 472.2L1826.9 473.2L1826.7 474.2L1826.5 475.2L1826.3 476.2L1826.1 477.2L1825.9 478.2L1825.7 479.2L1825.5 480.2L1825.3 481.2L1825.1 482.2L1824.9 483.2L1824.7 484.2L1824.5 485.2L1824.3 486.2L1824 487.2L1823.7 488.2L1823.4 489.2L1823 490.2L1822.7 491.2L1822.4 492.2L1822.1 493.2L1821.8 494.2L1821.6 495.2L1821.3 496.2L1821.1 497.2L1820.9 498.2L1820.7 499.2L1820.5 500.2L1820.3 501.2L1820.1 502.2L1820 503.2L1819.8 504.2L1819.6 505.2L1819.4 506.2L1819.2 507.2L1819 508.2L1818.8 509.2L1818.6 510.2L1818.4 511.2L1818.2 512.2L1818 513.2L1817.8 514.2L1817.6 515.2L1817.4 516.2L1817.2 517.2L1817 518.2L1816.8 519.2L1816.6 520.2L1816.4 521.2L1816.2 522.2L1816 523.2L1815.8 524.2L1815.6 525.2L1815.4 526.2L1815.2 527.2L1815 528.2L1814.8 529.2L1814.6 530.2L1814.4 531.2L1814.2 532.2L1814 533.2L1813.8 534.2L1813.6 535.2L1813.4 536.2L1813.2 537.2L1813 538.2L1812.8 539.2L1812.6 540.2L1812.4 541.2L1812.2 542.2L1812 543.2L1811.8 544.2L1811.6 545.2L1811.4 546.2L1811.2 547.2L1811 548.2L1810.8 549.2L1810.6 550.2L1810.4 551.2L1810.1 552.2L1809.9 553.2L1809.7 554.2L1809.5 555.2L1809.3 556.2L1809.1 557.2L1808.9 558.2L1808.7 559.2L1808.5 560.2L1808.3 561.2L1808.2 562.2L1808.1 563.2L1808.1 564.2L1808.1 565.2L1808.1 566.2L1808.1 567.2L1808.1 568.2L1808.1 569.2L1808.1 570.2L1808.1 571.2L1808.1 572.2L1808.1 573.2L1808.1 574.2L1808.1 575.2L1808.3 576.2L1808.4 577.2L1808.6 578.2L1808.8 579.2L1809 580.2L1809.2 581.2L1809.4 582.2L1809.6 583.2L1809.9 584.2L1810.1 585.2L1810.4 586.2L1810.7 587.2L1811 588.2L1811.3 589.2L1811.7 590.2L1812 591.2L1812.4 592.2L1812.7 593.2L1813.1 594.2L1813.5 595.2L1813.9 596.2L1814.3 597.2L1814.7 598.2L1815.1 599.2L1815.5 600.2L1816 601.2L1816.4 602.2L1816.9 603.2L1817.4 604.2L1817.9 605.2L1818.5 606.2L1819 607.2L1819.5 608.2L1820 609.2L1820.5 610.2L1820.9 611.2L1821.4 612.2L1821.8 613.2L1822.2 614.2L1822.7 615.2L1823.1 616.2L1823.5 617.2L1823.8 618.2L1824.2 619.2L1824.5 620.2L1824.8 621.2L1825 622.2L1825.3 623.2L1825.5 624.2L1825.7 625.2L1825.9 626.2L1826.2 627.2L1826.4 628.2L1826.6 629.2L1826.9 630.2L1827.1 631.2L1827.4 632.2L1827.6 633.2L1827.9 634.2L1828.1 635.2L1828.2 635.7L1828.2 635.7 Z" fill="#f08080" fill-opacity="0.2"/></g>
<g stroke="#fff" stroke-width="1.1" stroke-opacity="0.85"><line x1="1119.1" y1="507.9" x2="1119.1" y2="618.7"/><line x1="1149.7" y1="449.5" x2="1149.7" y2="629.8"/><line x1="1181.2" y1="461.5" x2="1181.2" y2="611.3"/><line x1="1248.6" y1="503.3" x2="1248.6" y2="615.9"/><line x1="1279.5" y1="457.8" x2="1279.5" y2="630.8"/><line x1="1310.7" y1="452.3" x2="1310.7" y2="635.4"/><line x1="1378.2" y1="476.4" x2="1378.2" y2="606.6"/><line x1="1409.2" y1="482.9" x2="1409.2" y2="618.7"/><line x1="1439.9" y1="481.9" x2="1439.9" y2="615.4"/><line x1="1508" y1="479.1" x2="1508" y2="610.4"/><line x1="1539" y1="451.3" x2="1539" y2="626.1"/><line x1="1570.1" y1="445.8" x2="1570.1" y2="643.7"/><line x1="1636.9" y1="489.3" x2="1636.9" y2="616.8"/><line x1="1668.2" y1="456" x2="1668.2" y2="628.9"/><line x1="1699.4" y1="461.5" x2="1699.4" y2="626.1"/><line x1="1766.7" y1="499.5" x2="1766.7" y2="611.3"/><line x1="1797.7" y1="456" x2="1797.7" y2="629.8"/><line x1="1828.8" y1="466.2" x2="1828.8" y2="638.2"/></g>
<g fill="#353535"><circle cx="1108.5" cy="554.1" r="1"/><circle cx="1114.3" cy="550.5" r="1"/><circle cx="1113.5" cy="544.5" r="1"/><circle cx="1109" cy="592.9" r="1"/><circle cx="1111.8" cy="575.1" r="1"/><circle cx="1111.9" cy="559.8" r="1"/><circle cx="1109.1" cy="566.7" r="1"/><circle cx="1109.2" cy="582.2" r="1"/><circle cx="1110.9" cy="553.5" r="1"/><circle cx="1112.6" cy="548.1" r="1"/><circle cx="1108.5" cy="560.3" r="1"/><circle cx="1109.3" cy="559.1" r="1"/><circle cx="1108.8" cy="582" r="1"/><circle cx="1110.5" cy="586.5" r="1"/><circle cx="1111.5" cy="584.1" r="1"/><circle cx="1117" cy="572.7" r="1"/><circle cx="1109.3" cy="563" r="1"/><circle cx="1115.5" cy="539.7" r="1"/><circle cx="1116.8" cy="590.6" r="1"/><circle cx="1107.8" cy="583.1" r="1"/><circle cx="1114" cy="563.2" r="1"/><circle cx="1117" cy="576.1" r="1"/><circle cx="1145" cy="585.8" r="1"/><circle cx="1141.9" cy="519" r="1"/><circle cx="1145.5" cy="546.1" r="1"/><circle cx="1143.8" cy="598" r="1"/><circle cx="1140.1" cy="510.5" r="1"/><circle cx="1139.9" cy="501" r="1"/><circle cx="1146" cy="595.1" r="1"/><circle cx="1144.8" cy="581.6" r="1"/><circle cx="1142.5" cy="479.3" r="1"/><circle cx="1140.2" cy="546.2" r="1"/><circle cx="1139.8" cy="553.2" r="1"/><circle cx="1142.8" cy="560.8" r="1"/><circle cx="1140.4" cy="550" r="1"/><circle cx="1143.2" cy="545" r="1"/><circle cx="1147.7" cy="549.4" r="1"/><circle cx="1140.9" cy="550.6" r="1"/><circle cx="1144.2" cy="491.6" r="1"/><circle cx="1142.3" cy="504.5" r="1"/><circle cx="1139.5" cy="517.2" r="1"/><circle cx="1140.1" cy="591" r="1"/><circle cx="1145" cy="535.9" r="1"/><circle cx="1147.6" cy="551" r="1"/><circle cx="1147" cy="600.5" r="1"/><circle cx="1141.4" cy="492.4" r="1"/><circle cx="1143.7" cy="506.7" r="1"/><circle cx="1146.4" cy="517.3" r="1"/><circle cx="1145.4" cy="589.4" r="1"/><circle cx="1140.8" cy="560.2" r="1"/><circle cx="1143.8" cy="498.5" r="1"/><circle cx="1141.1" cy="486.2" r="1"/><circle cx="1145.6" cy="503.2" r="1"/><circle cx="1141.2" cy="588.5" r="1"/><circle cx="1140.7" cy="531.9" r="1"/><circle cx="1138.9" cy="580.9" r="1"/><circle cx="1141" cy="576.7" r="1"/><circle cx="1146.2" cy="600" r="1"/><circle cx="1139.5" cy="543" r="1"/><circle cx="1141.9" cy="516.7" r="1"/><circle cx="1144.7" cy="540.2" r="1"/><circle cx="1141.9" cy="584.1" r="1"/><circle cx="1145.2" cy="596" r="1"/><circle cx="1146.5" cy="529" r="1"/><circle cx="1139.1" cy="537.3" r="1"/><circle cx="1143.7" cy="570.8" r="1"/><circle cx="1147.2" cy="529.1" r="1"/><circle cx="1140.4" cy="512.1" r="1"/><circle cx="1138.2" cy="517.4" r="1"/><circle cx="1171.7" cy="550.9" r="1"/><circle cx="1171.5" cy="530.5" r="1"/><circle cx="1178.7" cy="568.2" r="1"/><circle cx="1174.7" cy="562.6" r="1"/><circle cx="1177.3" cy="583.2" r="1"/><circle cx="1170.6" cy="567" r="1"/><circle cx="1170.2" cy="548.7" r="1"/><circle cx="1175.4" cy="522" r="1"/><circle cx="1175.9" cy="529.8" r="1"/><circle cx="1171.3" cy="578.8" r="1"/><circle cx="1179.7" cy="560.2" r="1"/><circle cx="1173.9" cy="494.2" r="1"/><circle cx="1179.7" cy="551.4" r="1"/><circle cx="1171.8" cy="568.9" r="1"/><circle cx="1179.4" cy="571.5" r="1"/><circle cx="1174.4" cy="574.9" r="1"/><circle cx="1176.5" cy="581.1" r="1"/><circle cx="1170.8" cy="550.7" r="1"/><circle cx="1173.3" cy="562.5" r="1"/><circle cx="1177.4" cy="488.2" r="1"/><circle cx="1175.9" cy="561.9" r="1"/><circle cx="1173.8" cy="552.1" r="1"/><circle cx="1177.8" cy="526.2" r="1"/><circle cx="1173.9" cy="531.5" r="1"/><circle cx="1172.6" cy="564.7" r="1"/><circle cx="1179.2" cy="528.5" r="1"/><circle cx="1179.3" cy="540.8" r="1"/><circle cx="1175.8" cy="542.5" r="1"/><circle cx="1172.6" cy="568.7" r="1"/><circle cx="1173.2" cy="523.3" r="1"/><circle cx="1175" cy="489.7" r="1"/><circle cx="1170.6" cy="521.2" r="1"/><circle cx="1246.5" cy="581.4" r="1"/><circle cx="1237.1" cy="526" r="1"/><circle cx="1243.2" cy="573" r="1"/><circle cx="1238.8" cy="570.5" r="1"/><circle cx="1239.6" cy="563.4" r="1"/><circle cx="1246.2" cy="560.8" r="1"/><circle cx="1239" cy="572.7" r="1"/><circle cx="1246.7" cy="527.8" r="1"/><circle cx="1237.7" cy="560" r="1"/><circle cx="1240.3" cy="566" r="1"/><circle cx="1240.6" cy="541.7" r="1"/><circle cx="1244.5" cy="571.7" r="1"/><circle cx="1247" cy="558.9" r="1"/><circle cx="1246.1" cy="529.5" r="1"/><circle cx="1239.9" cy="539.7" r="1"/><circle cx="1238.9" cy="559.9" r="1"/><circle cx="1241.9" cy="577.9" r="1"/><circle cx="1239.1" cy="584.9" r="1"/><circle cx="1237.8" cy="569.6" r="1"/><circle cx="1238.5" cy="524.8" r="1"/><circle cx="1238.8" cy="575.3" r="1"/><circle cx="1240.8" cy="592.3" r="1"/><circle cx="1270" cy="489.9" r="1"/><circle cx="1277.6" cy="540.4" r="1"/><circle cx="1275.2" cy="478.9" r="1"/><circle cx="1278.1" cy="560.7" r="1"/><circle cx="1277.9" cy="506.1" r="1"/><circle cx="1269.9" cy="600.1" r="1"/><circle cx="1276.9" cy="545.8" r="1"/><circle cx="1276" cy="565" r="1"/><circle cx="1277" cy="538.7" r="1"/><circle cx="1272.6" cy="539.3" r="1"/><circle cx="1277.2" cy="476.7" r="1"/><circle cx="1269.5" cy="589" r="1"/><circle cx="1277.1" cy="532.2" r="1"/><circle cx="1275" cy="529.7" r="1"/><circle cx="1276.6" cy="542.1" r="1"/><circle cx="1268.1" cy="520.9" r="1"/><circle cx="1278.1" cy="537.1" r="1"/><circle cx="1277" cy="533.4" r="1"/><circle cx="1272" cy="607" r="1"/><circle cx="1273.5" cy="589.8" r="1"/><circle cx="1271.9" cy="533.7" r="1"/><circle cx="1268.8" cy="586" r="1"/><circle cx="1270" cy="486.1" r="1"/><circle cx="1269.6" cy="560.2" r="1"/><circle cx="1277.8" cy="589" r="1"/><circle cx="1269.5" cy="526" r="1"/><circle cx="1269.2" cy="516.7" r="1"/><circle cx="1268.5" cy="580.5" r="1"/><circle cx="1270.9" cy="567.8" r="1"/><circle cx="1275.1" cy="606.6" r="1"/><circle cx="1274.8" cy="516.7" r="1"/><circle cx="1273.6" cy="514.4" r="1"/><circle cx="1271.5" cy="491.3" r="1"/><circle cx="1270.4" cy="538.2" r="1"/><circle cx="1268" cy="489.2" r="1"/><circle cx="1275.3" cy="564.1" r="1"/><circle cx="1273.9" cy="500.6" r="1"/><circle cx="1275.8" cy="549.3" r="1"/><circle cx="1268.7" cy="556.2" r="1"/><circle cx="1270.3" cy="500.6" r="1"/><circle cx="1269.1" cy="571.1" r="1"/><circle cx="1272.7" cy="611.1" r="1"/><circle cx="1269.7" cy="543.4" r="1"/><circle cx="1271.7" cy="555.6" r="1"/><circle cx="1272.7" cy="542.7" r="1"/><circle cx="1276.5" cy="608.3" r="1"/><circle cx="1271.5" cy="586.8" r="1"/><circle cx="1299.7" cy="608.3" r="1"/><circle cx="1300" cy="546.2" r="1"/><circle cx="1299.4" cy="539.4" r="1"/><circle cx="1307.1" cy="475.8" r="1"/><circle cx="1300" cy="502" r="1"/><circle cx="1306.6" cy="604.8" r="1"/><circle cx="1299.2" cy="563.5" r="1"/><circle cx="1304.8" cy="550.9" r="1"/><circle cx="1302.2" cy="518.4" r="1"/><circle cx="1301.6" cy="601.5" r="1"/><circle cx="1306.7" cy="489" r="1"/><circle cx="1302.2" cy="567.8" r="1"/><circle cx="1306.6" cy="564" r="1"/><circle cx="1302.7" cy="576.7" r="1"/><circle cx="1302.6" cy="577.3" r="1"/><circle cx="1302.2" cy="571.4" r="1"/><circle cx="1308.6" cy="560.1" r="1"/><circle cx="1309.1" cy="549.8" r="1"/><circle cx="1307.8" cy="583.1" r="1"/><circle cx="1304.3" cy="513.9" r="1"/><circle cx="1302.3" cy="535.7" r="1"/><circle cx="1301.4" cy="581" r="1"/><circle cx="1308.3" cy="592.9" r="1"/><circle cx="1305.1" cy="570.1" r="1"/><circle cx="1304.7" cy="493.4" r="1"/><circle cx="1308.3" cy="586.5" r="1"/><circle cx="1305.8" cy="608.7" r="1"/><circle cx="1309" cy="552.6" r="1"/><circle cx="1307" cy="546.6" r="1"/><circle cx="1301.1" cy="542.6" r="1"/><circle cx="1306.5" cy="565.4" r="1"/><circle cx="1307.3" cy="519.8" r="1"/><circle cx="1375.2" cy="545.8" r="1"/><circle cx="1370.8" cy="588.5" r="1"/><circle cx="1374.9" cy="565.5" r="1"/><circle cx="1375.8" cy="565" r="1"/><circle cx="1372.9" cy="556.8" r="1"/><circle cx="1371" cy="534.5" r="1"/><circle cx="1376.1" cy="537.1" r="1"/><circle cx="1368.1" cy="535.9" r="1"/><circle cx="1367" cy="572" r="1"/><circle cx="1369.4" cy="575.2" r="1"/><circle cx="1368.8" cy="584" r="1"/><circle cx="1373.1" cy="587.1" r="1"/><circle cx="1375.7" cy="547.4" r="1"/><circle cx="1368.7" cy="509.1" r="1"/><circle cx="1372.9" cy="572.1" r="1"/><circle cx="1374.5" cy="556.6" r="1"/><circle cx="1374.6" cy="582.1" r="1"/><circle cx="1373.1" cy="564.2" r="1"/><circle cx="1372" cy="562.5" r="1"/><circle cx="1376.3" cy="562.7" r="1"/><circle cx="1368.3" cy="557.5" r="1"/><circle cx="1376.5" cy="567.1" r="1"/><circle cx="1406.6" cy="533.8" r="1"/><circle cx="1400.5" cy="597.8" r="1"/><circle cx="1406.6" cy="580.4" r="1"/><circle cx="1406" cy="583.8" r="1"/><circle cx="1403.3" cy="593.6" r="1"/><circle cx="1407.1" cy="571.5" r="1"/><circle cx="1403" cy="588.7" r="1"/><circle cx="1402.1" cy="576.3" r="1"/><circle cx="1405.5" cy="558.4" r="1"/><circle cx="1402" cy="504.1" r="1"/><circle cx="1397.9" cy="562.2" r="1"/><circle cx="1406.6" cy="563.2" r="1"/><circle cx="1402.4" cy="576.3" r="1"/><circle cx="1406" cy="585.6" r="1"/><circle cx="1405.6" cy="569.2" r="1"/><circle cx="1405.1" cy="517.4" r="1"/><circle cx="1403.1" cy="518.3" r="1"/><circle cx="1407" cy="586.1" r="1"/><circle cx="1404.5" cy="586.8" r="1"/><circle cx="1401" cy="553.6" r="1"/><circle cx="1406.5" cy="513.7" r="1"/><circle cx="1402.8" cy="521.3" r="1"/><circle cx="1407.6" cy="521.5" r="1"/><circle cx="1402.5" cy="590" r="1"/><circle cx="1403" cy="554.4" r="1"/><circle cx="1402.3" cy="558.1" r="1"/><circle cx="1402.7" cy="581.6" r="1"/><circle cx="1401.1" cy="542" r="1"/><circle cx="1399.6" cy="562.5" r="1"/><circle cx="1400.2" cy="565.3" r="1"/><circle cx="1404" cy="555.2" r="1"/><circle cx="1405.9" cy="523.3" r="1"/><circle cx="1401.7" cy="555.6" r="1"/><circle cx="1406.9" cy="522.3" r="1"/><circle cx="1407.4" cy="548.6" r="1"/><circle cx="1406.3" cy="553.8" r="1"/><circle cx="1400.1" cy="534.5" r="1"/><circle cx="1398.2" cy="601.9" r="1"/><circle cx="1400.8" cy="571.8" r="1"/><circle cx="1398.1" cy="591.4" r="1"/><circle cx="1402.9" cy="591.6" r="1"/><circle cx="1398.1" cy="545.9" r="1"/><circle cx="1397.6" cy="527.8" r="1"/><circle cx="1405.6" cy="601" r="1"/><circle cx="1405.7" cy="561.2" r="1"/><circle cx="1403.1" cy="572.4" r="1"/><circle cx="1398" cy="585.6" r="1"/><circle cx="1434.4" cy="564.7" r="1"/><circle cx="1431.7" cy="577.8" r="1"/><circle cx="1434.7" cy="561.4" r="1"/><circle cx="1430.1" cy="552.6" r="1"/><circle cx="1432.3" cy="512.4" r="1"/><circle cx="1433.9" cy="555.7" r="1"/><circle cx="1431.3" cy="557" r="1"/><circle cx="1436.1" cy="583.6" r="1"/><circle cx="1428.7" cy="573.5" r="1"/><circle cx="1437.1" cy="584.6" r="1"/><circle cx="1432.6" cy="560.9" r="1"/><circle cx="1438" cy="552.3" r="1"/><circle cx="1436.8" cy="576.7" r="1"/><circle cx="1433.9" cy="559" r="1"/><circle cx="1429.5" cy="584.8" r="1"/><circle cx="1429.8" cy="567.1" r="1"/><circle cx="1435.8" cy="560.4" r="1"/><circle cx="1434.4" cy="585.4" r="1"/><circle cx="1429.2" cy="547.5" r="1"/><circle cx="1438.4" cy="582.5" r="1"/><circle cx="1435.6" cy="567.7" r="1"/><circle cx="1429.7" cy="528.4" r="1"/><circle cx="1433.1" cy="578.8" r="1"/><circle cx="1430.3" cy="578.3" r="1"/><circle cx="1433.3" cy="531.1" r="1"/><circle cx="1436.1" cy="570.5" r="1"/><circle cx="1432.6" cy="571.1" r="1"/><circle cx="1429.4" cy="583.2" r="1"/><circle cx="1436.6" cy="550.4" r="1"/><circle cx="1429.4" cy="575.5" r="1"/><circle cx="1436.7" cy="598" r="1"/><circle cx="1435.9" cy="505.1" r="1"/><circle cx="1502.9" cy="563.9" r="1"/><circle cx="1499.7" cy="549.2" r="1"/><circle cx="1499" cy="554.7" r="1"/><circle cx="1501.8" cy="546.3" r="1"/><circle cx="1498.4" cy="554.3" r="1"/><circle cx="1501.8" cy="554.7" r="1"/><circle cx="1499.4" cy="576.3" r="1"/><circle cx="1504.8" cy="571.3" r="1"/><circle cx="1498.6" cy="577.6" r="1"/><circle cx="1502.2" cy="584.9" r="1"/><circle cx="1504.5" cy="551.6" r="1"/><circle cx="1496.8" cy="566.1" r="1"/><circle cx="1504.2" cy="573.5" r="1"/><circle cx="1502.9" cy="529.4" r="1"/><circle cx="1498.8" cy="564.3" r="1"/><circle cx="1504.3" cy="557.8" r="1"/><circle cx="1503.9" cy="539.9" r="1"/><circle cx="1505.2" cy="559.7" r="1"/><circle cx="1502.3" cy="562.1" r="1"/><circle cx="1500.7" cy="560.7" r="1"/><circle cx="1500.7" cy="496.6" r="1"/><circle cx="1499.4" cy="576" r="1"/><circle cx="1535.8" cy="520.3" r="1"/><circle cx="1537.4" cy="569.3" r="1"/><circle cx="1535.9" cy="495.5" r="1"/><circle cx="1527.8" cy="547.2" r="1"/><circle cx="1529.1" cy="480.6" r="1"/><circle cx="1531.1" cy="543.5" r="1"/><circle cx="1527.7" cy="552.5" r="1"/><circle cx="1529.8" cy="525" r="1"/><circle cx="1535" cy="559.1" r="1"/><circle cx="1531.4" cy="534.6" r="1"/><circle cx="1528.6" cy="479.7" r="1"/><circle cx="1535.6" cy="476.4" r="1"/><circle cx="1532.1" cy="477.8" r="1"/><circle cx="1534.8" cy="519.6" r="1"/><circle cx="1537.5" cy="587.9" r="1"/><circle cx="1530.5" cy="518" r="1"/><circle cx="1535.2" cy="569.8" r="1"/><circle cx="1530.3" cy="552.1" r="1"/><circle cx="1537.4" cy="558.8" r="1"/><circle cx="1528" cy="552.9" r="1"/><circle cx="1536.1" cy="502.8" r="1"/><circle cx="1532.2" cy="578.2" r="1"/><circle cx="1533.3" cy="528.1" r="1"/><circle cx="1534.9" cy="589.3" r="1"/><circle cx="1536.7" cy="469.9" r="1"/><circle cx="1536.6" cy="489" r="1"/><circle cx="1530.5" cy="492.5" r="1"/><circle cx="1529.5" cy="560.1" r="1"/><circle cx="1534.1" cy="488.6" r="1"/><circle cx="1535.7" cy="529.3" r="1"/><circle cx="1531.9" cy="538.8" r="1"/><circle cx="1536" cy="537.9" r="1"/><circle cx="1533.6" cy="514.5" r="1"/><circle cx="1535.2" cy="579.5" r="1"/><circle cx="1529.4" cy="532.6" r="1"/><circle cx="1531.6" cy="497.9" r="1"/><circle cx="1530.4" cy="543" r="1"/><circle cx="1529.5" cy="489.6" r="1"/><circle cx="1536.6" cy="554.1" r="1"/><circle cx="1531.8" cy="498.5" r="1"/><circle cx="1535.6" cy="581" r="1"/><circle cx="1536.5" cy="483.4" r="1"/><circle cx="1535.1" cy="516.5" r="1"/><circle cx="1533.3" cy="504.1" r="1"/><circle cx="1530.2" cy="544.4" r="1"/><circle cx="1530.2" cy="526.9" r="1"/><circle cx="1534.6" cy="532" r="1"/><circle cx="1561.7" cy="548.9" r="1"/><circle cx="1559.5" cy="566.9" r="1"/><circle cx="1565.6" cy="526.5" r="1"/><circle cx="1566.1" cy="534.9" r="1"/><circle cx="1566.4" cy="525.4" r="1"/><circle cx="1560.3" cy="505" r="1"/><circle cx="1559" cy="568" r="1"/><circle cx="1565.6" cy="606.1" r="1"/><circle cx="1561.4" cy="601.6" r="1"/><circle cx="1562.5" cy="613.3" r="1"/><circle cx="1568.2" cy="496.4" r="1"/><circle cx="1567.2" cy="577.8" r="1"/><circle cx="1559.8" cy="487.2" r="1"/><circle cx="1566.7" cy="588.7" r="1"/><circle cx="1563.6" cy="591.4" r="1"/><circle cx="1565" cy="552.8" r="1"/><circle cx="1563.3" cy="621" r="1"/><circle cx="1567.6" cy="551" r="1"/><circle cx="1564.8" cy="558.3" r="1"/><circle cx="1566.2" cy="536.7" r="1"/><circle cx="1566.5" cy="588.9" r="1"/><circle cx="1563.9" cy="561.6" r="1"/><circle cx="1560.9" cy="555" r="1"/><circle cx="1564.2" cy="546.6" r="1"/><circle cx="1559.2" cy="582.2" r="1"/><circle cx="1567.7" cy="485.9" r="1"/><circle cx="1562.2" cy="568.7" r="1"/><circle cx="1568.3" cy="486.5" r="1"/><circle cx="1559.5" cy="520.2" r="1"/><circle cx="1564" cy="473.4" r="1"/><circle cx="1565.7" cy="556.9" r="1"/><circle cx="1561.1" cy="607.3" r="1"/><circle cx="1631" cy="550.6" r="1"/><circle cx="1631.5" cy="540.9" r="1"/><circle cx="1625.7" cy="566.9" r="1"/><circle cx="1632.6" cy="514.9" r="1"/><circle cx="1634.1" cy="558.6" r="1"/><circle cx="1634.8" cy="563" r="1"/><circle cx="1630.1" cy="537" r="1"/><circle cx="1633.8" cy="588.7" r="1"/><circle cx="1627.7" cy="560" r="1"/><circle cx="1632" cy="570.3" r="1"/><circle cx="1633" cy="541" r="1"/><circle cx="1634.3" cy="595.8" r="1"/><circle cx="1627.9" cy="548.1" r="1"/><circle cx="1626.3" cy="564.7" r="1"/><circle cx="1625.7" cy="538.3" r="1"/><circle cx="1632.5" cy="546.4" r="1"/><circle cx="1628.2" cy="544.3" r="1"/><circle cx="1634.2" cy="560.6" r="1"/><circle cx="1625.7" cy="538" r="1"/><circle cx="1627.2" cy="564" r="1"/><circle cx="1633" cy="569.2" r="1"/><circle cx="1630.7" cy="548.1" r="1"/><circle cx="1665.3" cy="573.5" r="1"/><circle cx="1663.6" cy="495.3" r="1"/><circle cx="1659.2" cy="553.6" r="1"/><circle cx="1664.9" cy="577.8" r="1"/><circle cx="1658.5" cy="557.9" r="1"/><circle cx="1661" cy="472.3" r="1"/><circle cx="1659" cy="493.5" r="1"/><circle cx="1657.7" cy="486.1" r="1"/><circle cx="1663.5" cy="507.4" r="1"/><circle cx="1658.5" cy="550.3" r="1"/><circle cx="1663.1" cy="599.7" r="1"/><circle cx="1663.2" cy="535.8" r="1"/><circle cx="1665.7" cy="575.8" r="1"/><circle cx="1657.6" cy="526.7" r="1"/><circle cx="1660.3" cy="602.9" r="1"/><circle cx="1659.1" cy="537.4" r="1"/><circle cx="1657.5" cy="517.7" r="1"/><circle cx="1656.7" cy="517.3" r="1"/><circle cx="1659.1" cy="504.2" r="1"/><circle cx="1664.2" cy="496.3" r="1"/><circle cx="1662.9" cy="594.1" r="1"/><circle cx="1665.5" cy="568.3" r="1"/><circle cx="1663.4" cy="510" r="1"/><circle cx="1663.3" cy="556.3" r="1"/><circle cx="1658.2" cy="544.3" r="1"/><circle cx="1665.4" cy="494.3" r="1"/><circle cx="1659.2" cy="608.4" r="1"/><circle cx="1660.2" cy="523.1" r="1"/><circle cx="1658" cy="553.5" r="1"/><circle cx="1662.2" cy="535" r="1"/><circle cx="1658.8" cy="545.8" r="1"/><circle cx="1658" cy="609.2" r="1"/><circle cx="1663.4" cy="572.7" r="1"/><circle cx="1665.8" cy="522.7" r="1"/><circle cx="1666.6" cy="565.8" r="1"/><circle cx="1664.5" cy="544.3" r="1"/><circle cx="1666.1" cy="522.5" r="1"/><circle cx="1664.8" cy="552.2" r="1"/><circle cx="1662.7" cy="522.9" r="1"/><circle cx="1657.1" cy="578.3" r="1"/><circle cx="1660.4" cy="528.8" r="1"/><circle cx="1662" cy="500.4" r="1"/><circle cx="1659.3" cy="585.4" r="1"/><circle cx="1657.9" cy="513.8" r="1"/><circle cx="1665.8" cy="567" r="1"/><circle cx="1658.4" cy="585.1" r="1"/><circle cx="1661.9" cy="569" r="1"/><circle cx="1689" cy="601.4" r="1"/><circle cx="1695.9" cy="547.7" r="1"/><circle cx="1694.3" cy="555.4" r="1"/><circle cx="1690.9" cy="574" r="1"/><circle cx="1688.7" cy="529.2" r="1"/><circle cx="1692" cy="607.1" r="1"/><circle cx="1690.7" cy="575.5" r="1"/><circle cx="1697" cy="577.5" r="1"/><circle cx="1689.6" cy="570.6" r="1"/><circle cx="1694.4" cy="564.8" r="1"/><circle cx="1690.4" cy="539.2" r="1"/><circle cx="1695.8" cy="527.8" r="1"/><circle cx="1687.9" cy="545.9" r="1"/><circle cx="1694.1" cy="498.5" r="1"/><circle cx="1688.5" cy="573.7" r="1"/><circle cx="1694.9" cy="538.2" r="1"/><circle cx="1690.5" cy="597.4" r="1"/><circle cx="1692.4" cy="528.2" r="1"/><circle cx="1691.2" cy="551.5" r="1"/><circle cx="1688.2" cy="591.2" r="1"/><circle cx="1692.3" cy="574" r="1"/><circle cx="1696.1" cy="558.8" r="1"/><circle cx="1692.4" cy="580.9" r="1"/><circle cx="1689.1" cy="557.8" r="1"/><circle cx="1688.6" cy="535.4" r="1"/><circle cx="1697.7" cy="605.2" r="1"/><circle cx="1688.8" cy="592.5" r="1"/><circle cx="1688.2" cy="581.9" r="1"/><circle cx="1688.5" cy="548.5" r="1"/><circle cx="1696.5" cy="565.6" r="1"/><circle cx="1689.8" cy="523.7" r="1"/><circle cx="1691.8" cy="504.5" r="1"/><circle cx="1762.5" cy="585.3" r="1"/><circle cx="1760.1" cy="552.5" r="1"/><circle cx="1764.4" cy="541.5" r="1"/><circle cx="1761.8" cy="571" r="1"/><circle cx="1757.7" cy="557.8" r="1"/><circle cx="1762.7" cy="564.3" r="1"/><circle cx="1763.5" cy="531.6" r="1"/><circle cx="1756.1" cy="554.6" r="1"/><circle cx="1759.3" cy="552.2" r="1"/><circle cx="1757.7" cy="546.8" r="1"/><circle cx="1758.1" cy="538.8" r="1"/><circle cx="1756.8" cy="577.3" r="1"/><circle cx="1764.8" cy="569" r="1"/><circle cx="1760.8" cy="560" r="1"/><circle cx="1764.6" cy="544.1" r="1"/><circle cx="1758.4" cy="562.8" r="1"/><circle cx="1760.6" cy="552.2" r="1"/><circle cx="1755.1" cy="514.7" r="1"/><circle cx="1757.5" cy="562.4" r="1"/><circle cx="1763.3" cy="564.3" r="1"/><circle cx="1761.1" cy="587.2" r="1"/><circle cx="1762.2" cy="573.7" r="1"/><circle cx="1794" cy="495.6" r="1"/><circle cx="1794.3" cy="526.5" r="1"/><circle cx="1791.1" cy="486.8" r="1"/><circle cx="1791.4" cy="493.6" r="1"/><circle cx="1786.4" cy="541.9" r="1"/><circle cx="1786.6" cy="514.9" r="1"/><circle cx="1794.3" cy="491.9" r="1"/><circle cx="1794.8" cy="558.1" r="1"/><circle cx="1795.5" cy="593.6" r="1"/><circle cx="1786.4" cy="581.2" r="1"/><circle cx="1792.7" cy="489.9" r="1"/><circle cx="1792.7" cy="524.9" r="1"/><circle cx="1792.3" cy="486.2" r="1"/><circle cx="1787.5" cy="536.6" r="1"/><circle cx="1796.2" cy="597" r="1"/><circle cx="1788.8" cy="513.3" r="1"/><circle cx="1789.9" cy="568.8" r="1"/><circle cx="1792.2" cy="545.4" r="1"/><circle cx="1793.2" cy="546.9" r="1"/><circle cx="1789.5" cy="582" r="1"/><circle cx="1786.6" cy="526.2" r="1"/><circle cx="1792.5" cy="527.6" r="1"/><circle cx="1788.2" cy="570.3" r="1"/><circle cx="1789.4" cy="506.1" r="1"/><circle cx="1786.6" cy="500.8" r="1"/><circle cx="1792.2" cy="536" r="1"/><circle cx="1795.1" cy="534.6" r="1"/><circle cx="1788.1" cy="525.4" r="1"/><circle cx="1793" cy="519.5" r="1"/><circle cx="1791.2" cy="587.9" r="1"/><circle cx="1787.1" cy="535.8" r="1"/><circle cx="1790.9" cy="525.8" r="1"/><circle cx="1789.8" cy="576.4" r="1"/><circle cx="1792.9" cy="582.9" r="1"/><circle cx="1790.1" cy="565.9" r="1"/><circle cx="1793.6" cy="603.2" r="1"/><circle cx="1792.3" cy="503.8" r="1"/><circle cx="1787" cy="539.8" r="1"/><circle cx="1793.5" cy="579" r="1"/><circle cx="1787.9" cy="604.8" r="1"/><circle cx="1789.2" cy="513.6" r="1"/><circle cx="1794.3" cy="570.5" r="1"/><circle cx="1788.1" cy="515.5" r="1"/><circle cx="1794" cy="534.6" r="1"/><circle cx="1793.6" cy="571.5" r="1"/><circle cx="1788.9" cy="574.2" r="1"/><circle cx="1786.6" cy="491.4" r="1"/><circle cx="1818" cy="532.2" r="1"/><circle cx="1818" cy="609.8" r="1"/><circle cx="1825.5" cy="565.1" r="1"/><circle cx="1818.7" cy="566.4" r="1"/><circle cx="1826.5" cy="532" r="1"/><circle cx="1819.7" cy="554.5" r="1"/><circle cx="1817.5" cy="534.3" r="1"/><circle cx="1826.9" cy="514.7" r="1"/><circle cx="1827.2" cy="535.8" r="1"/><circle cx="1821" cy="564.4" r="1"/><circle cx="1825.8" cy="560.8" r="1"/><circle cx="1821.2" cy="560.8" r="1"/><circle cx="1817.5" cy="543.3" r="1"/><circle cx="1817.4" cy="553" r="1"/><circle cx="1823.4" cy="596.1" r="1"/><circle cx="1825.1" cy="601.9" r="1"/><circle cx="1817.3" cy="599.6" r="1"/><circle cx="1825.6" cy="530.4" r="1"/><circle cx="1825.9" cy="570.8" r="1"/><circle cx="1819.9" cy="584" r="1"/><circle cx="1822" cy="540.7" r="1"/><circle cx="1827.1" cy="557.3" r="1"/><circle cx="1819.4" cy="593.1" r="1"/><circle cx="1822.8" cy="578.2" r="1"/><circle cx="1821.3" cy="580.5" r="1"/><circle cx="1823.4" cy="504" r="1"/><circle cx="1818.7" cy="498.6" r="1"/><circle cx="1821.7" cy="576.6" r="1"/><circle cx="1825.6" cy="565.8" r="1"/><circle cx="1820.4" cy="520" r="1"/><circle cx="1819.3" cy="482.7" r="1"/><circle cx="1822.2" cy="530.4" r="1"/></g>
<g><rect x="1115" y="545.3" width="5.6" height="31.3" fill="#40e0d0"/><rect x="1146.2" y="519.4" width="5.6" height="53.2" fill="#1e90ff"/><rect x="1177.4" y="536.1" width="5.6" height="34.7" fill="#f08080"/><rect x="1244.8" y="551.5" width="5.6" height="30" fill="#40e0d0"/><rect x="1275.8" y="533.9" width="5.6" height="45.3" fill="#1e90ff"/><rect x="1307.1" y="537.6" width="5.6" height="47.1" fill="#f08080"/><rect x="1374.5" y="554.6" width="5.6" height="18.9" fill="#40e0d0"/><rect x="1405.4" y="539" width="5.6" height="39.7" fill="#1e90ff"/><rect x="1436.4" y="553.9" width="5.6" height="35.4" fill="#f08080"/><rect x="1504" y="549.1" width="5.6" height="11.5" fill="#40e0d0"/><rect x="1535.4" y="510.7" width="5.6" height="55.5" fill="#1e90ff"/><rect x="1566" y="533.9" width="5.6" height="55.5" fill="#f08080"/><rect x="1633.4" y="557.6" width="5.6" height="23.4" fill="#40e0d0"/><rect x="1664.5" y="527.4" width="5.6" height="50.3" fill="#1e90ff"/><rect x="1696" y="549.6" width="5.6" height="37.8" fill="#f08080"/><rect x="1763.2" y="549.1" width="5.6" height="13.4" fill="#40e0d0"/><rect x="1794.5" y="525.5" width="5.6" height="47.1" fill="#1e90ff"/><rect x="1825.5" y="532" width="5.6" height="46.7" fill="#f08080"/></g>
<g><polyline points="1118,557 1247.8,567.1 1377.1,554.6" fill="none" stroke="#40e0d0" stroke-opacity="0.6" stroke-width="1"/><polyline points="1507.1,561.5 1636.2,564.6 1766,562.4" fill="none" stroke="#40e0d0" stroke-opacity="0.6" stroke-width="1"/><polyline points="1149,546.5 1278.8,546.5 1408.2,539" fill="none" stroke="#1e90ff" stroke-opacity="0.6" stroke-width="1"/><polyline points="1538.1,558.7 1667.7,554.6 1796.9,541.6" fill="none" stroke="#1e90ff" stroke-opacity="0.6" stroke-width="1"/><polyline points="1180.3,557 1310,566.1 1439.2,553.9" fill="none" stroke="#f08080" stroke-opacity="0.6" stroke-width="1"/><polyline points="1569.4,568.4 1698.3,556.9 1828.5,548.3" fill="none" stroke="#f08080" stroke-opacity="0.6" stroke-width="1"/></g>
<g><circle cx="1118" cy="557" r="5.3" fill="#40e0d0" stroke="#12403b" stroke-width="0.9"/><circle cx="1149" cy="546.5" r="5.3" fill="#1e90ff" stroke="#0a2a4d" stroke-width="0.9"/><circle cx="1180.3" cy="557" r="5.3" fill="#f08080" stroke="#4a2424" stroke-width="0.9"/><circle cx="1247.8" cy="567.1" r="5.3" fill="#40e0d0" stroke="#12403b" stroke-width="0.9"/><circle cx="1278.8" cy="546.5" r="5.3" fill="#1e90ff" stroke="#0a2a4d" stroke-width="0.9"/><circle cx="1310" cy="566.1" r="5.3" fill="#f08080" stroke="#4a2424" stroke-width="0.9"/><circle cx="1377.1" cy="554.6" r="5.3" fill="#40e0d0" stroke="#12403b" stroke-width="0.9"/><circle cx="1408.2" cy="539" r="5.3" fill="#1e90ff" stroke="#0a2a4d" stroke-width="0.9"/><circle cx="1439.2" cy="553.9" r="5.3" fill="#f08080" stroke="#4a2424" stroke-width="0.9"/><circle cx="1507.1" cy="561.5" r="5.3" fill="#40e0d0" stroke="#12403b" stroke-width="0.9"/><circle cx="1538.1" cy="558.7" r="5.3" fill="#1e90ff" stroke="#0a2a4d" stroke-width="0.9"/><circle cx="1569.4" cy="568.4" r="5.3" fill="#f08080" stroke="#4a2424" stroke-width="0.9"/><circle cx="1636.2" cy="564.6" r="5.3" fill="#40e0d0" stroke="#12403b" stroke-width="0.9"/><circle cx="1667.7" cy="554.6" r="5.3" fill="#1e90ff" stroke="#0a2a4d" stroke-width="0.9"/><circle cx="1698.3" cy="556.9" r="5.3" fill="#f08080" stroke="#4a2424" stroke-width="0.9"/><circle cx="1766" cy="562.4" r="5.3" fill="#40e0d0" stroke="#12403b" stroke-width="0.9"/><circle cx="1796.9" cy="541.6" r="5.3" fill="#1e90ff" stroke="#0a2a4d" stroke-width="0.9"/><circle cx="1828.5" cy="548.3" r="5.3" fill="#f08080" stroke="#4a2424" stroke-width="0.9"/></g>
</g>
<text class="t" x="51.6" y="326.4" text-anchor="end">0</text>
<text class="t" x="51.6" y="275.6" text-anchor="end">0.2</text>
<text class="t" x="51.6" y="224.8" text-anchor="end">0.4</text>
<text class="t" x="51.6" y="174" text-anchor="end">0.6</text>
<text class="t" x="51.6" y="123.2" text-anchor="end">0.8</text>
<text class="t" x="51.6" y="72.4" text-anchor="end">1</text>
<text class="t" transform="translate(16.2 192) rotate(-90)" text-anchor="middle">Max Peak Amplitude (a.u.)</text>
<text class="t" x="192.8" y="344.3" text-anchor="middle">0 back T</text>
<text class="t" x="332.2" y="344.3" text-anchor="middle">1 back T</text>
<text class="t" x="468.4" y="344.3" text-anchor="middle">2 back T</text>
<text class="t" x="594.8" y="344.3" text-anchor="middle">0 back D</text>
<text class="t" x="723.7" y="344.3" text-anchor="middle">1 back D</text>
<text class="t" x="852.9" y="344.3" text-anchor="middle">2 back D</text>
<text class="t" x="51.6" y="665.7" text-anchor="end">0</text>
<text class="t" x="51.6" y="625.8" text-anchor="end">0.1</text>
<text class="t" x="51.6" y="585.9" text-anchor="end">0.2</text>
<text class="t" x="51.6" y="546" text-anchor="end">0.3</text>
<text class="t" x="51.6" y="506.1" text-anchor="end">0.4</text>
<text class="t" x="51.6" y="466.2" text-anchor="end">0.5</text>
<text class="t" x="51.6" y="426.3" text-anchor="end">0.6</text>
<text class="t" transform="translate(16.2 545) rotate(-90)" text-anchor="middle">Max Peak Latency (ms)</text>
<text class="t" x="192.8" y="697.5" text-anchor="middle">0 back T</text>
<text class="t" x="332.2" y="697.5" text-anchor="middle">1 back T</text>
<text class="t" x="468.4" y="697.5" text-anchor="middle">2 back T</text>
<text class="t" x="594.8" y="697.5" text-anchor="middle">0 back D</text>
<text class="t" x="723.7" y="697.5" text-anchor="middle">1 back D</text>
<text class="t" x="852.9" y="697.5" text-anchor="middle">2 back D</text>
<text class="t" x="991.6" y="325.9" text-anchor="end">0</text>
<text class="t" x="991.6" y="275.1" text-anchor="end">0.2</text>
<text class="t" x="991.6" y="224.3" text-anchor="end">0.4</text>
<text class="t" x="991.6" y="173.5" text-anchor="end">0.6</text>
<text class="t" x="991.6" y="122.7" text-anchor="end">0.8</text>
<text class="t" x="991.6" y="71.9" text-anchor="end">1</text>
<text class="t" transform="translate(956.4 192) rotate(-90)" text-anchor="middle">Max Peak Amplitude (a.u.)</text>
<text class="t" x="1133.7" y="344.3" text-anchor="middle">0 back T</text>
<text class="t" x="1273.7" y="344.3" text-anchor="middle">1 back T</text>
<text class="t" x="1410.6" y="344.3" text-anchor="middle">2 back T</text>
<text class="t" x="1537.5" y="344.3" text-anchor="middle">0 back D</text>
<text class="t" x="1667.5" y="344.3" text-anchor="middle">1 back D</text>
<text class="t" x="1797.3" y="344.3" text-anchor="middle">2 back D</text>
<text class="t" x="991.6" y="681.4" text-anchor="end">0</text>
<text class="t" x="991.6" y="630.4" text-anchor="end">0.2</text>
<text class="t" x="991.6" y="579.4" text-anchor="end">0.4</text>
<text class="t" x="991.6" y="528.4" text-anchor="end">0.6</text>
<text class="t" x="991.6" y="477.4" text-anchor="end">0.8</text>
<text class="t" x="991.6" y="426.4" text-anchor="end">1</text>
<text class="t" transform="translate(956.4 545) rotate(-90)" text-anchor="middle">Max Peak Latency (ms)</text>
<text class="t" x="1133.7" y="699.5" text-anchor="middle">0 back T</text>
<text class="t" x="1273.7" y="699.5" text-anchor="middle">1 back T</text>
<text class="t" x="1410.6" y="699.5" text-anchor="middle">2 back T</text>
<text class="t" x="1537.5" y="699.5" text-anchor="middle">0 back D</text>
<text class="t" x="1667.5" y="699.5" text-anchor="middle">1 back D</text>
<text class="t" x="1797.3" y="699.5" text-anchor="middle">2 back D</text>
<path d="M174 86.3 L174 73.7 Q174 71.5 176.2 71.5 L238.5 71.5 Q240.7 71.5 240.7 73.7 L240.7 86.3" fill="none" stroke="#c55005" stroke-width="3.4"/>
<text transform="translate(205.3 60.8) scale(0.9 1)" y="12.4" class="star" style="fill:#c55005">*</text>
<path d="M302 86.3 L302 73.7 Q302 71.5 304.2 71.5 L367.2 71.5 Q369.4 71.5 369.4 73.7 L369.4 86.3" fill="none" stroke="#c55005" stroke-width="3.4"/>
<text transform="translate(333.1 60.7) scale(0.9 1)" y="12.4" class="star" style="fill:#c55005">*</text>
<path d="M430.4 86.3 L430.4 73.1 Q430.4 70.9 432.6 70.9 L496.2 70.9 Q498.4 70.9 498.4 73.1 L498.4 86.3" fill="none" stroke="#c55005" stroke-width="3.4"/>
<text transform="translate(463.7 60.3) scale(0.9 1)" y="12.4" class="star" style="fill:#c55005">*</text>
<path d="M556.2 86.3 L556.2 73.7 Q556.2 71.5 558.4 71.5 L621.5 71.5 Q623.7 71.5 623.7 73.7 L623.7 86.3" fill="none" stroke="#c55005" stroke-width="3.4"/>
<text transform="translate(589.5 61.7) scale(0.9 1)" y="12.4" class="star" style="fill:#c55005">*</text>
<path d="M687.9 86.3 L687.9 73.7 Q687.9 71.5 690.1 71.5 L753.1 71.5 Q755.3 71.5 755.3 73.7 L755.3 86.3" fill="none" stroke="#c55005" stroke-width="3.4"/>
<text transform="translate(721.5 61.3) scale(0.9 1)" y="12.4" class="star" style="fill:#c55005">*</text>
<path d="M818.3 86.3 L818.3 73.7 Q818.3 71.5 820.5 71.5 L883.8 71.5 Q886 71.5 886 73.7 L886 86.3" fill="none" stroke="#c55005" stroke-width="3.4"/>
<text transform="translate(849.5 61.3) scale(0.9 1)" y="12.4" class="star" style="fill:#c55005">*</text>
<path d="M336.8 109.2 L336.8 96.1 Q336.8 93.9 339 93.9 L367.5 93.9 Q369.7 93.9 369.7 96.1 L369.7 109.2" fill="none" stroke="#bf9000" stroke-width="3.4"/>
<text transform="translate(354 85.6) scale(0.9 1)" y="12.4" class="star" style="fill:#bf9000">*</text>
<path d="M584 109.2 L584 96.1 Q584 93.9 586.2 93.9 L621.7 93.9 Q623.9 93.9 623.9 96.1 L623.9 109.2" fill="none" stroke="#bf9000" stroke-width="3.4"/>
<text transform="translate(605.4 85.6) scale(0.9 1)" y="12.4" class="star" style="fill:#bf9000">*</text>
<path d="M721.6 109.2 L721.6 96.1 Q721.6 93.9 723.8 93.9 L759.3 93.9 Q761.5 93.9 761.5 96.1 L761.5 109.2" fill="none" stroke="#bf9000" stroke-width="3.4"/>
<text transform="translate(738.7 85.6) scale(0.9 1)" y="12.4" class="star" style="fill:#bf9000">*</text>
<path d="M555.2 130.5 L555.2 117.3 Q555.2 115.1 557.4 115.1 L593 115.1 Q595.2 115.1 595.2 117.3 L595.2 130.5" fill="none" stroke="#1b4f7a" stroke-width="3.4"/>
<text transform="translate(573.7 107) scale(0.9 1)" y="12.4" class="star" style="fill:#1c2e66">*</text>
<path d="M810.6 130.5 L810.6 117.3 Q810.6 115.1 812.8 115.1 L847.8 115.1 Q850 115.1 850 117.3 L850 130.5" fill="none" stroke="#1b4f7a" stroke-width="3.4"/>
<text transform="translate(829.1 107) scale(0.9 1)" y="12.4" class="star" style="fill:#1c2e66">*</text>
<path d="M1119.4 84.6 L1119.4 72.5 Q1119.4 70.3 1121.6 70.3 L1184.3 70.3 Q1186.5 70.3 1186.5 72.5 L1186.5 84.6" fill="none" stroke="#c55005" stroke-width="3.4"/>
<text transform="translate(1151.4 60) scale(0.9 1)" y="12.4" class="star" style="fill:#c55005">*</text>
<path d="M1247.8 84.5 L1247.8 72.4 Q1247.8 70.2 1250 70.2 L1313.1 70.2 Q1315.3 70.2 1315.3 72.4 L1315.3 84.5" fill="none" stroke="#c55005" stroke-width="3.4"/>
<text transform="translate(1279.2 59.3) scale(0.9 1)" y="12.4" class="star" style="fill:#c55005">*</text>
<path d="M1376.5 83.6 L1376.5 71.5 Q1376.5 69.3 1378.7 69.3 L1441.9 69.3 Q1444.1 69.3 1444.1 71.5 L1444.1 83.6" fill="none" stroke="#c55005" stroke-width="3.4"/>
<text transform="translate(1409.6 59.3) scale(0.9 1)" y="12.4" class="star" style="fill:#c55005">*</text>
<path d="M1502.2 84.5 L1502.2 72.4 Q1502.2 70.2 1504.4 70.2 L1567.3 70.2 Q1569.5 70.2 1569.5 72.4 L1569.5 84.5" fill="none" stroke="#c55005" stroke-width="3.4"/>
<text transform="translate(1534.7 60.5) scale(0.9 1)" y="12.4" class="star" style="fill:#c55005">*</text>
<path d="M1634 84.7 L1634 72.6 Q1634 70.4 1636.2 70.4 L1699 70.4 Q1701.2 70.4 1701.2 72.6 L1701.2 84.7" fill="none" stroke="#c55005" stroke-width="3.4"/>
<text transform="translate(1666.9 60.8) scale(0.9 1)" y="12.4" class="star" style="fill:#c55005">*</text>
<path d="M1764.3 84.7 L1764.3 72.6 Q1764.3 70.4 1766.5 70.4 L1829.3 70.4 Q1831.5 70.4 1831.5 72.6 L1831.5 84.7" fill="none" stroke="#c55005" stroke-width="3.4"/>
<text transform="translate(1795.1 60.5) scale(0.9 1)" y="12.4" class="star" style="fill:#c55005">*</text>
<path d="M1118.5 112.5 L1118.5 100.2 Q1118.5 98 1120.7 98 L1150 98 Q1152.2 98 1152.2 100.2 L1152.2 112.5" fill="none" stroke="#1b4f7a" stroke-width="3.4"/>
<text transform="translate(1134.8 89.4) scale(0.9 1)" y="12.4" class="star" style="fill:#1c2e66">*</text>
<path d="M1500.9 112.5 L1500.9 100.2 Q1500.9 98 1503.1 98 L1532.4 98 Q1534.6 98 1534.6 100.2 L1534.6 112.5" fill="none" stroke="#1b4f7a" stroke-width="3.4"/>
<text transform="translate(1517.5 89.4) scale(0.9 1)" y="12.4" class="star" style="fill:#1c2e66">*</text>
<rect x="1855.7" y="104.6" width="121.3" height="59" fill="#fff" stroke="#5a5a5a" stroke-width="0.9"/>
<line x1="1859.2" y1="115.5" x2="1903.9" y2="115.5" stroke="#40e0d0" stroke-opacity="0.5" stroke-width="1.1"/>
<circle cx="1881.8" cy="115.5" r="6.3" fill="#40e0d0"/>
<text class="lg" x="1908.3" y="120.9">MS BZD+</text>
<line x1="1859.2" y1="134.6" x2="1903.9" y2="134.6" stroke="#1e90ff" stroke-opacity="0.5" stroke-width="1.1"/>
<circle cx="1881.8" cy="134.6" r="6.3" fill="#1e90ff"/>
<text class="lg" x="1908.3" y="140">MS BZD-</text>
<line x1="1859.2" y1="152.8" x2="1903.9" y2="152.8" stroke="#f08080" stroke-opacity="0.5" stroke-width="1.1"/>
<circle cx="1881.8" cy="152.8" r="6.3" fill="#f08080"/>
<text class="lg" x="1908.3" y="158.2">HC</text>
<rect x="1855.2" y="467.5" width="121.6" height="58.6" fill="#fff" stroke="#5a5a5a" stroke-width="0.9"/>
<line x1="1859.2" y1="478.1" x2="1903.9" y2="478.1" stroke="#40e0d0" stroke-opacity="0.5" stroke-width="1.1"/>
<circle cx="1881.8" cy="478.1" r="6.3" fill="#40e0d0"/>
<text class="lg" x="1908.3" y="483.5">MS BZD+</text>
<line x1="1859.2" y1="497" x2="1903.9" y2="497" stroke="#1e90ff" stroke-opacity="0.5" stroke-width="1.1"/>
<circle cx="1881.8" cy="497" r="6.3" fill="#1e90ff"/>
<text class="lg" x="1908.3" y="502.4">MS BZD-</text>
<line x1="1859.2" y1="515.3" x2="1903.9" y2="515.3" stroke="#f08080" stroke-opacity="0.5" stroke-width="1.1"/>
<circle cx="1881.8" cy="515.3" r="6.3" fill="#f08080"/>
<text class="lg" x="1908.3" y="520.7">HC</text>
</svg></body></html>
